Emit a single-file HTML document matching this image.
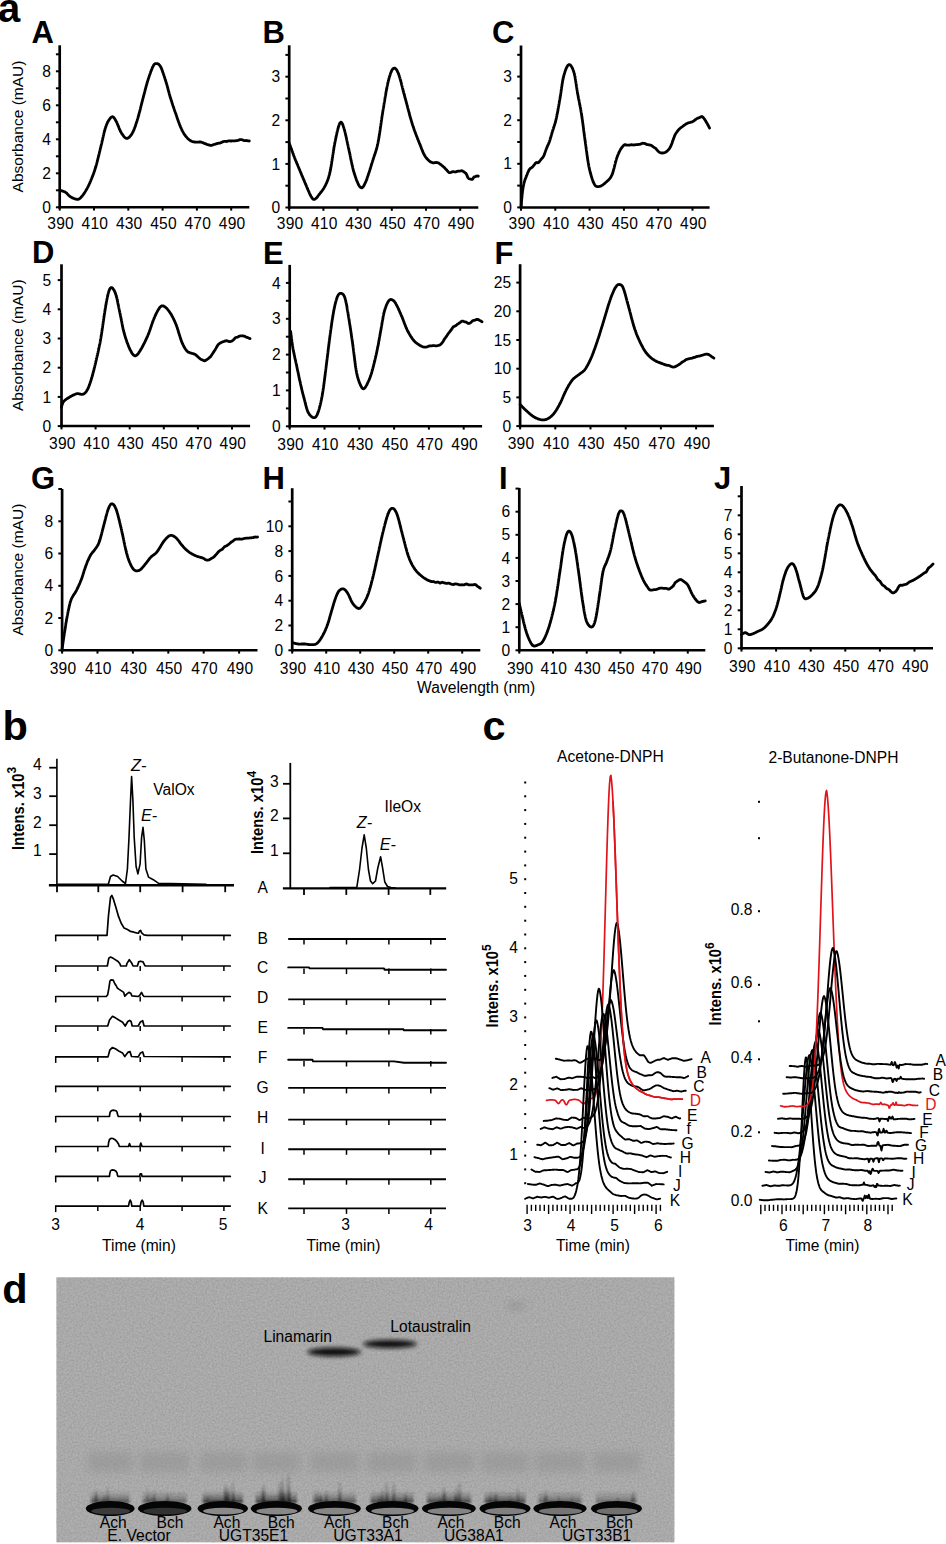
<!DOCTYPE html>
<html><head><meta charset="utf-8"><style>
html,body{margin:0;padding:0;background:#fff;}
body{width:946px;height:1544px;overflow:hidden;}
svg{display:block;font-family:"Liberation Sans", sans-serif;}
</style></head><body>
<svg width="946" height="1544" viewBox="0 0 946 1544">
<rect width="946" height="1544" fill="#fff"/>
<text x="-2" y="21.6" font-size="40" text-anchor="start" font-weight="bold" font-style="normal" fill="#000" >a</text>
<line x1="59.7" y1="45.3" x2="59.7" y2="208.5" stroke="#000" stroke-width="2.7" stroke-linecap="butt"/>
<line x1="58.5" y1="207.3" x2="249.3" y2="207.3" stroke="#000" stroke-width="2.5" stroke-linecap="butt"/>
<line x1="55.9" y1="207.3" x2="59.7" y2="207.3" stroke="#000" stroke-width="2" stroke-linecap="butt"/>
<line x1="55.9" y1="173.3" x2="59.7" y2="173.3" stroke="#000" stroke-width="2" stroke-linecap="butt"/>
<line x1="55.9" y1="139.3" x2="59.7" y2="139.3" stroke="#000" stroke-width="2" stroke-linecap="butt"/>
<line x1="55.9" y1="105.3" x2="59.7" y2="105.3" stroke="#000" stroke-width="2" stroke-linecap="butt"/>
<line x1="55.9" y1="71.3" x2="59.7" y2="71.3" stroke="#000" stroke-width="2" stroke-linecap="butt"/>
<line x1="55.9" y1="190.3" x2="59.7" y2="190.3" stroke="#000" stroke-width="2" stroke-linecap="butt"/>
<line x1="55.9" y1="156.3" x2="59.7" y2="156.3" stroke="#000" stroke-width="2" stroke-linecap="butt"/>
<line x1="55.9" y1="122.3" x2="59.7" y2="122.3" stroke="#000" stroke-width="2" stroke-linecap="butt"/>
<line x1="55.9" y1="88.3" x2="59.7" y2="88.3" stroke="#000" stroke-width="2" stroke-linecap="butt"/>
<line x1="55.9" y1="54.3" x2="59.7" y2="54.3" stroke="#000" stroke-width="2" stroke-linecap="butt"/>
<text x="51" y="212.9" font-size="15.6" text-anchor="end" font-weight="normal" font-style="normal" fill="#000" >0</text>
<text x="51" y="178.9" font-size="15.6" text-anchor="end" font-weight="normal" font-style="normal" fill="#000" >2</text>
<text x="51" y="144.9" font-size="15.6" text-anchor="end" font-weight="normal" font-style="normal" fill="#000" >4</text>
<text x="51" y="110.9" font-size="15.6" text-anchor="end" font-weight="normal" font-style="normal" fill="#000" >6</text>
<text x="51" y="76.9" font-size="15.6" text-anchor="end" font-weight="normal" font-style="normal" fill="#000" >8</text>
<line x1="59.7" y1="207.3" x2="59.7" y2="210.6" stroke="#000" stroke-width="2" stroke-linecap="butt"/>
<text x="60.6" y="228.6" font-size="15.6" text-anchor="middle" font-weight="normal" font-style="normal" fill="#000" letter-spacing="0.2">390</text>
<line x1="94" y1="207.3" x2="94" y2="210.6" stroke="#000" stroke-width="2" stroke-linecap="butt"/>
<text x="94.9" y="228.6" font-size="15.6" text-anchor="middle" font-weight="normal" font-style="normal" fill="#000" letter-spacing="0.2">410</text>
<line x1="128.3" y1="207.3" x2="128.3" y2="210.6" stroke="#000" stroke-width="2" stroke-linecap="butt"/>
<text x="129.2" y="228.6" font-size="15.6" text-anchor="middle" font-weight="normal" font-style="normal" fill="#000" letter-spacing="0.2">430</text>
<line x1="162.6" y1="207.3" x2="162.6" y2="210.6" stroke="#000" stroke-width="2" stroke-linecap="butt"/>
<text x="163.5" y="228.6" font-size="15.6" text-anchor="middle" font-weight="normal" font-style="normal" fill="#000" letter-spacing="0.2">450</text>
<line x1="196.9" y1="207.3" x2="196.9" y2="210.6" stroke="#000" stroke-width="2" stroke-linecap="butt"/>
<text x="197.8" y="228.6" font-size="15.6" text-anchor="middle" font-weight="normal" font-style="normal" fill="#000" letter-spacing="0.2">470</text>
<line x1="231.2" y1="207.3" x2="231.2" y2="210.6" stroke="#000" stroke-width="2" stroke-linecap="butt"/>
<text x="232.1" y="228.6" font-size="15.6" text-anchor="middle" font-weight="normal" font-style="normal" fill="#000" letter-spacing="0.2">490</text>
<text x="31.5" y="43.2" font-size="31" text-anchor="start" font-weight="bold" font-style="normal" fill="#000" >A</text>
<path d="M59.5,190.2 L59.8,190.3 L60.2,190.4 L60.6,190.5 L61.1,190.6 L61.6,190.8 L62.1,190.9 L62.7,191.1 L63.3,191.3 L63.9,191.5 L64.4,191.7 L64.9,191.9 L65.4,192.2 L65.8,192.5 L66.2,192.8 L66.6,193.1 L67,193.5 L67.3,193.9 L67.7,194.3 L68.1,194.7 L68.4,195.1 L68.8,195.5 L69.2,195.8 L69.6,196.2 L70,196.5 L70.4,196.8 L70.9,197.1 L71.3,197.3 L71.8,197.6 L72.4,197.9 L72.9,198.1 L73.4,198.3 L73.9,198.5 L74.5,198.7 L75,198.9 L75.5,199 L75.9,199.2 L76.4,199.2 L76.8,199.3 L77.4,199.3 L77.9,199.3 L78.4,199.3 L78.8,199.1 L79.2,198.9 L79.6,198.6 L80.1,198.3 L80.6,197.8 L80.9,197.5 L81.1,197.3 L81.4,196.9 L81.7,196.6 L82,196.3 L82.3,195.9 L82.6,195.5 L82.9,195.1 L83.2,194.7 L83.5,194.2 L83.9,193.8 L84.2,193.3 L84.5,192.9 L84.8,192.4 L85.1,191.9 L85.4,191.4 L85.7,190.9 L85.9,190.5 L86.2,190.1 L86.4,189.7 L86.6,189.3 L86.8,188.9 L87.1,188.5 L87.3,188.1 L87.5,187.6 L87.7,187.2 L88,186.7 L88.2,186.3 L88.4,185.8 L88.7,185.4 L88.9,184.9 L89.1,184.4 L89.3,183.9 L89.6,183.4 L89.8,182.9 L90,182.4 L90.2,181.9 L90.5,181.3 L90.7,180.8 L90.9,180.4 L91,180 L91.2,179.5 L91.4,179.1 L91.6,178.7 L91.7,178.3 L91.9,177.8 L92.1,177.4 L92.3,177 L92.5,176.5 L92.6,176.1 L92.8,175.6 L93,175.1 L93.2,174.7 L93.3,174.2 L93.5,173.7 L93.7,173.2 L93.9,172.7 L94,172.2 L94.2,171.7 L94.4,171.2 L94.6,170.7 L94.7,170.2 L94.9,169.6 L95.1,169.1 L95.3,168.5 L95.4,168 L95.6,167.4 L95.8,166.8 L95.9,166.4 L96,165.9 L96.2,165.5 L96.3,165.1 L96.4,164.6 L96.5,164.2 L96.7,163.7 L96.8,163.2 L96.9,162.8 L97,162.3 L97.2,161.8 L97.3,161.3 L97.4,160.8 L97.5,160.3 L97.7,159.8 L97.8,159.3 L97.9,158.8 L98,158.3 L98.2,157.8 L98.3,157.3 L98.4,156.8 L98.5,156.3 L98.7,155.8 L98.8,155.2 L98.9,154.7 L99,154.2 L99.2,153.7 L99.3,153.2 L99.4,152.6 L99.5,152.1 L99.7,151.6 L99.8,151.1 L99.9,150.6 L100,150 L100.2,149.5 L100.3,149 L100.4,148.5 L100.5,148 L100.7,147.5 L100.8,147 L100.9,146.5 L101,146 L101.1,145.5 L101.3,145 L101.4,144.5 L101.5,144 L101.6,143.4 L101.8,142.9 L101.9,142.4 L102,141.8 L102.1,141.3 L102.2,140.8 L102.4,140.2 L102.5,139.7 L102.6,139.1 L102.7,138.6 L102.9,138.1 L103,137.5 L103.1,137 L103.2,136.5 L103.3,135.9 L103.5,135.4 L103.6,134.9 L103.7,134.4 L103.8,133.8 L104,133.3 L104.1,132.8 L104.2,132.3 L104.3,131.8 L104.5,131.3 L104.6,130.9 L104.7,130.4 L104.8,129.9 L105,129.5 L105.1,129 L105.2,128.6 L105.3,128.2 L105.5,127.7 L105.6,127.3 L105.7,126.9 L105.9,126.6 L106,126.2 L106.3,125.5 L106.5,124.8 L106.8,124.2 L107.1,123.5 L107.4,122.9 L107.6,122.3 L107.9,121.8 L108.2,121.2 L108.5,120.7 L108.8,120.2 L109.1,119.8 L109.4,119.4 L109.7,119 L110,118.6 L110.2,118.2 L110.5,117.9 L110.8,117.7 L111,117.4 L111.3,117.2 L111.6,117 L111.8,116.9 L112.2,116.8 L112.6,116.7 L113,116.9 L113.3,117.1 L113.7,117.4 L114,117.8 L114.3,118.2 L114.7,118.7 L115,119.3 L115.4,119.9 L115.7,120.5 L116.1,121.2 L116.3,121.5 L116.5,121.9 L116.7,122.3 L116.9,122.8 L117.1,123.2 L117.3,123.7 L117.5,124.2 L117.7,124.7 L117.9,125.2 L118.1,125.7 L118.4,126.3 L118.6,126.8 L118.8,127.3 L119,127.9 L119.2,128.4 L119.4,129 L119.7,129.5 L119.9,130 L120.1,130.5 L120.3,130.9 L120.5,131.4 L120.8,131.8 L121,132.2 L121.2,132.6 L121.5,133.1 L121.9,133.7 L122.2,134.2 L122.6,134.7 L122.9,135.2 L123.3,135.7 L123.6,136.1 L124,136.6 L124.3,137 L124.7,137.3 L125,137.6 L125.4,137.9 L125.7,138.1 L126.1,138.3 L126.4,138.4 L126.8,138.4 L127.2,138.4 L127.5,138.3 L127.9,138.1 L128.3,138 L128.6,137.7 L129,137.4 L129.4,137.1 L129.7,136.7 L130.1,136.3 L130.5,135.9 L130.8,135.4 L131.2,134.9 L131.6,134.4 L131.9,133.8 L132.3,133.2 L132.6,132.6 L132.8,132.3 L133,131.9 L133.2,131.5 L133.3,131.1 L133.5,130.7 L133.7,130.3 L133.9,129.9 L134.1,129.5 L134.2,129 L134.4,128.6 L134.6,128.1 L134.8,127.6 L134.9,127.2 L135.1,126.7 L135.3,126.2 L135.5,125.7 L135.6,125.2 L135.8,124.6 L136,124.1 L136.1,123.6 L136.3,123 L136.5,122.5 L136.7,122 L136.8,121.4 L137,120.9 L137.2,120.3 L137.4,119.7 L137.5,119.2 L137.7,118.6 L137.8,118.2 L138,117.7 L138.1,117.3 L138.2,116.9 L138.3,116.4 L138.5,116 L138.6,115.5 L138.7,115 L138.9,114.6 L139,114.1 L139.1,113.6 L139.2,113.1 L139.4,112.6 L139.5,112.1 L139.6,111.7 L139.8,111.2 L139.9,110.7 L140,110.2 L140.1,109.7 L140.3,109.2 L140.4,108.7 L140.5,108.2 L140.6,107.6 L140.8,107.1 L140.9,106.6 L141,106.1 L141.2,105.6 L141.3,105.1 L141.4,104.6 L141.5,104.1 L141.7,103.6 L141.8,103.1 L141.9,102.6 L142.1,102.1 L142.2,101.6 L142.3,101.1 L142.4,100.6 L142.6,100.1 L142.7,99.6 L142.8,99.1 L143,98.6 L143.1,98.1 L143.2,97.6 L143.3,97.1 L143.5,96.6 L143.6,96.1 L143.7,95.6 L143.9,95.1 L144,94.6 L144.1,94.1 L144.3,93.6 L144.4,93.1 L144.5,92.6 L144.7,92.1 L144.8,91.6 L144.9,91 L145,90.5 L145.2,90 L145.3,89.5 L145.4,89 L145.6,88.5 L145.7,88 L145.8,87.5 L146,87.1 L146.1,86.6 L146.2,86.1 L146.4,85.6 L146.5,85.1 L146.6,84.6 L146.8,84.2 L146.9,83.7 L147,83.2 L147.1,82.8 L147.3,82.3 L147.4,81.9 L147.5,81.5 L147.7,81 L147.8,80.6 L148,80 L148.2,79.5 L148.3,78.9 L148.5,78.3 L148.7,77.8 L148.9,77.2 L149.1,76.6 L149.3,76.1 L149.4,75.5 L149.6,75 L149.8,74.4 L150,73.9 L150.2,73.4 L150.4,72.9 L150.6,72.3 L150.7,71.8 L150.9,71.4 L151.1,70.9 L151.3,70.4 L151.5,70 L151.6,69.5 L151.8,69.1 L152,68.7 L152.1,68.3 L152.3,67.9 L152.4,67.6 L152.6,67.2 L152.8,66.9 L152.9,66.6 L153.4,65.7 L153.8,64.9 L154.2,64.4 L154.6,64 L155,63.8 L155.3,63.7 L155.8,63.6 L156.2,63.6 L156.6,63.6 L157,63.6 L157.4,63.7 L157.8,63.8 L158.2,64 L158.7,64.3 L159.1,64.7 L159.6,65.2 L160,65.8 L160.5,66.6 L160.7,66.9 L160.8,67.2 L161,67.6 L161.2,67.9 L161.3,68.3 L161.5,68.7 L161.7,69.1 L161.9,69.6 L162,70 L162.2,70.5 L162.4,70.9 L162.6,71.4 L162.7,71.9 L162.9,72.4 L163.1,72.9 L163.3,73.5 L163.5,74 L163.6,74.5 L163.8,75.1 L164,75.6 L164.2,76.2 L164.4,76.7 L164.5,77.3 L164.7,77.8 L164.9,78.4 L165.1,78.9 L165.2,79.5 L165.4,80.1 L165.6,80.6 L165.7,81 L165.9,81.5 L166,82 L166.2,82.4 L166.3,82.9 L166.4,83.4 L166.6,83.8 L166.7,84.3 L166.9,84.8 L167,85.3 L167.1,85.8 L167.3,86.3 L167.4,86.8 L167.5,87.3 L167.7,87.8 L167.8,88.3 L168,88.9 L168.1,89.4 L168.2,89.9 L168.4,90.4 L168.5,90.9 L168.7,91.4 L168.8,91.9 L168.9,92.4 L169.1,92.9 L169.2,93.5 L169.3,94 L169.5,94.5 L169.6,95 L169.8,95.4 L169.9,95.9 L170,96.4 L170.2,96.9 L170.3,97.4 L170.5,97.8 L170.6,98.3 L170.8,98.8 L170.9,99.3 L171.1,99.8 L171.2,100.3 L171.4,100.8 L171.6,101.3 L171.7,101.8 L171.9,102.3 L172,102.8 L172.2,103.3 L172.3,103.8 L172.5,104.3 L172.7,104.8 L172.8,105.2 L173,105.7 L173.1,106.2 L173.3,106.7 L173.5,107.1 L173.6,107.6 L173.8,108.1 L173.9,108.5 L174.1,109 L174.3,109.5 L174.4,109.9 L174.6,110.4 L174.7,110.9 L174.9,111.3 L175.1,111.8 L175.2,112.2 L175.4,112.7 L175.5,113.1 L175.7,113.6 L175.9,114.1 L176.1,114.6 L176.2,115.1 L176.4,115.6 L176.6,116.1 L176.8,116.7 L176.9,117.2 L177.1,117.7 L177.3,118.2 L177.5,118.7 L177.6,119.2 L177.8,119.7 L178,120.2 L178.2,120.7 L178.3,121.2 L178.5,121.7 L178.7,122.2 L178.9,122.7 L179,123.1 L179.2,123.6 L179.4,124.1 L179.6,124.5 L179.7,125 L179.9,125.4 L180.1,125.9 L180.3,126.3 L180.4,126.7 L180.6,127.1 L180.8,127.5 L181.1,128.1 L181.3,128.6 L181.6,129.1 L181.8,129.7 L182,130.2 L182.3,130.7 L182.5,131.1 L182.8,131.6 L183,132.1 L183.3,132.5 L183.5,132.9 L183.8,133.4 L184,133.8 L184.3,134.2 L184.5,134.6 L184.8,134.9 L185.1,135.3 L185.3,135.7 L185.6,136 L185.9,136.4 L186.3,136.8 L186.6,137.2 L187,137.7 L187.4,138 L187.7,138.4 L188.1,138.8 L188.5,139.1 L188.9,139.5 L189.3,139.8 L189.7,140.1 L190.1,140.4 L190.5,140.6 L190.9,140.9 L191.3,141.1 L191.8,141.3 L192.2,141.5 L192.7,141.7 L193.2,141.8 L193.7,141.9 L194.2,142 L194.7,142 L195.3,142.1 L195.8,142.1 L196.3,142.1 L196.9,142.1 L197.4,142.1 L197.9,142.1 L198.4,142.1 L198.9,142 L199.4,142 L199.8,141.9 L200.4,142 L201,142.1 L201.5,142.2 L202,142.4 L202.5,142.5 L202.9,142.7 L203.4,142.9 L203.9,143.2 L204.4,143.4 L204.9,143.6 L205.4,143.8 L205.9,143.9 L206.4,144.1 L206.8,144.4 L207.3,144.5 L207.8,144.7 L208.3,144.8 L208.9,144.9 L209.4,145.1 L209.9,145.3 L210.5,145.4 L211,145.5 L211.4,145.4 L211.9,145.3 L212.4,145.1 L212.9,144.9 L213.4,144.6 L213.9,144.5 L214.4,144.4 L215,144.3 L215.5,144.1 L216,143.9 L216.5,143.7 L217.1,143.6 L217.6,143.4 L218.1,143.3 L218.6,143.2 L219.1,143.2 L219.6,143.1 L220.1,143.1 L220.6,142.8 L221.1,142.6 L221.6,142.4 L222.1,142.1 L222.6,141.9 L223.2,141.7 L223.7,141.5 L224.2,141.4 L224.7,141.3 L225.2,141.4 L225.7,141.4 L226.2,141.5 L226.7,141.5 L227.2,141.3 L227.7,141.2 L228.2,141 L228.7,140.8 L229.3,140.9 L229.8,140.9 L230.3,141 L230.8,141 L231.3,141 L231.8,141 L232.3,140.9 L232.8,140.9 L233.3,140.8 L233.8,140.8 L234.3,140.8 L234.8,140.8 L235.3,140.8 L235.8,140.7 L236.3,140.7 L236.8,140.6 L237.3,140.6 L237.8,140.5 L238.3,140.3 L238.8,140.1 L239.3,139.9 L239.9,139.7 L240.4,139.7 L240.9,139.7 L241.4,139.7 L242,139.7 L242.6,140 L243.2,140.2 L243.8,140.5 L244.4,140.7 L245,140.6 L245.6,140.6 L246.2,140.5 L246.8,140.6 L247.3,140.7 L247.8,140.8 L248.2,140.8 L248.7,140.9 L249,141 L249.3,141" stroke="#000" stroke-width="2.8" fill="none" stroke-linejoin="round" stroke-linecap="round" />
<line x1="289.2" y1="45.3" x2="289.2" y2="208.7" stroke="#000" stroke-width="2.7" stroke-linecap="butt"/>
<line x1="288" y1="207.5" x2="478.3" y2="207.5" stroke="#000" stroke-width="2.5" stroke-linecap="butt"/>
<line x1="285.4" y1="207.5" x2="289.2" y2="207.5" stroke="#000" stroke-width="2" stroke-linecap="butt"/>
<line x1="285.4" y1="163.9" x2="289.2" y2="163.9" stroke="#000" stroke-width="2" stroke-linecap="butt"/>
<line x1="285.4" y1="120.3" x2="289.2" y2="120.3" stroke="#000" stroke-width="2" stroke-linecap="butt"/>
<line x1="285.4" y1="76.7" x2="289.2" y2="76.7" stroke="#000" stroke-width="2" stroke-linecap="butt"/>
<line x1="285.4" y1="185.7" x2="289.2" y2="185.7" stroke="#000" stroke-width="2" stroke-linecap="butt"/>
<line x1="285.4" y1="142.1" x2="289.2" y2="142.1" stroke="#000" stroke-width="2" stroke-linecap="butt"/>
<line x1="285.4" y1="98.5" x2="289.2" y2="98.5" stroke="#000" stroke-width="2" stroke-linecap="butt"/>
<line x1="285.4" y1="54.9" x2="289.2" y2="54.9" stroke="#000" stroke-width="2" stroke-linecap="butt"/>
<text x="280.2" y="213.1" font-size="15.6" text-anchor="end" font-weight="normal" font-style="normal" fill="#000" >0</text>
<text x="280.2" y="169.5" font-size="15.6" text-anchor="end" font-weight="normal" font-style="normal" fill="#000" >1</text>
<text x="280.2" y="125.9" font-size="15.6" text-anchor="end" font-weight="normal" font-style="normal" fill="#000" >2</text>
<text x="280.2" y="82.3" font-size="15.6" text-anchor="end" font-weight="normal" font-style="normal" fill="#000" >3</text>
<line x1="289.2" y1="207.5" x2="289.2" y2="210.8" stroke="#000" stroke-width="2" stroke-linecap="butt"/>
<text x="290.1" y="228.8" font-size="15.6" text-anchor="middle" font-weight="normal" font-style="normal" fill="#000" letter-spacing="0.2">390</text>
<line x1="323.4" y1="207.5" x2="323.4" y2="210.8" stroke="#000" stroke-width="2" stroke-linecap="butt"/>
<text x="324.3" y="228.8" font-size="15.6" text-anchor="middle" font-weight="normal" font-style="normal" fill="#000" letter-spacing="0.2">410</text>
<line x1="357.6" y1="207.5" x2="357.6" y2="210.8" stroke="#000" stroke-width="2" stroke-linecap="butt"/>
<text x="358.5" y="228.8" font-size="15.6" text-anchor="middle" font-weight="normal" font-style="normal" fill="#000" letter-spacing="0.2">430</text>
<line x1="391.8" y1="207.5" x2="391.8" y2="210.8" stroke="#000" stroke-width="2" stroke-linecap="butt"/>
<text x="392.7" y="228.8" font-size="15.6" text-anchor="middle" font-weight="normal" font-style="normal" fill="#000" letter-spacing="0.2">450</text>
<line x1="426" y1="207.5" x2="426" y2="210.8" stroke="#000" stroke-width="2" stroke-linecap="butt"/>
<text x="426.9" y="228.8" font-size="15.6" text-anchor="middle" font-weight="normal" font-style="normal" fill="#000" letter-spacing="0.2">470</text>
<line x1="460.2" y1="207.5" x2="460.2" y2="210.8" stroke="#000" stroke-width="2" stroke-linecap="butt"/>
<text x="461.1" y="228.8" font-size="15.6" text-anchor="middle" font-weight="normal" font-style="normal" fill="#000" letter-spacing="0.2">490</text>
<text x="262.5" y="43.3" font-size="31" text-anchor="start" font-weight="bold" font-style="normal" fill="#000" >B</text>
<path d="M289.3,143.3 L289.4,143.6 L289.5,143.8 L289.6,144.2 L289.7,144.5 L289.9,144.9 L290,145.3 L290.2,145.7 L290.3,146.1 L290.5,146.6 L290.6,147 L290.8,147.5 L291,148 L291.2,148.6 L291.4,149.1 L291.6,149.6 L291.7,150.2 L291.9,150.7 L292.2,151.3 L292.4,151.8 L292.6,152.4 L292.8,153 L293,153.5 L293.2,154.1 L293.4,154.6 L293.6,155.2 L293.8,155.7 L294,156.3 L294.2,156.8 L294.4,157.3 L294.6,157.8 L294.8,158.2 L294.9,158.7 L295.1,159.1 L295.3,159.6 L295.5,160.1 L295.7,160.5 L295.9,161 L296.1,161.5 L296.3,162 L296.5,162.4 L296.7,162.9 L296.9,163.4 L297.1,163.9 L297.3,164.3 L297.5,164.8 L297.7,165.3 L297.9,165.8 L298.1,166.3 L298.3,166.7 L298.5,167.2 L298.7,167.7 L298.9,168.2 L299.1,168.7 L299.3,169.2 L299.5,169.6 L299.7,170.1 L299.9,170.6 L300.1,171.1 L300.3,171.5 L300.5,172 L300.7,172.5 L300.9,173 L301.1,173.5 L301.3,174 L301.5,174.4 L301.7,175 L301.9,175.5 L302.1,176 L302.4,176.5 L302.6,177 L302.8,177.5 L303,178 L303.2,178.5 L303.4,179 L303.6,179.5 L303.9,180.1 L304.1,180.6 L304.3,181.1 L304.5,181.6 L304.7,182 L304.9,182.5 L305.1,183 L305.3,183.5 L305.5,184 L305.7,184.4 L305.9,184.9 L306.1,185.3 L306.3,185.7 L306.4,186.1 L306.6,186.6 L306.8,187 L306.9,187.3 L307.1,187.7 L307.4,188.4 L307.6,189 L307.9,189.6 L308.1,190.1 L308.4,190.7 L308.6,191.2 L308.8,191.7 L309,192.1 L309.2,192.6 L309.4,193 L309.5,193.4 L309.7,193.8 L309.9,194.2 L310.1,194.6 L310.2,194.9 L310.4,195.3 L310.6,195.6 L310.9,196.2 L311.3,196.8 L311.6,197.3 L311.9,197.8 L312.2,198.2 L312.5,198.6 L312.8,198.9 L313.1,199.1 L313.4,199.3 L313.9,199.4 L314.4,199.4 L314.8,199.2 L315.3,198.9 L315.8,198.5 L316.2,198.2 L316.5,197.9 L316.8,197.7 L317,197.4 L317.3,197.1 L317.6,196.6 L318,196 L318.5,195.3 L318.7,195 L318.9,194.7 L319.2,194.4 L319.5,194.1 L319.7,193.7 L320,193.4 L320.3,193 L320.7,192.6 L321,192.2 L321.3,191.8 L321.6,191.4 L322,190.9 L322.3,190.5 L322.6,190 L323,189.6 L323.3,189.1 L323.6,188.6 L323.9,188.1 L324.2,187.6 L324.5,187 L324.8,186.5 L325,186.1 L325.2,185.7 L325.4,185.3 L325.6,185 L325.8,184.6 L325.9,184.2 L326.1,183.8 L326.3,183.5 L326.5,183.1 L326.6,182.7 L326.8,182.3 L327,181.9 L327.2,181.5 L327.3,181.1 L327.5,180.6 L327.7,180.2 L327.8,179.7 L328,179.2 L328.2,178.7 L328.4,178.2 L328.5,177.7 L328.7,177.1 L328.9,176.6 L329,175.9 L329.2,175.3 L329.4,174.7 L329.6,174 L329.7,173.2 L329.9,172.5 L330,172.1 L330.1,171.7 L330.2,171.4 L330.2,171 L330.3,170.5 L330.4,170.1 L330.5,169.7 L330.6,169.2 L330.7,168.8 L330.7,168.3 L330.8,167.9 L330.9,167.4 L331,166.9 L331.1,166.4 L331.2,165.9 L331.2,165.4 L331.3,164.9 L331.4,164.4 L331.5,163.9 L331.6,163.3 L331.7,162.8 L331.7,162.3 L331.8,161.7 L331.9,161.2 L332,160.7 L332.1,160.1 L332.2,159.6 L332.2,159 L332.3,158.5 L332.4,157.9 L332.5,157.3 L332.6,156.8 L332.7,156.2 L332.7,155.7 L332.8,155.1 L332.9,154.6 L333,154 L333.1,153.5 L333.2,152.9 L333.3,152.4 L333.3,151.8 L333.4,151.3 L333.5,150.7 L333.6,150.2 L333.7,149.7 L333.8,149.2 L333.8,148.6 L333.9,148.1 L334,147.6 L334.1,147.1 L334.2,146.6 L334.3,146.1 L334.3,145.7 L334.4,145.2 L334.5,144.7 L334.6,144.3 L334.7,143.8 L334.8,143.4 L334.8,142.9 L334.9,142.5 L335,142.1 L335.1,141.5 L335.3,140.8 L335.4,140.2 L335.5,139.6 L335.7,138.9 L335.8,138.3 L335.9,137.7 L336.1,137 L336.2,136.4 L336.3,135.8 L336.4,135.2 L336.6,134.6 L336.7,134 L336.8,133.4 L337,132.8 L337.1,132.3 L337.2,131.7 L337.4,131.1 L337.5,130.6 L337.6,130.1 L337.8,129.5 L337.9,129 L338,128.5 L338.2,128.1 L338.3,127.6 L338.4,127.2 L338.5,126.7 L338.7,126.3 L338.8,125.9 L338.9,125.5 L339,125.2 L339.2,124.8 L339.3,124.5 L339.4,124.2 L339.5,123.9 L339.7,123.6 L339.8,123.4 L339.9,123.2 L340,123 L340.4,122.5 L340.7,122.3 L341,122.2 L341.3,122.3 L341.6,122.6 L341.9,123 L342.3,123.6 L342.6,124.3 L342.9,125.1 L343.2,126 L343.5,127 L343.9,128.1 L344,128.4 L344.1,128.7 L344.2,129.1 L344.3,129.4 L344.4,129.8 L344.5,130.2 L344.6,130.6 L344.7,131 L344.8,131.4 L345,131.9 L345.1,132.3 L345.2,132.8 L345.3,133.2 L345.4,133.7 L345.5,134.2 L345.6,134.7 L345.7,135.2 L345.9,135.7 L346,136.2 L346.1,136.7 L346.2,137.3 L346.3,137.8 L346.4,138.3 L346.6,138.9 L346.7,139.4 L346.8,140 L346.9,140.5 L347,141.1 L347.1,141.6 L347.3,142.2 L347.4,142.7 L347.5,143.3 L347.6,143.8 L347.7,144.4 L347.9,144.9 L348,145.5 L348.1,146 L348.2,146.6 L348.3,147.1 L348.4,147.6 L348.6,148.2 L348.7,148.7 L348.8,149.2 L348.9,149.7 L349,150.2 L349.1,150.7 L349.2,151.2 L349.3,151.7 L349.4,152.2 L349.6,152.7 L349.7,153.2 L349.8,153.7 L349.9,154.2 L350,154.7 L350.1,155.2 L350.2,155.8 L350.3,156.3 L350.4,156.8 L350.5,157.3 L350.6,157.9 L350.7,158.4 L350.8,158.9 L350.9,159.4 L351,160 L351.2,160.5 L351.3,161 L351.4,161.5 L351.5,162.1 L351.6,162.6 L351.7,163.1 L351.8,163.6 L351.9,164.1 L352,164.6 L352.1,165.1 L352.2,165.6 L352.4,166.1 L352.5,166.6 L352.6,167.1 L352.7,167.6 L352.8,168.1 L352.9,168.5 L353,169 L353.2,169.5 L353.3,169.9 L353.4,170.4 L353.5,170.8 L353.6,171.2 L353.8,171.7 L353.9,172.1 L354,172.5 L354.2,173.1 L354.4,173.7 L354.6,174.3 L354.8,174.9 L355,175.5 L355.2,176.1 L355.4,176.7 L355.6,177.3 L355.8,177.9 L356,178.5 L356.2,179.1 L356.4,179.7 L356.6,180.2 L356.8,180.8 L357,181.3 L357.3,181.8 L357.5,182.3 L357.7,182.8 L357.9,183.3 L358.1,183.7 L358.3,184.2 L358.5,184.6 L358.7,185 L358.9,185.3 L359.1,185.7 L359.3,186 L359.5,186.3 L359.7,186.6 L359.9,186.8 L360.1,187 L360.3,187.2 L360.7,187.5 L361.1,187.7 L361.5,187.8 L361.9,187.8 L362.2,187.7 L362.6,187.4 L362.9,187 L363.3,186.6 L363.7,186 L364.1,185.3 L364.5,184.5 L364.9,183.6 L365.4,182.6 L365.5,182.3 L365.7,182 L365.8,181.7 L366,181.3 L366.1,181 L366.2,180.6 L366.4,180.2 L366.6,179.8 L366.7,179.4 L366.9,179 L367,178.5 L367.2,178.1 L367.3,177.6 L367.5,177.1 L367.7,176.6 L367.8,176.2 L368,175.7 L368.2,175.2 L368.3,174.6 L368.5,174.1 L368.7,173.6 L368.9,173.1 L369,172.6 L369.2,172 L369.4,171.5 L369.5,170.9 L369.7,170.4 L369.9,169.9 L370.1,169.3 L370.2,168.8 L370.4,168.2 L370.6,167.7 L370.7,167.2 L370.9,166.6 L371.1,166.1 L371.2,165.6 L371.4,165 L371.5,164.5 L371.7,164 L371.8,163.5 L372,163 L372.2,162.5 L372.3,162.1 L372.4,161.6 L372.6,161.1 L372.7,160.7 L372.9,160.2 L373,159.8 L373.2,159.2 L373.3,158.7 L373.5,158.2 L373.7,157.7 L373.8,157.2 L374,156.7 L374.1,156.3 L374.3,155.8 L374.5,155.4 L374.6,154.9 L374.7,154.5 L374.9,154.1 L375,153.7 L375.2,153.3 L375.3,152.8 L375.4,152.4 L375.6,152 L375.7,151.6 L375.8,151.2 L376,150.7 L376.1,150.3 L376.2,149.9 L376.4,149.4 L376.5,148.9 L376.6,148.5 L376.8,148 L376.9,147.5 L377,147 L377.1,146.4 L377.3,145.9 L377.4,145.3 L377.5,144.7 L377.7,144.1 L377.8,143.5 L378,142.8 L378.1,142.1 L378.2,141.7 L378.3,141.3 L378.3,140.9 L378.4,140.5 L378.5,140.1 L378.6,139.7 L378.6,139.2 L378.7,138.8 L378.8,138.3 L378.9,137.9 L379,137.4 L379,137 L379.1,136.5 L379.2,136 L379.3,135.5 L379.3,135.1 L379.4,134.6 L379.5,134.1 L379.6,133.6 L379.6,133.1 L379.7,132.6 L379.8,132 L379.9,131.5 L380,131 L380,130.5 L380.1,130 L380.2,129.4 L380.3,128.9 L380.3,128.4 L380.4,127.8 L380.5,127.3 L380.6,126.8 L380.6,126.2 L380.7,125.7 L380.8,125.2 L380.9,124.6 L381,124.1 L381,123.5 L381.1,123 L381.2,122.5 L381.3,121.9 L381.3,121.4 L381.4,120.8 L381.5,120.3 L381.6,119.8 L381.7,119.2 L381.7,118.7 L381.8,118.1 L381.9,117.6 L382,117.1 L382,116.6 L382.1,116 L382.2,115.5 L382.3,115 L382.4,114.5 L382.4,114 L382.5,113.5 L382.6,113 L382.7,112.5 L382.7,112 L382.8,111.5 L382.9,111 L383,110.5 L383,110 L383.1,109.6 L383.2,109.1 L383.3,108.6 L383.4,108 L383.5,107.5 L383.6,106.9 L383.7,106.4 L383.7,105.8 L383.8,105.3 L383.9,104.7 L384,104.2 L384.1,103.6 L384.2,103.1 L384.3,102.5 L384.4,102 L384.5,101.4 L384.6,100.9 L384.7,100.3 L384.8,99.8 L384.8,99.2 L384.9,98.7 L385,98.1 L385.1,97.6 L385.2,97.1 L385.3,96.5 L385.4,96 L385.5,95.5 L385.6,94.9 L385.7,94.4 L385.8,93.9 L385.8,93.4 L385.9,92.8 L386,92.3 L386.1,91.8 L386.2,91.3 L386.3,90.8 L386.4,90.3 L386.5,89.8 L386.6,89.3 L386.7,88.9 L386.8,88.4 L386.9,87.9 L386.9,87.4 L387,87 L387.1,86.5 L387.2,86.1 L387.3,85.6 L387.4,85.2 L387.5,84.8 L387.6,84.3 L387.7,83.9 L387.8,83.5 L387.8,83.1 L387.9,82.7 L388,82.3 L388.1,81.9 L388.2,81.6 L388.3,81.2 L388.5,80.5 L388.7,79.7 L388.9,79 L389,78.3 L389.2,77.7 L389.4,77 L389.6,76.4 L389.8,75.8 L390,75.2 L390.2,74.6 L390.3,74.1 L390.5,73.5 L390.7,73 L390.9,72.5 L391.1,72.1 L391.3,71.7 L391.4,71.2 L391.6,70.9 L391.8,70.5 L392,70.1 L392.2,69.8 L392.4,69.5 L392.6,69.3 L392.7,69 L392.9,68.8 L393.1,68.7 L393.3,68.5 L393.7,68.3 L394,68.1 L394.4,68.1 L394.7,68.1 L395.1,68.3 L395.4,68.5 L395.8,68.8 L396.1,69.2 L396.5,69.7 L396.9,70.3 L397.2,71 L397.6,71.8 L398,72.6 L398.4,73.6 L398.5,73.9 L398.6,74.2 L398.8,74.6 L398.9,74.9 L399,75.2 L399.1,75.6 L399.3,76 L399.4,76.4 L399.5,76.8 L399.6,77.2 L399.8,77.6 L399.9,78 L400,78.5 L400.1,78.9 L400.3,79.4 L400.4,79.9 L400.5,80.3 L400.7,80.8 L400.8,81.3 L400.9,81.8 L401.1,82.3 L401.2,82.8 L401.3,83.3 L401.5,83.8 L401.6,84.4 L401.7,84.9 L401.9,85.4 L402,86 L402.1,86.5 L402.3,87 L402.4,87.6 L402.5,88.1 L402.7,88.7 L402.8,89.2 L403,89.8 L403.1,90.3 L403.2,90.9 L403.4,91.5 L403.5,92 L403.7,92.6 L403.8,93.1 L404,93.7 L404.1,94.2 L404.3,94.8 L404.4,95.3 L404.6,95.9 L404.7,96.4 L404.8,96.8 L404.9,97.3 L405.1,97.8 L405.2,98.2 L405.3,98.7 L405.5,99.2 L405.6,99.6 L405.7,100.1 L405.8,100.6 L406,101.1 L406.1,101.6 L406.2,102.1 L406.4,102.6 L406.5,103.1 L406.6,103.6 L406.8,104.1 L406.9,104.6 L407,105.1 L407.2,105.6 L407.3,106.1 L407.4,106.6 L407.6,107.1 L407.7,107.7 L407.8,108.2 L408,108.7 L408.1,109.2 L408.3,109.7 L408.4,110.2 L408.5,110.8 L408.7,111.3 L408.8,111.8 L409,112.3 L409.1,112.8 L409.2,113.3 L409.4,113.9 L409.5,114.4 L409.6,114.9 L409.8,115.4 L409.9,115.9 L410.1,116.4 L410.2,116.9 L410.3,117.4 L410.5,117.9 L410.6,118.4 L410.8,118.8 L410.9,119.3 L411,119.8 L411.2,120.3 L411.3,120.7 L411.4,121.2 L411.6,121.7 L411.7,122.1 L411.9,122.6 L412,123 L412.1,123.4 L412.3,123.9 L412.4,124.3 L412.6,124.9 L412.8,125.4 L412.9,126 L413.1,126.5 L413.3,127.1 L413.5,127.6 L413.7,128.1 L413.9,128.7 L414,129.2 L414.2,129.7 L414.4,130.2 L414.6,130.8 L414.8,131.3 L415,131.8 L415.2,132.3 L415.3,132.8 L415.5,133.3 L415.7,133.8 L415.9,134.3 L416.1,134.8 L416.3,135.2 L416.5,135.7 L416.6,136.2 L416.8,136.7 L417,137.1 L417.2,137.6 L417.4,138 L417.5,138.5 L417.7,138.9 L417.9,139.4 L418.1,139.8 L418.2,140.2 L418.4,140.6 L418.6,141.1 L418.7,141.5 L418.9,141.9 L419.1,142.3 L419.2,142.7 L419.4,143.1 L419.5,143.5 L419.7,143.9 L419.9,144.2 L420,144.6 L420.3,145.2 L420.5,145.9 L420.7,146.5 L421,147.1 L421.2,147.6 L421.4,148.2 L421.6,148.7 L421.8,149.2 L422,149.7 L422.2,150.2 L422.4,150.7 L422.6,151.2 L422.8,151.6 L422.9,152.1 L423.1,152.5 L423.3,152.9 L423.5,153.3 L423.7,153.7 L423.9,154.1 L424.1,154.5 L424.3,154.9 L424.5,155.3 L424.8,155.6 L425,156 L425.3,156.5 L425.6,157 L426,157.4 L426.3,157.9 L426.6,158.3 L427,158.7 L427.3,159.1 L427.7,159.5 L428,159.8 L428.4,160.2 L428.8,160.5 L429.1,160.8 L429.5,161.1 L429.9,161.4 L430.2,161.7 L430.6,161.9 L431,162.1 L431.4,162.2 L431.9,162.5 L432.4,162.6 L432.9,162.8 L433.4,162.9 L434,162.8 L434.5,162.7 L435.1,162.6 L435.6,162.5 L436.2,162.5 L436.7,162.5 L437.2,162.6 L437.7,162.7 L438.2,162.8 L438.6,163.1 L439,163.3 L439.5,163.7 L440,164.1 L440.3,164.3 L440.7,164.5 L441,164.7 L441.3,164.9 L441.6,165.2 L441.9,165.5 L442.3,165.8 L442.8,166.2 L443.1,166.5 L443.5,166.8 L443.9,167.1 L444.3,167.5 L444.7,167.9 L445.1,168.4 L445.5,168.8 L445.9,169.3 L446.4,169.7 L446.8,170.2 L447.2,170.7 L447.6,171.1 L448,171.6 L448.4,172 L448.8,172.3 L449.1,172.5 L449.8,172.6 L450.3,172.6 L450.8,172.5 L451.2,172.3 L451.7,172 L452.2,171.8 L452.9,171.6 L453.3,171.6 L453.7,171.7 L454.2,171.8 L454.7,171.9 L455.2,172 L455.7,171.9 L456.2,171.7 L456.7,171.5 L457.3,171.4 L457.8,171.2 L458.3,171.1 L458.8,171.1 L459.3,171.1 L459.8,171.1 L460.3,171 L460.8,170.9 L461.4,170.8 L461.9,170.7 L462.4,170.9 L462.9,171.2 L463.5,171.5 L463.9,171.9 L464.4,172.2 L464.8,172.5 L465.2,172.8 L465.6,173.1 L466,173.5 L466.3,174 L466.6,174.5 L466.8,175 L467.1,175.6 L467.3,176.1 L467.4,176.7 L467.7,177.1 L467.9,177.6 L468.2,178 L468.6,178.5 L469.1,178.7 L469.6,178.9 L470.1,179 L470.6,179.1 L471.1,179.2 L471.6,179.4 L472,179.4 L472.4,179.3 L472.7,179 L473,178.5 L473.2,178.1 L473.5,177.7 L473.8,177.3 L474.1,176.9 L474.5,176.8 L475,176.8 L475.6,176.5 L476.2,176.2 L476.9,176 L477.5,176 L477.9,176.1 L478.3,176.2" stroke="#000" stroke-width="2.8" fill="none" stroke-linejoin="round" stroke-linecap="round" />
<line x1="521" y1="45.5" x2="521" y2="208.6" stroke="#000" stroke-width="2.7" stroke-linecap="butt"/>
<line x1="519.8" y1="207.4" x2="709.6" y2="207.4" stroke="#000" stroke-width="2.5" stroke-linecap="butt"/>
<line x1="517.2" y1="207.4" x2="521" y2="207.4" stroke="#000" stroke-width="2" stroke-linecap="butt"/>
<line x1="517.2" y1="163.8" x2="521" y2="163.8" stroke="#000" stroke-width="2" stroke-linecap="butt"/>
<line x1="517.2" y1="120.2" x2="521" y2="120.2" stroke="#000" stroke-width="2" stroke-linecap="butt"/>
<line x1="517.2" y1="76.6" x2="521" y2="76.6" stroke="#000" stroke-width="2" stroke-linecap="butt"/>
<line x1="517.2" y1="185.6" x2="521" y2="185.6" stroke="#000" stroke-width="2" stroke-linecap="butt"/>
<line x1="517.2" y1="142" x2="521" y2="142" stroke="#000" stroke-width="2" stroke-linecap="butt"/>
<line x1="517.2" y1="98.4" x2="521" y2="98.4" stroke="#000" stroke-width="2" stroke-linecap="butt"/>
<line x1="517.2" y1="54.8" x2="521" y2="54.8" stroke="#000" stroke-width="2" stroke-linecap="butt"/>
<text x="512" y="213" font-size="15.6" text-anchor="end" font-weight="normal" font-style="normal" fill="#000" >0</text>
<text x="512" y="169.4" font-size="15.6" text-anchor="end" font-weight="normal" font-style="normal" fill="#000" >1</text>
<text x="512" y="125.8" font-size="15.6" text-anchor="end" font-weight="normal" font-style="normal" fill="#000" >2</text>
<text x="512" y="82.2" font-size="15.6" text-anchor="end" font-weight="normal" font-style="normal" fill="#000" >3</text>
<line x1="521" y1="207.4" x2="521" y2="210.7" stroke="#000" stroke-width="2" stroke-linecap="butt"/>
<text x="521.9" y="228.7" font-size="15.6" text-anchor="middle" font-weight="normal" font-style="normal" fill="#000" letter-spacing="0.2">390</text>
<line x1="555.3" y1="207.4" x2="555.3" y2="210.7" stroke="#000" stroke-width="2" stroke-linecap="butt"/>
<text x="556.2" y="228.7" font-size="15.6" text-anchor="middle" font-weight="normal" font-style="normal" fill="#000" letter-spacing="0.2">410</text>
<line x1="589.6" y1="207.4" x2="589.6" y2="210.7" stroke="#000" stroke-width="2" stroke-linecap="butt"/>
<text x="590.5" y="228.7" font-size="15.6" text-anchor="middle" font-weight="normal" font-style="normal" fill="#000" letter-spacing="0.2">430</text>
<line x1="623.9" y1="207.4" x2="623.9" y2="210.7" stroke="#000" stroke-width="2" stroke-linecap="butt"/>
<text x="624.8" y="228.7" font-size="15.6" text-anchor="middle" font-weight="normal" font-style="normal" fill="#000" letter-spacing="0.2">450</text>
<line x1="658.2" y1="207.4" x2="658.2" y2="210.7" stroke="#000" stroke-width="2" stroke-linecap="butt"/>
<text x="659.1" y="228.7" font-size="15.6" text-anchor="middle" font-weight="normal" font-style="normal" fill="#000" letter-spacing="0.2">470</text>
<line x1="692.5" y1="207.4" x2="692.5" y2="210.7" stroke="#000" stroke-width="2" stroke-linecap="butt"/>
<text x="693.4" y="228.7" font-size="15.6" text-anchor="middle" font-weight="normal" font-style="normal" fill="#000" letter-spacing="0.2">490</text>
<text x="492" y="43.3" font-size="31" text-anchor="start" font-weight="bold" font-style="normal" fill="#000" >C</text>
<path d="M521.2,206 L521.2,205.7 L521.2,205.4 L521.2,205.1 L521.3,204.7 L521.3,204.2 L521.3,203.7 L521.4,203 L521.4,202.3 L521.5,201.5 L521.5,201.1 L521.6,200.7 L521.6,200.3 L521.7,199.8 L521.7,199.3 L521.8,198.8 L521.8,198.3 L521.9,197.7 L521.9,197.2 L522,196.6 L522,196.1 L522.1,195.5 L522.1,194.9 L522.2,194.3 L522.3,193.8 L522.3,193.2 L522.4,192.7 L522.5,192.1 L522.5,191.6 L522.6,191.1 L522.6,190.6 L522.7,190.2 L522.8,189.6 L522.9,189 L523,188.5 L523,187.9 L523.1,187.4 L523.2,186.9 L523.3,186.4 L523.4,185.9 L523.5,185.4 L523.6,184.9 L523.7,184.5 L523.8,184 L523.9,183.6 L524,183.1 L524.1,182.7 L524.2,182.3 L524.4,181.7 L524.5,181.2 L524.7,180.7 L524.8,180.3 L525,179.8 L525.1,179.4 L525.3,179 L525.5,178.5 L525.7,178.1 L525.9,177.6 L526.1,177 L526.3,176.6 L526.4,176.1 L526.6,175.7 L526.8,175.2 L527,174.7 L527.2,174.2 L527.4,173.6 L527.6,173.1 L527.8,172.6 L528.1,172.1 L528.3,171.6 L528.5,171.2 L528.7,170.7 L528.9,170.3 L529.1,169.9 L529.3,169.6 L529.7,169.1 L530.1,168.7 L530.4,168.3 L530.8,168.1 L531.2,167.9 L531.6,167.7 L532,167.4 L532.4,167 L532.7,166.7 L533.1,166.3 L533.4,165.8 L533.8,165.4 L534.1,164.9 L534.5,164.5 L534.8,164 L535.2,163.6 L535.5,163.2 L535.8,162.9 L536.1,162.7 L536.7,162.5 L537.3,162.6 L537.8,162.8 L538.3,162.7 L538.6,162.5 L538.9,162.1 L539.2,161.8 L539.6,161.3 L539.9,160.9 L540.2,160.5 L540.6,160 L540.9,159.6 L541.2,159.2 L541.6,158.8 L541.9,158.5 L542.3,158.1 L542.6,157.7 L542.9,157.3 L543.2,156.8 L543.5,156.4 L543.7,155.9 L544,155.4 L544.2,154.9 L544.4,154.4 L544.5,153.8 L544.7,153.3 L544.9,152.7 L545.1,152.2 L545.3,151.7 L545.4,151.3 L545.6,150.8 L545.8,150.4 L545.9,150 L546.1,149.5 L546.3,149 L546.5,148.5 L546.7,147.9 L546.9,147.5 L547.1,147.1 L547.2,146.7 L547.4,146.2 L547.6,145.8 L547.9,145.3 L548.1,144.8 L548.3,144.4 L548.5,143.9 L548.7,143.3 L549,142.8 L549.2,142.2 L549.4,141.6 L549.5,141.2 L549.7,140.8 L549.8,140.4 L550,139.9 L550.1,139.5 L550.2,139 L550.4,138.6 L550.5,138.1 L550.6,137.6 L550.8,137.2 L550.9,136.7 L551.1,136.2 L551.2,135.7 L551.4,135.1 L551.5,134.6 L551.7,134.1 L551.8,133.6 L552,133 L552.1,132.5 L552.3,131.9 L552.4,131.5 L552.6,131 L552.7,130.6 L552.8,130.2 L553,129.8 L553.1,129.3 L553.3,128.9 L553.4,128.5 L553.5,128 L553.7,127.6 L553.8,127.1 L554,126.7 L554.1,126.2 L554.3,125.7 L554.4,125.3 L554.6,124.8 L554.7,124.3 L554.9,123.8 L555.1,123.2 L555.2,122.7 L555.4,122.2 L555.5,121.6 L555.7,121 L555.8,120.4 L556,119.8 L556.1,119.2 L556.2,118.8 L556.3,118.4 L556.4,118 L556.5,117.5 L556.6,117.1 L556.7,116.7 L556.7,116.2 L556.8,115.8 L556.9,115.3 L557,114.8 L557.1,114.4 L557.2,113.9 L557.3,113.4 L557.4,112.9 L557.5,112.4 L557.6,111.9 L557.7,111.4 L557.8,110.9 L557.9,110.4 L558,109.9 L558,109.4 L558.1,108.9 L558.2,108.4 L558.3,107.9 L558.4,107.4 L558.5,106.8 L558.6,106.3 L558.7,105.8 L558.8,105.3 L558.9,104.7 L559,104.2 L559.1,103.7 L559.2,103.1 L559.3,102.6 L559.3,102.1 L559.4,101.5 L559.5,101 L559.6,100.5 L559.7,100 L559.8,99.4 L559.9,98.9 L560,98.4 L560.1,97.9 L560.1,97.5 L560.2,97 L560.3,96.5 L560.4,96 L560.5,95.5 L560.5,94.9 L560.6,94.4 L560.7,93.9 L560.8,93.4 L560.9,92.8 L560.9,92.3 L561,91.8 L561.1,91.2 L561.2,90.7 L561.2,90.2 L561.3,89.6 L561.4,89.1 L561.5,88.6 L561.6,88 L561.6,87.5 L561.7,86.9 L561.8,86.4 L561.9,85.9 L562,85.4 L562,84.8 L562.1,84.3 L562.2,83.8 L562.3,83.3 L562.4,82.8 L562.4,82.3 L562.5,81.8 L562.6,81.3 L562.7,80.8 L562.8,80.3 L562.9,79.9 L563,79.4 L563.1,79 L563.1,78.5 L563.2,78.1 L563.3,77.7 L563.4,77.3 L563.5,76.9 L563.6,76.5 L563.7,76.1 L563.9,75.4 L564.1,74.7 L564.3,74 L564.5,73.3 L564.7,72.7 L564.9,72 L565.1,71.4 L565.3,70.8 L565.5,70.2 L565.7,69.6 L566,69 L566.2,68.5 L566.4,68 L566.6,67.5 L566.8,67.1 L567.1,66.7 L567.3,66.3 L567.5,65.9 L567.7,65.6 L567.9,65.4 L568.2,65.1 L568.4,64.9 L568.6,64.8 L568.8,64.7 L569.1,64.6 L569.4,64.6 L569.7,64.7 L570,64.8 L570.3,65 L570.5,65.3 L570.8,65.6 L571.1,66 L571.4,66.4 L571.7,66.9 L572,67.4 L572.3,68 L572.6,68.6 L572.9,69.3 L573.1,70 L573.4,70.7 L573.6,71.5 L573.9,72.3 L574,72.6 L574.1,73 L574.2,73.4 L574.3,73.8 L574.4,74.2 L574.5,74.6 L574.6,75 L574.7,75.5 L574.8,75.9 L574.9,76.4 L575,76.9 L575.1,77.3 L575.1,77.8 L575.2,78.3 L575.3,78.9 L575.4,79.4 L575.5,79.9 L575.6,80.4 L575.7,81 L575.8,81.5 L575.8,82 L575.9,82.6 L576,83.1 L576.1,83.7 L576.2,84.2 L576.3,84.8 L576.3,85.3 L576.4,85.9 L576.5,86.5 L576.6,87 L576.7,87.6 L576.8,88.1 L576.8,88.7 L576.9,89.2 L577,89.8 L577.1,90.3 L577.2,90.8 L577.3,91.4 L577.4,91.9 L577.4,92.4 L577.5,92.9 L577.6,93.4 L577.7,93.9 L577.8,94.4 L577.9,94.9 L578,95.4 L578.1,95.9 L578.2,96.4 L578.3,96.9 L578.3,97.4 L578.4,97.8 L578.5,98.3 L578.6,98.8 L578.7,99.2 L578.8,99.7 L578.9,100.2 L579,100.6 L579.1,101.1 L579.2,101.6 L579.3,102 L579.4,102.5 L579.5,103 L579.6,103.4 L579.6,103.9 L579.7,104.4 L579.8,104.8 L579.9,105.3 L580,105.8 L580.1,106.3 L580.2,106.8 L580.3,107.2 L580.4,107.7 L580.5,108.2 L580.6,108.7 L580.7,109.3 L580.8,109.8 L580.9,110.3 L580.9,110.8 L581,111.4 L581.1,111.9 L581.2,112.5 L581.3,113 L581.4,113.6 L581.5,114.2 L581.6,114.6 L581.6,115.1 L581.7,115.5 L581.8,116 L581.8,116.4 L581.9,116.9 L582,117.3 L582,117.8 L582.1,118.3 L582.2,118.8 L582.2,119.2 L582.3,119.7 L582.4,120.2 L582.5,120.7 L582.5,121.2 L582.6,121.7 L582.7,122.2 L582.7,122.7 L582.8,123.2 L582.9,123.7 L582.9,124.2 L583,124.7 L583.1,125.2 L583.1,125.8 L583.2,126.3 L583.3,126.8 L583.3,127.3 L583.4,127.8 L583.5,128.4 L583.5,128.9 L583.6,129.4 L583.7,129.9 L583.7,130.4 L583.8,131 L583.9,131.5 L583.9,132 L584,132.5 L584.1,133.1 L584.1,133.6 L584.2,134.1 L584.3,134.6 L584.3,135.1 L584.4,135.6 L584.5,136.2 L584.6,136.7 L584.6,137.2 L584.7,137.7 L584.8,138.2 L584.8,138.7 L584.9,139.2 L585,139.7 L585,140.2 L585.1,140.7 L585.2,141.1 L585.2,141.6 L585.3,142.1 L585.4,142.6 L585.4,143.1 L585.5,143.7 L585.6,144.2 L585.7,144.7 L585.7,145.2 L585.8,145.8 L585.9,146.3 L586,146.8 L586,147.4 L586.1,147.9 L586.2,148.4 L586.2,148.9 L586.3,149.5 L586.4,150 L586.4,150.5 L586.5,151.1 L586.6,151.6 L586.7,152.1 L586.7,152.6 L586.8,153.1 L586.9,153.7 L586.9,154.2 L587,154.7 L587.1,155.2 L587.2,155.7 L587.2,156.2 L587.3,156.7 L587.4,157.2 L587.4,157.7 L587.5,158.2 L587.6,158.7 L587.7,159.2 L587.7,159.7 L587.8,160.2 L587.9,160.7 L588,161.2 L588,161.6 L588.1,162.1 L588.2,162.6 L588.3,163 L588.4,163.5 L588.4,163.9 L588.5,164.4 L588.6,164.8 L588.7,165.3 L588.8,165.7 L588.8,166.1 L588.9,166.6 L589,167 L589.1,167.4 L589.2,168 L589.4,168.6 L589.5,169.2 L589.6,169.8 L589.8,170.4 L589.9,171 L590.1,171.6 L590.2,172.2 L590.4,172.8 L590.5,173.3 L590.7,173.9 L590.8,174.4 L591,175 L591.1,175.5 L591.3,176 L591.4,176.6 L591.6,177.1 L591.7,177.6 L591.9,178.1 L592,178.5 L592.2,179 L592.4,179.5 L592.5,179.9 L592.7,180.3 L592.8,180.8 L593,181.2 L593.1,181.6 L593.3,181.9 L593.4,182.3 L593.6,182.6 L593.7,183 L593.9,183.3 L594.1,183.6 L594.2,183.9 L594.7,184.7 L595.1,185.3 L595.5,185.8 L596,186.1 L596.4,186.4 L596.8,186.5 L597.3,186.6 L597.7,186.6 L598.2,186.6 L598.7,186.6 L599.2,186.5 L599.6,186.4 L600,186.3 L600.5,186.2 L600.9,186 L601.4,185.7 L601.9,185.5 L602.3,185.2 L602.8,184.9 L603.3,184.5 L603.7,184.2 L604.2,183.8 L604.7,183.4 L605.1,183 L605.6,182.6 L605.9,182.3 L606.3,182 L606.6,181.7 L607,181.4 L607.3,181.1 L607.6,180.8 L608,180.5 L608.3,180.2 L608.7,179.8 L609,179.5 L609.3,179.1 L609.7,178.7 L610,178.3 L610.3,177.8 L610.7,177.3 L611,176.8 L611.3,176.2 L611.6,175.6 L611.9,175 L612.1,174.6 L612.2,174.3 L612.4,173.9 L612.5,173.4 L612.7,173 L612.8,172.5 L613,172.1 L613.1,171.6 L613.3,171.1 L613.4,170.6 L613.5,170.1 L613.7,169.6 L613.8,169 L614,168.5 L614.1,168 L614.2,167.4 L614.4,166.9 L614.5,166.3 L614.7,165.8 L614.8,165.2 L614.9,164.7 L615.1,164.1 L615.2,163.6 L615.3,163 L615.5,162.5 L615.6,162 L615.8,161.4 L615.9,160.9 L616,160.4 L616.2,159.9 L616.3,159.5 L616.4,159 L616.6,158.5 L616.7,158.1 L616.9,157.7 L617,157.3 L617.2,156.7 L617.5,156.1 L617.7,155.5 L617.9,154.9 L618.2,154.3 L618.4,153.8 L618.6,153.2 L618.9,152.7 L619.1,152.2 L619.3,151.7 L619.6,151.2 L619.8,150.8 L620,150.4 L620.3,149.9 L620.5,149.5 L620.7,149.1 L620.9,148.8 L621.2,148.4 L621.4,148.1 L621.6,147.8 L621.9,147.5 L622.1,147.2 L622.5,146.7 L623,146.2 L623.4,145.7 L623.8,145.3 L624.2,144.9 L624.7,144.6 L625.1,144.6 L625.6,144.7 L626,144.9 L626.5,145.1 L627.1,145.2 L627.5,145.2 L628,145.2 L628.5,145.2 L628.9,145.2 L629.4,145.2 L629.9,145 L630.5,144.9 L631,144.8 L631.5,144.7 L632.1,144.8 L632.6,144.9 L633.1,144.9 L633.7,145 L634.2,144.9 L634.7,144.9 L635.2,144.8 L635.7,144.7 L636.2,144.6 L636.7,144.6 L637.3,144.6 L637.8,144.5 L638.3,144.5 L638.8,144.4 L639.3,144.4 L639.8,144.3 L640.4,144.2 L640.9,143.9 L641.4,143.7 L641.9,143.5 L642.4,143.2 L642.9,143.3 L643.4,143.3 L644,143.3 L644.5,143.4 L645,143.6 L645.6,143.9 L646.1,144.1 L646.6,144.4 L647.2,144.6 L647.7,144.6 L648.2,144.7 L648.6,144.8 L649.1,144.9 L649.6,145 L650,145 L650.5,145.2 L651,145.3 L651.4,145.5 L651.9,145.8 L652.3,146.1 L652.7,146.4 L653,146.7 L653.4,147 L653.8,147.2 L654.2,147.5 L654.6,147.7 L655,148 L655.4,148.2 L655.8,148.6 L656.3,149.1 L656.7,149.6 L657.1,150.1 L657.5,150.6 L658,151.1 L658.4,151.5 L658.8,151.8 L659.2,152.1 L659.7,152.4 L660.1,152.6 L660.6,152.8 L661.1,152.9 L661.6,153 L662.1,153 L662.6,153 L663.2,153 L663.7,152.9 L664.2,152.7 L664.7,152.5 L665.2,152.4 L665.6,152.2 L665.9,152 L666.3,151.8 L666.7,151.5 L667,151.1 L667.4,150.8 L667.8,150.4 L668.1,150.1 L668.5,149.7 L668.9,149.3 L669.2,148.8 L669.6,148.3 L669.9,147.7 L670.3,147.1 L670.5,146.8 L670.7,146.4 L670.9,146 L671,145.6 L671.2,145.1 L671.4,144.7 L671.6,144.2 L671.8,143.7 L672,143.2 L672.2,142.7 L672.3,142.2 L672.5,141.6 L672.7,141.1 L672.9,140.6 L673.1,140 L673.3,139.5 L673.4,139 L673.6,138.4 L673.8,137.9 L674,137.4 L674.2,136.9 L674.4,136.5 L674.6,136 L674.7,135.6 L674.9,135.2 L675.1,134.8 L675.3,134.4 L675.6,133.9 L675.9,133.4 L676.3,132.9 L676.6,132.4 L676.9,132 L677.2,131.5 L677.5,131.1 L677.8,130.7 L678.2,130.3 L678.5,130 L678.8,129.6 L679.1,129.3 L679.4,128.9 L679.8,128.6 L680.1,128.3 L680.4,128.1 L680.8,127.7 L681.2,127.4 L681.7,127.1 L682.1,126.8 L682.5,126.5 L683,126.1 L683.4,125.8 L683.8,125.5 L684.2,125.3 L684.6,124.9 L685.1,124.6 L685.5,124.3 L686,124 L686.5,123.7 L687,123.5 L687.5,123.2 L688.1,123 L688.6,122.8 L689.1,122.7 L689.6,122.6 L690.1,122.5 L690.6,122.3 L691.1,122.2 L691.5,122 L692,121.9 L692.4,121.7 L692.9,121.5 L693.3,121.2 L693.8,120.9 L694.2,120.5 L694.7,120.2 L695.1,119.8 L695.6,119.5 L696.1,119.2 L696.5,118.9 L697,118.6 L697.5,118.3 L698,118.1 L698.5,117.9 L699,117.8 L699.5,117.6 L699.9,117.4 L700.3,117.1 L700.7,116.9 L701.3,116.7 L701.8,116.5 L702.3,116.8 L702.8,117.1 L703.2,117.5 L703.7,118.1 L704,118.5 L704.3,118.9 L704.6,119.3 L704.9,119.8 L705.2,120.2 L705.5,120.8 L705.8,121.3 L706.1,121.8 L706.4,122.3 L706.7,122.8 L707,123.3 L707.3,123.7 L707.6,124.2 L707.8,124.7 L708.1,125.3 L708.4,125.8 L708.6,126.3 L708.9,126.7 L709.1,127.2 L709.3,127.5 L709.5,127.9 L709.6,128.1" stroke="#000" stroke-width="2.8" fill="none" stroke-linejoin="round" stroke-linecap="round" />
<line x1="61.5" y1="264.3" x2="61.5" y2="427.3" stroke="#000" stroke-width="2.7" stroke-linecap="butt"/>
<line x1="60.3" y1="426.1" x2="250.1" y2="426.1" stroke="#000" stroke-width="2.5" stroke-linecap="butt"/>
<line x1="57.7" y1="426.1" x2="61.5" y2="426.1" stroke="#000" stroke-width="2" stroke-linecap="butt"/>
<line x1="57.7" y1="396.9" x2="61.5" y2="396.9" stroke="#000" stroke-width="2" stroke-linecap="butt"/>
<line x1="57.7" y1="367.7" x2="61.5" y2="367.7" stroke="#000" stroke-width="2" stroke-linecap="butt"/>
<line x1="57.7" y1="338.5" x2="61.5" y2="338.5" stroke="#000" stroke-width="2" stroke-linecap="butt"/>
<line x1="57.7" y1="309.3" x2="61.5" y2="309.3" stroke="#000" stroke-width="2" stroke-linecap="butt"/>
<line x1="57.7" y1="280.1" x2="61.5" y2="280.1" stroke="#000" stroke-width="2" stroke-linecap="butt"/>
<text x="51.2" y="431.7" font-size="15.6" text-anchor="end" font-weight="normal" font-style="normal" fill="#000" >0</text>
<text x="51.2" y="402.5" font-size="15.6" text-anchor="end" font-weight="normal" font-style="normal" fill="#000" >1</text>
<text x="51.2" y="373.3" font-size="15.6" text-anchor="end" font-weight="normal" font-style="normal" fill="#000" >2</text>
<text x="51.2" y="344.1" font-size="15.6" text-anchor="end" font-weight="normal" font-style="normal" fill="#000" >3</text>
<text x="51.2" y="314.9" font-size="15.6" text-anchor="end" font-weight="normal" font-style="normal" fill="#000" >4</text>
<text x="51.2" y="285.7" font-size="15.6" text-anchor="end" font-weight="normal" font-style="normal" fill="#000" >5</text>
<line x1="61.5" y1="426.1" x2="61.5" y2="429.4" stroke="#000" stroke-width="2" stroke-linecap="butt"/>
<text x="62.4" y="449.3" font-size="15.6" text-anchor="middle" font-weight="normal" font-style="normal" fill="#000" letter-spacing="0.2">390</text>
<line x1="95.6" y1="426.1" x2="95.6" y2="429.4" stroke="#000" stroke-width="2" stroke-linecap="butt"/>
<text x="96.5" y="449.3" font-size="15.6" text-anchor="middle" font-weight="normal" font-style="normal" fill="#000" letter-spacing="0.2">410</text>
<line x1="129.7" y1="426.1" x2="129.7" y2="429.4" stroke="#000" stroke-width="2" stroke-linecap="butt"/>
<text x="130.6" y="449.3" font-size="15.6" text-anchor="middle" font-weight="normal" font-style="normal" fill="#000" letter-spacing="0.2">430</text>
<line x1="163.8" y1="426.1" x2="163.8" y2="429.4" stroke="#000" stroke-width="2" stroke-linecap="butt"/>
<text x="164.7" y="449.3" font-size="15.6" text-anchor="middle" font-weight="normal" font-style="normal" fill="#000" letter-spacing="0.2">450</text>
<line x1="197.9" y1="426.1" x2="197.9" y2="429.4" stroke="#000" stroke-width="2" stroke-linecap="butt"/>
<text x="198.8" y="449.3" font-size="15.6" text-anchor="middle" font-weight="normal" font-style="normal" fill="#000" letter-spacing="0.2">470</text>
<line x1="232" y1="426.1" x2="232" y2="429.4" stroke="#000" stroke-width="2" stroke-linecap="butt"/>
<text x="232.9" y="449.3" font-size="15.6" text-anchor="middle" font-weight="normal" font-style="normal" fill="#000" letter-spacing="0.2">490</text>
<text x="32" y="263.3" font-size="31" text-anchor="start" font-weight="bold" font-style="normal" fill="#000" >D</text>
<path d="M61.3,407.6 L61.4,407.3 L61.5,406.9 L61.6,406.5 L61.8,406 L61.9,405.4 L62.1,404.9 L62.3,404.3 L62.5,403.7 L62.7,403.1 L63,402.6 L63.3,402.1 L63.6,401.6 L63.9,401.2 L64.2,400.9 L64.6,400.5 L65,400.2 L65.4,399.9 L65.8,399.6 L66.2,399.2 L66.7,398.9 L67.1,398.6 L67.6,398.3 L68.1,398.1 L68.5,397.8 L69,397.5 L69.5,397.2 L69.9,396.9 L70.4,396.7 L70.8,396.4 L71.3,396.2 L71.7,395.9 L72.2,395.6 L72.7,395.4 L73.2,395.1 L73.7,394.9 L74.2,394.7 L74.6,394.5 L75.1,394.3 L75.6,394.1 L76,393.9 L76.5,393.8 L76.9,393.7 L77.5,393.6 L78,393.6 L78.5,393.7 L79.1,393.8 L79.6,393.9 L80.1,394.1 L80.6,394.2 L81.1,394.3 L81.5,394.4 L82,394.4 L82.5,394.4 L82.9,394.3 L83.3,394.1 L83.7,393.9 L84.1,393.7 L84.5,393.4 L84.8,393.2 L85.2,392.8 L85.5,392.5 L85.9,392 L86.2,391.6 L86.6,391 L86.9,390.4 L87.3,389.8 L87.5,389.5 L87.7,389.1 L87.8,388.8 L88,388.4 L88.2,388 L88.4,387.6 L88.5,387.2 L88.7,386.8 L88.9,386.3 L89.1,385.9 L89.2,385.4 L89.4,385 L89.6,384.5 L89.8,384 L89.9,383.5 L90.1,383 L90.3,382.5 L90.5,381.9 L90.6,381.4 L90.8,380.9 L91,380.3 L91.2,379.7 L91.3,379.2 L91.5,378.6 L91.7,378 L91.8,377.6 L91.9,377.2 L92.1,376.7 L92.2,376.3 L92.3,375.9 L92.4,375.4 L92.6,375 L92.7,374.5 L92.8,374 L92.9,373.6 L93.1,373.1 L93.2,372.6 L93.3,372.1 L93.4,371.6 L93.6,371.2 L93.7,370.7 L93.8,370.2 L94,369.7 L94.1,369.1 L94.2,368.6 L94.3,368.1 L94.5,367.6 L94.6,367.1 L94.7,366.6 L94.8,366 L95,365.5 L95.1,365 L95.2,364.5 L95.3,363.9 L95.5,363.4 L95.6,362.9 L95.7,362.3 L95.8,361.8 L96,361.3 L96.1,360.7 L96.2,360.2 L96.3,359.7 L96.4,359.3 L96.5,358.8 L96.6,358.4 L96.7,357.9 L96.8,357.5 L96.9,357 L97,356.6 L97.1,356.1 L97.3,355.7 L97.4,355.2 L97.5,354.8 L97.6,354.3 L97.7,353.8 L97.8,353.4 L97.9,352.9 L98,352.5 L98.1,352 L98.2,351.5 L98.3,351.1 L98.4,350.6 L98.5,350.1 L98.6,349.6 L98.7,349.1 L98.8,348.7 L98.9,348.2 L99,347.7 L99.1,347.2 L99.2,346.7 L99.3,346.1 L99.4,345.6 L99.5,345.1 L99.7,344.6 L99.8,344 L99.9,343.5 L100,342.9 L100.1,342.4 L100.2,341.8 L100.3,341.3 L100.4,340.7 L100.5,340.1 L100.6,339.5 L100.7,339.1 L100.8,338.6 L100.8,338.2 L100.9,337.7 L101,337.3 L101.1,336.8 L101.1,336.3 L101.2,335.8 L101.3,335.4 L101.4,334.9 L101.4,334.4 L101.5,333.9 L101.6,333.4 L101.7,332.8 L101.8,332.3 L101.8,331.8 L101.9,331.3 L102,330.7 L102.1,330.2 L102.2,329.7 L102.2,329.1 L102.3,328.6 L102.4,328.1 L102.5,327.5 L102.6,327 L102.6,326.4 L102.7,325.9 L102.8,325.3 L102.9,324.8 L102.9,324.2 L103,323.7 L103.1,323.2 L103.2,322.6 L103.3,322.1 L103.3,321.5 L103.4,321 L103.5,320.5 L103.6,319.9 L103.6,319.4 L103.7,318.9 L103.8,318.3 L103.9,317.8 L103.9,317.3 L104,316.8 L104.1,316.3 L104.2,315.8 L104.2,315.3 L104.3,314.8 L104.4,314.3 L104.5,313.9 L104.5,313.4 L104.6,312.9 L104.7,312.5 L104.8,312 L104.8,311.6 L104.9,311.1 L105,310.7 L105,310.3 L105.1,309.9 L105.2,309.2 L105.3,308.6 L105.4,308 L105.5,307.3 L105.6,306.7 L105.7,306.1 L105.8,305.5 L105.9,304.9 L106,304.3 L106.2,303.7 L106.2,303.2 L106.3,302.6 L106.4,302 L106.5,301.5 L106.6,301 L106.7,300.4 L106.8,299.9 L106.9,299.4 L107,298.9 L107.1,298.4 L107.2,298 L107.3,297.5 L107.4,297 L107.5,296.6 L107.6,296.2 L107.7,295.7 L107.8,295.3 L107.9,294.9 L107.9,294.5 L108,294.2 L108.1,293.8 L108.2,293.4 L108.3,293.1 L108.4,292.7 L108.5,292.4 L108.6,292.1 L108.9,291.2 L109.2,290.3 L109.5,289.6 L109.8,289 L110.1,288.5 L110.4,288.1 L110.6,287.9 L110.9,287.7 L111.3,287.6 L111.6,287.6 L111.9,287.7 L112.1,287.8 L112.4,288 L112.6,288.2 L112.9,288.5 L113.1,288.8 L113.4,289.2 L113.6,289.6 L113.9,290 L114.2,290.5 L114.4,291 L114.7,291.6 L115,292.2 L115.2,292.9 L115.5,293.6 L115.7,294.3 L116,295.1 L116.1,295.5 L116.2,295.8 L116.3,296.2 L116.4,296.6 L116.5,297 L116.7,297.4 L116.8,297.9 L116.9,298.3 L117,298.8 L117.1,299.2 L117.2,299.7 L117.3,300.2 L117.4,300.6 L117.5,301.1 L117.6,301.6 L117.7,302.1 L117.8,302.7 L117.9,303.2 L118,303.7 L118.1,304.2 L118.2,304.8 L118.4,305.3 L118.5,305.8 L118.6,306.4 L118.7,306.9 L118.8,307.5 L118.9,308 L119,308.5 L119.1,309.1 L119.2,309.6 L119.3,310.2 L119.4,310.7 L119.6,311.3 L119.7,311.8 L119.8,312.4 L119.9,312.9 L120,313.4 L120.1,313.8 L120.2,314.3 L120.3,314.8 L120.4,315.3 L120.5,315.7 L120.6,316.2 L120.7,316.7 L120.8,317.2 L120.9,317.7 L121,318.2 L121.1,318.7 L121.2,319.2 L121.3,319.7 L121.4,320.3 L121.5,320.8 L121.6,321.3 L121.7,321.8 L121.8,322.3 L121.9,322.8 L122,323.3 L122.1,323.9 L122.2,324.4 L122.3,324.9 L122.4,325.4 L122.5,325.9 L122.6,326.4 L122.7,326.9 L122.8,327.4 L122.9,327.9 L123,328.4 L123.1,328.9 L123.2,329.4 L123.4,329.9 L123.5,330.4 L123.6,330.8 L123.7,331.3 L123.8,331.8 L123.9,332.3 L124.1,332.7 L124.2,333.2 L124.3,333.6 L124.5,334.1 L124.6,334.7 L124.8,335.2 L124.9,335.8 L125.1,336.3 L125.3,336.9 L125.4,337.4 L125.6,338 L125.8,338.5 L126,339 L126.1,339.6 L126.3,340.1 L126.5,340.6 L126.7,341.1 L126.8,341.7 L127,342.2 L127.2,342.7 L127.4,343.2 L127.6,343.7 L127.8,344.1 L127.9,344.6 L128.1,345.1 L128.3,345.6 L128.5,346 L128.7,346.4 L128.8,346.9 L129,347.3 L129.2,347.7 L129.4,348.1 L129.5,348.5 L129.7,348.9 L129.9,349.2 L130,349.6 L130.2,349.9 L130.6,350.6 L130.9,351.3 L131.3,351.9 L131.6,352.5 L131.9,353.1 L132.2,353.6 L132.6,354 L132.9,354.4 L133.2,354.8 L133.5,355.1 L133.9,355.3 L134.2,355.5 L134.5,355.7 L134.9,355.8 L135.2,355.8 L135.5,355.8 L135.9,355.7 L136.2,355.5 L136.6,355.3 L136.9,355 L137.2,354.7 L137.6,354.3 L137.9,353.9 L138.3,353.5 L138.6,353 L139,352.4 L139.4,351.8 L139.8,351.2 L140.2,350.6 L140.6,349.9 L140.8,349.6 L141,349.2 L141.2,348.9 L141.4,348.5 L141.6,348.2 L141.8,347.8 L142.1,347.4 L142.3,347 L142.5,346.5 L142.7,346.1 L143,345.7 L143.2,345.2 L143.4,344.8 L143.7,344.3 L143.9,343.9 L144.2,343.4 L144.4,342.9 L144.6,342.4 L144.9,341.9 L145.1,341.5 L145.3,341 L145.6,340.5 L145.8,340 L146,339.5 L146.3,339 L146.5,338.5 L146.7,338 L146.9,337.5 L147.2,337 L147.4,336.5 L147.6,336.1 L147.8,335.6 L148,335.1 L148.2,334.6 L148.4,334.2 L148.6,333.7 L148.8,333.2 L148.9,332.7 L149.1,332.2 L149.3,331.8 L149.5,331.3 L149.7,330.8 L149.8,330.3 L150,329.8 L150.2,329.3 L150.4,328.8 L150.5,328.2 L150.7,327.7 L150.9,327.2 L151,326.7 L151.2,326.2 L151.4,325.7 L151.5,325.2 L151.7,324.7 L151.9,324.2 L152,323.8 L152.2,323.3 L152.4,322.8 L152.5,322.3 L152.7,321.9 L152.9,321.4 L153,320.9 L153.2,320.5 L153.4,320.1 L153.6,319.6 L153.7,319.2 L153.9,318.8 L154.1,318.2 L154.4,317.7 L154.6,317.1 L154.9,316.6 L155.1,316.1 L155.3,315.5 L155.6,315 L155.8,314.5 L156.1,313.9 L156.3,313.4 L156.6,312.9 L156.8,312.4 L157.1,312 L157.3,311.5 L157.5,311 L157.8,310.6 L158,310.2 L158.3,309.8 L158.5,309.4 L158.7,309 L158.9,308.7 L159.2,308.4 L159.4,308 L159.6,307.8 L159.8,307.5 L160.3,306.9 L160.8,306.4 L161.3,306.1 L161.8,305.9 L162.2,305.8 L162.7,305.8 L163.1,305.9 L163.6,306.1 L164.2,306.4 L164.5,306.6 L164.8,306.8 L165.2,307 L165.5,307.3 L165.9,307.6 L166.2,307.9 L166.6,308.3 L166.9,308.6 L167.3,309 L167.7,309.5 L168,309.9 L168.4,310.4 L168.8,310.8 L169.1,311.3 L169.5,311.8 L169.8,312.4 L170.2,312.9 L170.4,313.3 L170.7,313.6 L170.9,314 L171.1,314.4 L171.3,314.7 L171.6,315.1 L171.8,315.5 L172,315.9 L172.2,316.4 L172.5,316.8 L172.7,317.2 L172.9,317.6 L173.2,318.1 L173.4,318.5 L173.6,319 L173.8,319.5 L174.1,320 L174.3,320.5 L174.5,321 L174.7,321.5 L175,322 L175.2,322.5 L175.4,323 L175.6,323.6 L175.9,324.1 L176.1,324.7 L176.3,325.1 L176.4,325.5 L176.6,326 L176.7,326.4 L176.9,326.9 L177.1,327.3 L177.2,327.8 L177.4,328.3 L177.5,328.8 L177.7,329.3 L177.9,329.8 L178,330.3 L178.2,330.8 L178.3,331.4 L178.5,331.9 L178.7,332.4 L178.8,333 L179,333.5 L179.1,334 L179.3,334.5 L179.4,335.1 L179.6,335.6 L179.8,336.1 L179.9,336.6 L180.1,337.1 L180.2,337.6 L180.4,338.1 L180.6,338.6 L180.7,339.1 L180.9,339.6 L181,340 L181.2,340.5 L181.4,340.9 L181.5,341.3 L181.7,341.7 L181.8,342.1 L182,342.5 L182.3,343.1 L182.5,343.7 L182.8,344.3 L183.1,344.8 L183.3,345.3 L183.6,345.9 L183.8,346.4 L184.1,346.8 L184.3,347.3 L184.6,347.7 L184.9,348.2 L185.1,348.6 L185.4,349 L185.6,349.3 L185.9,349.7 L186.2,350.1 L186.5,350.4 L186.7,350.8 L187,351.1 L187.3,351.4 L187.6,351.6 L187.9,351.9 L188.3,352.1 L188.8,352.3 L189.3,352.4 L189.8,352.7 L190.3,352.9 L190.8,353 L191.3,353.2 L191.8,353.3 L192.3,353.5 L192.8,353.6 L193.3,353.7 L193.8,353.9 L194.3,354.1 L194.8,354.3 L195.3,354.6 L195.7,354.8 L196.1,355.2 L196.6,355.5 L197,355.9 L197.4,356.3 L197.8,356.7 L198.2,357.1 L198.7,357.5 L199.1,357.9 L199.5,358.2 L199.9,358.6 L200.3,358.9 L200.8,359.2 L201.2,359.4 L201.6,359.6 L201.9,359.7 L202.3,359.8 L202.7,360.1 L203.2,360.4 L203.8,360.6 L204.3,360.8 L204.8,360.8 L205.3,360.6 L205.8,360.3 L206.3,360 L206.8,359.6 L207.3,359.3 L207.7,359 L208.2,358.6 L208.6,358.3 L209,357.9 L209.3,357.7 L209.6,357.5 L209.9,357.2 L210.3,356.9 L210.6,356.6 L210.8,356.3 L211.1,355.9 L211.4,355.4 L211.8,354.9 L212.1,354.4 L212.4,353.9 L212.7,353.3 L213.1,352.8 L213.4,352.4 L213.6,352 L213.9,351.7 L214.1,351.3 L214.4,350.9 L214.7,350.4 L215,350 L215.2,349.6 L215.5,349.1 L215.8,348.6 L216.1,348.1 L216.4,347.5 L216.7,347 L217,346.5 L217.3,346 L217.6,345.5 L217.9,345 L218.1,344.7 L218.4,344.4 L218.7,344.1 L219,343.9 L219.5,343.5 L219.9,343.2 L220.4,342.9 L220.8,342.7 L221.3,342.4 L221.7,342.2 L222.2,342 L222.6,341.9 L223.1,341.7 L223.5,341.6 L224,341.5 L224.4,341.3 L224.9,341.1 L225.4,340.9 L226,340.8 L226.5,340.7 L227,340.8 L227.6,341 L228.1,341.2 L228.6,341.4 L229.2,341.5 L229.7,341.6 L230.3,341.6 L230.8,341.5 L231.2,341.3 L231.7,341.1 L232.1,340.9 L232.5,340.6 L233,340.3 L233.4,339.9 L233.8,339.4 L234.3,338.9 L234.7,338.4 L235.1,338 L235.6,337.6 L236,337.5 L236.4,337.4 L236.8,337.3 L237.3,337.2 L237.9,337 L238.4,336.7 L238.8,336.4 L239.3,336.2 L239.8,336 L240.3,335.9 L240.9,335.8 L241.5,335.8 L242.1,335.8 L242.5,335.8 L243,335.9 L243.5,336 L244.1,336.1 L244.7,336.3 L245.3,336.6 L245.8,336.9 L246.4,337.2 L247,337.4 L247.6,337.6 L248.1,337.8 L248.6,338 L249.1,338.2 L249.5,338.4 L249.8,338.5 L250.1,338.6" stroke="#000" stroke-width="2.8" fill="none" stroke-linejoin="round" stroke-linecap="round" />
<line x1="289.7" y1="264.9" x2="289.7" y2="427.5" stroke="#000" stroke-width="2.7" stroke-linecap="butt"/>
<line x1="288.5" y1="426.3" x2="482.1" y2="426.3" stroke="#000" stroke-width="2.5" stroke-linecap="butt"/>
<line x1="285.9" y1="426.3" x2="289.7" y2="426.3" stroke="#000" stroke-width="2" stroke-linecap="butt"/>
<line x1="285.9" y1="390.4" x2="289.7" y2="390.4" stroke="#000" stroke-width="2" stroke-linecap="butt"/>
<line x1="285.9" y1="354.6" x2="289.7" y2="354.6" stroke="#000" stroke-width="2" stroke-linecap="butt"/>
<line x1="285.9" y1="318.8" x2="289.7" y2="318.8" stroke="#000" stroke-width="2" stroke-linecap="butt"/>
<line x1="285.9" y1="282.9" x2="289.7" y2="282.9" stroke="#000" stroke-width="2" stroke-linecap="butt"/>
<line x1="285.9" y1="408.4" x2="289.7" y2="408.4" stroke="#000" stroke-width="2" stroke-linecap="butt"/>
<line x1="285.9" y1="372.5" x2="289.7" y2="372.5" stroke="#000" stroke-width="2" stroke-linecap="butt"/>
<line x1="285.9" y1="336.7" x2="289.7" y2="336.7" stroke="#000" stroke-width="2" stroke-linecap="butt"/>
<line x1="285.9" y1="300.8" x2="289.7" y2="300.8" stroke="#000" stroke-width="2" stroke-linecap="butt"/>
<text x="280.7" y="431.9" font-size="15.6" text-anchor="end" font-weight="normal" font-style="normal" fill="#000" >0</text>
<text x="280.7" y="396.1" font-size="15.6" text-anchor="end" font-weight="normal" font-style="normal" fill="#000" >1</text>
<text x="280.7" y="360.2" font-size="15.6" text-anchor="end" font-weight="normal" font-style="normal" fill="#000" >2</text>
<text x="280.7" y="324.4" font-size="15.6" text-anchor="end" font-weight="normal" font-style="normal" fill="#000" >3</text>
<text x="280.7" y="288.5" font-size="15.6" text-anchor="end" font-weight="normal" font-style="normal" fill="#000" >4</text>
<line x1="289.7" y1="426.3" x2="289.7" y2="429.6" stroke="#000" stroke-width="2" stroke-linecap="butt"/>
<text x="290.6" y="449.5" font-size="15.6" text-anchor="middle" font-weight="normal" font-style="normal" fill="#000" letter-spacing="0.2">390</text>
<line x1="324.5" y1="426.3" x2="324.5" y2="429.6" stroke="#000" stroke-width="2" stroke-linecap="butt"/>
<text x="325.4" y="449.5" font-size="15.6" text-anchor="middle" font-weight="normal" font-style="normal" fill="#000" letter-spacing="0.2">410</text>
<line x1="359.3" y1="426.3" x2="359.3" y2="429.6" stroke="#000" stroke-width="2" stroke-linecap="butt"/>
<text x="360.2" y="449.5" font-size="15.6" text-anchor="middle" font-weight="normal" font-style="normal" fill="#000" letter-spacing="0.2">430</text>
<line x1="394.1" y1="426.3" x2="394.1" y2="429.6" stroke="#000" stroke-width="2" stroke-linecap="butt"/>
<text x="395" y="449.5" font-size="15.6" text-anchor="middle" font-weight="normal" font-style="normal" fill="#000" letter-spacing="0.2">450</text>
<line x1="428.9" y1="426.3" x2="428.9" y2="429.6" stroke="#000" stroke-width="2" stroke-linecap="butt"/>
<text x="429.8" y="449.5" font-size="15.6" text-anchor="middle" font-weight="normal" font-style="normal" fill="#000" letter-spacing="0.2">470</text>
<line x1="463.7" y1="426.3" x2="463.7" y2="429.6" stroke="#000" stroke-width="2" stroke-linecap="butt"/>
<text x="464.6" y="449.5" font-size="15.6" text-anchor="middle" font-weight="normal" font-style="normal" fill="#000" letter-spacing="0.2">490</text>
<text x="263" y="263.5" font-size="31" text-anchor="start" font-weight="bold" font-style="normal" fill="#000" >E</text>
<path d="M290.6,331.5 L290.6,331.8 L290.7,332.1 L290.7,332.4 L290.8,332.7 L290.8,333.1 L290.9,333.5 L290.9,333.9 L291,334.3 L291,334.8 L291.1,335.3 L291.2,335.8 L291.2,336.3 L291.3,336.8 L291.4,337.3 L291.4,337.8 L291.5,338.4 L291.6,339 L291.7,339.5 L291.7,340.1 L291.8,340.7 L291.9,341.3 L292,341.9 L292.1,342.4 L292.1,343 L292.2,343.6 L292.3,344.2 L292.4,344.8 L292.5,345.4 L292.6,345.9 L292.7,346.5 L292.7,347.1 L292.8,347.6 L292.9,348.2 L293,348.7 L293.1,349.2 L293.2,349.7 L293.3,350.2 L293.4,350.7 L293.5,351.2 L293.6,351.7 L293.7,352.2 L293.8,352.7 L293.9,353.2 L294,353.6 L294.1,354.1 L294.2,354.6 L294.3,355.1 L294.4,355.6 L294.5,356.1 L294.6,356.6 L294.7,357.1 L294.8,357.6 L294.9,358.1 L295,358.6 L295.1,359.1 L295.3,359.6 L295.4,360.1 L295.5,360.6 L295.6,361.1 L295.7,361.6 L295.8,362.1 L295.9,362.6 L296,363 L296.1,363.5 L296.3,364 L296.4,364.5 L296.5,365 L296.6,365.5 L296.7,366 L296.8,366.5 L296.9,367 L297,367.5 L297.1,368 L297.2,368.5 L297.3,369 L297.4,369.5 L297.5,370 L297.6,370.5 L297.7,371 L297.9,371.5 L298,372 L298.1,372.5 L298.2,373 L298.3,373.5 L298.4,374 L298.5,374.5 L298.6,375 L298.7,375.5 L298.8,376 L298.9,376.5 L299,377 L299.1,377.5 L299.2,378 L299.3,378.5 L299.4,379 L299.5,379.5 L299.6,380 L299.8,380.4 L299.9,380.9 L300,381.4 L300.1,381.9 L300.2,382.4 L300.3,382.8 L300.4,383.3 L300.5,383.8 L300.6,384.2 L300.7,384.7 L300.8,385.2 L300.9,385.8 L301.1,386.3 L301.2,386.8 L301.3,387.3 L301.4,387.9 L301.6,388.4 L301.7,388.9 L301.8,389.4 L301.9,389.9 L302,390.4 L302.2,390.9 L302.3,391.4 L302.4,391.9 L302.5,392.4 L302.7,392.9 L302.8,393.4 L302.9,393.9 L303,394.4 L303.2,394.9 L303.3,395.3 L303.4,395.8 L303.5,396.3 L303.6,396.8 L303.8,397.2 L303.9,397.7 L304,398.2 L304.1,398.6 L304.3,399.1 L304.4,399.5 L304.5,400 L304.6,400.5 L304.8,401.1 L304.9,401.6 L305.1,402.2 L305.2,402.7 L305.3,403.2 L305.5,403.8 L305.6,404.3 L305.7,404.9 L305.9,405.4 L306,405.9 L306.2,406.4 L306.3,406.9 L306.4,407.4 L306.6,407.9 L306.7,408.4 L306.9,408.9 L307,409.4 L307.1,409.8 L307.3,410.3 L307.5,410.7 L307.6,411.1 L307.8,411.5 L307.9,411.9 L308.1,412.3 L308.3,412.6 L308.6,413.2 L309,413.7 L309.3,414.3 L309.7,414.8 L310.1,415.2 L310.5,415.7 L310.9,416.1 L311.3,416.4 L311.7,416.8 L312.1,417 L312.5,417.3 L312.8,417.5 L313.2,417.6 L313.6,417.7 L313.9,417.7 L314.3,417.7 L314.6,417.6 L314.9,417.5 L315.3,417.3 L315.6,417.1 L315.9,416.8 L316.2,416.4 L316.5,415.9 L316.8,415.4 L317.1,414.8 L317.4,414.2 L317.7,413.4 L318,412.6 L318.1,412.3 L318.2,411.9 L318.4,411.6 L318.5,411.2 L318.6,410.9 L318.7,410.5 L318.8,410.1 L319,409.7 L319.1,409.3 L319.2,408.9 L319.3,408.5 L319.4,408 L319.6,407.6 L319.7,407.1 L319.8,406.6 L319.9,406.2 L320,405.7 L320.2,405.2 L320.3,404.7 L320.4,404.2 L320.5,403.6 L320.7,403.1 L320.8,402.6 L320.9,402 L321,401.5 L321.1,400.9 L321.3,400.3 L321.4,399.8 L321.5,399.2 L321.6,398.6 L321.7,398 L321.8,397.4 L322,396.8 L322.1,396.2 L322.2,395.5 L322.3,394.9 L322.4,394.5 L322.4,394.1 L322.5,393.7 L322.6,393.2 L322.7,392.8 L322.7,392.4 L322.8,391.9 L322.9,391.5 L322.9,391 L323,390.6 L323.1,390.1 L323.1,389.6 L323.2,389.2 L323.3,388.7 L323.4,388.2 L323.4,387.7 L323.5,387.3 L323.6,386.8 L323.6,386.3 L323.7,385.8 L323.8,385.3 L323.8,384.8 L323.9,384.3 L324,383.8 L324,383.3 L324.1,382.8 L324.2,382.3 L324.2,381.8 L324.3,381.2 L324.4,380.7 L324.4,380.2 L324.5,379.7 L324.6,379.2 L324.6,378.6 L324.7,378.1 L324.8,377.6 L324.8,377 L324.9,376.5 L325,376 L325,375.5 L325.1,374.9 L325.2,374.4 L325.2,373.9 L325.3,373.3 L325.4,372.8 L325.4,372.3 L325.5,371.7 L325.6,371.2 L325.6,370.7 L325.7,370.2 L325.8,369.6 L325.8,369.1 L325.9,368.6 L326,368 L326,367.5 L326.1,367 L326.2,366.5 L326.2,366 L326.3,365.6 L326.3,365.1 L326.4,364.6 L326.5,364.1 L326.5,363.6 L326.6,363.1 L326.7,362.6 L326.7,362.1 L326.8,361.6 L326.8,361.1 L326.9,360.6 L327,360.1 L327,359.6 L327.1,359.1 L327.2,358.5 L327.2,358 L327.3,357.5 L327.3,357 L327.4,356.5 L327.5,356 L327.5,355.5 L327.6,354.9 L327.7,354.4 L327.7,353.9 L327.8,353.4 L327.8,352.9 L327.9,352.4 L328,351.8 L328,351.3 L328.1,350.8 L328.2,350.3 L328.2,349.8 L328.3,349.3 L328.3,348.8 L328.4,348.2 L328.5,347.7 L328.5,347.2 L328.6,346.7 L328.7,346.2 L328.7,345.7 L328.8,345.2 L328.8,344.7 L328.9,344.2 L329,343.7 L329,343.2 L329.1,342.7 L329.2,342.2 L329.2,341.7 L329.3,341.2 L329.3,340.7 L329.4,340.3 L329.5,339.8 L329.5,339.3 L329.6,338.8 L329.7,338.4 L329.7,337.9 L329.8,337.4 L329.8,337 L329.9,336.5 L330,336 L330,335.4 L330.1,334.9 L330.2,334.3 L330.3,333.8 L330.3,333.2 L330.4,332.7 L330.5,332.1 L330.6,331.6 L330.6,331 L330.7,330.5 L330.8,330 L330.9,329.4 L330.9,328.9 L331,328.4 L331.1,327.8 L331.2,327.3 L331.2,326.8 L331.3,326.2 L331.4,325.7 L331.5,325.2 L331.5,324.7 L331.6,324.1 L331.7,323.6 L331.8,323.1 L331.8,322.6 L331.9,322.1 L332,321.6 L332.1,321.1 L332.1,320.6 L332.2,320.1 L332.3,319.6 L332.4,319.1 L332.4,318.7 L332.5,318.2 L332.6,317.7 L332.7,317.2 L332.7,316.8 L332.8,316.3 L332.9,315.9 L333,315.4 L333,315 L333.1,314.5 L333.2,314.1 L333.3,313.7 L333.3,313.2 L333.4,312.8 L333.5,312.4 L333.6,312 L333.6,311.6 L333.7,311.2 L333.8,310.5 L334,309.9 L334.1,309.2 L334.2,308.6 L334.3,308 L334.5,307.4 L334.6,306.8 L334.7,306.2 L334.8,305.6 L335,305.1 L335.1,304.5 L335.2,304 L335.3,303.5 L335.5,303 L335.6,302.5 L335.7,302 L335.9,301.5 L336,301 L336.1,300.6 L336.2,300.1 L336.4,299.7 L336.5,299.3 L336.6,298.9 L336.7,298.5 L336.9,298.2 L337,297.8 L337.1,297.5 L337.2,297.1 L337.4,296.8 L337.5,296.5 L337.9,295.6 L338.3,294.9 L338.8,294.3 L339.2,293.9 L339.6,293.6 L340,293.4 L340.5,293.3 L340.9,293.3 L341.3,293.4 L341.6,293.5 L341.9,293.6 L342.2,293.7 L342.6,293.9 L342.9,294.2 L343.2,294.5 L343.5,294.9 L343.8,295.4 L344.2,296 L344.5,296.7 L344.8,297.5 L345.1,298.5 L345.2,298.8 L345.3,299.1 L345.4,299.5 L345.5,299.9 L345.6,300.2 L345.7,300.6 L345.7,301 L345.8,301.4 L345.9,301.8 L346,302.3 L346.1,302.7 L346.2,303.2 L346.3,303.6 L346.4,304.1 L346.5,304.6 L346.6,305.1 L346.7,305.6 L346.8,306.1 L346.9,306.6 L347,307.1 L347,307.6 L347.1,308.2 L347.2,308.7 L347.3,309.3 L347.4,309.8 L347.5,310.4 L347.6,310.9 L347.7,311.5 L347.8,312 L347.9,312.6 L348,313.2 L348.1,313.7 L348.2,314.3 L348.3,314.9 L348.3,315.4 L348.4,316 L348.5,316.6 L348.6,317.1 L348.7,317.7 L348.8,318.2 L348.9,318.8 L349,319.2 L349,319.7 L349.1,320.2 L349.2,320.6 L349.3,321.1 L349.3,321.5 L349.4,322 L349.5,322.5 L349.6,322.9 L349.6,323.4 L349.7,323.9 L349.8,324.4 L349.9,324.9 L349.9,325.3 L350,325.8 L350.1,326.3 L350.2,326.8 L350.2,327.3 L350.3,327.8 L350.4,328.3 L350.5,328.8 L350.5,329.3 L350.6,329.8 L350.7,330.3 L350.8,330.8 L350.8,331.3 L350.9,331.8 L351,332.3 L351.1,332.8 L351.1,333.3 L351.2,333.8 L351.3,334.3 L351.4,334.8 L351.4,335.4 L351.5,335.9 L351.6,336.4 L351.7,336.9 L351.7,337.4 L351.8,337.9 L351.9,338.5 L352,339 L352,339.5 L352.1,340 L352.2,340.5 L352.3,341.1 L352.3,341.6 L352.4,342.1 L352.5,342.6 L352.6,343.2 L352.6,343.7 L352.7,344.2 L352.8,344.7 L352.8,345.2 L352.9,345.7 L353,346.1 L353,346.6 L353.1,347.2 L353.2,347.7 L353.2,348.2 L353.3,348.7 L353.4,349.2 L353.4,349.7 L353.5,350.3 L353.6,350.8 L353.6,351.3 L353.7,351.9 L353.8,352.4 L353.8,352.9 L353.9,353.5 L354,354 L354,354.6 L354.1,355.1 L354.2,355.6 L354.2,356.2 L354.3,356.7 L354.4,357.3 L354.4,357.8 L354.5,358.3 L354.6,358.9 L354.6,359.4 L354.7,359.9 L354.8,360.5 L354.8,361 L354.9,361.5 L355,362 L355,362.6 L355.1,363.1 L355.2,363.6 L355.2,364.1 L355.3,364.6 L355.4,365.1 L355.4,365.6 L355.5,366.1 L355.6,366.5 L355.6,367 L355.7,367.5 L355.8,367.9 L355.9,368.4 L355.9,368.8 L356,369.3 L356.1,369.7 L356.1,370.1 L356.2,370.5 L356.3,370.9 L356.4,371.3 L356.4,371.7 L356.5,372.1 L356.6,372.8 L356.8,373.5 L356.9,374.2 L357.1,374.8 L357.2,375.5 L357.4,376.1 L357.5,376.7 L357.7,377.3 L357.9,377.8 L358,378.4 L358.2,378.9 L358.3,379.4 L358.5,379.9 L358.7,380.4 L358.8,380.9 L359,381.3 L359.1,381.8 L359.3,382.2 L359.4,382.6 L359.6,383 L359.7,383.4 L359.9,383.7 L360.1,384.1 L360.2,384.4 L360.3,384.8 L360.5,385.1 L360.6,385.4 L360.8,385.7 L360.9,386 L361.4,386.9 L361.8,387.6 L362.2,388.2 L362.6,388.5 L363,388.7 L363.4,388.8 L363.8,388.7 L364.2,388.5 L364.5,388.3 L364.7,388.1 L365,387.8 L365.2,387.5 L365.5,387.1 L365.8,386.6 L366.1,386.1 L366.3,385.6 L366.6,385.1 L366.9,384.5 L367.2,384 L367.5,383.4 L367.7,382.8 L368,382.2 L368.2,381.8 L368.4,381.4 L368.5,381 L368.7,380.7 L368.9,380.3 L369.1,379.9 L369.2,379.5 L369.4,379.1 L369.6,378.7 L369.7,378.2 L369.9,377.8 L370.1,377.3 L370.3,376.9 L370.4,376.4 L370.6,375.8 L370.8,375.3 L371,374.7 L371.2,374.1 L371.4,373.5 L371.6,372.8 L371.8,372.1 L371.9,371.7 L372,371.3 L372.1,370.9 L372.2,370.5 L372.4,370.1 L372.5,369.7 L372.6,369.2 L372.7,368.8 L372.8,368.3 L373,367.9 L373.1,367.4 L373.2,366.9 L373.3,366.4 L373.5,365.9 L373.6,365.4 L373.7,364.9 L373.8,364.4 L374,363.9 L374.1,363.4 L374.2,362.9 L374.4,362.3 L374.5,361.8 L374.6,361.3 L374.8,360.7 L374.9,360.2 L375,359.7 L375.1,359.1 L375.3,358.6 L375.4,358.1 L375.5,357.5 L375.6,357 L375.8,356.4 L375.9,355.9 L376,355.4 L376.1,354.9 L376.2,354.3 L376.4,353.8 L376.5,353.3 L376.6,352.8 L376.7,352.3 L376.8,351.8 L376.9,351.3 L377,350.8 L377.1,350.3 L377.2,349.8 L377.3,349.3 L377.4,348.8 L377.5,348.3 L377.6,347.8 L377.7,347.3 L377.8,346.8 L377.9,346.4 L378,345.9 L378.1,345.4 L378.2,344.9 L378.3,344.4 L378.4,343.9 L378.5,343.4 L378.6,342.9 L378.6,342.4 L378.7,341.9 L378.8,341.4 L378.9,340.9 L379,340.4 L379.1,339.9 L379.2,339.4 L379.3,338.9 L379.3,338.4 L379.4,337.9 L379.5,337.4 L379.6,336.9 L379.7,336.5 L379.8,336 L379.9,335.5 L380,335 L380.1,334.5 L380.1,334 L380.2,333.5 L380.3,333 L380.4,332.5 L380.5,332 L380.6,331.5 L380.7,331 L380.8,330.5 L380.9,330 L381,329.5 L381.1,329 L381.1,328.4 L381.2,327.9 L381.3,327.4 L381.4,326.9 L381.5,326.3 L381.6,325.8 L381.7,325.3 L381.8,324.7 L381.9,324.2 L382,323.7 L382,323.1 L382.1,322.6 L382.2,322.1 L382.3,321.5 L382.4,321 L382.5,320.5 L382.6,320 L382.7,319.4 L382.8,318.9 L382.9,318.4 L383,317.9 L383,317.4 L383.1,316.9 L383.2,316.4 L383.3,316 L383.4,315.5 L383.5,315 L383.6,314.6 L383.7,314.1 L383.8,313.7 L383.9,313.2 L384,312.8 L384.1,312.4 L384.2,312 L384.3,311.6 L384.4,311.2 L384.6,310.5 L384.8,309.9 L385,309.3 L385.2,308.6 L385.4,308 L385.6,307.5 L385.8,306.9 L386,306.3 L386.2,305.8 L386.4,305.3 L386.6,304.8 L386.8,304.3 L387,303.9 L387.2,303.5 L387.4,303.1 L387.6,302.7 L387.8,302.3 L388,301.9 L388.2,301.6 L388.4,301.3 L388.6,301 L388.8,300.7 L389,300.5 L389.6,299.9 L390.1,299.6 L390.7,299.5 L391.2,299.5 L391.7,299.6 L392.3,299.9 L392.8,300.2 L393.3,300.5 L393.6,300.7 L393.9,301 L394.2,301.3 L394.5,301.6 L394.7,302 L395,302.4 L395.3,302.8 L395.6,303.3 L395.9,303.8 L396.1,304.3 L396.4,304.9 L396.8,305.5 L397.1,306.1 L397.3,306.5 L397.5,306.8 L397.7,307.2 L397.9,307.6 L398.1,308.1 L398.3,308.5 L398.5,309 L398.7,309.4 L398.9,309.9 L399.1,310.4 L399.4,310.9 L399.6,311.4 L399.8,311.9 L400,312.4 L400.2,312.9 L400.5,313.4 L400.7,313.9 L400.9,314.4 L401.1,314.9 L401.3,315.5 L401.6,316 L401.8,316.5 L402,317 L402.2,317.5 L402.4,317.9 L402.6,318.4 L402.8,318.9 L402.9,319.3 L403.1,319.8 L403.3,320.3 L403.5,320.8 L403.7,321.2 L403.9,321.7 L404,322.2 L404.2,322.7 L404.4,323.2 L404.6,323.7 L404.8,324.2 L405,324.7 L405.1,325.1 L405.3,325.6 L405.5,326.1 L405.7,326.6 L405.9,327.1 L406.1,327.5 L406.3,328 L406.5,328.4 L406.7,328.9 L406.9,329.3 L407.1,329.8 L407.3,330.2 L407.5,330.7 L407.8,331.2 L408.1,331.7 L408.3,332.2 L408.6,332.7 L408.9,333.1 L409.1,333.6 L409.4,334.1 L409.7,334.6 L410,335 L410.2,335.5 L410.5,336 L410.8,336.4 L411.1,336.8 L411.4,337.3 L411.6,337.7 L411.9,338.1 L412.2,338.5 L412.5,338.9 L412.8,339.2 L413,339.6 L413.3,340 L413.6,340.3 L414,340.8 L414.4,341.2 L414.8,341.6 L415.2,342 L415.6,342.4 L416.1,342.7 L416.5,343.1 L416.9,343.4 L417.3,343.7 L417.7,343.9 L418.1,344.2 L418.5,344.5 L418.9,344.7 L419.3,345 L419.6,345.2 L420,345.4 L420.6,345.7 L421.1,346 L421.6,346.3 L422.1,346.5 L422.6,346.7 L423.1,346.9 L423.5,347 L424,347.1 L424.5,347.2 L425,347.2 L425.5,347.2 L426,347.1 L426.4,347 L426.9,346.9 L427.4,346.7 L427.9,346.5 L428.4,346.3 L428.9,346.1 L429.5,346 L430.1,345.9 L430.5,345.9 L431,345.9 L431.5,345.9 L432,345.8 L432.5,345.7 L433.1,345.6 L433.6,345.6 L434.2,345.7 L434.7,345.7 L435.3,345.8 L435.8,345.8 L436.3,345.8 L436.8,345.8 L437.3,345.7 L437.7,345.6 L438.2,345.5 L438.7,345.4 L439.2,345.2 L439.6,345.1 L440,344.9 L440.4,344.6 L440.8,344.2 L441.2,343.8 L441.6,343.4 L442,343 L442.4,342.5 L442.8,341.9 L443.1,341.4 L443.4,341 L443.7,340.5 L443.9,340 L444.2,339.4 L444.5,339 L444.8,338.6 L445.1,338.2 L445.4,337.8 L445.6,337.5 L445.9,337.1 L446.2,336.7 L446.5,336.3 L446.8,335.9 L447.1,335.4 L447.3,335 L447.6,334.6 L447.9,334.2 L448.2,333.7 L448.5,333.3 L448.8,332.8 L449.2,332.5 L449.5,332.1 L449.8,331.7 L450.1,331.3 L450.4,330.9 L450.7,330.6 L451,330.2 L451.3,329.7 L451.6,329.2 L452,328.7 L452.3,328.2 L452.6,327.8 L452.9,327.3 L453.3,326.8 L453.7,326.6 L454.1,326.5 L454.5,326.3 L454.9,326.2 L455.2,326 L455.6,325.8 L456,325.4 L456.4,325.1 L456.8,324.8 L457.2,324.4 L457.6,324.1 L458,323.9 L458.5,323.6 L458.9,323.3 L459.4,323 L459.9,322.6 L460.3,322.3 L460.8,321.9 L461.2,321.6 L461.7,321.3 L462.2,321.1 L462.6,321.1 L463.1,321.2 L463.6,321.4 L464,321.6 L464.5,321.8 L465,321.8 L465.4,321.9 L465.9,322 L466.4,322.1 L466.8,322.6 L467.3,322.9 L467.7,323.2 L468.2,323.4 L468.7,323.5 L469.1,323.4 L469.6,323.2 L470,323 L470.5,322.7 L471,322.3 L471.4,321.9 L471.9,321.5 L472.3,321.1 L472.8,320.7 L473.2,320.5 L473.7,320.4 L474.3,320.3 L474.8,320.2 L475.3,320.1 L475.8,319.8 L476.3,319.6 L476.8,319.4 L477.3,319.3 L477.8,319.4 L478.3,319.6 L478.9,319.9 L479.4,320.3 L480,320.6 L480.5,320.8 L481,321.1 L481.4,321.4 L481.8,321.6 L482.1,321.8" stroke="#000" stroke-width="2.8" fill="none" stroke-linejoin="round" stroke-linecap="round" />
<line x1="520.1" y1="264.2" x2="520.1" y2="427.3" stroke="#000" stroke-width="2.7" stroke-linecap="butt"/>
<line x1="518.9" y1="426.1" x2="713.9" y2="426.1" stroke="#000" stroke-width="2.5" stroke-linecap="butt"/>
<line x1="516.3" y1="426.1" x2="520.1" y2="426.1" stroke="#000" stroke-width="2" stroke-linecap="butt"/>
<line x1="516.3" y1="397.4" x2="520.1" y2="397.4" stroke="#000" stroke-width="2" stroke-linecap="butt"/>
<line x1="516.3" y1="368.7" x2="520.1" y2="368.7" stroke="#000" stroke-width="2" stroke-linecap="butt"/>
<line x1="516.3" y1="340" x2="520.1" y2="340" stroke="#000" stroke-width="2" stroke-linecap="butt"/>
<line x1="516.3" y1="311.3" x2="520.1" y2="311.3" stroke="#000" stroke-width="2" stroke-linecap="butt"/>
<line x1="516.3" y1="282.6" x2="520.1" y2="282.6" stroke="#000" stroke-width="2" stroke-linecap="butt"/>
<text x="511.1" y="431.7" font-size="15.6" text-anchor="end" font-weight="normal" font-style="normal" fill="#000" >0</text>
<text x="511.1" y="403" font-size="15.6" text-anchor="end" font-weight="normal" font-style="normal" fill="#000" >5</text>
<text x="511.1" y="374.3" font-size="15.6" text-anchor="end" font-weight="normal" font-style="normal" fill="#000" >10</text>
<text x="511.1" y="345.6" font-size="15.6" text-anchor="end" font-weight="normal" font-style="normal" fill="#000" >15</text>
<text x="511.1" y="316.9" font-size="15.6" text-anchor="end" font-weight="normal" font-style="normal" fill="#000" >20</text>
<text x="511.1" y="288.2" font-size="15.6" text-anchor="end" font-weight="normal" font-style="normal" fill="#000" >25</text>
<line x1="520.1" y1="426.1" x2="520.1" y2="429.4" stroke="#000" stroke-width="2" stroke-linecap="butt"/>
<text x="521" y="449.3" font-size="15.6" text-anchor="middle" font-weight="normal" font-style="normal" fill="#000" letter-spacing="0.2">390</text>
<line x1="555.3" y1="426.1" x2="555.3" y2="429.4" stroke="#000" stroke-width="2" stroke-linecap="butt"/>
<text x="556.2" y="449.3" font-size="15.6" text-anchor="middle" font-weight="normal" font-style="normal" fill="#000" letter-spacing="0.2">410</text>
<line x1="590.5" y1="426.1" x2="590.5" y2="429.4" stroke="#000" stroke-width="2" stroke-linecap="butt"/>
<text x="591.4" y="449.3" font-size="15.6" text-anchor="middle" font-weight="normal" font-style="normal" fill="#000" letter-spacing="0.2">430</text>
<line x1="625.7" y1="426.1" x2="625.7" y2="429.4" stroke="#000" stroke-width="2" stroke-linecap="butt"/>
<text x="626.6" y="449.3" font-size="15.6" text-anchor="middle" font-weight="normal" font-style="normal" fill="#000" letter-spacing="0.2">450</text>
<line x1="660.9" y1="426.1" x2="660.9" y2="429.4" stroke="#000" stroke-width="2" stroke-linecap="butt"/>
<text x="661.8" y="449.3" font-size="15.6" text-anchor="middle" font-weight="normal" font-style="normal" fill="#000" letter-spacing="0.2">470</text>
<line x1="696.1" y1="426.1" x2="696.1" y2="429.4" stroke="#000" stroke-width="2" stroke-linecap="butt"/>
<text x="697" y="449.3" font-size="15.6" text-anchor="middle" font-weight="normal" font-style="normal" fill="#000" letter-spacing="0.2">490</text>
<text x="494.5" y="263.5" font-size="31" text-anchor="start" font-weight="bold" font-style="normal" fill="#000" >F</text>
<path d="M520.1,404.5 L520.3,404.7 L520.6,405 L520.8,405.2 L521.1,405.6 L521.5,405.9 L521.8,406.3 L522.2,406.7 L522.6,407.1 L523,407.5 L523.5,408 L523.9,408.4 L524.4,408.8 L524.8,409.3 L525.3,409.7 L525.7,410.1 L526.1,410.4 L526.4,410.8 L526.8,411.1 L527.2,411.5 L527.6,411.8 L528,412.2 L528.4,412.5 L528.8,412.9 L529.2,413.3 L529.6,413.6 L530,414 L530.4,414.3 L530.8,414.7 L531.2,415 L531.7,415.3 L532.1,415.7 L532.5,416 L532.9,416.2 L533.3,416.5 L533.8,416.8 L534.3,417.1 L534.7,417.4 L535.2,417.6 L535.7,417.9 L536.2,418.1 L536.7,418.3 L537.2,418.5 L537.7,418.7 L538.1,418.9 L538.6,419.1 L539.1,419.2 L539.6,419.4 L540,419.5 L540.5,419.6 L540.9,419.7 L541.5,419.8 L542,419.9 L542.6,419.9 L543.1,419.9 L543.6,419.9 L544.1,419.9 L544.6,419.8 L545.1,419.7 L545.6,419.6 L546.2,419.4 L546.7,419.2 L547.2,419 L547.6,418.8 L548,418.6 L548.4,418.4 L548.8,418.2 L549.2,417.9 L549.6,417.6 L550,417.3 L550.4,417 L550.8,416.7 L551.2,416.4 L551.6,416 L552,415.6 L552.4,415.2 L552.8,414.8 L553.2,414.4 L553.6,413.9 L553.9,413.6 L554.2,413.2 L554.4,412.9 L554.7,412.5 L555,412.1 L555.2,411.7 L555.5,411.3 L555.8,410.9 L556.1,410.5 L556.3,410.1 L556.6,409.6 L556.9,409.2 L557.2,408.7 L557.4,408.3 L557.7,407.8 L558,407.3 L558.3,406.8 L558.5,406.3 L558.8,405.9 L559.1,405.3 L559.3,404.8 L559.6,404.3 L559.9,403.8 L560.1,403.4 L560.3,403 L560.5,402.5 L560.7,402.1 L561,401.6 L561.2,401.2 L561.4,400.7 L561.6,400.2 L561.8,399.8 L562,399.3 L562.2,398.8 L562.5,398.3 L562.7,397.8 L562.9,397.3 L563.1,396.8 L563.3,396.3 L563.5,395.8 L563.7,395.3 L564,394.8 L564.2,394.3 L564.4,393.8 L564.6,393.4 L564.8,392.9 L565,392.4 L565.2,392 L565.5,391.5 L565.7,391.1 L565.9,390.6 L566.1,390.2 L566.3,389.8 L566.6,389.3 L566.9,388.8 L567.1,388.3 L567.4,387.7 L567.7,387.3 L568,386.8 L568.2,386.3 L568.5,385.8 L568.8,385.3 L569,384.9 L569.3,384.4 L569.6,384 L569.9,383.5 L570.1,383.1 L570.4,382.7 L570.7,382.3 L571,381.9 L571.2,381.5 L571.5,381.1 L571.8,380.7 L572.1,380.4 L572.3,380 L572.6,379.7 L573,379.2 L573.4,378.8 L573.8,378.4 L574.2,378.1 L574.6,377.8 L575,377.4 L575.4,377.1 L575.7,376.9 L576.1,376.6 L576.5,376.3 L576.9,376.1 L577.3,375.8 L577.7,375.5 L578.1,375.2 L578.5,374.9 L578.9,374.6 L579.3,374.3 L579.6,374 L580,373.7 L580.4,373.5 L580.8,373.2 L581.2,372.9 L581.5,372.7 L581.9,372.4 L582.3,372.1 L582.7,371.8 L583,371.5 L583.4,371.1 L583.8,370.8 L584.2,370.4 L584.6,370 L584.9,369.5 L585.3,369 L585.5,368.7 L585.8,368.3 L586,368 L586.2,367.6 L586.5,367.2 L586.7,366.8 L586.9,366.4 L587.2,366 L587.4,365.6 L587.6,365.2 L587.9,364.8 L588.1,364.3 L588.3,363.9 L588.6,363.4 L588.8,363 L589,362.5 L589.3,362 L589.5,361.5 L589.7,361 L590,360.5 L590.2,360 L590.4,359.5 L590.7,359 L590.9,358.4 L591.1,357.9 L591.4,357.4 L591.6,356.8 L591.8,356.4 L591.9,356 L592.1,355.6 L592.3,355.1 L592.5,354.7 L592.6,354.3 L592.8,353.8 L593,353.4 L593.2,352.9 L593.3,352.5 L593.5,352 L593.7,351.6 L593.8,351.1 L594,350.6 L594.2,350.1 L594.4,349.7 L594.5,349.2 L594.7,348.7 L594.9,348.2 L595.1,347.7 L595.2,347.2 L595.4,346.7 L595.6,346.2 L595.8,345.7 L595.9,345.2 L596.1,344.7 L596.3,344.2 L596.4,343.7 L596.6,343.2 L596.8,342.7 L597,342.2 L597.1,341.7 L597.3,341.2 L597.5,340.6 L597.7,340.1 L597.8,339.6 L598,339.1 L598.2,338.6 L598.3,338.2 L598.5,337.7 L598.6,337.3 L598.8,336.8 L598.9,336.3 L599.1,335.9 L599.2,335.4 L599.4,334.9 L599.5,334.4 L599.7,334 L599.8,333.5 L600,333 L600.1,332.5 L600.3,332 L600.4,331.6 L600.6,331.1 L600.7,330.6 L600.9,330.1 L601,329.6 L601.2,329.1 L601.3,328.6 L601.5,328.1 L601.6,327.6 L601.8,327.1 L601.9,326.7 L602.1,326.2 L602.2,325.7 L602.4,325.2 L602.5,324.7 L602.7,324.2 L602.8,323.7 L603,323.2 L603.1,322.7 L603.3,322.2 L603.4,321.7 L603.6,321.2 L603.7,320.7 L603.9,320.3 L604,319.8 L604.2,319.3 L604.3,318.8 L604.5,318.3 L604.6,317.8 L604.8,317.3 L604.9,316.8 L605.1,316.3 L605.2,315.8 L605.4,315.3 L605.5,314.8 L605.7,314.3 L605.8,313.8 L606,313.3 L606.1,312.7 L606.3,312.2 L606.4,311.7 L606.6,311.2 L606.8,310.7 L606.9,310.1 L607.1,309.6 L607.2,309.1 L607.4,308.6 L607.5,308.1 L607.7,307.6 L607.8,307.1 L608,306.6 L608.1,306.1 L608.3,305.6 L608.4,305.1 L608.6,304.6 L608.7,304.1 L608.9,303.7 L609,303.2 L609.2,302.7 L609.3,302.3 L609.5,301.8 L609.6,301.4 L609.8,300.9 L609.9,300.5 L610,300.1 L610.2,299.7 L610.3,299.3 L610.5,298.9 L610.6,298.5 L610.8,297.8 L611.1,297.2 L611.3,296.6 L611.5,296 L611.8,295.4 L612,294.8 L612.2,294.3 L612.4,293.7 L612.7,293.2 L612.9,292.7 L613.1,292.2 L613.3,291.7 L613.5,291.2 L613.7,290.8 L613.9,290.3 L614.1,289.9 L614.3,289.5 L614.5,289.1 L614.7,288.7 L614.9,288.4 L615.1,288 L615.3,287.7 L615.5,287.4 L615.7,287.1 L616.2,286.4 L616.6,285.8 L617.1,285.3 L617.5,285 L617.9,284.7 L618.3,284.6 L618.7,284.5 L619.1,284.5 L619.5,284.5 L619.9,284.6 L620.2,284.6 L620.6,284.7 L621,284.9 L621.3,285.1 L621.7,285.5 L622.1,285.9 L622.5,286.5 L622.9,287.3 L623.3,288.3 L623.4,288.6 L623.5,288.9 L623.7,289.2 L623.8,289.6 L623.9,290 L624,290.3 L624.2,290.7 L624.3,291.1 L624.4,291.5 L624.6,292 L624.7,292.4 L624.8,292.9 L624.9,293.3 L625.1,293.8 L625.2,294.3 L625.4,294.8 L625.5,295.3 L625.6,295.8 L625.8,296.3 L625.9,296.8 L626,297.3 L626.2,297.8 L626.3,298.4 L626.5,298.9 L626.6,299.5 L626.8,300 L626.9,300.6 L627,301.1 L627.2,301.7 L627.3,302.2 L627.5,302.8 L627.6,303.3 L627.8,303.9 L627.9,304.4 L628.1,305 L628.2,305.5 L628.4,306.1 L628.5,306.5 L628.6,307 L628.8,307.4 L628.9,307.9 L629,308.4 L629.1,308.8 L629.3,309.3 L629.4,309.8 L629.5,310.3 L629.7,310.8 L629.8,311.3 L629.9,311.7 L630.1,312.3 L630.2,312.8 L630.3,313.3 L630.5,313.8 L630.6,314.3 L630.7,314.8 L630.9,315.3 L631,315.8 L631.1,316.4 L631.3,316.9 L631.4,317.4 L631.5,317.9 L631.7,318.4 L631.8,318.9 L631.9,319.5 L632.1,320 L632.2,320.5 L632.4,321 L632.5,321.5 L632.6,322 L632.8,322.5 L632.9,323 L633.1,323.5 L633.2,324 L633.3,324.5 L633.5,324.9 L633.6,325.4 L633.7,325.9 L633.9,326.3 L634,326.8 L634.2,327.2 L634.3,327.6 L634.4,328.1 L634.6,328.5 L634.7,328.9 L634.9,329.5 L635.1,330 L635.3,330.6 L635.5,331.1 L635.7,331.7 L635.9,332.2 L636.1,332.7 L636.2,333.2 L636.4,333.8 L636.6,334.3 L636.8,334.7 L637,335.2 L637.2,335.7 L637.4,336.2 L637.6,336.7 L637.8,337.1 L638,337.6 L638.2,338 L638.4,338.5 L638.6,338.9 L638.8,339.3 L639,339.8 L639.2,340.2 L639.4,340.6 L639.6,341 L639.7,341.4 L639.9,341.8 L640.1,342.2 L640.3,342.6 L640.5,343 L640.7,343.4 L640.9,343.8 L641.1,344.2 L641.4,344.7 L641.6,345.3 L641.9,345.8 L642.2,346.3 L642.5,346.8 L642.7,347.3 L643,347.8 L643.2,348.2 L643.5,348.7 L643.8,349.2 L644,349.6 L644.3,350 L644.6,350.5 L644.8,350.9 L645.1,351.3 L645.4,351.7 L645.7,352.1 L645.9,352.5 L646.2,352.8 L646.5,353.2 L646.8,353.6 L647.1,353.9 L647.4,354.3 L647.8,354.7 L648.1,355.1 L648.5,355.5 L648.9,355.9 L649.3,356.3 L649.7,356.7 L650.1,357 L650.5,357.4 L650.9,357.7 L651.3,358.1 L651.7,358.4 L652.1,358.7 L652.6,359 L653,359.3 L653.4,359.6 L653.8,359.8 L654.2,360.1 L654.6,360.3 L655,360.6 L655.5,360.9 L656,361.1 L656.4,361.4 L656.9,361.6 L657.4,361.8 L657.9,362 L658.4,362.2 L658.9,362.4 L659.4,362.6 L659.8,362.8 L660.3,362.9 L660.8,363.1 L661.2,363.3 L661.7,363.4 L662.2,363.6 L662.6,363.8 L663.1,364 L663.7,364.2 L664.2,364.4 L664.7,364.6 L665.2,364.8 L665.7,364.9 L666.2,365.1 L666.7,365.2 L667.2,365.3 L667.6,365.3 L668.1,365.4 L668.6,365.4 L669,365.5 L669.6,365.7 L670.1,366 L670.6,366.2 L671.1,366.5 L671.6,366.7 L672.1,366.8 L672.6,367 L673.1,367.1 L673.6,367.1 L674.1,367 L674.6,366.9 L675,366.7 L675.4,366.5 L675.9,366.4 L676.3,366.1 L676.7,365.9 L677.2,365.6 L677.6,365.4 L678.1,365.1 L678.6,364.8 L679.1,364.5 L679.5,364.3 L679.9,364 L680.3,363.7 L680.7,363.3 L681.1,363 L681.5,362.6 L681.9,362.3 L682.4,362 L682.8,361.8 L683.2,361.5 L683.7,361.3 L684.1,361.1 L684.6,360.8 L685,360.4 L685.5,360 L685.9,359.7 L686.4,359.4 L686.9,359.3 L687.3,359.2 L687.8,359.1 L688.3,359 L688.7,358.8 L689.2,358.7 L689.7,358.6 L690.2,358.5 L690.7,358.4 L691.2,358.3 L691.7,358.2 L692.1,358.1 L692.6,357.9 L693.1,357.8 L693.6,357.6 L694.1,357.4 L694.6,357.3 L695.2,357.1 L695.7,356.9 L696.2,356.7 L696.7,356.6 L697.2,356.4 L697.8,356.3 L698.3,356.2 L698.8,356.1 L699.3,356.1 L699.8,356 L700.2,355.8 L700.7,355.7 L701.3,355.5 L701.8,355.3 L702.4,355.2 L702.9,355 L703.4,354.9 L703.9,354.7 L704.4,354.5 L704.9,354.4 L705.4,354.3 L705.9,354.2 L706.5,354.2 L707,354.2 L707.5,354.2 L707.9,354.4 L708.5,354.5 L709,354.8 L709.5,355.1 L710,355.4 L710.6,355.8 L711.1,356.2 L711.6,356.6 L712.1,356.9 L712.5,357.2 L713,357.5 L713.3,357.7 L713.6,357.9 L713.9,358.1" stroke="#000" stroke-width="2.8" fill="none" stroke-linejoin="round" stroke-linecap="round" />
<line x1="62.1" y1="489" x2="62.1" y2="651.5" stroke="#000" stroke-width="2.7" stroke-linecap="butt"/>
<line x1="60.9" y1="650.3" x2="257.5" y2="650.3" stroke="#000" stroke-width="2.5" stroke-linecap="butt"/>
<line x1="58.3" y1="650.3" x2="62.1" y2="650.3" stroke="#000" stroke-width="2" stroke-linecap="butt"/>
<line x1="58.3" y1="618" x2="62.1" y2="618" stroke="#000" stroke-width="2" stroke-linecap="butt"/>
<line x1="58.3" y1="585.8" x2="62.1" y2="585.8" stroke="#000" stroke-width="2" stroke-linecap="butt"/>
<line x1="58.3" y1="553.5" x2="62.1" y2="553.5" stroke="#000" stroke-width="2" stroke-linecap="butt"/>
<line x1="58.3" y1="521.3" x2="62.1" y2="521.3" stroke="#000" stroke-width="2" stroke-linecap="butt"/>
<line x1="58.3" y1="489" x2="62.1" y2="489" stroke="#000" stroke-width="2" stroke-linecap="butt"/>
<text x="53.1" y="655.9" font-size="15.6" text-anchor="end" font-weight="normal" font-style="normal" fill="#000" >0</text>
<text x="53.1" y="623.6" font-size="15.6" text-anchor="end" font-weight="normal" font-style="normal" fill="#000" >2</text>
<text x="53.1" y="591.4" font-size="15.6" text-anchor="end" font-weight="normal" font-style="normal" fill="#000" >4</text>
<text x="53.1" y="559.1" font-size="15.6" text-anchor="end" font-weight="normal" font-style="normal" fill="#000" >6</text>
<text x="53.1" y="526.9" font-size="15.6" text-anchor="end" font-weight="normal" font-style="normal" fill="#000" >8</text>
<line x1="62.1" y1="650.3" x2="62.1" y2="653.6" stroke="#000" stroke-width="2" stroke-linecap="butt"/>
<text x="63" y="673.5" font-size="15.6" text-anchor="middle" font-weight="normal" font-style="normal" fill="#000" letter-spacing="0.2">390</text>
<line x1="97.5" y1="650.3" x2="97.5" y2="653.6" stroke="#000" stroke-width="2" stroke-linecap="butt"/>
<text x="98.4" y="673.5" font-size="15.6" text-anchor="middle" font-weight="normal" font-style="normal" fill="#000" letter-spacing="0.2">410</text>
<line x1="132.9" y1="650.3" x2="132.9" y2="653.6" stroke="#000" stroke-width="2" stroke-linecap="butt"/>
<text x="133.8" y="673.5" font-size="15.6" text-anchor="middle" font-weight="normal" font-style="normal" fill="#000" letter-spacing="0.2">430</text>
<line x1="168.3" y1="650.3" x2="168.3" y2="653.6" stroke="#000" stroke-width="2" stroke-linecap="butt"/>
<text x="169.2" y="673.5" font-size="15.6" text-anchor="middle" font-weight="normal" font-style="normal" fill="#000" letter-spacing="0.2">450</text>
<line x1="203.7" y1="650.3" x2="203.7" y2="653.6" stroke="#000" stroke-width="2" stroke-linecap="butt"/>
<text x="204.6" y="673.5" font-size="15.6" text-anchor="middle" font-weight="normal" font-style="normal" fill="#000" letter-spacing="0.2">470</text>
<line x1="239.1" y1="650.3" x2="239.1" y2="653.6" stroke="#000" stroke-width="2" stroke-linecap="butt"/>
<text x="240" y="673.5" font-size="15.6" text-anchor="middle" font-weight="normal" font-style="normal" fill="#000" letter-spacing="0.2">490</text>
<text x="31" y="489" font-size="31" text-anchor="start" font-weight="bold" font-style="normal" fill="#000" >G</text>
<path d="M62.1,648.8 L62.1,648.5 L62.2,648.2 L62.2,647.9 L62.3,647.6 L62.3,647.2 L62.4,646.8 L62.5,646.4 L62.5,645.9 L62.6,645.5 L62.7,645 L62.7,644.5 L62.8,644 L62.9,643.5 L63,642.9 L63,642.4 L63.1,641.8 L63.2,641.2 L63.3,640.7 L63.4,640.1 L63.5,639.5 L63.5,638.9 L63.6,638.3 L63.7,637.7 L63.8,637.1 L63.9,636.6 L64,636 L64.1,635.4 L64.2,634.8 L64.2,634.2 L64.3,633.7 L64.4,633.1 L64.5,632.6 L64.6,632.1 L64.7,631.6 L64.7,631.2 L64.8,630.7 L64.9,630.2 L65,629.7 L65,629.2 L65.1,628.7 L65.2,628.2 L65.3,627.7 L65.4,627.2 L65.4,626.7 L65.5,626.2 L65.6,625.7 L65.7,625.1 L65.8,624.6 L65.8,624.1 L65.9,623.6 L66,623.1 L66.1,622.6 L66.2,622.1 L66.3,621.6 L66.4,621.1 L66.4,620.6 L66.5,620.1 L66.6,619.6 L66.7,619.1 L66.8,618.6 L66.9,618.1 L67,617.6 L67.1,617.1 L67.1,616.7 L67.2,616.2 L67.3,615.7 L67.4,615.3 L67.5,614.8 L67.6,614.3 L67.7,613.7 L67.8,613.2 L67.9,612.6 L68,612.1 L68.1,611.6 L68.2,611 L68.3,610.5 L68.5,610 L68.6,609.4 L68.7,608.9 L68.8,608.4 L68.9,607.9 L69,607.4 L69.1,606.9 L69.2,606.4 L69.3,605.9 L69.4,605.4 L69.6,604.9 L69.7,604.4 L69.8,604 L69.9,603.5 L70,603 L70.2,602.6 L70.3,602.1 L70.4,601.7 L70.6,601.3 L70.7,600.8 L70.9,600.4 L71,600 L71.2,599.4 L71.4,598.9 L71.7,598.4 L71.9,597.9 L72.2,597.4 L72.4,596.9 L72.7,596.5 L72.9,596.1 L73.2,595.6 L73.5,595.2 L73.7,594.8 L74,594.4 L74.3,594 L74.6,593.6 L74.8,593.2 L75.1,592.8 L75.4,592.3 L75.6,591.9 L75.9,591.4 L76.1,591 L76.4,590.5 L76.6,590.1 L76.8,589.6 L77,589.2 L77.3,588.8 L77.5,588.3 L77.7,587.9 L77.9,587.4 L78.1,587 L78.3,586.5 L78.5,586.1 L78.8,585.6 L79,585.1 L79.2,584.7 L79.4,584.2 L79.6,583.7 L79.8,583.3 L80,582.8 L80.2,582.3 L80.4,581.8 L80.6,581.3 L80.8,580.8 L81,580.3 L81.2,579.8 L81.4,579.3 L81.6,578.9 L81.7,578.4 L81.9,577.9 L82.1,577.5 L82.2,577 L82.4,576.5 L82.5,576.1 L82.7,575.6 L82.9,575.1 L83,574.6 L83.2,574.1 L83.3,573.6 L83.5,573.1 L83.6,572.6 L83.8,572.1 L83.9,571.6 L84.1,571.1 L84.2,570.6 L84.4,570.1 L84.6,569.6 L84.7,569.2 L84.9,568.7 L85,568.2 L85.2,567.8 L85.3,567.3 L85.5,566.9 L85.6,566.4 L85.8,566 L86,565.5 L86.2,564.9 L86.4,564.4 L86.6,563.9 L86.8,563.3 L87,562.8 L87.2,562.3 L87.4,561.8 L87.6,561.3 L87.8,560.8 L88,560.3 L88.3,559.9 L88.5,559.4 L88.7,558.9 L88.9,558.5 L89.1,558 L89.3,557.6 L89.5,557.2 L89.7,556.8 L89.9,556.4 L90.1,556 L90.3,555.6 L90.6,555 L90.9,554.5 L91.2,554.1 L91.6,553.6 L91.9,553.2 L92.2,552.8 L92.5,552.5 L92.8,552.1 L93.1,551.7 L93.4,551.4 L93.8,551 L94.1,550.6 L94.4,550.2 L94.7,549.7 L95,549.3 L95.2,549 L95.5,548.6 L95.7,548.3 L96,547.9 L96.2,547.6 L96.5,547.2 L96.8,546.8 L97,546.5 L97.3,546.1 L97.5,545.6 L97.8,545.2 L98.1,544.7 L98.3,544.2 L98.6,543.6 L98.8,543 L99.1,542.3 L99.2,541.9 L99.4,541.5 L99.5,541.2 L99.6,540.7 L99.8,540.3 L99.9,539.9 L100,539.4 L100.2,539 L100.3,538.5 L100.5,538 L100.6,537.5 L100.7,537 L100.9,536.5 L101,536 L101.1,535.5 L101.3,535 L101.4,534.4 L101.6,533.9 L101.7,533.4 L101.8,532.8 L102,532.3 L102.1,531.8 L102.2,531.2 L102.4,530.7 L102.5,530.1 L102.7,529.6 L102.8,529.1 L102.9,528.6 L103.1,528 L103.2,527.5 L103.3,527 L103.5,526.5 L103.6,526 L103.7,525.5 L103.9,525 L104,524.5 L104.1,524 L104.3,523.4 L104.4,522.9 L104.5,522.4 L104.7,521.8 L104.8,521.3 L105,520.8 L105.1,520.2 L105.2,519.7 L105.4,519.1 L105.5,518.6 L105.6,518.1 L105.8,517.5 L105.9,517 L106,516.5 L106.2,516 L106.3,515.4 L106.4,514.9 L106.6,514.4 L106.7,514 L106.8,513.5 L107,513 L107.1,512.6 L107.2,512.1 L107.4,511.7 L107.5,511.3 L107.6,510.9 L107.7,510.5 L107.9,510.1 L108,509.8 L108.3,509 L108.6,508.3 L108.9,507.6 L109.1,507 L109.4,506.4 L109.7,505.9 L110,505.4 L110.2,505 L110.5,504.6 L110.8,504.3 L111,504.1 L111.3,503.9 L111.6,503.8 L111.9,503.8 L112.2,503.8 L112.5,503.9 L112.8,504.1 L113.1,504.3 L113.4,504.5 L113.7,504.8 L114,505.2 L114.3,505.7 L114.7,506.2 L115,506.8 L115.3,507.4 L115.6,508.1 L116,508.9 L116.3,509.8 L116.4,510.1 L116.5,510.5 L116.7,510.8 L116.8,511.2 L116.9,511.6 L117,512 L117.1,512.4 L117.3,512.8 L117.4,513.2 L117.5,513.6 L117.6,514 L117.8,514.5 L117.9,514.9 L118,515.4 L118.1,515.9 L118.3,516.4 L118.4,516.9 L118.5,517.4 L118.6,517.9 L118.8,518.4 L118.9,518.9 L119,519.4 L119.1,519.9 L119.3,520.5 L119.4,521 L119.5,521.6 L119.7,522.1 L119.8,522.7 L119.9,523.2 L120.1,523.8 L120.2,524.4 L120.3,524.9 L120.5,525.5 L120.6,526.1 L120.7,526.7 L120.9,527.2 L121,527.8 L121.2,528.4 L121.3,529 L121.4,529.4 L121.5,529.9 L121.6,530.3 L121.7,530.8 L121.8,531.2 L121.9,531.7 L122,532.2 L122.1,532.7 L122.2,533.2 L122.4,533.7 L122.5,534.2 L122.6,534.7 L122.7,535.2 L122.8,535.7 L122.9,536.2 L123,536.7 L123.1,537.3 L123.2,537.8 L123.3,538.3 L123.5,538.9 L123.6,539.4 L123.7,540 L123.8,540.5 L123.9,541 L124,541.6 L124.1,542.1 L124.2,542.7 L124.4,543.2 L124.5,543.7 L124.6,544.3 L124.7,544.8 L124.8,545.4 L124.9,545.9 L125,546.4 L125.2,546.9 L125.3,547.4 L125.4,548 L125.5,548.5 L125.6,549 L125.7,549.5 L125.8,550 L126,550.4 L126.1,550.9 L126.2,551.4 L126.3,551.9 L126.4,552.3 L126.5,552.8 L126.6,553.2 L126.7,553.6 L126.9,554 L127,554.4 L127.1,554.8 L127.2,555.2 L127.3,555.6 L127.5,556.3 L127.7,556.9 L127.9,557.6 L128.1,558.2 L128.3,558.8 L128.5,559.4 L128.7,560 L128.9,560.6 L129.1,561.1 L129.3,561.6 L129.5,562.1 L129.7,562.6 L130,563.1 L130.2,563.6 L130.4,564 L130.6,564.5 L130.8,564.9 L131,565.3 L131.2,565.7 L131.4,566.1 L131.6,566.5 L131.8,566.8 L132,567.1 L132.2,567.5 L132.4,567.8 L132.6,568.1 L132.8,568.4 L133,568.6 L133.2,568.9 L133.7,569.5 L134.2,569.9 L134.7,570.3 L135.2,570.5 L135.7,570.7 L136.2,570.9 L136.6,570.9 L137.1,570.9 L137.6,570.8 L138.1,570.7 L138.6,570.6 L139.1,570.4 L139.5,570.2 L139.8,570 L140.2,569.8 L140.6,569.5 L140.9,569.2 L141.3,568.8 L141.7,568.4 L142.1,568 L142.4,567.6 L142.8,567.1 L143.2,566.7 L143.5,566.3 L143.9,565.8 L144.3,565.4 L144.6,564.9 L145,564.5 L145.3,564.1 L145.7,563.7 L146,563.3 L146.3,562.9 L146.6,562.5 L147,562.1 L147.3,561.6 L147.6,561.2 L148,560.7 L148.3,560.3 L148.6,559.9 L148.9,559.4 L149.3,559 L149.6,558.6 L149.9,558.2 L150.2,557.8 L150.6,557.5 L150.9,557.1 L151.3,556.7 L151.7,556.4 L152.1,556 L152.4,555.8 L152.8,555.5 L153.2,555.2 L153.6,555 L153.9,554.7 L154.3,554.4 L154.7,554.1 L155.1,553.8 L155.5,553.5 L155.9,553.1 L156.4,552.6 L156.8,552.1 L157,551.8 L157.3,551.4 L157.6,551.1 L157.8,550.7 L158.1,550.3 L158.4,549.9 L158.6,549.5 L158.9,549 L159.2,548.6 L159.5,548.1 L159.8,547.7 L160.1,547.2 L160.4,546.7 L160.6,546.2 L160.9,545.8 L161.2,545.3 L161.5,544.8 L161.8,544.4 L162.1,543.9 L162.3,543.5 L162.6,543 L162.9,542.6 L163.2,542.2 L163.4,541.8 L163.7,541.5 L163.9,541.1 L164.2,540.8 L164.6,540.3 L165,539.8 L165.4,539.3 L165.8,538.9 L166.2,538.4 L166.6,538 L166.9,537.7 L167.3,537.3 L167.7,537 L168,536.7 L168.4,536.4 L168.7,536.1 L169.1,535.9 L169.5,535.8 L169.8,535.6 L170.2,535.5 L170.7,535.4 L171.2,535.4 L171.7,535.4 L172.2,535.5 L172.7,535.7 L173.2,535.9 L173.6,536.2 L174.1,536.4 L174.6,536.8 L175.1,537.1 L175.6,537.5 L176.1,537.9 L176.4,538.2 L176.8,538.5 L177.1,538.9 L177.4,539.2 L177.7,539.6 L178.1,540.1 L178.4,540.5 L178.7,540.9 L179.1,541.4 L179.4,541.8 L179.7,542.3 L180,542.8 L180.4,543.2 L180.7,543.7 L181,544.1 L181.3,544.5 L181.7,544.9 L182,545.3 L182.4,545.7 L182.7,546.1 L183.1,546.5 L183.4,546.9 L183.8,547.3 L184.1,547.7 L184.5,548.1 L184.9,548.4 L185.2,548.8 L185.6,549.2 L185.9,549.5 L186.3,549.9 L186.7,550.2 L187.1,550.5 L187.5,550.9 L187.9,551.2 L188.3,551.5 L188.7,551.8 L189.1,552.1 L189.5,552.4 L190,552.7 L190.4,552.9 L190.8,553.2 L191.3,553.5 L191.7,553.7 L192.2,554 L192.6,554.3 L193.1,554.5 L193.5,554.7 L194,555 L194.4,555.2 L194.9,555.4 L195.3,555.6 L195.8,555.8 L196.3,556 L196.8,556.2 L197.3,556.4 L197.9,556.6 L198.4,556.7 L198.9,556.9 L199.4,557 L199.9,557.2 L200.4,557.3 L200.9,557.4 L201.4,557.6 L201.9,557.7 L202.3,557.9 L202.7,558 L203.3,558.3 L203.9,558.6 L204.4,558.9 L204.8,559.2 L205.3,559.5 L205.7,559.8 L206.2,560 L206.7,560.1 L207.2,560.2 L207.6,560.1 L208,560.1 L208.4,560 L208.9,559.9 L209.3,559.7 L209.7,559.5 L210.2,559.2 L210.7,558.9 L211.1,558.6 L211.6,558.3 L212.1,558 L212.6,557.8 L213.1,557.5 L213.4,557.3 L213.8,556.9 L214.1,556.6 L214.5,556.3 L214.8,555.9 L215.2,555.5 L215.6,555.1 L216,554.7 L216.3,554.3 L216.7,553.8 L217.1,553.4 L217.5,552.9 L217.9,552.5 L218.2,552.1 L218.6,551.7 L219,551.4 L219.4,551 L219.8,550.7 L220.1,550.4 L220.5,550.2 L220.9,550 L221.3,549.8 L221.7,549.6 L222.1,549.4 L222.6,548.9 L223,548.4 L223.4,548 L223.8,547.5 L224.2,547 L224.6,546.7 L225,546.5 L225.4,546.3 L225.8,546.1 L226.3,546 L226.7,545.8 L227.1,545.5 L227.5,545.2 L227.9,544.9 L228.3,544.6 L228.8,544.2 L229.2,543.9 L229.7,543.5 L230.1,543.1 L230.6,542.7 L231,542.3 L231.5,542 L231.9,541.7 L232.4,541.4 L232.8,541.1 L233.2,540.8 L233.7,540.4 L234.1,540.1 L234.5,539.8 L234.9,539.6 L235.3,539.3 L235.9,539.2 L236.4,539.1 L237,539.1 L237.5,539.1 L238,539.1 L238.5,539 L239,539 L239.5,539 L240.1,539 L240.6,539.1 L241.2,539.1 L241.7,539.2 L242.2,539.1 L242.7,539 L243.2,538.8 L243.7,538.6 L244.2,538.5 L244.7,538.4 L245.2,538.3 L245.8,538.2 L246.3,538.1 L246.9,538.1 L247.5,538.1 L248,538.1 L248.6,538.1 L249.1,538 L249.6,537.9 L250.2,537.9 L250.8,537.8 L251.4,537.8 L252,537.7 L252.6,537.7 L253.2,537.6 L253.8,537.4 L254.4,537.2 L255,537 L255.5,537 L256,537.1 L256.4,537.1 L256.9,537.1 L257.2,537.1 L257.5,537" stroke="#000" stroke-width="2.8" fill="none" stroke-linejoin="round" stroke-linecap="round" />
<line x1="292.2" y1="488.2" x2="292.2" y2="651.5" stroke="#000" stroke-width="2.7" stroke-linecap="butt"/>
<line x1="291" y1="650.3" x2="480.3" y2="650.3" stroke="#000" stroke-width="2.5" stroke-linecap="butt"/>
<line x1="288.4" y1="650.3" x2="292.2" y2="650.3" stroke="#000" stroke-width="2" stroke-linecap="butt"/>
<line x1="288.4" y1="625.5" x2="292.2" y2="625.5" stroke="#000" stroke-width="2" stroke-linecap="butt"/>
<line x1="288.4" y1="600.7" x2="292.2" y2="600.7" stroke="#000" stroke-width="2" stroke-linecap="butt"/>
<line x1="288.4" y1="575.9" x2="292.2" y2="575.9" stroke="#000" stroke-width="2" stroke-linecap="butt"/>
<line x1="288.4" y1="551.1" x2="292.2" y2="551.1" stroke="#000" stroke-width="2" stroke-linecap="butt"/>
<line x1="288.4" y1="526.3" x2="292.2" y2="526.3" stroke="#000" stroke-width="2" stroke-linecap="butt"/>
<line x1="288.4" y1="501.5" x2="292.2" y2="501.5" stroke="#000" stroke-width="2" stroke-linecap="butt"/>
<text x="283.2" y="655.9" font-size="15.6" text-anchor="end" font-weight="normal" font-style="normal" fill="#000" >0</text>
<text x="283.2" y="631.1" font-size="15.6" text-anchor="end" font-weight="normal" font-style="normal" fill="#000" >2</text>
<text x="283.2" y="606.3" font-size="15.6" text-anchor="end" font-weight="normal" font-style="normal" fill="#000" >4</text>
<text x="283.2" y="581.5" font-size="15.6" text-anchor="end" font-weight="normal" font-style="normal" fill="#000" >6</text>
<text x="283.2" y="556.7" font-size="15.6" text-anchor="end" font-weight="normal" font-style="normal" fill="#000" >8</text>
<text x="283.2" y="531.9" font-size="15.6" text-anchor="end" font-weight="normal" font-style="normal" fill="#000" >10</text>
<line x1="292.2" y1="650.3" x2="292.2" y2="653.6" stroke="#000" stroke-width="2" stroke-linecap="butt"/>
<text x="293.1" y="673.5" font-size="15.6" text-anchor="middle" font-weight="normal" font-style="normal" fill="#000" letter-spacing="0.2">390</text>
<line x1="326.2" y1="650.3" x2="326.2" y2="653.6" stroke="#000" stroke-width="2" stroke-linecap="butt"/>
<text x="327.1" y="673.5" font-size="15.6" text-anchor="middle" font-weight="normal" font-style="normal" fill="#000" letter-spacing="0.2">410</text>
<line x1="360.2" y1="650.3" x2="360.2" y2="653.6" stroke="#000" stroke-width="2" stroke-linecap="butt"/>
<text x="361.1" y="673.5" font-size="15.6" text-anchor="middle" font-weight="normal" font-style="normal" fill="#000" letter-spacing="0.2">430</text>
<line x1="394.2" y1="650.3" x2="394.2" y2="653.6" stroke="#000" stroke-width="2" stroke-linecap="butt"/>
<text x="395.1" y="673.5" font-size="15.6" text-anchor="middle" font-weight="normal" font-style="normal" fill="#000" letter-spacing="0.2">450</text>
<line x1="428.2" y1="650.3" x2="428.2" y2="653.6" stroke="#000" stroke-width="2" stroke-linecap="butt"/>
<text x="429.1" y="673.5" font-size="15.6" text-anchor="middle" font-weight="normal" font-style="normal" fill="#000" letter-spacing="0.2">470</text>
<line x1="462.2" y1="650.3" x2="462.2" y2="653.6" stroke="#000" stroke-width="2" stroke-linecap="butt"/>
<text x="463.1" y="673.5" font-size="15.6" text-anchor="middle" font-weight="normal" font-style="normal" fill="#000" letter-spacing="0.2">490</text>
<text x="262.5" y="489" font-size="31" text-anchor="start" font-weight="bold" font-style="normal" fill="#000" >H</text>
<path d="M292.4,642.7 L292.7,642.8 L293.1,642.9 L293.5,643 L294.1,643.1 L294.6,643.3 L295.2,643.4 L295.8,643.6 L296.4,643.7 L297,643.8 L297.6,643.9 L298.2,644 L298.7,644 L299.2,644.1 L299.7,644.1 L300.3,644.1 L300.8,644.1 L301.3,644 L301.8,644 L302.4,644 L302.9,644 L303.4,644 L304,644 L304.5,644 L305,644 L305.6,644.1 L306.1,644.2 L306.7,644.2 L307.2,644.3 L307.8,644.4 L308.3,644.5 L308.9,644.5 L309.4,644.6 L309.9,644.7 L310.4,644.7 L310.9,644.7 L311.5,644.7 L312,644.7 L312.6,644.7 L313.1,644.7 L313.6,644.6 L314.1,644.6 L314.6,644.5 L315.1,644.4 L315.5,644.2 L316,644 L316.4,643.8 L316.8,643.5 L317.2,643.2 L317.6,642.8 L318,642.5 L318.3,642.1 L318.7,641.6 L319.1,641.2 L319.4,640.7 L319.8,640.2 L320.1,639.8 L320.3,639.4 L320.6,639 L320.9,638.6 L321.2,638.2 L321.4,637.8 L321.7,637.3 L322,636.8 L322.2,636.4 L322.5,635.9 L322.8,635.4 L323.1,634.9 L323.3,634.3 L323.6,633.8 L323.8,633.4 L324,633 L324.2,632.6 L324.4,632.2 L324.6,631.8 L324.8,631.3 L325,630.9 L325.2,630.5 L325.4,630 L325.6,629.6 L325.8,629.1 L326,628.6 L326.2,628.1 L326.4,627.7 L326.6,627.2 L326.8,626.6 L327,626.1 L327.2,625.6 L327.4,625 L327.5,624.6 L327.7,624.2 L327.8,623.7 L328,623.3 L328.1,622.8 L328.3,622.3 L328.4,621.9 L328.6,621.4 L328.7,620.9 L328.9,620.4 L329,619.9 L329.2,619.4 L329.3,618.9 L329.4,618.4 L329.6,617.9 L329.7,617.4 L329.9,616.8 L330,616.3 L330.2,615.8 L330.3,615.3 L330.5,614.8 L330.6,614.3 L330.8,613.8 L330.9,613.3 L331.1,612.8 L331.2,612.3 L331.3,611.8 L331.5,611.3 L331.6,610.8 L331.8,610.3 L331.9,609.8 L332.1,609.3 L332.2,608.8 L332.4,608.3 L332.5,607.7 L332.7,607.2 L332.8,606.7 L333,606.2 L333.1,605.7 L333.2,605.2 L333.4,604.7 L333.5,604.2 L333.7,603.7 L333.8,603.2 L334,602.7 L334.1,602.2 L334.3,601.8 L334.4,601.3 L334.6,600.9 L334.7,600.4 L334.9,600 L335,599.6 L335.2,599 L335.4,598.4 L335.6,597.9 L335.8,597.3 L336,596.8 L336.2,596.3 L336.4,595.7 L336.6,595.2 L336.9,594.8 L337.1,594.3 L337.3,593.8 L337.5,593.4 L337.7,593 L337.9,592.6 L338.1,592.2 L338.3,591.8 L338.6,591.5 L338.8,591.2 L339.2,590.7 L339.7,590.2 L340.1,589.9 L340.6,589.5 L341.1,589.2 L341.5,589 L342,588.9 L342.5,588.8 L342.9,588.8 L343.4,588.9 L343.8,589 L344.1,589.2 L344.5,589.4 L344.8,589.7 L345.2,590 L345.5,590.3 L345.9,590.7 L346.2,591.2 L346.6,591.6 L346.9,592.2 L347.3,592.7 L347.7,593.3 L347.9,593.6 L348.1,594 L348.3,594.4 L348.6,594.9 L348.8,595.3 L349,595.8 L349.2,596.3 L349.4,596.8 L349.7,597.3 L349.9,597.8 L350.1,598.3 L350.3,598.8 L350.6,599.3 L350.8,599.9 L351,600.4 L351.3,600.9 L351.5,601.3 L351.7,601.8 L352,602.2 L352.2,602.6 L352.5,603 L352.7,603.4 L353.1,603.9 L353.5,604.4 L353.8,604.9 L354.3,605.4 L354.7,605.8 L355.1,606.2 L355.5,606.6 L355.9,607 L356.3,607.3 L356.7,607.6 L357.1,607.9 L357.5,608.1 L357.9,608.3 L358.3,608.4 L358.6,608.5 L359,608.5 L359.5,608.4 L359.9,608.3 L360.2,608 L360.6,607.7 L361,607.4 L361.3,606.9 L361.7,606.4 L362.1,605.9 L362.5,605.3 L362.9,604.7 L363.1,604.4 L363.3,604 L363.6,603.7 L363.8,603.3 L364,603 L364.2,602.6 L364.5,602.2 L364.7,601.8 L364.9,601.4 L365.2,600.9 L365.4,600.5 L365.6,600 L365.9,599.5 L366.1,599 L366.4,598.5 L366.6,598 L366.8,597.5 L367.1,596.9 L367.3,596.3 L367.5,595.7 L367.8,595.1 L368,594.5 L368.1,594.1 L368.3,593.7 L368.4,593.3 L368.6,592.9 L368.7,592.5 L368.8,592 L369,591.6 L369.1,591.2 L369.3,590.7 L369.4,590.3 L369.5,589.8 L369.7,589.3 L369.8,588.9 L369.9,588.4 L370.1,587.9 L370.2,587.4 L370.4,586.9 L370.5,586.4 L370.6,585.9 L370.8,585.4 L370.9,584.9 L371.1,584.4 L371.2,583.9 L371.3,583.4 L371.5,582.8 L371.6,582.3 L371.7,581.8 L371.9,581.2 L372,580.7 L372.2,580.1 L372.3,579.6 L372.4,579 L372.6,578.5 L372.7,577.9 L372.9,577.4 L373,576.8 L373.1,576.4 L373.2,575.9 L373.3,575.5 L373.4,575 L373.6,574.5 L373.7,574.1 L373.8,573.6 L373.9,573.1 L374,572.6 L374.1,572.2 L374.2,571.7 L374.3,571.2 L374.4,570.7 L374.5,570.2 L374.7,569.7 L374.8,569.2 L374.9,568.7 L375,568.2 L375.1,567.7 L375.2,567.2 L375.3,566.7 L375.4,566.2 L375.5,565.7 L375.7,565.2 L375.8,564.6 L375.9,564.1 L376,563.6 L376.1,563.1 L376.2,562.6 L376.3,562.1 L376.4,561.5 L376.5,561 L376.7,560.5 L376.8,560 L376.9,559.5 L377,559 L377.1,558.5 L377.2,557.9 L377.3,557.4 L377.4,556.9 L377.5,556.4 L377.7,555.9 L377.8,555.4 L377.9,554.9 L378,554.4 L378.1,553.9 L378.2,553.4 L378.3,552.9 L378.4,552.4 L378.5,551.9 L378.7,551.4 L378.8,550.9 L378.9,550.4 L379,549.9 L379.1,549.4 L379.2,548.8 L379.3,548.3 L379.4,547.8 L379.5,547.3 L379.7,546.8 L379.8,546.3 L379.9,545.8 L380,545.3 L380.1,544.7 L380.2,544.2 L380.3,543.7 L380.4,543.2 L380.5,542.7 L380.6,542.2 L380.8,541.7 L380.9,541.2 L381,540.7 L381.1,540.2 L381.2,539.7 L381.3,539.2 L381.4,538.7 L381.5,538.2 L381.6,537.7 L381.8,537.2 L381.9,536.7 L382,536.2 L382.1,535.7 L382.2,535.2 L382.3,534.8 L382.4,534.3 L382.5,533.8 L382.6,533.4 L382.8,532.9 L382.9,532.4 L383,532 L383.1,531.5 L383.2,531.1 L383.3,530.6 L383.5,530 L383.6,529.4 L383.8,528.9 L383.9,528.3 L384,527.8 L384.2,527.2 L384.3,526.7 L384.5,526.1 L384.6,525.6 L384.7,525 L384.9,524.5 L385,524 L385.2,523.4 L385.3,522.9 L385.4,522.4 L385.6,521.9 L385.7,521.3 L385.9,520.8 L386,520.3 L386.2,519.8 L386.3,519.4 L386.4,518.9 L386.6,518.4 L386.7,517.9 L386.8,517.5 L387,517.1 L387.1,516.6 L387.3,516.2 L387.4,515.8 L387.5,515.4 L387.7,515 L387.8,514.6 L387.9,514.3 L388,513.9 L388.2,513.6 L388.3,513.3 L388.7,512.5 L389,511.7 L389.3,511 L389.7,510.4 L390,509.9 L390.3,509.5 L390.6,509.1 L391,508.8 L391.3,508.6 L391.6,508.4 L391.9,508.3 L392.3,508.3 L392.6,508.3 L392.9,508.4 L393.2,508.5 L393.5,508.6 L393.8,508.8 L394.1,509.1 L394.4,509.4 L394.7,509.8 L394.9,510.2 L395.2,510.6 L395.5,511.1 L395.9,511.7 L396.2,512.3 L396.5,513 L396.8,513.8 L397.1,514.6 L397.2,514.9 L397.3,515.3 L397.5,515.6 L397.6,516 L397.7,516.4 L397.8,516.8 L398,517.2 L398.1,517.6 L398.2,518 L398.3,518.5 L398.5,518.9 L398.6,519.4 L398.7,519.8 L398.8,520.3 L399,520.8 L399.1,521.3 L399.2,521.8 L399.3,522.3 L399.5,522.8 L399.6,523.3 L399.7,523.8 L399.9,524.4 L400,524.9 L400.1,525.4 L400.3,526 L400.4,526.5 L400.5,527.1 L400.7,527.6 L400.8,528.1 L400.9,528.7 L401.1,529.2 L401.2,529.8 L401.3,530.3 L401.5,530.9 L401.6,531.4 L401.8,532 L401.9,532.5 L402.1,533.1 L402.2,533.6 L402.3,534 L402.4,534.5 L402.6,535 L402.7,535.4 L402.8,535.9 L402.9,536.4 L403.1,536.9 L403.2,537.4 L403.3,537.9 L403.5,538.4 L403.6,538.9 L403.7,539.4 L403.9,539.9 L404,540.5 L404.1,541 L404.3,541.5 L404.4,542 L404.5,542.5 L404.7,543.1 L404.8,543.6 L404.9,544.1 L405.1,544.7 L405.2,545.2 L405.3,545.7 L405.5,546.2 L405.6,546.8 L405.7,547.3 L405.9,547.8 L406,548.3 L406.2,548.8 L406.3,549.3 L406.4,549.8 L406.6,550.3 L406.7,550.8 L406.9,551.3 L407,551.8 L407.1,552.2 L407.3,552.7 L407.4,553.2 L407.5,553.6 L407.7,554 L407.8,554.5 L408,554.9 L408.1,555.3 L408.2,555.7 L408.4,556.1 L408.5,556.5 L408.7,557.1 L409,557.7 L409.2,558.3 L409.4,558.9 L409.6,559.4 L409.8,560 L410.1,560.5 L410.3,561 L410.5,561.5 L410.7,562 L411,562.5 L411.2,562.9 L411.4,563.4 L411.6,563.8 L411.8,564.2 L412.1,564.6 L412.3,565.1 L412.5,565.5 L412.8,565.9 L413,566.2 L413.2,566.6 L413.4,567 L413.7,567.4 L413.9,567.7 L414.2,568.1 L414.4,568.5 L414.7,568.8 L414.9,569.2 L415.2,569.7 L415.6,570.1 L415.9,570.6 L416.3,571 L416.6,571.4 L417,571.8 L417.3,572.2 L417.7,572.6 L418.1,573 L418.4,573.3 L418.8,573.7 L419.2,574 L419.6,574.4 L419.9,574.7 L420.3,575 L420.7,575.3 L421,575.6 L421.4,575.9 L421.8,576.2 L422.1,576.5 L422.5,576.8 L422.9,577.1 L423.4,577.5 L423.8,577.8 L424.3,578.1 L424.7,578.4 L425.1,578.7 L425.6,578.9 L426,579.2 L426.4,579.5 L426.9,579.7 L427.3,579.9 L427.8,580.1 L428.2,580.4 L428.7,580.6 L429.1,580.7 L429.6,580.9 L430.1,581.1 L430.6,581.3 L431,581.4 L431.5,581.6 L432,581.6 L432.5,581.6 L433,581.6 L433.5,581.5 L434,581.7 L434.5,582 L435,582.2 L435.5,582.4 L436,582.4 L436.5,582.3 L437,582.2 L437.5,582 L438,582.1 L438.5,582.3 L439,582.6 L439.5,582.9 L440.1,583.1 L440.6,582.9 L441.1,582.7 L441.7,582.5 L442.2,582.2 L442.7,582.4 L443.3,582.6 L443.8,582.8 L444.3,582.9 L444.9,583 L445.4,583.2 L445.9,583.3 L446.4,583.4 L446.9,583.4 L447.4,583.3 L447.9,583.2 L448.4,583.2 L449,583.2 L449.5,583.4 L450,583.6 L450.4,583.8 L450.9,584 L451.4,584.2 L451.9,584.3 L452.3,584.4 L452.8,584.5 L453.3,584.6 L453.8,584.4 L454.4,584.2 L454.9,584 L455.5,583.9 L455.9,583.9 L456.4,584 L456.9,584.1 L457.4,584.2 L457.8,584.3 L458.3,584.5 L458.8,584.6 L459.4,584.8 L459.9,584.9 L460.4,584.8 L460.9,584.8 L461.4,584.8 L462,584.7 L462.5,584.8 L463,584.8 L463.5,584.8 L464.1,584.8 L464.6,584.7 L465.1,584.4 L465.6,584.2 L466.1,584 L466.6,584 L467.2,584.2 L467.7,584.5 L468.3,584.7 L468.8,584.9 L469.4,584.9 L469.9,584.9 L470.5,584.9 L471.1,584.8 L471.6,584.8 L472.1,584.8 L472.6,584.8 L473.2,584.8 L473.6,584.7 L474.1,584.6 L474.6,584.5 L475,584.4 L475.4,584.6 L475.8,584.8 L476.5,585.4 L477.1,586 L477.7,586.4 L478.2,586.7 L478.7,587 L479.1,587.3 L479.5,587.6 L479.8,587.9 L480.1,588.1 L480.3,588.2" stroke="#000" stroke-width="2.8" fill="none" stroke-linejoin="round" stroke-linecap="round" />
<line x1="519.3" y1="488" x2="519.3" y2="651.5" stroke="#000" stroke-width="2.7" stroke-linecap="butt"/>
<line x1="518.1" y1="650.3" x2="705.3" y2="650.3" stroke="#000" stroke-width="2.5" stroke-linecap="butt"/>
<line x1="515.5" y1="650.3" x2="519.3" y2="650.3" stroke="#000" stroke-width="2" stroke-linecap="butt"/>
<line x1="515.5" y1="627.2" x2="519.3" y2="627.2" stroke="#000" stroke-width="2" stroke-linecap="butt"/>
<line x1="515.5" y1="604.1" x2="519.3" y2="604.1" stroke="#000" stroke-width="2" stroke-linecap="butt"/>
<line x1="515.5" y1="581" x2="519.3" y2="581" stroke="#000" stroke-width="2" stroke-linecap="butt"/>
<line x1="515.5" y1="557.9" x2="519.3" y2="557.9" stroke="#000" stroke-width="2" stroke-linecap="butt"/>
<line x1="515.5" y1="534.8" x2="519.3" y2="534.8" stroke="#000" stroke-width="2" stroke-linecap="butt"/>
<line x1="515.5" y1="511.7" x2="519.3" y2="511.7" stroke="#000" stroke-width="2" stroke-linecap="butt"/>
<line x1="515.5" y1="488.6" x2="519.3" y2="488.6" stroke="#000" stroke-width="2" stroke-linecap="butt"/>
<text x="510.3" y="655.9" font-size="15.6" text-anchor="end" font-weight="normal" font-style="normal" fill="#000" >0</text>
<text x="510.3" y="632.8" font-size="15.6" text-anchor="end" font-weight="normal" font-style="normal" fill="#000" >1</text>
<text x="510.3" y="609.7" font-size="15.6" text-anchor="end" font-weight="normal" font-style="normal" fill="#000" >2</text>
<text x="510.3" y="586.6" font-size="15.6" text-anchor="end" font-weight="normal" font-style="normal" fill="#000" >3</text>
<text x="510.3" y="563.5" font-size="15.6" text-anchor="end" font-weight="normal" font-style="normal" fill="#000" >4</text>
<text x="510.3" y="540.4" font-size="15.6" text-anchor="end" font-weight="normal" font-style="normal" fill="#000" >5</text>
<text x="510.3" y="517.3" font-size="15.6" text-anchor="end" font-weight="normal" font-style="normal" fill="#000" >6</text>
<line x1="519.3" y1="650.3" x2="519.3" y2="653.6" stroke="#000" stroke-width="2" stroke-linecap="butt"/>
<text x="520.2" y="673.5" font-size="15.6" text-anchor="middle" font-weight="normal" font-style="normal" fill="#000" letter-spacing="0.2">390</text>
<line x1="553" y1="650.3" x2="553" y2="653.6" stroke="#000" stroke-width="2" stroke-linecap="butt"/>
<text x="553.9" y="673.5" font-size="15.6" text-anchor="middle" font-weight="normal" font-style="normal" fill="#000" letter-spacing="0.2">410</text>
<line x1="586.7" y1="650.3" x2="586.7" y2="653.6" stroke="#000" stroke-width="2" stroke-linecap="butt"/>
<text x="587.6" y="673.5" font-size="15.6" text-anchor="middle" font-weight="normal" font-style="normal" fill="#000" letter-spacing="0.2">430</text>
<line x1="620.4" y1="650.3" x2="620.4" y2="653.6" stroke="#000" stroke-width="2" stroke-linecap="butt"/>
<text x="621.3" y="673.5" font-size="15.6" text-anchor="middle" font-weight="normal" font-style="normal" fill="#000" letter-spacing="0.2">450</text>
<line x1="654.1" y1="650.3" x2="654.1" y2="653.6" stroke="#000" stroke-width="2" stroke-linecap="butt"/>
<text x="655" y="673.5" font-size="15.6" text-anchor="middle" font-weight="normal" font-style="normal" fill="#000" letter-spacing="0.2">470</text>
<line x1="687.8" y1="650.3" x2="687.8" y2="653.6" stroke="#000" stroke-width="2" stroke-linecap="butt"/>
<text x="688.7" y="673.5" font-size="15.6" text-anchor="middle" font-weight="normal" font-style="normal" fill="#000" letter-spacing="0.2">490</text>
<text x="499" y="488.5" font-size="31" text-anchor="start" font-weight="bold" font-style="normal" fill="#000" >I</text>
<path d="M519.3,603.4 L519.4,603.7 L519.4,604 L519.5,604.3 L519.6,604.7 L519.7,605 L519.8,605.5 L519.9,605.9 L520,606.4 L520.1,606.9 L520.2,607.4 L520.3,607.9 L520.4,608.4 L520.5,609 L520.7,609.5 L520.8,610.1 L520.9,610.7 L521.1,611.3 L521.2,611.9 L521.3,612.4 L521.5,613 L521.6,613.6 L521.8,614.2 L521.9,614.8 L522,615.2 L522.1,615.7 L522.2,616.1 L522.3,616.6 L522.4,617.1 L522.6,617.6 L522.7,618.1 L522.8,618.6 L522.9,619.1 L523,619.6 L523.2,620.1 L523.3,620.6 L523.4,621.2 L523.5,621.7 L523.7,622.2 L523.8,622.7 L523.9,623.3 L524,623.8 L524.2,624.3 L524.3,624.8 L524.4,625.3 L524.6,625.8 L524.7,626.3 L524.8,626.8 L524.9,627.3 L525.1,627.8 L525.2,628.3 L525.3,628.7 L525.5,629.2 L525.6,629.6 L525.7,630 L525.9,630.6 L526.1,631.2 L526.2,631.8 L526.4,632.3 L526.6,632.9 L526.8,633.4 L527,633.9 L527.1,634.5 L527.3,635 L527.5,635.5 L527.7,635.9 L527.9,636.4 L528.1,636.9 L528.2,637.3 L528.4,637.8 L528.6,638.2 L528.8,638.6 L529,639 L529.1,639.4 L529.3,639.8 L529.5,640.2 L529.8,640.8 L530.1,641.4 L530.4,641.9 L530.6,642.5 L530.9,643 L531.2,643.5 L531.5,643.9 L531.8,644.3 L532,644.7 L532.3,645.1 L532.6,645.4 L533,645.6 L533.3,645.8 L533.8,646 L534.2,646 L534.7,646 L535.3,645.9 L535.8,645.8 L536.3,645.6 L536.8,645.3 L537.4,645.1 L537.8,644.9 L538.3,644.7 L538.8,644.5 L539.2,644.4 L539.7,644.2 L540.1,644 L540.5,643.8 L540.9,643.5 L541.3,643.2 L541.8,642.7 L542.2,642.2 L542.4,641.9 L542.7,641.6 L542.9,641.2 L543.1,640.8 L543.4,640.4 L543.6,640 L543.8,639.6 L544.1,639.2 L544.3,638.7 L544.6,638.2 L544.8,637.7 L545,637.2 L545.3,636.7 L545.5,636.1 L545.8,635.6 L546,635 L546.3,634.4 L546.5,633.8 L546.7,633.4 L546.8,633 L547,632.6 L547.1,632.2 L547.3,631.8 L547.4,631.4 L547.6,631 L547.7,630.5 L547.9,630.1 L548,629.7 L548.2,629.2 L548.3,628.8 L548.5,628.3 L548.7,627.8 L548.8,627.4 L549,626.9 L549.1,626.4 L549.3,625.9 L549.4,625.4 L549.6,624.9 L549.7,624.3 L549.9,623.8 L550.1,623.3 L550.2,622.7 L550.4,622.2 L550.5,621.6 L550.7,621.1 L550.8,620.5 L551,619.9 L551.1,619.5 L551.2,619.1 L551.3,618.6 L551.4,618.2 L551.6,617.8 L551.7,617.3 L551.8,616.9 L551.9,616.5 L552,616 L552.1,615.6 L552.2,615.1 L552.3,614.7 L552.5,614.2 L552.6,613.7 L552.7,613.3 L552.8,612.8 L552.9,612.3 L553,611.8 L553.1,611.4 L553.3,610.9 L553.4,610.4 L553.5,609.9 L553.6,609.4 L553.7,608.9 L553.8,608.4 L553.9,607.9 L554,607.3 L554.2,606.8 L554.3,606.3 L554.4,605.8 L554.5,605.2 L554.6,604.7 L554.7,604.1 L554.8,603.6 L554.9,603 L555.1,602.5 L555.2,601.9 L555.3,601.3 L555.4,600.8 L555.5,600.2 L555.6,599.6 L555.7,599.2 L555.8,598.7 L555.8,598.3 L555.9,597.8 L556,597.4 L556.1,596.9 L556.2,596.5 L556.2,596 L556.3,595.5 L556.4,595 L556.5,594.6 L556.6,594.1 L556.6,593.6 L556.7,593.1 L556.8,592.6 L556.9,592.1 L556.9,591.6 L557,591.1 L557.1,590.6 L557.2,590.1 L557.3,589.6 L557.3,589.1 L557.4,588.6 L557.5,588 L557.6,587.5 L557.6,587 L557.7,586.5 L557.8,586 L557.9,585.4 L558,584.9 L558,584.4 L558.1,583.9 L558.2,583.4 L558.3,582.8 L558.3,582.3 L558.4,581.8 L558.5,581.3 L558.6,580.7 L558.6,580.2 L558.7,579.7 L558.8,579.2 L558.9,578.7 L558.9,578.2 L559,577.7 L559.1,577.1 L559.2,576.6 L559.2,576.1 L559.3,575.6 L559.4,575.1 L559.5,574.6 L559.5,574.1 L559.6,573.6 L559.7,573.1 L559.8,572.7 L559.8,572.2 L559.9,571.7 L560,571.2 L560.1,570.7 L560.1,570.1 L560.2,569.6 L560.3,569.1 L560.4,568.5 L560.4,568 L560.5,567.5 L560.6,566.9 L560.7,566.4 L560.8,565.8 L560.8,565.3 L560.9,564.8 L561,564.2 L561.1,563.7 L561.1,563.2 L561.2,562.6 L561.3,562.1 L561.4,561.6 L561.4,561 L561.5,560.5 L561.6,560 L561.6,559.4 L561.7,558.9 L561.8,558.4 L561.9,557.9 L561.9,557.3 L562,556.8 L562.1,556.3 L562.2,555.8 L562.2,555.3 L562.3,554.8 L562.4,554.3 L562.5,553.8 L562.5,553.3 L562.6,552.9 L562.7,552.4 L562.7,551.9 L562.8,551.4 L562.9,551 L563,550.5 L563,550.1 L563.1,549.6 L563.2,549.2 L563.3,548.7 L563.3,548.3 L563.4,547.9 L563.5,547.5 L563.6,547.1 L563.6,546.7 L563.7,546.3 L563.8,545.6 L564,544.9 L564.1,544.2 L564.2,543.6 L564.4,542.9 L564.5,542.3 L564.6,541.7 L564.8,541.1 L564.9,540.5 L565.1,539.9 L565.2,539.3 L565.3,538.7 L565.5,538.2 L565.6,537.7 L565.7,537.2 L565.9,536.7 L566,536.2 L566.1,535.8 L566.3,535.3 L566.4,534.9 L566.5,534.5 L566.7,534.2 L566.8,533.8 L567,533.5 L567.1,533.2 L567.2,532.9 L567.4,532.6 L567.5,532.4 L568,531.7 L568.6,531.2 L569.1,531.1 L569.7,531.3 L570.2,531.8 L570.8,532.6 L571.3,533.6 L571.4,533.9 L571.5,534.2 L571.7,534.5 L571.8,534.8 L571.9,535.2 L572,535.5 L572.2,535.9 L572.3,536.3 L572.4,536.7 L572.5,537.1 L572.6,537.6 L572.8,538 L572.9,538.5 L573,539 L573.1,539.5 L573.3,540 L573.4,540.5 L573.5,541.1 L573.6,541.6 L573.8,542.2 L573.9,542.7 L574,543.3 L574.1,543.9 L574.2,544.5 L574.4,545.1 L574.5,545.7 L574.6,546.3 L574.7,547 L574.9,547.6 L575,548.2 L575.1,548.9 L575.2,549.3 L575.2,549.7 L575.3,550.1 L575.4,550.5 L575.5,551 L575.5,551.4 L575.6,551.8 L575.7,552.3 L575.8,552.7 L575.8,553.2 L575.9,553.6 L576,554.1 L576.1,554.6 L576.1,555.1 L576.2,555.5 L576.3,556 L576.4,556.5 L576.4,557 L576.5,557.5 L576.6,558 L576.7,558.5 L576.7,559 L576.8,559.5 L576.9,560 L577,560.5 L577,561 L577.1,561.5 L577.2,562.1 L577.3,562.6 L577.3,563.1 L577.4,563.6 L577.5,564.1 L577.6,564.7 L577.6,565.2 L577.7,565.7 L577.8,566.3 L577.9,566.8 L577.9,567.3 L578,567.9 L578.1,568.4 L578.2,568.9 L578.2,569.5 L578.3,570 L578.4,570.5 L578.5,571 L578.5,571.6 L578.6,572.1 L578.7,572.6 L578.8,573.2 L578.8,573.7 L578.9,574.2 L579,574.7 L579,575.2 L579.1,575.6 L579.2,576.1 L579.2,576.6 L579.3,577.1 L579.4,577.6 L579.4,578.1 L579.5,578.6 L579.6,579.1 L579.6,579.7 L579.7,580.2 L579.8,580.7 L579.8,581.2 L579.9,581.7 L580,582.2 L580.1,582.8 L580.1,583.3 L580.2,583.8 L580.3,584.3 L580.3,584.9 L580.4,585.4 L580.5,585.9 L580.5,586.4 L580.6,587 L580.7,587.5 L580.7,588 L580.8,588.5 L580.9,589.1 L580.9,589.6 L581,590.1 L581.1,590.6 L581.1,591.1 L581.2,591.7 L581.3,592.2 L581.3,592.7 L581.4,593.2 L581.5,593.7 L581.5,594.2 L581.6,594.7 L581.7,595.2 L581.8,595.7 L581.8,596.2 L581.9,596.7 L582,597.1 L582,597.6 L582.1,598.1 L582.2,598.6 L582.2,599 L582.3,599.5 L582.4,599.9 L582.4,600.4 L582.5,600.8 L582.6,601.2 L582.6,601.7 L582.7,602.1 L582.8,602.7 L582.9,603.3 L583,603.9 L583.1,604.5 L583.2,605.1 L583.3,605.7 L583.4,606.3 L583.5,606.9 L583.6,607.5 L583.7,608.1 L583.8,608.7 L583.9,609.2 L583.9,609.8 L584,610.4 L584.1,610.9 L584.2,611.4 L584.3,612 L584.4,612.5 L584.5,613 L584.6,613.5 L584.7,614.1 L584.8,614.5 L584.9,615 L585,615.5 L585.1,616 L585.2,616.5 L585.3,616.9 L585.4,617.3 L585.5,617.8 L585.6,618.2 L585.7,618.6 L585.8,619 L585.9,619.4 L586,619.8 L586.2,620.2 L586.3,620.5 L586.4,620.9 L586.5,621.2 L586.8,622 L587.1,622.7 L587.5,623.4 L587.8,624 L588.2,624.6 L588.5,625.1 L588.9,625.5 L589.2,625.9 L589.6,626.2 L589.9,626.5 L590.3,626.7 L590.6,626.9 L591,627 L591.3,627 L591.6,627 L591.9,626.9 L592.1,626.8 L592.4,626.7 L592.6,626.5 L592.9,626.3 L593.1,626 L593.4,625.6 L593.6,625.2 L593.8,624.8 L594,624.3 L594.3,623.7 L594.5,623.1 L594.7,622.4 L594.9,621.6 L595.2,620.8 L595.4,619.9 L595.5,619.6 L595.6,619.2 L595.6,618.9 L595.7,618.5 L595.8,618.1 L595.9,617.7 L596,617.3 L596.1,616.9 L596.1,616.5 L596.2,616 L596.3,615.6 L596.4,615.1 L596.5,614.7 L596.6,614.2 L596.6,613.7 L596.7,613.2 L596.8,612.7 L596.9,612.2 L597,611.7 L597.1,611.2 L597.1,610.7 L597.2,610.2 L597.3,609.6 L597.4,609.1 L597.5,608.6 L597.5,608 L597.6,607.5 L597.7,606.9 L597.8,606.4 L597.9,605.8 L598,605.3 L598,604.7 L598.1,604.2 L598.2,603.6 L598.3,603.1 L598.4,602.5 L598.5,602 L598.5,601.4 L598.6,600.9 L598.7,600.3 L598.8,599.8 L598.9,599.2 L599,598.7 L599,598.2 L599.1,597.6 L599.2,597.1 L599.3,596.6 L599.3,596.1 L599.4,595.6 L599.5,595.2 L599.6,594.6 L599.6,594.1 L599.7,593.6 L599.8,593.1 L599.9,592.6 L599.9,592 L600,591.5 L600.1,591 L600.2,590.4 L600.2,589.9 L600.3,589.4 L600.4,588.8 L600.5,588.3 L600.5,587.7 L600.6,587.2 L600.7,586.6 L600.8,586.1 L600.8,585.5 L600.9,585 L601,584.4 L601.1,583.9 L601.1,583.3 L601.2,582.8 L601.3,582.3 L601.4,581.7 L601.4,581.2 L601.5,580.7 L601.6,580.2 L601.7,579.6 L601.7,579.1 L601.8,578.6 L601.9,578.1 L602,577.6 L602,577.2 L602.1,576.7 L602.2,576.2 L602.3,575.8 L602.3,575.3 L602.4,574.9 L602.5,574.4 L602.6,574 L602.6,573.6 L602.7,573.2 L602.8,572.8 L602.9,572.4 L602.9,572.1 L603,571.7 L603.2,570.9 L603.4,570.1 L603.5,569.5 L603.7,568.8 L603.9,568.2 L604.1,567.7 L604.3,567.2 L604.4,566.8 L604.6,566.3 L604.8,565.9 L605,565.5 L605.2,565.2 L605.4,564.8 L605.5,564.4 L605.7,564.1 L605.9,563.7 L606.1,563.3 L606.3,562.9 L606.4,562.5 L606.6,562 L606.8,561.5 L607,561.1 L607.1,560.6 L607.3,560.2 L607.4,559.8 L607.6,559.3 L607.7,558.9 L607.9,558.5 L608.1,558.1 L608.2,557.6 L608.4,557.2 L608.5,556.8 L608.7,556.4 L608.9,555.9 L609,555.4 L609.2,555 L609.3,554.5 L609.5,554 L609.7,553.5 L609.8,553 L610,552.5 L610.1,551.9 L610.3,551.3 L610.4,550.7 L610.6,550.1 L610.7,549.7 L610.8,549.3 L610.9,548.8 L611,548.4 L611.1,548 L611.2,547.5 L611.3,547 L611.4,546.6 L611.5,546.1 L611.6,545.6 L611.7,545.1 L611.8,544.6 L611.9,544.1 L612,543.6 L612.1,543 L612.2,542.5 L612.3,542 L612.4,541.5 L612.5,540.9 L612.6,540.4 L612.7,539.8 L612.8,539.3 L612.9,538.8 L613,538.2 L613.1,537.7 L613.2,537.2 L613.3,536.6 L613.4,536.1 L613.5,535.6 L613.6,535.1 L613.7,534.6 L613.8,534 L613.9,533.5 L614,533 L614.1,532.5 L614.2,532.1 L614.3,531.6 L614.4,531.1 L614.5,530.6 L614.6,530 L614.8,529.5 L614.9,528.9 L615,528.3 L615.1,527.8 L615.2,527.2 L615.4,526.6 L615.5,526.1 L615.6,525.5 L615.7,524.9 L615.8,524.4 L616,523.8 L616.1,523.3 L616.2,522.7 L616.3,522.2 L616.5,521.6 L616.6,521.1 L616.7,520.6 L616.8,520.1 L616.9,519.6 L617.1,519.1 L617.2,518.6 L617.3,518.1 L617.4,517.7 L617.5,517.2 L617.6,516.8 L617.8,516.4 L617.9,516 L618,515.6 L618.1,515.3 L618.2,514.9 L618.3,514.6 L618.7,513.6 L619,512.7 L619.4,512.1 L619.7,511.6 L620,511.2 L620.3,510.9 L620.6,510.8 L621,510.8 L621.3,510.8 L621.6,510.9 L621.8,511 L622.1,511.1 L622.3,511.3 L622.6,511.5 L622.8,511.8 L623.1,512.2 L623.4,512.7 L623.6,513.3 L623.9,514.1 L624.3,514.9 L624.6,515.9 L624.7,516.2 L624.8,516.6 L624.9,516.9 L625,517.3 L625.1,517.7 L625.3,518.1 L625.4,518.5 L625.5,518.9 L625.6,519.3 L625.7,519.8 L625.8,520.3 L626,520.7 L626.1,521.2 L626.2,521.7 L626.3,522.2 L626.5,522.7 L626.6,523.2 L626.7,523.8 L626.8,524.3 L627,524.8 L627.1,525.4 L627.2,525.9 L627.4,526.5 L627.5,527 L627.6,527.6 L627.8,528.1 L627.9,528.7 L628,529.2 L628.2,529.8 L628.3,530.4 L628.4,530.9 L628.6,531.5 L628.7,532 L628.8,532.6 L628.9,533.1 L629.1,533.6 L629.2,534.2 L629.3,534.7 L629.5,535.2 L629.6,535.7 L629.7,536.2 L629.8,536.7 L629.9,537.2 L630.1,537.7 L630.2,538.2 L630.3,538.7 L630.4,539.2 L630.6,539.7 L630.7,540.2 L630.8,540.8 L630.9,541.3 L631,541.8 L631.2,542.3 L631.3,542.8 L631.4,543.3 L631.5,543.8 L631.7,544.4 L631.8,544.9 L631.9,545.4 L632,545.9 L632.1,546.4 L632.3,546.9 L632.4,547.4 L632.5,547.9 L632.6,548.4 L632.7,548.9 L632.9,549.4 L633,549.9 L633.1,550.4 L633.2,550.9 L633.4,551.4 L633.5,551.9 L633.6,552.4 L633.7,552.9 L633.8,553.3 L634,553.8 L634.1,554.3 L634.2,554.7 L634.3,555.2 L634.5,555.6 L634.6,556.1 L634.7,556.5 L634.9,557.1 L635,557.6 L635.2,558.1 L635.3,558.7 L635.5,559.2 L635.7,559.7 L635.8,560.2 L636,560.7 L636.1,561.3 L636.3,561.8 L636.4,562.2 L636.6,562.7 L636.8,563.2 L636.9,563.7 L637.1,564.2 L637.2,564.7 L637.4,565.1 L637.6,565.6 L637.7,566 L637.9,566.5 L638,567 L638.2,567.4 L638.4,567.8 L638.5,568.3 L638.7,568.7 L638.8,569.2 L639,569.6 L639.2,570 L639.3,570.4 L639.5,570.9 L639.6,571.3 L639.8,571.7 L640,572.3 L640.2,572.8 L640.4,573.3 L640.6,573.9 L640.9,574.4 L641.1,574.9 L641.3,575.5 L641.5,576 L641.7,576.5 L641.9,577 L642.1,577.5 L642.3,578 L642.6,578.4 L642.8,578.9 L643,579.4 L643.2,579.8 L643.4,580.3 L643.6,580.7 L643.8,581.1 L644,581.5 L644.3,581.9 L644.5,582.3 L644.7,582.7 L644.9,583.1 L645.2,583.6 L645.5,584.1 L645.9,584.6 L646.2,585.1 L646.5,585.5 L646.8,586 L647.1,586.5 L647.5,587 L647.8,587.4 L648.1,587.9 L648.4,588.4 L648.7,588.9 L649,589.4 L649.4,589.6 L649.7,589.8 L650,589.9 L650.5,590.1 L651,590.2 L651.5,590.2 L652,590.1 L652.5,590 L653,589.9 L653.5,589.7 L654,589.7 L654.5,589.7 L655,589.7 L655.5,589.7 L656,589.5 L656.5,589.4 L657,589.2 L657.5,589 L658.1,588.8 L658.6,588.6 L659.1,588.4 L659.6,588.2 L660.1,588.2 L660.6,588.1 L661.1,588.1 L661.6,588.1 L662.1,588.2 L662.6,588.2 L663.2,588.3 L663.7,588.3 L664.2,588.4 L664.7,588.4 L665.2,588.4 L665.7,588.4 L666.2,588.4 L666.7,588.5 L667.2,588.7 L667.8,588.9 L668.3,589.1 L668.8,589.2 L669.3,589 L669.8,588.7 L670.3,588.3 L670.7,588 L671,587.7 L671.4,587.5 L671.7,587.2 L672.1,587 L672.4,586.7 L672.8,586.4 L673.2,586.1 L673.5,585.5 L673.9,584.9 L674.2,584.3 L674.6,583.7 L674.9,583.1 L675.3,582.6 L675.7,582.2 L676.2,581.9 L676.6,581.6 L677,581.3 L677.5,581 L677.9,580.7 L678.4,580.4 L678.8,580.1 L679.2,579.9 L679.6,579.7 L680,579.6 L680.4,579.5 L680.9,579.6 L681.3,579.7 L681.8,580 L682.2,580.3 L682.6,580.5 L683,580.8 L683.4,581.1 L683.8,581.5 L684.2,581.7 L684.6,582 L684.9,582.3 L685.3,582.5 L685.7,582.8 L686,583 L686.4,583.4 L686.8,583.8 L687.2,584.2 L687.6,584.8 L688,585.4 L688.2,585.7 L688.4,586.1 L688.6,586.5 L688.8,587 L689.1,587.5 L689.3,588 L689.5,588.5 L689.8,589 L690,589.5 L690.2,590.1 L690.5,590.6 L690.7,591.1 L690.9,591.6 L691.2,592.2 L691.4,592.7 L691.7,593.2 L691.9,593.6 L692.2,594.1 L692.4,594.6 L692.6,595 L692.9,595.4 L693.1,595.8 L693.4,596.3 L693.7,596.8 L694.1,597.3 L694.4,597.8 L694.7,598.3 L695.1,598.7 L695.4,599.2 L695.7,599.6 L696.1,600 L696.4,600.4 L696.7,600.8 L697,601.1 L697.3,601.4 L697.6,601.7 L697.9,601.9 L698.2,602.1 L698.8,602.4 L699.4,602.5 L699.9,602.4 L700.5,602.2 L701,602 L701.5,601.7 L702,601.6 L702.6,601.5 L703.3,601.4 L703.9,601.2 L704.5,601.1 L704.9,601 L705.3,600.9" stroke="#000" stroke-width="2.8" fill="none" stroke-linejoin="round" stroke-linecap="round" />
<line x1="741.5" y1="486" x2="741.5" y2="649.5" stroke="#000" stroke-width="2.7" stroke-linecap="butt"/>
<line x1="740.3" y1="648.3" x2="933" y2="648.3" stroke="#000" stroke-width="2.5" stroke-linecap="butt"/>
<line x1="737.7" y1="648.3" x2="741.5" y2="648.3" stroke="#000" stroke-width="2" stroke-linecap="butt"/>
<line x1="737.7" y1="629.3" x2="741.5" y2="629.3" stroke="#000" stroke-width="2" stroke-linecap="butt"/>
<line x1="737.7" y1="610.3" x2="741.5" y2="610.3" stroke="#000" stroke-width="2" stroke-linecap="butt"/>
<line x1="737.7" y1="591.3" x2="741.5" y2="591.3" stroke="#000" stroke-width="2" stroke-linecap="butt"/>
<line x1="737.7" y1="572.3" x2="741.5" y2="572.3" stroke="#000" stroke-width="2" stroke-linecap="butt"/>
<line x1="737.7" y1="553.3" x2="741.5" y2="553.3" stroke="#000" stroke-width="2" stroke-linecap="butt"/>
<line x1="737.7" y1="534.3" x2="741.5" y2="534.3" stroke="#000" stroke-width="2" stroke-linecap="butt"/>
<line x1="737.7" y1="515.3" x2="741.5" y2="515.3" stroke="#000" stroke-width="2" stroke-linecap="butt"/>
<line x1="737.7" y1="496.3" x2="741.5" y2="496.3" stroke="#000" stroke-width="2" stroke-linecap="butt"/>
<text x="732.5" y="653.9" font-size="15.6" text-anchor="end" font-weight="normal" font-style="normal" fill="#000" >0</text>
<text x="732.5" y="634.9" font-size="15.6" text-anchor="end" font-weight="normal" font-style="normal" fill="#000" >1</text>
<text x="732.5" y="615.9" font-size="15.6" text-anchor="end" font-weight="normal" font-style="normal" fill="#000" >2</text>
<text x="732.5" y="596.9" font-size="15.6" text-anchor="end" font-weight="normal" font-style="normal" fill="#000" >3</text>
<text x="732.5" y="577.9" font-size="15.6" text-anchor="end" font-weight="normal" font-style="normal" fill="#000" >4</text>
<text x="732.5" y="558.9" font-size="15.6" text-anchor="end" font-weight="normal" font-style="normal" fill="#000" >5</text>
<text x="732.5" y="539.9" font-size="15.6" text-anchor="end" font-weight="normal" font-style="normal" fill="#000" >6</text>
<text x="732.5" y="520.9" font-size="15.6" text-anchor="end" font-weight="normal" font-style="normal" fill="#000" >7</text>
<line x1="741.5" y1="648.3" x2="741.5" y2="651.6" stroke="#000" stroke-width="2" stroke-linecap="butt"/>
<text x="742.4" y="671.5" font-size="15.6" text-anchor="middle" font-weight="normal" font-style="normal" fill="#000" letter-spacing="0.2">390</text>
<line x1="776.1" y1="648.3" x2="776.1" y2="651.6" stroke="#000" stroke-width="2" stroke-linecap="butt"/>
<text x="777" y="671.5" font-size="15.6" text-anchor="middle" font-weight="normal" font-style="normal" fill="#000" letter-spacing="0.2">410</text>
<line x1="810.7" y1="648.3" x2="810.7" y2="651.6" stroke="#000" stroke-width="2" stroke-linecap="butt"/>
<text x="811.6" y="671.5" font-size="15.6" text-anchor="middle" font-weight="normal" font-style="normal" fill="#000" letter-spacing="0.2">430</text>
<line x1="845.3" y1="648.3" x2="845.3" y2="651.6" stroke="#000" stroke-width="2" stroke-linecap="butt"/>
<text x="846.2" y="671.5" font-size="15.6" text-anchor="middle" font-weight="normal" font-style="normal" fill="#000" letter-spacing="0.2">450</text>
<line x1="879.9" y1="648.3" x2="879.9" y2="651.6" stroke="#000" stroke-width="2" stroke-linecap="butt"/>
<text x="880.8" y="671.5" font-size="15.6" text-anchor="middle" font-weight="normal" font-style="normal" fill="#000" letter-spacing="0.2">470</text>
<line x1="914.5" y1="648.3" x2="914.5" y2="651.6" stroke="#000" stroke-width="2" stroke-linecap="butt"/>
<text x="915.4" y="671.5" font-size="15.6" text-anchor="middle" font-weight="normal" font-style="normal" fill="#000" letter-spacing="0.2">490</text>
<text x="714" y="489.2" font-size="31" text-anchor="start" font-weight="bold" font-style="normal" fill="#000" >J</text>
<path d="M741.5,634.6 L741.8,634.4 L742.2,634.1 L742.6,633.8 L743.2,633.5 L743.7,633.1 L744.3,632.9 L744.8,632.7 L745.3,632.6 L745.8,632.7 L746.2,632.9 L746.7,633.2 L747.2,633.5 L747.7,633.9 L748.2,634.2 L748.6,634.5 L749.1,634.6 L749.6,634.6 L750.1,634.6 L750.7,634.5 L751.2,634.4 L751.7,634.2 L752.3,634 L752.9,633.8 L753.3,633.6 L753.7,633.4 L754.2,633.2 L754.7,633 L755.1,632.8 L755.6,632.5 L756.1,632.3 L756.6,632 L757.1,631.8 L757.5,631.5 L758,631.3 L758.5,631.1 L758.9,630.9 L759.4,630.7 L759.9,630.5 L760.3,630.3 L760.8,630.1 L761.2,629.9 L761.7,629.7 L762.2,629.4 L762.6,629.1 L763.1,628.8 L763.5,628.5 L763.8,628.2 L764.2,627.9 L764.6,627.6 L765,627.2 L765.3,626.9 L765.7,626.5 L766.1,626.1 L766.4,625.7 L766.8,625.3 L767.2,624.9 L767.5,624.5 L767.9,624.1 L768.2,623.7 L768.5,623.3 L768.8,623 L769.1,622.6 L769.4,622.2 L769.7,621.8 L770,621.5 L770.3,621.1 L770.6,620.7 L770.8,620.3 L771.1,619.8 L771.4,619.4 L771.7,618.9 L771.9,618.4 L772.2,617.9 L772.5,617.4 L772.7,617 L772.9,616.6 L773.1,616.2 L773.3,615.8 L773.5,615.3 L773.7,614.9 L773.9,614.4 L774.1,614 L774.3,613.5 L774.4,613 L774.6,612.5 L774.8,612 L775,611.5 L775.2,611 L775.4,610.5 L775.6,610 L775.8,609.4 L776,608.9 L776.1,608.3 L776.3,607.8 L776.5,607.2 L776.6,606.8 L776.8,606.3 L776.9,605.9 L777,605.4 L777.2,604.9 L777.3,604.5 L777.4,604 L777.6,603.5 L777.7,603 L777.8,602.5 L778,602 L778.1,601.5 L778.2,601 L778.3,600.5 L778.5,600 L778.6,599.5 L778.7,598.9 L778.9,598.4 L779,597.9 L779.1,597.4 L779.2,596.9 L779.4,596.4 L779.5,595.8 L779.6,595.3 L779.7,594.8 L779.9,594.3 L780,593.8 L780.1,593.3 L780.2,592.8 L780.3,592.3 L780.5,591.8 L780.6,591.3 L780.7,590.8 L780.8,590.2 L780.9,589.7 L781.1,589.2 L781.2,588.7 L781.3,588.2 L781.4,587.7 L781.5,587.1 L781.6,586.6 L781.7,586.1 L781.9,585.6 L782,585.1 L782.1,584.6 L782.2,584.1 L782.3,583.6 L782.4,583.1 L782.5,582.6 L782.7,582.1 L782.8,581.6 L782.9,581.1 L783,580.7 L783.1,580.2 L783.3,579.7 L783.4,579.3 L783.6,578.7 L783.7,578.2 L783.9,577.6 L784.1,577.1 L784.2,576.5 L784.4,576 L784.5,575.5 L784.7,574.9 L784.9,574.4 L785.1,573.9 L785.2,573.4 L785.4,572.9 L785.6,572.4 L785.7,571.9 L785.9,571.5 L786.1,571 L786.3,570.6 L786.5,570.2 L786.6,569.7 L786.8,569.3 L787,569 L787.2,568.6 L787.5,568 L787.9,567.4 L788.2,566.9 L788.6,566.3 L788.9,565.8 L789.3,565.4 L789.6,565 L790,564.6 L790.4,564.3 L790.7,564 L791.1,563.8 L791.4,563.7 L791.7,563.6 L792.1,563.6 L792.4,563.7 L792.7,563.8 L793.1,564.1 L793.4,564.4 L793.7,564.8 L794,565.2 L794.3,565.8 L794.6,566.4 L795,567.1 L795.3,567.9 L795.4,568.2 L795.6,568.6 L795.7,569 L795.9,569.4 L796,569.8 L796.1,570.2 L796.3,570.7 L796.4,571.1 L796.6,571.6 L796.7,572.1 L796.9,572.6 L797,573.1 L797.2,573.6 L797.3,574.2 L797.5,574.7 L797.6,575.2 L797.8,575.8 L797.9,576.3 L798,576.9 L798.2,577.4 L798.3,578 L798.5,578.6 L798.6,579.1 L798.8,579.7 L798.9,580.2 L799.1,580.7 L799.2,581.3 L799.4,581.8 L799.5,582.3 L799.7,582.8 L799.8,583.3 L799.9,583.8 L800.1,584.3 L800.2,584.9 L800.4,585.4 L800.5,586 L800.6,586.6 L800.8,587.1 L800.9,587.7 L801.1,588.3 L801.2,588.8 L801.4,589.4 L801.5,590 L801.6,590.5 L801.8,591.1 L801.9,591.6 L802.1,592.1 L802.2,592.7 L802.3,593.2 L802.5,593.6 L802.6,594.1 L802.8,594.6 L802.9,595 L803,595.4 L803.2,595.8 L803.3,596.2 L803.4,596.5 L803.6,596.8 L803.7,597.1 L804.3,598.1 L804.8,598.6 L805.3,598.9 L805.8,598.9 L806.3,598.7 L806.9,598.5 L807.5,598.3 L807.9,598.2 L808.3,598 L808.7,597.8 L809.1,597.5 L809.5,597.3 L809.9,596.9 L810.3,596.6 L810.8,596.2 L811.2,595.8 L811.6,595.4 L812.1,595 L812.5,594.5 L812.8,594.2 L813.1,593.9 L813.3,593.6 L813.6,593.3 L813.9,592.9 L814.2,592.6 L814.5,592.3 L814.8,591.9 L815,591.6 L815.3,591.2 L815.6,590.8 L815.9,590.3 L816.2,589.8 L816.5,589.3 L816.7,588.8 L817,588.2 L817.3,587.6 L817.6,586.9 L817.7,586.5 L817.9,586.2 L818,585.8 L818.2,585.4 L818.3,585 L818.5,584.7 L818.6,584.3 L818.7,583.8 L818.9,583.4 L819,583 L819.2,582.6 L819.3,582.1 L819.4,581.7 L819.6,581.2 L819.7,580.8 L819.9,580.3 L820,579.8 L820.1,579.3 L820.3,578.8 L820.4,578.3 L820.6,577.8 L820.7,577.3 L820.9,576.8 L821,576.2 L821.1,575.7 L821.3,575.1 L821.4,574.6 L821.6,574 L821.7,573.4 L821.9,572.9 L822,572.3 L822.1,571.7 L822.3,571.1 L822.4,570.5 L822.6,569.8 L822.7,569.2 L822.8,568.8 L822.9,568.4 L823,567.9 L823.1,567.5 L823.2,567.1 L823.2,566.6 L823.3,566.2 L823.4,565.7 L823.5,565.2 L823.6,564.8 L823.7,564.3 L823.8,563.8 L823.9,563.3 L824,562.8 L824.1,562.3 L824.2,561.8 L824.3,561.3 L824.3,560.8 L824.4,560.3 L824.5,559.8 L824.6,559.3 L824.7,558.7 L824.8,558.2 L824.9,557.7 L825,557.2 L825.1,556.6 L825.2,556.1 L825.3,555.6 L825.3,555 L825.4,554.5 L825.5,554 L825.6,553.4 L825.7,552.9 L825.8,552.4 L825.9,551.8 L826,551.3 L826.1,550.8 L826.2,550.3 L826.3,549.7 L826.4,549.2 L826.4,548.7 L826.5,548.2 L826.6,547.6 L826.7,547.1 L826.8,546.6 L826.9,546.1 L827,545.6 L827.1,545.1 L827.2,544.6 L827.3,544.1 L827.3,543.6 L827.4,543.2 L827.5,542.7 L827.6,542.2 L827.7,541.8 L827.8,541.3 L827.9,540.7 L828,540.2 L828.1,539.6 L828.2,539.1 L828.3,538.5 L828.5,538 L828.6,537.4 L828.7,536.9 L828.8,536.3 L828.9,535.8 L829,535.2 L829.1,534.7 L829.2,534.1 L829.3,533.6 L829.5,533.1 L829.6,532.5 L829.7,532 L829.8,531.4 L829.9,530.9 L830,530.4 L830.1,529.9 L830.2,529.3 L830.3,528.8 L830.4,528.3 L830.6,527.8 L830.7,527.3 L830.8,526.8 L830.9,526.3 L831,525.8 L831.1,525.3 L831.2,524.8 L831.3,524.4 L831.4,523.9 L831.5,523.4 L831.6,523 L831.7,522.5 L831.8,522.1 L832,521.6 L832.1,521.2 L832.2,520.8 L832.3,520.4 L832.4,520 L832.5,519.6 L832.6,519.2 L832.7,518.8 L832.8,518.4 L833,517.7 L833.2,517 L833.4,516.4 L833.6,515.7 L833.8,515.1 L834,514.5 L834.2,513.9 L834.4,513.4 L834.6,512.9 L834.8,512.3 L835,511.9 L835.1,511.4 L835.3,510.9 L835.5,510.5 L835.7,510.1 L835.9,509.7 L836.1,509.3 L836.3,508.9 L836.5,508.6 L836.7,508.2 L836.8,507.9 L837,507.6 L837.2,507.3 L837.4,507 L837.9,506.3 L838.4,505.8 L838.8,505.4 L839.3,505.1 L839.8,504.9 L840.2,504.8 L840.7,504.8 L841.2,505 L841.7,505.2 L842,505.4 L842.3,505.6 L842.6,505.8 L842.8,506.1 L843.1,506.4 L843.4,506.8 L843.7,507.1 L844,507.5 L844.4,508 L844.7,508.4 L845,508.9 L845.3,509.4 L845.6,509.9 L845.9,510.4 L846.2,511 L846.5,511.5 L846.8,512.1 L847,512.5 L847.2,512.8 L847.4,513.2 L847.6,513.6 L847.7,514 L847.9,514.5 L848.1,514.9 L848.3,515.3 L848.5,515.8 L848.7,516.2 L848.9,516.7 L849.1,517.1 L849.3,517.6 L849.5,518.1 L849.6,518.6 L849.8,519.1 L850,519.6 L850.2,520.1 L850.4,520.6 L850.6,521.1 L850.8,521.6 L851,522.1 L851.1,522.7 L851.3,523.2 L851.5,523.7 L851.7,524.3 L851.9,524.8 L852,525.2 L852.2,525.7 L852.3,526.1 L852.5,526.6 L852.6,527.1 L852.8,527.5 L852.9,528 L853.1,528.5 L853.2,529 L853.4,529.5 L853.5,530 L853.7,530.5 L853.8,531 L854,531.5 L854.1,532 L854.3,532.5 L854.4,533.1 L854.5,533.6 L854.7,534.1 L854.8,534.6 L855,535.1 L855.1,535.6 L855.3,536.1 L855.4,536.6 L855.6,537.1 L855.7,537.6 L855.9,538.1 L856,538.6 L856.2,539 L856.3,539.5 L856.5,540 L856.6,540.4 L856.8,540.9 L856.9,541.3 L857.1,541.8 L857.3,542.4 L857.5,542.9 L857.6,543.4 L857.8,543.9 L858,544.4 L858.2,544.8 L858.4,545.3 L858.5,545.8 L858.7,546.2 L858.9,546.7 L859.1,547.2 L859.3,547.6 L859.5,548.1 L859.6,548.5 L859.8,549 L860,549.4 L860.2,549.8 L860.4,550.3 L860.6,550.7 L860.8,551.2 L861,551.6 L861.2,552.1 L861.4,552.5 L861.6,553 L861.8,553.4 L862,553.9 L862.2,554.4 L862.4,554.8 L862.6,555.3 L862.8,555.7 L863,556.2 L863.3,556.7 L863.5,557.1 L863.7,557.6 L863.9,558.1 L864.1,558.5 L864.4,559 L864.6,559.5 L864.8,559.9 L865,560.4 L865.3,560.9 L865.5,561.3 L865.7,561.8 L866,562.2 L866.2,562.7 L866.4,563.2 L866.7,563.6 L866.9,564 L867.2,564.5 L867.4,564.9 L867.7,565.3 L867.9,565.8 L868.2,566.2 L868.4,566.6 L868.7,567.1 L869,567.5 L869.3,567.9 L869.5,568.4 L869.8,568.8 L870.1,569.3 L870.4,569.7 L870.7,570.1 L871,570.5 L871.4,570.9 L871.7,571.3 L872,571.7 L872.3,572.1 L872.6,572.5 L872.9,572.9 L873.2,573.2 L873.5,573.6 L873.8,573.9 L874.1,574.3 L874.5,574.6 L874.8,575 L875.1,575.3 L875.4,575.7 L875.7,576.1 L876,576.6 L876.3,577.1 L876.7,577.7 L877,578.3 L877.4,578.8 L877.7,579.4 L878,579.8 L878.4,580 L878.7,580.3 L879.1,580.5 L879.4,580.8 L879.8,581.1 L880.1,581.4 L880.5,582 L880.8,582.5 L881.1,583.1 L881.5,583.6 L881.8,584.1 L882.1,584.6 L882.4,584.9 L882.7,585.1 L883,585.3 L883.3,585.5 L883.6,585.6 L884.1,585.9 L884.6,586.3 L885.1,586.8 L885.5,587.3 L885.9,587.8 L886.3,588.2 L886.7,588.5 L887.1,588.7 L887.5,588.9 L887.9,589 L888.2,589.2 L888.6,589.4 L889,589.7 L889.5,590.1 L889.9,590.5 L890.2,590.9 L890.6,591.3 L891,591.7 L891.4,592 L891.7,592.3 L892.1,592.6 L892.5,592.8 L893,592.8 L893.5,592.8 L893.9,592.7 L894.4,592.4 L894.9,592.1 L895.4,591.8 L895.8,591.3 L896.3,590.8 L896.6,590.4 L896.9,590 L897.2,589.5 L897.5,589 L897.8,588.4 L898,587.9 L898.3,587.4 L898.6,586.9 L899,586.4 L899.3,585.9 L899.7,585.5 L900.1,585.3 L900.5,585.2 L901,585.2 L901.5,585.3 L902,585.4 L902.5,585.2 L903,585 L903.6,584.9 L904.1,584.7 L904.7,584.6 L905.2,584.5 L905.8,584.3 L906.4,584.1 L906.8,583.9 L907.2,583.6 L907.6,583.3 L908,582.9 L908.5,582.6 L908.9,582.3 L909.3,582.1 L909.8,581.8 L910.2,581.6 L910.6,581.4 L911.1,581.2 L911.5,581 L911.9,580.8 L912.4,580.7 L912.8,580.5 L913.2,580.3 L913.6,580 L914,579.8 L914.5,579.5 L915,579.2 L915.5,578.9 L916,578.6 L916.4,578.3 L916.9,578 L917.4,577.7 L917.8,577.5 L918.3,577.2 L918.7,576.9 L919.1,576.6 L919.6,576.4 L920,576.1 L920.4,575.8 L920.9,575.5 L921.3,575.1 L921.8,574.8 L922.2,574.5 L922.6,574.2 L923.1,573.8 L923.5,573.5 L923.9,573.2 L924.3,573 L924.7,572.8 L925,572.6 L925.4,572.4 L925.8,572.2 L926.2,572 L926.5,571.4 L926.9,570.8 L927.2,570.3 L927.5,569.7 L927.9,569.1 L928.2,568.5 L928.5,568 L928.9,567.8 L929.2,567.5 L929.6,567.2 L930,566.9 L930.5,566.6 L930.9,566.2 L931.3,565.7 L931.8,565.3 L932.1,565 L932.5,564.6 L932.8,564.3 L933,564.1" stroke="#000" stroke-width="2.8" fill="none" stroke-linejoin="round" stroke-linecap="round" />
<text transform="translate(22.6,126.5) rotate(-90)" font-size="15.5" text-anchor="middle">Absorbance (mAU)</text>
<text transform="translate(22.6,345.2) rotate(-90)" font-size="15.5" text-anchor="middle">Absorbance (mAU)</text>
<text transform="translate(22.6,569.6) rotate(-90)" font-size="15.5" text-anchor="middle">Absorbance (mAU)</text>
<text x="476.2" y="693.4" font-size="15.6" text-anchor="middle" font-weight="normal" font-style="normal" fill="#000" >Wavelength (nm)</text>
<text x="2.6" y="739.6" font-size="41.5" text-anchor="start" font-weight="bold" font-style="normal" fill="#000" >b</text>
<line x1="56.9" y1="758.7" x2="56.9" y2="885.2" stroke="#000" stroke-width="1.6" stroke-linecap="butt"/>
<line x1="48.9" y1="885.2" x2="234" y2="885.2" stroke="#000" stroke-width="2.4" stroke-linecap="butt"/>
<line x1="49.2" y1="767.7" x2="56.9" y2="767.7" stroke="#000" stroke-width="1.8" stroke-linecap="butt"/>
<text x="41.6" y="770" font-size="15.6" text-anchor="end" font-weight="normal" font-style="normal" fill="#000" >4</text>
<line x1="49.2" y1="796.2" x2="56.9" y2="796.2" stroke="#000" stroke-width="1.8" stroke-linecap="butt"/>
<text x="41.6" y="798.5" font-size="15.6" text-anchor="end" font-weight="normal" font-style="normal" fill="#000" >3</text>
<line x1="49.2" y1="825.2" x2="56.9" y2="825.2" stroke="#000" stroke-width="1.8" stroke-linecap="butt"/>
<text x="41.6" y="827.5" font-size="15.6" text-anchor="end" font-weight="normal" font-style="normal" fill="#000" >2</text>
<line x1="49.2" y1="854.1" x2="56.9" y2="854.1" stroke="#000" stroke-width="1.8" stroke-linecap="butt"/>
<text x="41.6" y="856.4" font-size="15.6" text-anchor="end" font-weight="normal" font-style="normal" fill="#000" >1</text>
<line x1="57" y1="885.2" x2="57" y2="892.2" stroke="#000" stroke-width="1.8" stroke-linecap="butt"/>
<line x1="98.3" y1="885.2" x2="98.3" y2="892.2" stroke="#000" stroke-width="1.8" stroke-linecap="butt"/>
<line x1="140.2" y1="885.2" x2="140.2" y2="892.2" stroke="#000" stroke-width="1.8" stroke-linecap="butt"/>
<line x1="182.6" y1="885.2" x2="182.6" y2="892.2" stroke="#000" stroke-width="1.8" stroke-linecap="butt"/>
<line x1="225.2" y1="885.2" x2="225.2" y2="892.2" stroke="#000" stroke-width="1.8" stroke-linecap="butt"/>
<text transform="translate(23.6,808.3) rotate(-90) scale(0.925,1)" font-size="16" font-weight="bold" text-anchor="middle">Intens. x10<tspan dy="-7.2" font-size="13">3</tspan></text>
<path d="M58,884.2 L108.4,884 L110.5,876.5 L113.1,875 L117.6,876.5 L122.1,881 L125.5,883.5 L127.4,869.1 L129,837.4 L130.3,805.7 L131.6,776.6 L132.9,800.4 L134.2,837.4 L136.1,866.5 L137.9,873.9 L140.1,863.8 L141.6,837.4 L143,827.4 L144.3,840.1 L145.9,869.1 L148.5,877.1 L153.3,879.7 L158.6,883.3 L206,884.2" stroke="#000" stroke-width="1.6" fill="none" stroke-linejoin="round" stroke-linecap="round" />
<text x="153.3" y="794.6" font-size="15.6" text-anchor="start" font-weight="normal" font-style="normal" fill="#000" >ValOx</text>
<text x="131" y="770.6" font-size="16.2" text-anchor="start" font-weight="normal" font-style="italic" fill="#000" >Z-</text>
<text x="141" y="821.1" font-size="16.2" text-anchor="start" font-weight="normal" font-style="italic" fill="#000" >E-</text>
<line x1="290.3" y1="762.9" x2="290.3" y2="888.4" stroke="#000" stroke-width="1.8" stroke-linecap="butt"/>
<line x1="282.9" y1="888.4" x2="446.2" y2="888.4" stroke="#000" stroke-width="2.4" stroke-linecap="butt"/>
<line x1="283" y1="783.8" x2="290.3" y2="783.8" stroke="#000" stroke-width="1.8" stroke-linecap="butt"/>
<text x="278.8" y="786.8" font-size="15.6" text-anchor="end" font-weight="normal" font-style="normal" fill="#000" >3</text>
<line x1="283" y1="818.4" x2="290.3" y2="818.4" stroke="#000" stroke-width="1.8" stroke-linecap="butt"/>
<text x="278.8" y="821.4" font-size="15.6" text-anchor="end" font-weight="normal" font-style="normal" fill="#000" >2</text>
<line x1="283" y1="853.3" x2="290.3" y2="853.3" stroke="#000" stroke-width="1.8" stroke-linecap="butt"/>
<text x="278.8" y="856.3" font-size="15.6" text-anchor="end" font-weight="normal" font-style="normal" fill="#000" >1</text>
<line x1="304" y1="888.4" x2="304" y2="894.9" stroke="#000" stroke-width="1.8" stroke-linecap="butt"/>
<line x1="346.3" y1="888.4" x2="346.3" y2="894.9" stroke="#000" stroke-width="1.8" stroke-linecap="butt"/>
<line x1="388.6" y1="888.4" x2="388.6" y2="894.9" stroke="#000" stroke-width="1.8" stroke-linecap="butt"/>
<line x1="430.3" y1="888.4" x2="430.3" y2="894.9" stroke="#000" stroke-width="1.8" stroke-linecap="butt"/>
<text transform="translate(263.2,812.5) rotate(-90) scale(0.925,1)" font-size="16" font-weight="bold" text-anchor="middle">Intens. x10<tspan dy="-7.2" font-size="13">4</tspan></text>
<path d="M330,887.5 L356.8,887.3 L359.5,870 L362,848 L364.2,834.8 L366.3,848 L368.5,870 L370.5,881 L372.7,883.7 L375.5,881 L377.8,868 L380.6,856.7 L382.6,868 L384.8,882 L387.5,886.5 L391,887.5 L395,887.8" stroke="#000" stroke-width="1.6" fill="none" stroke-linejoin="round" stroke-linecap="round" />
<text x="384.6" y="812.3" font-size="15.6" text-anchor="start" font-weight="normal" font-style="normal" fill="#000" >IleOx</text>
<text x="356.8" y="828.3" font-size="16.2" text-anchor="start" font-weight="normal" font-style="italic" fill="#000" >Z-</text>
<text x="379.8" y="850.2" font-size="16.2" text-anchor="start" font-weight="normal" font-style="italic" fill="#000" >E-</text>
<path d="M55.7,935.4 L107,935.4 L108.5,915.4 L110.5,897.4 L111.8,895.4 L113.5,899.4 L116.1,908 L118.5,916.4 L121.2,923.3 L124,927.9 L127.5,929.6 L130.5,931.4 L133.9,932.2 L136.5,932.9 L138.5,933.2 L139.5,930.9 L140.6,930.4 L141.6,932.9 L144,934.9 L147,935.4 L230.3,935.4" stroke="#000" stroke-width="1.7" fill="none" stroke-linejoin="round" stroke-linecap="round" />
<line x1="55.7" y1="934.9" x2="55.7" y2="941.4" stroke="#000" stroke-width="1.5" stroke-linecap="butt"/>
<line x1="97.8" y1="935.4" x2="97.8" y2="940.4" stroke="#000" stroke-width="1.5" stroke-linecap="butt"/>
<line x1="140.2" y1="935.4" x2="140.2" y2="940.4" stroke="#000" stroke-width="1.5" stroke-linecap="butt"/>
<line x1="182.1" y1="935.4" x2="182.1" y2="940.4" stroke="#000" stroke-width="1.5" stroke-linecap="butt"/>
<line x1="223.9" y1="935.4" x2="223.9" y2="940.4" stroke="#000" stroke-width="1.5" stroke-linecap="butt"/>
<line x1="288.2" y1="939" x2="446" y2="939" stroke="#000" stroke-width="1.9" stroke-linecap="butt"/>
<line x1="304" y1="939" x2="304" y2="944.5" stroke="#000" stroke-width="1.5" stroke-linecap="butt"/>
<line x1="346.5" y1="939" x2="346.5" y2="944.5" stroke="#000" stroke-width="1.5" stroke-linecap="butt"/>
<line x1="388.9" y1="939" x2="388.9" y2="944.5" stroke="#000" stroke-width="1.5" stroke-linecap="butt"/>
<line x1="430.8" y1="939" x2="430.8" y2="944.5" stroke="#000" stroke-width="1.5" stroke-linecap="butt"/>
<path d="M55.7,966 L107.3,966 L108.8,958.2 L110.6,957.1 L113.6,958.6 L118.1,961.5 L119.9,963.8 L120.7,966 L126.3,966 L127,963.4 L129.3,959.7 L131.5,962.7 L133,966 L137.4,966 L138.6,961.9 L140.4,961.2 L143,961.9 L144.9,965.6 L145.5,966 L230.3,966" stroke="#000" stroke-width="1.7" fill="none" stroke-linejoin="round" stroke-linecap="round" />
<line x1="55.7" y1="965.5" x2="55.7" y2="972" stroke="#000" stroke-width="1.5" stroke-linecap="butt"/>
<line x1="97.8" y1="966" x2="97.8" y2="971" stroke="#000" stroke-width="1.5" stroke-linecap="butt"/>
<line x1="140.2" y1="966" x2="140.2" y2="971" stroke="#000" stroke-width="1.5" stroke-linecap="butt"/>
<line x1="182.1" y1="966" x2="182.1" y2="971" stroke="#000" stroke-width="1.5" stroke-linecap="butt"/>
<line x1="223.9" y1="966" x2="223.9" y2="971" stroke="#000" stroke-width="1.5" stroke-linecap="butt"/>
<path d="M288.2,967.4 L309,967.4 L309.5,968.4 L384,968.4 L384.5,969.7 L446,969.7" stroke="#000" stroke-width="1.9" fill="none" stroke-linejoin="round" stroke-linecap="round" />
<line x1="304" y1="968.6" x2="304" y2="974.1" stroke="#000" stroke-width="1.5" stroke-linecap="butt"/>
<line x1="346.5" y1="968.6" x2="346.5" y2="974.1" stroke="#000" stroke-width="1.5" stroke-linecap="butt"/>
<line x1="388.9" y1="968.6" x2="388.9" y2="974.1" stroke="#000" stroke-width="1.5" stroke-linecap="butt"/>
<line x1="430.8" y1="968.6" x2="430.8" y2="974.1" stroke="#000" stroke-width="1.5" stroke-linecap="butt"/>
<path d="M55.7,996.5 L106.2,996.5 L107.7,994.7 L108.8,988.7 L109.9,981.3 L111,979.8 L113.2,980.2 L114.7,983.5 L116.2,985.7 L117.3,988 L118.8,989.1 L121.1,990.6 L123.7,992.4 L124.8,996.2 L127,993.9 L128.9,992.4 L130.7,993.2 L131.9,995.8 L138.2,996.5 L139.7,995.4 L141.5,992.4 L143,995.4 L144.1,996.5 L230.3,996.5" stroke="#000" stroke-width="1.7" fill="none" stroke-linejoin="round" stroke-linecap="round" />
<line x1="55.7" y1="996" x2="55.7" y2="1002.5" stroke="#000" stroke-width="1.5" stroke-linecap="butt"/>
<line x1="97.8" y1="996.5" x2="97.8" y2="1001.5" stroke="#000" stroke-width="1.5" stroke-linecap="butt"/>
<line x1="140.2" y1="996.5" x2="140.2" y2="1001.5" stroke="#000" stroke-width="1.5" stroke-linecap="butt"/>
<line x1="182.1" y1="996.5" x2="182.1" y2="1001.5" stroke="#000" stroke-width="1.5" stroke-linecap="butt"/>
<line x1="223.9" y1="996.5" x2="223.9" y2="1001.5" stroke="#000" stroke-width="1.5" stroke-linecap="butt"/>
<line x1="288.2" y1="999.4" x2="446" y2="999.4" stroke="#000" stroke-width="1.9" stroke-linecap="butt"/>
<line x1="304" y1="999.4" x2="304" y2="1004.9" stroke="#000" stroke-width="1.5" stroke-linecap="butt"/>
<line x1="346.5" y1="999.4" x2="346.5" y2="1004.9" stroke="#000" stroke-width="1.5" stroke-linecap="butt"/>
<line x1="388.9" y1="999.4" x2="388.9" y2="1004.9" stroke="#000" stroke-width="1.5" stroke-linecap="butt"/>
<line x1="430.8" y1="999.4" x2="430.8" y2="1004.9" stroke="#000" stroke-width="1.5" stroke-linecap="butt"/>
<path d="M55.7,1026 L107.7,1026 L109.5,1020 L112.5,1016.3 L115.8,1018.1 L118.8,1020 L122.6,1022.2 L125.2,1026 L127.8,1021.5 L129.6,1020.4 L131.1,1021.5 L132.2,1026 L138.2,1026 L140.4,1021.9 L142.7,1020.7 L144.1,1026 L230.3,1026" stroke="#000" stroke-width="1.7" fill="none" stroke-linejoin="round" stroke-linecap="round" />
<line x1="55.7" y1="1025.5" x2="55.7" y2="1032" stroke="#000" stroke-width="1.5" stroke-linecap="butt"/>
<line x1="97.8" y1="1026" x2="97.8" y2="1031" stroke="#000" stroke-width="1.5" stroke-linecap="butt"/>
<line x1="140.2" y1="1026" x2="140.2" y2="1031" stroke="#000" stroke-width="1.5" stroke-linecap="butt"/>
<line x1="182.1" y1="1026" x2="182.1" y2="1031" stroke="#000" stroke-width="1.5" stroke-linecap="butt"/>
<line x1="223.9" y1="1026" x2="223.9" y2="1031" stroke="#000" stroke-width="1.5" stroke-linecap="butt"/>
<path d="M288.2,1027.9 L322.5,1027.9 L323,1029.3 L403.5,1029.3 L404,1030.3 L446,1030.3" stroke="#000" stroke-width="1.9" fill="none" stroke-linejoin="round" stroke-linecap="round" />
<line x1="304" y1="1029" x2="304" y2="1034.5" stroke="#000" stroke-width="1.5" stroke-linecap="butt"/>
<line x1="346.5" y1="1029" x2="346.5" y2="1034.5" stroke="#000" stroke-width="1.5" stroke-linecap="butt"/>
<line x1="388.9" y1="1029" x2="388.9" y2="1034.5" stroke="#000" stroke-width="1.5" stroke-linecap="butt"/>
<line x1="430.8" y1="1029" x2="430.8" y2="1034.5" stroke="#000" stroke-width="1.5" stroke-linecap="butt"/>
<path d="M55.7,1056.9 L108,1056.9 L109.9,1049.8 L112.5,1047.5 L115.8,1049 L119.6,1051.6 L122.6,1053.1 L124.8,1056.5 L127.8,1052.4 L130,1051.6 L131.5,1056.5 L138.2,1056.9 L140.4,1053.1 L142.7,1052 L144.1,1056.5 L230.3,1056.9" stroke="#000" stroke-width="1.7" fill="none" stroke-linejoin="round" stroke-linecap="round" />
<line x1="55.7" y1="1056.4" x2="55.7" y2="1062.9" stroke="#000" stroke-width="1.5" stroke-linecap="butt"/>
<line x1="97.8" y1="1056.9" x2="97.8" y2="1061.9" stroke="#000" stroke-width="1.5" stroke-linecap="butt"/>
<line x1="140.2" y1="1056.9" x2="140.2" y2="1061.9" stroke="#000" stroke-width="1.5" stroke-linecap="butt"/>
<line x1="182.1" y1="1056.9" x2="182.1" y2="1061.9" stroke="#000" stroke-width="1.5" stroke-linecap="butt"/>
<line x1="223.9" y1="1056.9" x2="223.9" y2="1061.9" stroke="#000" stroke-width="1.5" stroke-linecap="butt"/>
<path d="M288.2,1059.7 L312.5,1059.7 L313,1061.4 L394,1061.4 L404,1062.8 L446,1062.8" stroke="#000" stroke-width="1.9" fill="none" stroke-linejoin="round" stroke-linecap="round" />
<line x1="304" y1="1061" x2="304" y2="1066.5" stroke="#000" stroke-width="1.5" stroke-linecap="butt"/>
<line x1="346.5" y1="1061" x2="346.5" y2="1066.5" stroke="#000" stroke-width="1.5" stroke-linecap="butt"/>
<line x1="388.9" y1="1061" x2="388.9" y2="1066.5" stroke="#000" stroke-width="1.5" stroke-linecap="butt"/>
<line x1="430.8" y1="1061" x2="430.8" y2="1066.5" stroke="#000" stroke-width="1.5" stroke-linecap="butt"/>
<path d="M55.7,1086.3 L230.3,1086.3" stroke="#000" stroke-width="1.7" fill="none" stroke-linejoin="round" stroke-linecap="round" />
<line x1="55.7" y1="1085.8" x2="55.7" y2="1092.3" stroke="#000" stroke-width="1.5" stroke-linecap="butt"/>
<line x1="97.8" y1="1086.3" x2="97.8" y2="1091.3" stroke="#000" stroke-width="1.5" stroke-linecap="butt"/>
<line x1="140.2" y1="1086.3" x2="140.2" y2="1091.3" stroke="#000" stroke-width="1.5" stroke-linecap="butt"/>
<line x1="182.1" y1="1086.3" x2="182.1" y2="1091.3" stroke="#000" stroke-width="1.5" stroke-linecap="butt"/>
<line x1="223.9" y1="1086.3" x2="223.9" y2="1091.3" stroke="#000" stroke-width="1.5" stroke-linecap="butt"/>
<line x1="288.2" y1="1087.9" x2="446" y2="1087.9" stroke="#000" stroke-width="1.9" stroke-linecap="butt"/>
<line x1="304" y1="1087.9" x2="304" y2="1093.4" stroke="#000" stroke-width="1.5" stroke-linecap="butt"/>
<line x1="346.5" y1="1087.9" x2="346.5" y2="1093.4" stroke="#000" stroke-width="1.5" stroke-linecap="butt"/>
<line x1="388.9" y1="1087.9" x2="388.9" y2="1093.4" stroke="#000" stroke-width="1.5" stroke-linecap="butt"/>
<line x1="430.8" y1="1087.9" x2="430.8" y2="1093.4" stroke="#000" stroke-width="1.5" stroke-linecap="butt"/>
<path d="M55.7,1116.5 L109.5,1116.5 L109.8,1113.5 L110.5,1111.5 L112,1110.3 L114,1110.2 L116,1110.8 L117,1112 L117.6,1114.5 L118.3,1116.5 L139.6,1116.5 L140.3,1113.5 L141.2,1116.5 L230.3,1116.5" stroke="#000" stroke-width="1.7" fill="none" stroke-linejoin="round" stroke-linecap="round" />
<line x1="55.7" y1="1116" x2="55.7" y2="1122.5" stroke="#000" stroke-width="1.5" stroke-linecap="butt"/>
<line x1="97.8" y1="1116.5" x2="97.8" y2="1121.5" stroke="#000" stroke-width="1.5" stroke-linecap="butt"/>
<line x1="140.2" y1="1116.5" x2="140.2" y2="1121.5" stroke="#000" stroke-width="1.5" stroke-linecap="butt"/>
<line x1="182.1" y1="1116.5" x2="182.1" y2="1121.5" stroke="#000" stroke-width="1.5" stroke-linecap="butt"/>
<line x1="223.9" y1="1116.5" x2="223.9" y2="1121.5" stroke="#000" stroke-width="1.5" stroke-linecap="butt"/>
<line x1="288.2" y1="1119.6" x2="446" y2="1119.6" stroke="#000" stroke-width="1.9" stroke-linecap="butt"/>
<line x1="304" y1="1119.6" x2="304" y2="1125.1" stroke="#000" stroke-width="1.5" stroke-linecap="butt"/>
<line x1="346.5" y1="1119.6" x2="346.5" y2="1125.1" stroke="#000" stroke-width="1.5" stroke-linecap="butt"/>
<line x1="388.9" y1="1119.6" x2="388.9" y2="1125.1" stroke="#000" stroke-width="1.5" stroke-linecap="butt"/>
<line x1="430.8" y1="1119.6" x2="430.8" y2="1125.1" stroke="#000" stroke-width="1.5" stroke-linecap="butt"/>
<path d="M55.7,1146.5 L108.2,1146.5 L108.6,1142.5 L109.5,1139.5 L111,1138.3 L113,1138.5 L115,1139.7 L117,1141.7 L118.5,1144 L119.4,1146.5 L128.5,1146.5 L129.5,1143.5 L130.5,1146.5 L139.8,1146.5 L140.8,1143 L142,1146.5 L230.3,1146.5" stroke="#000" stroke-width="1.7" fill="none" stroke-linejoin="round" stroke-linecap="round" />
<line x1="55.7" y1="1146" x2="55.7" y2="1152.5" stroke="#000" stroke-width="1.5" stroke-linecap="butt"/>
<line x1="97.8" y1="1146.5" x2="97.8" y2="1151.5" stroke="#000" stroke-width="1.5" stroke-linecap="butt"/>
<line x1="140.2" y1="1146.5" x2="140.2" y2="1151.5" stroke="#000" stroke-width="1.5" stroke-linecap="butt"/>
<line x1="182.1" y1="1146.5" x2="182.1" y2="1151.5" stroke="#000" stroke-width="1.5" stroke-linecap="butt"/>
<line x1="223.9" y1="1146.5" x2="223.9" y2="1151.5" stroke="#000" stroke-width="1.5" stroke-linecap="butt"/>
<line x1="288.2" y1="1149.3" x2="446" y2="1149.3" stroke="#000" stroke-width="1.9" stroke-linecap="butt"/>
<line x1="304" y1="1149.3" x2="304" y2="1154.8" stroke="#000" stroke-width="1.5" stroke-linecap="butt"/>
<line x1="346.5" y1="1149.3" x2="346.5" y2="1154.8" stroke="#000" stroke-width="1.5" stroke-linecap="butt"/>
<line x1="388.9" y1="1149.3" x2="388.9" y2="1154.8" stroke="#000" stroke-width="1.5" stroke-linecap="butt"/>
<line x1="430.8" y1="1149.3" x2="430.8" y2="1154.8" stroke="#000" stroke-width="1.5" stroke-linecap="butt"/>
<path d="M55.7,1176.4 L109.5,1176.4 L109.8,1173.4 L110.5,1170.9 L112,1169.9 L114,1170.1 L116,1171.2 L117,1172.9 L117.5,1175.4 L118,1176.4 L139.6,1176.4 L140.2,1173.9 L141.5,1173.9 L142,1176.4 L230.3,1176.4" stroke="#000" stroke-width="1.7" fill="none" stroke-linejoin="round" stroke-linecap="round" />
<line x1="55.7" y1="1175.9" x2="55.7" y2="1182.4" stroke="#000" stroke-width="1.5" stroke-linecap="butt"/>
<line x1="97.8" y1="1176.4" x2="97.8" y2="1181.4" stroke="#000" stroke-width="1.5" stroke-linecap="butt"/>
<line x1="140.2" y1="1176.4" x2="140.2" y2="1181.4" stroke="#000" stroke-width="1.5" stroke-linecap="butt"/>
<line x1="182.1" y1="1176.4" x2="182.1" y2="1181.4" stroke="#000" stroke-width="1.5" stroke-linecap="butt"/>
<line x1="223.9" y1="1176.4" x2="223.9" y2="1181.4" stroke="#000" stroke-width="1.5" stroke-linecap="butt"/>
<line x1="288.2" y1="1179.2" x2="446" y2="1179.2" stroke="#000" stroke-width="1.9" stroke-linecap="butt"/>
<line x1="304" y1="1179.2" x2="304" y2="1184.7" stroke="#000" stroke-width="1.5" stroke-linecap="butt"/>
<line x1="346.5" y1="1179.2" x2="346.5" y2="1184.7" stroke="#000" stroke-width="1.5" stroke-linecap="butt"/>
<line x1="388.9" y1="1179.2" x2="388.9" y2="1184.7" stroke="#000" stroke-width="1.5" stroke-linecap="butt"/>
<line x1="430.8" y1="1179.2" x2="430.8" y2="1184.7" stroke="#000" stroke-width="1.5" stroke-linecap="butt"/>
<path d="M55.7,1206.1 L128.5,1206.1 L129.3,1202.1 L130.2,1200.1 L131.2,1202.1 L131.8,1206.1 L140.3,1206.1 L141.2,1201.6 L142.2,1200.1 L143.2,1202.1 L143.8,1206.1 L230.3,1206.1" stroke="#000" stroke-width="1.7" fill="none" stroke-linejoin="round" stroke-linecap="round" />
<line x1="55.7" y1="1205.6" x2="55.7" y2="1212.1" stroke="#000" stroke-width="1.5" stroke-linecap="butt"/>
<line x1="97.8" y1="1206.1" x2="97.8" y2="1211.1" stroke="#000" stroke-width="1.5" stroke-linecap="butt"/>
<line x1="140.2" y1="1206.1" x2="140.2" y2="1211.1" stroke="#000" stroke-width="1.5" stroke-linecap="butt"/>
<line x1="182.1" y1="1206.1" x2="182.1" y2="1211.1" stroke="#000" stroke-width="1.5" stroke-linecap="butt"/>
<line x1="223.9" y1="1206.1" x2="223.9" y2="1211.1" stroke="#000" stroke-width="1.5" stroke-linecap="butt"/>
<line x1="288.2" y1="1208.4" x2="446" y2="1208.4" stroke="#000" stroke-width="1.9" stroke-linecap="butt"/>
<line x1="304" y1="1208.4" x2="304" y2="1213.9" stroke="#000" stroke-width="1.5" stroke-linecap="butt"/>
<line x1="346.5" y1="1208.4" x2="346.5" y2="1213.9" stroke="#000" stroke-width="1.5" stroke-linecap="butt"/>
<line x1="388.9" y1="1208.4" x2="388.9" y2="1213.9" stroke="#000" stroke-width="1.5" stroke-linecap="butt"/>
<line x1="430.8" y1="1208.4" x2="430.8" y2="1213.9" stroke="#000" stroke-width="1.5" stroke-linecap="butt"/>
<text x="262.6" y="892.8" font-size="15.6" text-anchor="middle" font-weight="normal" font-style="normal" fill="#000" >A</text>
<text x="262.6" y="943.6" font-size="15.6" text-anchor="middle" font-weight="normal" font-style="normal" fill="#000" >B</text>
<text x="262.6" y="973" font-size="15.6" text-anchor="middle" font-weight="normal" font-style="normal" fill="#000" >C</text>
<text x="262.6" y="1003" font-size="15.6" text-anchor="middle" font-weight="normal" font-style="normal" fill="#000" >D</text>
<text x="262.6" y="1032.8" font-size="15.6" text-anchor="middle" font-weight="normal" font-style="normal" fill="#000" >E</text>
<text x="262.6" y="1063" font-size="15.6" text-anchor="middle" font-weight="normal" font-style="normal" fill="#000" >F</text>
<text x="262.6" y="1093" font-size="15.6" text-anchor="middle" font-weight="normal" font-style="normal" fill="#000" >G</text>
<text x="262.6" y="1123.2" font-size="15.6" text-anchor="middle" font-weight="normal" font-style="normal" fill="#000" >H</text>
<text x="262.6" y="1153.6" font-size="15.6" text-anchor="middle" font-weight="normal" font-style="normal" fill="#000" >I</text>
<text x="262.6" y="1183.4" font-size="15.6" text-anchor="middle" font-weight="normal" font-style="normal" fill="#000" >J</text>
<text x="262.6" y="1213.5" font-size="15.6" text-anchor="middle" font-weight="normal" font-style="normal" fill="#000" >K</text>
<text x="55.6" y="1230" font-size="15.6" text-anchor="middle" font-weight="normal" font-style="normal" fill="#000" >3</text>
<text x="140" y="1230" font-size="15.6" text-anchor="middle" font-weight="normal" font-style="normal" fill="#000" >4</text>
<text x="223" y="1230" font-size="15.6" text-anchor="middle" font-weight="normal" font-style="normal" fill="#000" >5</text>
<text x="345.5" y="1230" font-size="15.6" text-anchor="middle" font-weight="normal" font-style="normal" fill="#000" >3</text>
<text x="428.7" y="1230" font-size="15.6" text-anchor="middle" font-weight="normal" font-style="normal" fill="#000" >4</text>
<text x="139" y="1250.5" font-size="15.6" text-anchor="middle" font-weight="normal" font-style="normal" fill="#000" >Time (min)</text>
<text x="343.4" y="1250.5" font-size="15.6" text-anchor="middle" font-weight="normal" font-style="normal" fill="#000" >Time (min)</text>
<text x="482.5" y="740" font-size="41.5" text-anchor="start" font-weight="bold" font-style="normal" fill="#000" >c</text>
<text x="610.4" y="762" font-size="15.6" text-anchor="middle" font-weight="normal" font-style="normal" fill="#000" >Acetone-DNPH</text>
<text x="833.5" y="762.9" font-size="15.6" text-anchor="middle" font-weight="normal" font-style="normal" fill="#000" >2-Butanone-DNPH</text>
<rect x="524.2" y="1182.2" width="2" height="2" fill="#000"/>
<rect x="524.2" y="1168.4" width="2" height="2" fill="#000"/>
<rect x="524.2" y="1154.6" width="2" height="2" fill="#000"/>
<rect x="524.2" y="1140.8" width="2" height="2" fill="#000"/>
<rect x="524.2" y="1127" width="2" height="2" fill="#000"/>
<rect x="524.2" y="1113.1" width="2" height="2" fill="#000"/>
<rect x="524.2" y="1099.3" width="2" height="2" fill="#000"/>
<rect x="524.2" y="1085.5" width="2" height="2" fill="#000"/>
<rect x="524.2" y="1071.7" width="2" height="2" fill="#000"/>
<rect x="524.2" y="1057.9" width="2" height="2" fill="#000"/>
<rect x="524.2" y="1044" width="2" height="2" fill="#000"/>
<rect x="524.2" y="1030.2" width="2" height="2" fill="#000"/>
<rect x="524.2" y="1016.4" width="2" height="2" fill="#000"/>
<rect x="524.2" y="1002.6" width="2" height="2" fill="#000"/>
<rect x="524.2" y="988.8" width="2" height="2" fill="#000"/>
<rect x="524.2" y="974.9" width="2" height="2" fill="#000"/>
<rect x="524.2" y="961.1" width="2" height="2" fill="#000"/>
<rect x="524.2" y="947.3" width="2" height="2" fill="#000"/>
<rect x="524.2" y="933.5" width="2" height="2" fill="#000"/>
<rect x="524.2" y="919.7" width="2" height="2" fill="#000"/>
<rect x="524.2" y="905.8" width="2" height="2" fill="#000"/>
<rect x="524.2" y="892" width="2" height="2" fill="#000"/>
<rect x="524.2" y="878.2" width="2" height="2" fill="#000"/>
<rect x="524.2" y="864.4" width="2" height="2" fill="#000"/>
<rect x="524.2" y="850.6" width="2" height="2" fill="#000"/>
<rect x="524.2" y="836.7" width="2" height="2" fill="#000"/>
<rect x="524.2" y="822.9" width="2" height="2" fill="#000"/>
<rect x="524.2" y="809.1" width="2" height="2" fill="#000"/>
<rect x="524.2" y="795.3" width="2" height="2" fill="#000"/>
<rect x="524.2" y="781.5" width="2" height="2" fill="#000"/>
<text x="518" y="883.6" font-size="15.6" text-anchor="end" font-weight="normal" font-style="normal" fill="#000" >5</text>
<text x="518" y="952.9" font-size="15.6" text-anchor="end" font-weight="normal" font-style="normal" fill="#000" >4</text>
<text x="518" y="1021.9" font-size="15.6" text-anchor="end" font-weight="normal" font-style="normal" fill="#000" >3</text>
<text x="518" y="1090.1" font-size="15.6" text-anchor="end" font-weight="normal" font-style="normal" fill="#000" >2</text>
<text x="518" y="1159.9" font-size="15.6" text-anchor="end" font-weight="normal" font-style="normal" fill="#000" >1</text>
<text transform="translate(498.4,985.8) rotate(-90) scale(0.925,1)" font-size="16" font-weight="bold" text-anchor="middle">Intens. x10<tspan dy="-7.2" font-size="13">5</tspan></text>
<line x1="527.1" y1="1204.8" x2="527.1" y2="1214" stroke="#000" stroke-width="1.4" stroke-linecap="butt"/>
<line x1="531.4" y1="1204.8" x2="531.4" y2="1210.9" stroke="#000" stroke-width="1.4" stroke-linecap="butt"/>
<line x1="535.7" y1="1204.8" x2="535.7" y2="1210.9" stroke="#000" stroke-width="1.4" stroke-linecap="butt"/>
<line x1="540" y1="1204.8" x2="540" y2="1210.9" stroke="#000" stroke-width="1.4" stroke-linecap="butt"/>
<line x1="544.3" y1="1204.8" x2="544.3" y2="1210.9" stroke="#000" stroke-width="1.4" stroke-linecap="butt"/>
<line x1="548.6" y1="1204.8" x2="548.6" y2="1214" stroke="#000" stroke-width="1.4" stroke-linecap="butt"/>
<line x1="552.9" y1="1204.8" x2="552.9" y2="1210.9" stroke="#000" stroke-width="1.4" stroke-linecap="butt"/>
<line x1="557.2" y1="1204.8" x2="557.2" y2="1210.9" stroke="#000" stroke-width="1.4" stroke-linecap="butt"/>
<line x1="561.5" y1="1204.8" x2="561.5" y2="1210.9" stroke="#000" stroke-width="1.4" stroke-linecap="butt"/>
<line x1="565.8" y1="1204.8" x2="565.8" y2="1210.9" stroke="#000" stroke-width="1.4" stroke-linecap="butt"/>
<line x1="570.1" y1="1204.8" x2="570.1" y2="1214" stroke="#000" stroke-width="1.4" stroke-linecap="butt"/>
<line x1="574.4" y1="1204.8" x2="574.4" y2="1210.9" stroke="#000" stroke-width="1.4" stroke-linecap="butt"/>
<line x1="578.7" y1="1204.8" x2="578.7" y2="1210.9" stroke="#000" stroke-width="1.4" stroke-linecap="butt"/>
<line x1="583" y1="1204.8" x2="583" y2="1210.9" stroke="#000" stroke-width="1.4" stroke-linecap="butt"/>
<line x1="587.3" y1="1204.8" x2="587.3" y2="1210.9" stroke="#000" stroke-width="1.4" stroke-linecap="butt"/>
<line x1="591.6" y1="1204.8" x2="591.6" y2="1214" stroke="#000" stroke-width="1.4" stroke-linecap="butt"/>
<line x1="595.9" y1="1204.8" x2="595.9" y2="1210.9" stroke="#000" stroke-width="1.4" stroke-linecap="butt"/>
<line x1="600.2" y1="1204.8" x2="600.2" y2="1210.9" stroke="#000" stroke-width="1.4" stroke-linecap="butt"/>
<line x1="604.5" y1="1204.8" x2="604.5" y2="1210.9" stroke="#000" stroke-width="1.4" stroke-linecap="butt"/>
<line x1="608.8" y1="1204.8" x2="608.8" y2="1210.9" stroke="#000" stroke-width="1.4" stroke-linecap="butt"/>
<line x1="613.1" y1="1204.8" x2="613.1" y2="1214" stroke="#000" stroke-width="1.4" stroke-linecap="butt"/>
<line x1="617.4" y1="1204.8" x2="617.4" y2="1210.9" stroke="#000" stroke-width="1.4" stroke-linecap="butt"/>
<line x1="621.7" y1="1204.8" x2="621.7" y2="1210.9" stroke="#000" stroke-width="1.4" stroke-linecap="butt"/>
<line x1="626" y1="1204.8" x2="626" y2="1210.9" stroke="#000" stroke-width="1.4" stroke-linecap="butt"/>
<line x1="630.3" y1="1204.8" x2="630.3" y2="1210.9" stroke="#000" stroke-width="1.4" stroke-linecap="butt"/>
<line x1="634.6" y1="1204.8" x2="634.6" y2="1214" stroke="#000" stroke-width="1.4" stroke-linecap="butt"/>
<line x1="638.9" y1="1204.8" x2="638.9" y2="1210.9" stroke="#000" stroke-width="1.4" stroke-linecap="butt"/>
<line x1="643.2" y1="1204.8" x2="643.2" y2="1210.9" stroke="#000" stroke-width="1.4" stroke-linecap="butt"/>
<line x1="647.5" y1="1204.8" x2="647.5" y2="1210.9" stroke="#000" stroke-width="1.4" stroke-linecap="butt"/>
<line x1="651.8" y1="1204.8" x2="651.8" y2="1210.9" stroke="#000" stroke-width="1.4" stroke-linecap="butt"/>
<line x1="656.1" y1="1204.8" x2="656.1" y2="1214" stroke="#000" stroke-width="1.4" stroke-linecap="butt"/>
<line x1="660.4" y1="1204.8" x2="660.4" y2="1210.9" stroke="#000" stroke-width="1.4" stroke-linecap="butt"/>
<text x="527.5" y="1230.5" font-size="15.6" text-anchor="middle" font-weight="normal" font-style="normal" fill="#000" >3</text>
<text x="571" y="1230.5" font-size="15.6" text-anchor="middle" font-weight="normal" font-style="normal" fill="#000" >4</text>
<text x="614.7" y="1230.5" font-size="15.6" text-anchor="middle" font-weight="normal" font-style="normal" fill="#000" >5</text>
<text x="658.3" y="1230.5" font-size="15.6" text-anchor="middle" font-weight="normal" font-style="normal" fill="#000" >6</text>
<text x="593" y="1250.5" font-size="15.6" text-anchor="middle" font-weight="normal" font-style="normal" fill="#000" >Time (min)</text>
<path d="M546.5,1100.4 L547.2,1100.3 L547.9,1100.2 L548.6,1100 L549.3,1099.9 L550,1099.8 L550.7,1099.8 L551.4,1099.8 L552.1,1099.9 L552.8,1099.9 L553.5,1100 L554.2,1100.1 L554.9,1100.3 L555.6,1100.6 L556.3,1101.3 L557,1102.2 L557.7,1103.1 L558.4,1103.6 L559.1,1103.2 L559.8,1102.3 L560.5,1101.2 L561.2,1100.4 L561.9,1099.9 L562.6,1099.8 L563.3,1100.2 L564,1101.1 L564.7,1102.5 L565.4,1103.9 L566.1,1104.8 L566.8,1104.5 L567.5,1103.4 L568.2,1102 L568.9,1100.9 L569.6,1100.3 L570.3,1100 L571,1099.9 L571.7,1099.8 L572.4,1099.7 L573.1,1099.5 L573.8,1099.4 L574.5,1099.4 L575.2,1099.4 L575.9,1099.5 L576.6,1099.6 L577.3,1099.7 L578,1099.9 L578.7,1100.2 L579.4,1100.6 L580.1,1101.1 L580.8,1101.8 L581.5,1102.5 L582.2,1103.1 L582.9,1103.6 L583.6,1103.7 L584.3,1103.5 L585,1103 L585.7,1102.2 L586.4,1101.3 L587.1,1100.3 L587.8,1099.4 L588.5,1098.8 L589.2,1098.5 L589.9,1098.4 L590.6,1098.4 L591.3,1098.5 L592,1098.4 L592.7,1098.2 L593.4,1097.8 L594.1,1097 L594.8,1095.9 L595.5,1094.3 L596.2,1092.1 L596.9,1089 L597.6,1084.9 L598.3,1079.4 L599,1072.4 L599.7,1063.5 L600.4,1052.4 L601.1,1039 L601.8,1023 L602.5,1004.5 L603.2,983.6 L603.9,960.5 L604.6,935.8 L605.3,910.1 L606,884.1 L606.7,858.8 L607.4,835.2 L608.1,814.4 L608.8,797.1 L609.5,784.4 L610.2,776.9 L610.9,775.3 L611.6,781 L612.3,789.9 L613,801.7 L613.7,816.1 L614.4,832.8 L615.1,851.1 L615.8,870.6 L616.5,890.8 L617.2,911 L617.9,930.9 L618.6,949.9 L619.3,967.9 L620,984.5 L620.7,999.6 L621.4,1013 L622.1,1024.9 L622.8,1035.1 L623.5,1043.9 L624.2,1051.3 L624.9,1057.5 L625.6,1062.7 L626.3,1066.9 L627,1070.4 L627.7,1073.4 L628.4,1075.8 L629.1,1077.9 L629.8,1079.6 L630.5,1081 L631.2,1082.3 L631.9,1083.5 L632.6,1084.5 L633.3,1085.4 L634,1086.2 L634.7,1087 L635.4,1087.7 L636.1,1088.3 L636.8,1088.9 L637.5,1089.4 L638.2,1089.9 L638.9,1090.4 L639.6,1090.8 L640.3,1091.2 L641,1091.6 L641.7,1091.9 L642.4,1092.2 L643.1,1092.6 L643.8,1093.1 L644.5,1093.5 L645.2,1093.9 L645.9,1094.2 L646.6,1094.6 L647.3,1094.8 L648,1095 L648.7,1095.2 L649.4,1095.4 L650.1,1095.6 L650.8,1095.8 L651.5,1096.1 L652.2,1096.3 L652.9,1096.5 L653.6,1096.8 L654.3,1097 L655,1097.1 L655.7,1097.1 L656.4,1097.1 L657.1,1097.1 L657.8,1097.1 L658.5,1097.1 L659.2,1097.3 L659.9,1097.4 L660.6,1097.5 L661.3,1097.7 L662,1097.8 L662.7,1097.9 L663.4,1098 L664.1,1098.2 L664.8,1098.3 L665.5,1098.4 L666.2,1098.5 L666.9,1098.6 L667.6,1098.8 L668.3,1098.9 L669,1099 L669.7,1099.2 L670.4,1099.3 L671.1,1099.3 L671.8,1099.3 L672.5,1099.3 L673.2,1099.2 L673.9,1099.2 L674.6,1099.2 L675.3,1099.2 L676,1099.2 L676.7,1099.2 L677.4,1099.2 L678.1,1099.2 L678.8,1099.2 L679.5,1099.2 L680.2,1099.2 L680.9,1099.1 L681.6,1099.1 L682.3,1099.1" stroke="#e0141a" stroke-width="1.7" fill="none" stroke-linejoin="round" stroke-linecap="round" />
<path d="M525.1,1198.8 L525.8,1198.5 L526.5,1198.2 L527.2,1197.9 L527.9,1197.6 L528.6,1197.3 L529.3,1197.1 L530,1197.4 L530.7,1197.6 L531.4,1197.9 L532.1,1198.1 L532.8,1198.4 L533.5,1198.3 L534.2,1198 L534.9,1197.7 L535.6,1197.4 L536.3,1197.1 L537,1196.7 L537.7,1196.8 L538.4,1197 L539.1,1197.1 L539.8,1197.2 L540.5,1197.4 L541.2,1197.5 L541.9,1197.4 L542.6,1197.2 L543.3,1197.1 L544,1197 L544.7,1196.9 L545.4,1196.9 L546.1,1197.1 L546.8,1197.2 L547.5,1197.4 L548.2,1197.6 L548.9,1197.7 L549.6,1197.6 L550.3,1197.4 L551,1197.2 L551.7,1197 L552.4,1196.8 L553.1,1196.7 L553.8,1197 L554.5,1197.4 L555.2,1197.9 L555.9,1198.3 L556.6,1198.6 L557.3,1198.9 L558,1198.9 L558.7,1198.8 L559.4,1198.6 L560.1,1198.4 L560.8,1198.1 L561.5,1197.8 L562.2,1197.5 L562.9,1197.1 L563.6,1196.9 L564.3,1196.6 L565,1196.4 L565.7,1196.7 L566.4,1197.1 L567.1,1197.5 L567.8,1198 L568.5,1198.4 L569.2,1198.8 L569.9,1198.8 L570.6,1198.8 L571.3,1198.7 L572,1198.6 L572.7,1198.4 L573.4,1197.8 L574.1,1196.7 L574.8,1195.3 L575.5,1193.4 L576.2,1191 L576.9,1187.8 L577.6,1184.1 L578.3,1179.4 L579,1173.2 L579.7,1165.5 L580.4,1156.1 L581.1,1145.1 L581.8,1132.8 L582.5,1119.4 L583.2,1105.5 L583.9,1091.5 L584.6,1078.3 L585.3,1066.4 L586,1056.7 L586.7,1049.8 L587.4,1046.1 L588.1,1046.4 L588.8,1049.5 L589.5,1054 L590.2,1059.9 L590.9,1067 L591.6,1075.1 L592.3,1083.9 L593,1093.2 L593.7,1102.6 L594.4,1112.1 L595.1,1121.3 L595.8,1130.2 L596.5,1138.4 L597.2,1146 L597.9,1152.9 L598.6,1159 L599.3,1164.3 L600,1168.8 L600.7,1172.6 L601.4,1175.9 L602.1,1178.6 L602.8,1181 L603.5,1182.9 L604.2,1184.5 L604.9,1185.8 L605.6,1186.9 L606.3,1187.9 L607,1188.7 L607.7,1189.4 L608.4,1190 L609.1,1190.6 L609.8,1191.3 L610.5,1191.9 L611.2,1192.5 L611.9,1193.1 L612.6,1193.7 L613.3,1194.1 L614,1194.4 L614.7,1194.6 L615.4,1194.8 L616.1,1195.1 L616.8,1195.3 L617.5,1195.4 L618.2,1195.5 L618.9,1195.7 L619.6,1195.8 L620.3,1195.9 L621,1196 L621.7,1196 L622.4,1195.9 L623.1,1195.9 L623.8,1195.9 L624.5,1195.9 L625.2,1195.9 L625.9,1196.2 L626.6,1196.6 L627.3,1196.9 L628,1197.3 L628.7,1197.6 L629.4,1197.9 L630.1,1198 L630.8,1198.1 L631.5,1198.3 L632.2,1198.4 L632.9,1198.5 L633.6,1198.5 L634.3,1198.6 L635,1198.6 L635.7,1198.6 L636.4,1198.5 L637.1,1198.5 L637.8,1198.1 L638.5,1197.7 L639.2,1197.2 L639.9,1196.6 L640.6,1195.9 L641.3,1195.4 L642,1195.1 L642.7,1194.8 L643.4,1194.6 L644.1,1194.5 L644.8,1194.6 L645.5,1194.6 L646.2,1194.7 L646.9,1195 L647.6,1195.3 L648.3,1195.7 L649,1196 L649.7,1196.5 L650.4,1196.9 L651.1,1197.3 L651.8,1197.6 L652.5,1197.8 L653.2,1198 L653.9,1198.3 L654.6,1198.6 L655.3,1198.8 L656,1199.1 L656.7,1199.3 L657.4,1199.4 L658.1,1199.2 L658.8,1199 L659.5,1198.8 L660.2,1198.6" stroke="#000" stroke-width="1.9" fill="none" stroke-linejoin="round" stroke-linecap="round" />
<path d="M527.9,1184 L528.6,1184.1 L529.3,1184.2 L530,1184.3 L530.7,1184.4 L531.4,1184.5 L532.1,1184.6 L532.8,1184.6 L533.5,1184.7 L534.2,1184.7 L534.9,1184.8 L535.6,1184.8 L536.3,1184.7 L537,1184.5 L537.7,1184.2 L538.4,1184 L539.1,1183.7 L539.8,1183.5 L540.5,1183.6 L541.2,1183.8 L541.9,1184.1 L542.6,1184.3 L543.3,1184.5 L544,1184.7 L544.7,1185 L545.4,1185.3 L546.1,1185.5 L546.8,1185.8 L547.5,1186 L548.2,1186.1 L548.9,1185.8 L549.6,1185.6 L550.3,1185.4 L551,1185.2 L551.7,1185 L552.4,1184.9 L553.1,1184.9 L553.8,1184.8 L554.5,1184.8 L555.2,1184.8 L555.9,1184.8 L556.6,1184.9 L557.3,1185.1 L558,1185.2 L558.7,1185.4 L559.4,1185.5 L560.1,1185.6 L560.8,1185.4 L561.5,1185.2 L562.2,1185 L562.9,1184.8 L563.6,1184.6 L564.3,1184.5 L565,1184.4 L565.7,1184.3 L566.4,1184.2 L567.1,1184.1 L567.8,1184 L568.5,1184.3 L569.2,1184.6 L569.9,1184.9 L570.6,1185.2 L571.3,1185.5 L572,1185.7 L572.7,1185.3 L573.4,1184.9 L574.1,1184.5 L574.8,1184 L575.5,1183.4 L576.2,1183.1 L576.9,1183.1 L577.6,1182.8 L578.3,1182.2 L579,1181.1 L579.7,1179.3 L580.4,1176.4 L581.1,1172.5 L581.8,1167.3 L582.5,1160.7 L583.2,1152.6 L583.9,1142.8 L584.6,1131.5 L585.3,1119.1 L586,1105.6 L586.7,1091.5 L587.4,1077.5 L588.1,1064.1 L588.8,1052.2 L589.5,1042.4 L590.2,1035.4 L590.9,1031.7 L591.6,1032 L592.3,1035.1 L593,1039.7 L593.7,1045.6 L594.4,1052.8 L595.1,1060.9 L595.8,1069.8 L596.5,1079.1 L597.2,1088.7 L597.9,1098.2 L598.6,1107.5 L599.3,1116.4 L600,1124.7 L600.7,1132.3 L601.4,1139.2 L602.1,1145.4 L602.8,1150.9 L603.5,1155.7 L604.2,1159.8 L604.9,1163.2 L605.6,1166 L606.3,1168.4 L607,1170.3 L607.7,1171.9 L608.4,1173.2 L609.1,1174.2 L609.8,1175.1 L610.5,1175.8 L611.2,1176.4 L611.9,1176.9 L612.6,1177.2 L613.3,1177.4 L614,1177.6 L614.7,1177.7 L615.4,1177.8 L616.1,1178 L616.8,1178.6 L617.5,1179.1 L618.2,1179.7 L618.9,1180.2 L619.6,1180.7 L620.3,1181.2 L621,1181.5 L621.7,1181.9 L622.4,1182.2 L623.1,1182.5 L623.8,1182.8 L624.5,1183 L625.2,1183.1 L625.9,1183.1 L626.6,1183.2 L627.3,1183.3 L628,1183.4 L628.7,1183.4 L629.4,1183.4 L630.1,1183.4 L630.8,1183.4 L631.5,1183.4 L632.2,1183.3 L632.9,1183.3 L633.6,1183.3 L634.3,1183.2 L635,1183.2 L635.7,1183.1 L636.4,1183.2 L637.1,1183.2 L637.8,1183.3 L638.5,1183.3 L639.2,1183.4 L639.9,1183.4 L640.6,1183.3 L641.3,1183.2 L642,1183.1 L642.7,1183 L643.4,1182.9 L644.1,1182.8 L644.8,1182.8 L645.5,1182.8 L646.2,1182.7 L646.9,1182.7 L647.6,1182.7 L648.3,1183 L649,1183.5 L649.7,1184 L650.4,1184.6 L651.1,1185.1 L651.8,1185.7 L652.5,1185.5 L653.2,1185.2 L653.9,1184.9 L654.6,1184.6 L655.3,1184.3 L656,1184 L656.7,1184.1 L657.4,1184.1 L658.1,1184.1 L658.8,1184.1 L659.5,1184.1 L660.2,1184.1 L660.9,1184.2 L661.6,1184.3 L662.3,1184.3 L663,1184.4 L663.7,1184.4" stroke="#000" stroke-width="1.9" fill="none" stroke-linejoin="round" stroke-linecap="round" />
<path d="M531.4,1169.5 L532.1,1169.9 L532.8,1170.3 L533.5,1170.7 L534.2,1171.1 L534.9,1171.5 L535.6,1171.8 L536.3,1171.8 L537,1171.8 L537.7,1171.9 L538.4,1171.9 L539.1,1172 L539.8,1171.8 L540.5,1171.6 L541.2,1171.3 L541.9,1171 L542.6,1170.7 L543.3,1170.5 L544,1170.4 L544.7,1170.3 L545.4,1170.3 L546.1,1170.2 L546.8,1170.2 L547.5,1170.1 L548.2,1170.1 L548.9,1170 L549.6,1170 L550.3,1170 L551,1169.9 L551.7,1169.9 L552.4,1169.8 L553.1,1169.8 L553.8,1169.7 L554.5,1169.6 L555.2,1169.6 L555.9,1169.6 L556.6,1169.7 L557.3,1169.8 L558,1169.9 L558.7,1170 L559.4,1170 L560.1,1170 L560.8,1170 L561.5,1170 L562.2,1170 L562.9,1170 L563.6,1170.1 L564.3,1170.5 L565,1170.9 L565.7,1171.2 L566.4,1171.6 L567.1,1172 L567.8,1171.9 L568.5,1171.6 L569.2,1171.2 L569.9,1170.8 L570.6,1170.4 L571.3,1170.1 L572,1170 L572.7,1169.9 L573.4,1169.9 L574.1,1169.8 L574.8,1169.6 L575.5,1169.4 L576.2,1169.4 L576.9,1169.3 L577.6,1169 L578.3,1168.4 L579,1167.4 L579.7,1165.8 L580.4,1163.4 L581.1,1160.4 L581.8,1156.7 L582.5,1152.1 L583.2,1146.7 L583.9,1140.1 L584.6,1132.7 L585.3,1124.6 L586,1115.6 L586.7,1106 L587.4,1095.9 L588.1,1085.6 L588.8,1075.4 L589.5,1065.7 L590.2,1056.7 L590.9,1048.9 L591.6,1042.6 L592.3,1038.1 L593,1035.5 L593.7,1035.5 L594.4,1038.1 L595.1,1042 L595.8,1047.1 L596.5,1053.3 L597.2,1060.4 L597.9,1068.1 L598.6,1076.4 L599.3,1084.9 L600,1093.3 L600.7,1101.6 L601.4,1109.6 L602.1,1117 L602.8,1123.9 L603.5,1130.2 L604.2,1135.8 L604.9,1140.7 L605.6,1145 L606.3,1148.7 L607,1151.8 L607.7,1154.4 L608.4,1156.5 L609.1,1158.3 L609.8,1159.8 L610.5,1160.9 L611.2,1161.9 L611.9,1162.6 L612.6,1163 L613.3,1163.3 L614,1163.5 L614.7,1163.7 L615.4,1163.8 L616.1,1164.5 L616.8,1165.1 L617.5,1165.8 L618.2,1166.4 L618.9,1167 L619.6,1167.5 L620.3,1167.8 L621,1168 L621.7,1168.3 L622.4,1168.5 L623.1,1168.8 L623.8,1168.9 L624.5,1168.9 L625.2,1168.9 L625.9,1168.8 L626.6,1168.8 L627.3,1168.7 L628,1168.8 L628.7,1168.9 L629.4,1168.9 L630.1,1169 L630.8,1169.1 L631.5,1169.1 L632.2,1169.5 L632.9,1169.8 L633.6,1170.1 L634.3,1170.3 L635,1170.6 L635.7,1170.9 L636.4,1171.1 L637.1,1171.3 L637.8,1171.6 L638.5,1171.8 L639.2,1172 L639.9,1172.1 L640.6,1172.1 L641.3,1172.1 L642,1172.2 L642.7,1172.2 L643.4,1172.2 L644.1,1171.9 L644.8,1171.5 L645.5,1171.1 L646.2,1170.8 L646.9,1170.4 L647.6,1170.2 L648.3,1170.6 L649,1170.9 L649.7,1171.3 L650.4,1171.6 L651.1,1172 L651.8,1172 L652.5,1171.9 L653.2,1171.8 L653.9,1171.7 L654.6,1171.5 L655.3,1171.4 L656,1171.7 L656.7,1172 L657.4,1172.3 L658.1,1172.6 L658.8,1172.9 L659.5,1173.1 L660.2,1173.1 L660.9,1173.1 L661.6,1173.1 L662.3,1173.1 L663,1173.2 L663.7,1173.1 L664.4,1172.8 L665.1,1172.5 L665.8,1172.3 L666.5,1172 L667.2,1171.8" stroke="#000" stroke-width="1.9" fill="none" stroke-linejoin="round" stroke-linecap="round" />
<path d="M534.4,1157.1 L535.1,1157.3 L535.8,1157.5 L536.5,1157.6 L537.2,1157.8 L537.9,1158 L538.6,1158.2 L539.3,1158.4 L540,1158.6 L540.7,1158.8 L541.4,1159 L542.1,1159.2 L542.8,1159.2 L543.5,1159.1 L544.2,1158.9 L544.9,1158.7 L545.6,1158.5 L546.3,1158.3 L547,1158.2 L547.7,1158.1 L548.4,1158 L549.1,1157.9 L549.8,1157.8 L550.5,1157.7 L551.2,1157.6 L551.9,1157.5 L552.6,1157.4 L553.3,1157.3 L554,1157.2 L554.7,1157.1 L555.4,1157 L556.1,1156.9 L556.8,1156.8 L557.5,1156.7 L558.2,1156.6 L558.9,1156.9 L559.6,1157.3 L560.3,1157.8 L561,1158.3 L561.7,1158.8 L562.4,1159.2 L563.1,1159.1 L563.8,1159 L564.5,1158.8 L565.2,1158.7 L565.9,1158.5 L566.6,1158.4 L567.3,1158.1 L568,1157.8 L568.7,1157.5 L569.4,1157.2 L570.1,1156.9 L570.8,1156.9 L571.5,1157.1 L572.2,1157.3 L572.9,1157.4 L573.6,1157.6 L574.3,1157.8 L575,1157.8 L575.7,1157.8 L576.4,1157.8 L577.1,1157.7 L577.8,1157.6 L578.5,1157.4 L579.2,1157.1 L579.9,1156.7 L580.6,1156 L581.3,1155.1 L582,1153.8 L582.7,1151.9 L583.4,1149.2 L584.1,1146 L584.8,1142 L585.5,1137.3 L586.2,1131.9 L586.9,1125.6 L587.6,1118.5 L588.3,1110.4 L589,1101.4 L589.7,1091.7 L590.4,1081.5 L591.1,1071.1 L591.8,1060.8 L592.5,1050.9 L593.2,1041.9 L593.9,1034 L594.6,1027.7 L595.3,1023.1 L596,1020.5 L596.7,1020.5 L597.4,1023.1 L598.1,1027 L598.8,1032.2 L599.5,1038.4 L600.2,1045.6 L600.9,1053.4 L601.6,1061.7 L602.3,1070.2 L603,1078.8 L603.7,1087.1 L604.4,1095.1 L605.1,1102.6 L605.8,1109.5 L606.5,1115.9 L607.2,1121.4 L607.9,1126.3 L608.6,1130.4 L609.3,1133.8 L610,1136.7 L610.7,1139.1 L611.4,1141.3 L612.1,1143.1 L612.8,1144.6 L613.5,1145.9 L614.2,1146.9 L614.9,1147.7 L615.6,1148.2 L616.3,1148.7 L617,1149 L617.7,1149.3 L618.4,1149.5 L619.1,1149.9 L619.8,1150.3 L620.5,1150.6 L621.2,1150.9 L621.9,1151.2 L622.6,1151.5 L623.3,1151.9 L624,1152.3 L624.7,1152.6 L625.4,1153 L626.1,1153.4 L626.8,1153.5 L627.5,1153.5 L628.2,1153.5 L628.9,1153.4 L629.6,1153.4 L630.3,1153.3 L631,1153.5 L631.7,1153.7 L632.4,1153.8 L633.1,1154 L633.8,1154.2 L634.5,1154.3 L635.2,1154.4 L635.9,1154.5 L636.6,1154.5 L637.3,1154.6 L638,1154.6 L638.7,1154.8 L639.4,1154.9 L640.1,1155.1 L640.8,1155.2 L641.5,1155.4 L642.2,1155.5 L642.9,1155.8 L643.6,1156.1 L644.3,1156.3 L645,1156.6 L645.7,1156.9 L646.4,1157.2 L647.1,1156.9 L647.8,1156.6 L648.5,1156.3 L649.2,1155.9 L649.9,1155.6 L650.6,1155.5 L651.3,1155.7 L652,1155.9 L652.7,1156.2 L653.4,1156.4 L654.1,1156.6 L654.8,1156.7 L655.5,1156.6 L656.2,1156.5 L656.9,1156.4 L657.6,1156.3 L658.3,1156.1 L659,1156.1 L659.7,1156 L660.4,1156 L661.1,1155.9 L661.8,1155.9 L662.5,1155.8 L663.2,1155.9 L663.9,1155.9 L664.6,1155.9 L665.3,1155.9 L666,1155.9 L666.7,1156 L667.4,1156.3 L668.1,1156.6 L668.8,1156.8 L669.5,1157.1 L670.2,1157.4 L670.9,1157.5" stroke="#000" stroke-width="1.9" fill="none" stroke-linejoin="round" stroke-linecap="round" />
<path d="M537.2,1144.7 L537.9,1144.8 L538.6,1144.9 L539.3,1145 L540,1145.1 L540.7,1145.2 L541.4,1145.1 L542.1,1144.6 L542.8,1144.2 L543.5,1143.7 L544.2,1143.2 L544.9,1142.7 L545.6,1142.7 L546.3,1143.3 L547,1143.8 L547.7,1144.3 L548.4,1144.8 L549.1,1145.3 L549.8,1145.4 L550.5,1145.3 L551.2,1145.2 L551.9,1145.2 L552.6,1145.1 L553.3,1145 L554,1144.5 L554.7,1144.1 L555.4,1143.7 L556.1,1143.3 L556.8,1142.8 L557.5,1142.8 L558.2,1143.2 L558.9,1143.6 L559.6,1144 L560.3,1144.4 L561,1144.9 L561.7,1145 L562.4,1145 L563.1,1145 L563.8,1145 L564.5,1145 L565.2,1145 L565.9,1144.6 L566.6,1144.3 L567.3,1143.9 L568,1143.6 L568.7,1143.2 L569.4,1143.1 L570.1,1143.6 L570.8,1144 L571.5,1144.4 L572.2,1144.9 L572.9,1145.3 L573.6,1145.3 L574.3,1145 L575,1144.6 L575.7,1144.3 L576.4,1143.9 L577.1,1143.5 L577.8,1143.5 L578.5,1143.5 L579.2,1143.4 L579.9,1143.3 L580.6,1143.1 L581.3,1142.9 L582,1142.5 L582.7,1141.9 L583.4,1141.1 L584.1,1140 L584.8,1138.4 L585.5,1136.3 L586.2,1133.5 L586.9,1129.9 L587.6,1125.5 L588.3,1120.1 L589,1113.7 L589.7,1106.1 L590.4,1097.5 L591.1,1087.9 L591.8,1077.5 L592.5,1066.3 L593.2,1054.7 L593.9,1042.9 L594.6,1031.3 L595.3,1020.4 L596,1010.5 L596.7,1002.1 L597.4,995.4 L598.1,990.9 L598.8,988.6 L599.5,989.6 L600.2,993 L600.9,997.9 L601.6,1004.1 L602.3,1011.5 L603,1019.8 L603.7,1028.9 L604.4,1038.4 L605.1,1048.1 L605.8,1057.7 L606.5,1067.1 L607.2,1076 L607.9,1084.3 L608.6,1092 L609.3,1098.8 L610,1104.8 L610.7,1110.2 L611.4,1114.8 L612.1,1118.8 L612.8,1122.1 L613.5,1124.9 L614.2,1127 L614.9,1128.7 L615.6,1130.1 L616.3,1131.2 L617,1132 L617.7,1132.9 L618.4,1133.8 L619.1,1134.5 L619.8,1135.2 L620.5,1135.8 L621.2,1136.4 L621.9,1137 L622.6,1137.6 L623.3,1138.2 L624,1138.7 L624.7,1139.2 L625.4,1139.6 L626.1,1139.5 L626.8,1139.4 L627.5,1139.3 L628.2,1139.2 L628.9,1139.1 L629.6,1139.2 L630.3,1139.6 L631,1139.9 L631.7,1140.2 L632.4,1140.5 L633.1,1140.8 L633.8,1140.7 L634.5,1140.7 L635.2,1140.6 L635.9,1140.5 L636.6,1140.4 L637.3,1140.4 L638,1140.9 L638.7,1141.4 L639.4,1141.8 L640.1,1142.3 L640.8,1142.8 L641.5,1142.9 L642.2,1142.7 L642.9,1142.4 L643.6,1142.1 L644.3,1141.8 L645,1141.6 L645.7,1141.6 L646.4,1141.7 L647.1,1141.8 L647.8,1141.9 L648.5,1142 L649.2,1142 L649.9,1142.4 L650.6,1142.8 L651.3,1143.1 L652,1143.5 L652.7,1143.8 L653.4,1144 L654.1,1143.9 L654.8,1143.8 L655.5,1143.6 L656.2,1143.5 L656.9,1143.3 L657.6,1143.3 L658.3,1143.4 L659,1143.5 L659.7,1143.6 L660.4,1143.7 L661.1,1143.8 L661.8,1143.8 L662.5,1143.9 L663.2,1143.9 L663.9,1144 L664.6,1144 L665.3,1144 L666,1144 L666.7,1143.9 L667.4,1143.9 L668.1,1143.8 L668.8,1143.8 L669.5,1143.7 L670.2,1143.7 L670.9,1143.7 L671.6,1143.7 L672.3,1143.6 L673,1143.6 L673.7,1143.5" stroke="#000" stroke-width="1.9" fill="none" stroke-linejoin="round" stroke-linecap="round" />
<path d="M540.7,1128.9 L541.4,1128.6 L542.1,1128.3 L542.8,1128 L543.5,1127.7 L544.2,1127.5 L544.9,1127.3 L545.6,1127.6 L546.3,1127.8 L547,1128.1 L547.7,1128.3 L548.4,1128.6 L549.1,1128.7 L549.8,1128.8 L550.5,1128.9 L551.2,1129 L551.9,1129.1 L552.6,1129.2 L553.3,1128.9 L554,1128.6 L554.7,1128.2 L555.4,1127.9 L556.1,1127.5 L556.8,1127.3 L557.5,1127.5 L558.2,1127.8 L558.9,1128 L559.6,1128.3 L560.3,1128.6 L561,1128.6 L561.7,1128.4 L562.4,1128.1 L563.1,1127.9 L563.8,1127.7 L564.5,1127.4 L565.2,1127.3 L565.9,1127.2 L566.6,1127.1 L567.3,1127 L568,1126.9 L568.7,1126.9 L569.4,1127 L570.1,1127.1 L570.8,1127.2 L571.5,1127.3 L572.2,1127.4 L572.9,1127.5 L573.6,1127.8 L574.3,1128 L575,1128.2 L575.7,1128.5 L576.4,1128.7 L577.1,1128.6 L577.8,1128.3 L578.5,1127.9 L579.2,1127.6 L579.9,1127.3 L580.6,1126.9 L581.3,1127.1 L582,1127.4 L582.7,1127.6 L583.4,1127.8 L584.1,1128 L584.8,1128.1 L585.5,1127.7 L586.2,1127.2 L586.9,1126.6 L587.6,1125.9 L588.3,1124.9 L589,1123.6 L589.7,1122.1 L590.4,1120.1 L591.1,1117.6 L591.8,1114.6 L592.5,1110.9 L593.2,1106.6 L593.9,1101.5 L594.6,1095.6 L595.3,1088.9 L596,1081.4 L596.7,1073.3 L597.4,1064.9 L598.1,1056.2 L598.8,1047.6 L599.5,1039.4 L600.2,1031.9 L600.9,1025.3 L601.6,1020 L602.3,1016.2 L603,1014.1 L603.7,1014 L604.4,1016.2 L605.1,1019.4 L605.8,1023.8 L606.5,1029 L607.2,1034.9 L607.9,1041.5 L608.6,1048.4 L609.3,1055.5 L610,1062.7 L610.7,1069.6 L611.4,1076.3 L612.1,1082.6 L612.8,1088.4 L613.5,1093.7 L614.2,1098.4 L614.9,1102.4 L615.6,1105.9 L616.3,1108.7 L617,1111.2 L617.7,1113.6 L618.4,1115.6 L619.1,1117.4 L619.8,1119 L620.5,1120.3 L621.2,1121.2 L621.9,1121.7 L622.6,1122.2 L623.3,1122.5 L624,1122.8 L624.7,1123 L625.4,1123.5 L626.1,1123.9 L626.8,1124.4 L627.5,1124.8 L628.2,1125.2 L628.9,1125.6 L629.6,1125.7 L630.3,1125.9 L631,1126 L631.7,1126.1 L632.4,1126.2 L633.1,1126.2 L633.8,1126.3 L634.5,1126.3 L635.2,1126.2 L635.9,1126.2 L636.6,1126.2 L637.3,1126.2 L638,1126.1 L638.7,1126.1 L639.4,1126.1 L640.1,1126 L640.8,1126 L641.5,1126.5 L642.2,1126.9 L642.9,1127.4 L643.6,1127.8 L644.3,1128.3 L645,1128.6 L645.7,1128.7 L646.4,1128.8 L647.1,1128.9 L647.8,1129 L648.5,1129.1 L649.2,1129 L649.9,1128.9 L650.6,1128.7 L651.3,1128.6 L652,1128.4 L652.7,1128.2 L653.4,1128 L654.1,1127.8 L654.8,1127.5 L655.5,1127.3 L656.2,1127 L656.9,1127 L657.6,1127.4 L658.3,1127.8 L659,1128.2 L659.7,1128.7 L660.4,1129.1 L661.1,1129.3 L661.8,1129.3 L662.5,1129.3 L663.2,1129.2 L663.9,1129.2 L664.6,1129.2 L665.3,1129.3 L666,1129.4 L666.7,1129.5 L667.4,1129.5 L668.1,1129.6 L668.8,1129.7 L669.5,1129.8 L670.2,1129.9 L670.9,1129.9 L671.6,1130 L672.3,1130.1 L673,1130.1 L673.7,1130.1 L674.4,1130.1 L675.1,1130.2 L675.8,1130.2 L676.5,1130.2" stroke="#000" stroke-width="1.9" fill="none" stroke-linejoin="round" stroke-linecap="round" />
<path d="M543.7,1121 L544.4,1120.9 L545.1,1120.8 L545.8,1120.8 L546.5,1120.7 L547.2,1120.7 L547.9,1120.6 L548.6,1120.5 L549.3,1120.4 L550,1120.3 L550.7,1120.2 L551.4,1120.1 L552.1,1119.9 L552.8,1119.6 L553.5,1119.4 L554.2,1119.1 L554.9,1118.8 L555.6,1118.5 L556.3,1118.5 L557,1118.5 L557.7,1118.6 L558.4,1118.6 L559.1,1118.6 L559.8,1118.7 L560.5,1118.9 L561.2,1119.1 L561.9,1119.3 L562.6,1119.5 L563.3,1119.7 L564,1119.9 L564.7,1119.9 L565.4,1119.9 L566.1,1120 L566.8,1120 L567.5,1120.1 L568.2,1119.8 L568.9,1119.3 L569.6,1118.8 L570.3,1118.4 L571,1117.9 L571.7,1117.5 L572.4,1117.6 L573.1,1117.6 L573.8,1117.7 L574.5,1117.8 L575.2,1117.8 L575.9,1118 L576.6,1118.4 L577.3,1118.8 L578,1119.2 L578.7,1119.6 L579.4,1120 L580.1,1119.9 L580.8,1119.5 L581.5,1119 L582.2,1118.6 L582.9,1118.1 L583.6,1117.7 L584.3,1117.8 L585,1118.1 L585.7,1118.4 L586.4,1118.7 L587.1,1118.9 L587.8,1119.1 L588.5,1118.8 L589.2,1118.5 L589.9,1118.2 L590.6,1117.7 L591.3,1117.2 L592,1116.7 L592.7,1116.2 L593.4,1115.4 L594.1,1114.3 L594.8,1112.8 L595.5,1110.9 L596.2,1108.4 L596.9,1105.2 L597.6,1101.2 L598.3,1096.5 L599,1090.9 L599.7,1084.5 L600.4,1077.4 L601.1,1069.7 L601.8,1061.5 L602.5,1052.9 L603.2,1044.3 L603.9,1035.8 L604.6,1027.8 L605.3,1020.5 L606,1014.3 L606.7,1009.4 L607.4,1006.1 L608.1,1004.5 L608.8,1005.2 L609.5,1007.7 L610.2,1011.2 L610.9,1015.8 L611.6,1021.2 L612.3,1027.3 L613,1034 L613.7,1040.9 L614.4,1048 L615.1,1055.1 L615.8,1061.9 L616.5,1068.5 L617.2,1074.6 L617.9,1080.2 L618.6,1085.2 L619.3,1089.8 L620,1093.7 L620.7,1097 L621.4,1099.9 L622.1,1102.2 L622.8,1104.1 L623.5,1105.7 L624.2,1107.1 L624.9,1108.2 L625.6,1109.2 L626.3,1110 L627,1110.6 L627.7,1111.2 L628.4,1111.7 L629.1,1112.1 L629.8,1112.5 L630.5,1112.8 L631.2,1113.1 L631.9,1113.4 L632.6,1113.5 L633.3,1113.5 L634,1113.6 L634.7,1113.6 L635.4,1113.7 L636.1,1113.8 L636.8,1113.9 L637.5,1114 L638.2,1114.1 L638.9,1114.2 L639.6,1114.3 L640.3,1114.6 L641,1114.9 L641.7,1115.3 L642.4,1115.6 L643.1,1116 L643.8,1116.3 L644.5,1116.2 L645.2,1116.2 L645.9,1116.2 L646.6,1116.1 L647.3,1116.1 L648,1116.3 L648.7,1116.8 L649.4,1117.2 L650.1,1117.6 L650.8,1117.9 L651.5,1118.3 L652.2,1118.4 L652.9,1118.5 L653.6,1118.5 L654.3,1118.5 L655,1118.5 L655.7,1118.5 L656.4,1118.4 L657.1,1118.3 L657.8,1118.2 L658.5,1118.1 L659.2,1118.1 L659.9,1118 L660.6,1117.6 L661.3,1117.3 L662,1117 L662.7,1116.7 L663.4,1116.4 L664.1,1116.3 L664.8,1116.4 L665.5,1116.5 L666.2,1116.6 L666.9,1116.7 L667.6,1116.8 L668.3,1117 L669,1117.3 L669.7,1117.6 L670.4,1117.9 L671.1,1118.2 L671.8,1118.4 L672.5,1118.1 L673.2,1117.7 L673.9,1117.4 L674.6,1117.1 L675.3,1116.8 L676,1116.7 L676.7,1117.1 L677.4,1117.5 L678.1,1117.8 L678.8,1118.2 L679.5,1118.5 L680.2,1118.3" stroke="#000" stroke-width="1.9" fill="none" stroke-linejoin="round" stroke-linecap="round" />
<path d="M549.3,1088.2 L550,1088.4 L550.7,1088.7 L551.4,1089 L552.1,1089.3 L552.8,1089.5 L553.5,1089.7 L554.2,1089.4 L554.9,1089.2 L555.6,1088.9 L556.3,1088.7 L557,1088.4 L557.7,1088.5 L558.4,1088.8 L559.1,1089.1 L559.8,1089.5 L560.5,1089.8 L561.2,1090.1 L561.9,1090.1 L562.6,1090 L563.3,1090 L564,1089.9 L564.7,1089.9 L565.4,1089.8 L566.1,1089.7 L566.8,1089.6 L567.5,1089.5 L568.2,1089.4 L568.9,1089.2 L569.6,1089.2 L570.3,1089.4 L571,1089.5 L571.7,1089.7 L572.4,1089.8 L573.1,1089.9 L573.8,1090 L574.5,1089.9 L575.2,1089.9 L575.9,1089.9 L576.6,1089.9 L577.3,1089.9 L578,1089.6 L578.7,1089.3 L579.4,1089 L580.1,1088.7 L580.8,1088.4 L581.5,1088.3 L582.2,1088.6 L582.9,1088.9 L583.6,1089.2 L584.3,1089.4 L585,1089.7 L585.7,1089.9 L586.4,1089.9 L587.1,1090 L587.8,1090 L588.5,1090.1 L589.2,1090.1 L589.9,1090.1 L590.6,1090 L591.3,1089.9 L592,1089.7 L592.7,1089.5 L593.4,1089.3 L594.1,1089.2 L594.8,1089 L595.5,1088.6 L596.2,1088 L596.9,1087.1 L597.6,1085.7 L598.3,1083.9 L599,1081.6 L599.7,1078.8 L600.4,1075.4 L601.1,1071.4 L601.8,1066.8 L602.5,1061.6 L603.2,1055.9 L603.9,1049.7 L604.6,1043.2 L605.3,1036.4 L606,1029.6 L606.7,1023 L607.4,1016.8 L608.1,1011.3 L608.8,1006.7 L609.5,1003.2 L610.2,1000.9 L610.9,1000 L611.6,1001.2 L612.3,1003.4 L613,1006.4 L613.7,1010.2 L614.4,1014.7 L615.1,1019.7 L615.8,1025 L616.5,1030.6 L617.2,1036.2 L617.9,1041.7 L618.6,1047.1 L619.3,1052.2 L620,1056.9 L620.7,1061.2 L621.4,1065.2 L622.1,1068.7 L622.8,1071.7 L623.5,1074.3 L624.2,1076.5 L624.9,1078.3 L625.6,1079.8 L626.3,1081 L627,1082 L627.7,1082.8 L628.4,1083.5 L629.1,1084 L629.8,1084.5 L630.5,1084.9 L631.2,1085.3 L631.9,1085.6 L632.6,1086 L633.3,1086.2 L634,1086.3 L634.7,1086.4 L635.4,1086.5 L636.1,1086.5 L636.8,1086.6 L637.5,1086.7 L638.2,1087.1 L638.9,1087.5 L639.6,1087.9 L640.3,1088.4 L641,1089.1 L641.7,1089.5 L642.4,1089.9 L643.1,1090.2 L643.8,1090.3 L644.5,1090.3 L645.2,1090.1 L645.9,1090 L646.6,1089.9 L647.3,1089.7 L648,1089.5 L648.7,1089.4 L649.4,1089.2 L650.1,1088.8 L650.8,1088.4 L651.5,1088 L652.2,1087.5 L652.9,1087 L653.6,1086.6 L654.3,1086.2 L655,1085.8 L655.7,1085.5 L656.4,1085.4 L657.1,1085.4 L657.8,1085.4 L658.5,1085.5 L659.2,1085.6 L659.9,1085.9 L660.6,1086.2 L661.3,1086.5 L662,1087 L662.7,1087.4 L663.4,1087.8 L664.1,1088.1 L664.8,1088.3 L665.5,1088.6 L666.2,1088.9 L666.9,1089.2 L667.6,1089.4 L668.3,1089.6 L669,1089.8 L669.7,1090 L670.4,1090.3 L671.1,1090.5 L671.8,1090.7 L672.5,1091 L673.2,1091.2 L673.9,1091.1 L674.6,1091.1 L675.3,1091 L676,1090.9 L676.7,1090.8 L677.4,1090.8 L678.1,1090.9 L678.8,1091.1 L679.5,1091.2 L680.2,1091.4 L680.9,1091.5 L681.6,1091.5 L682.3,1091.4 L683,1091.2 L683.7,1091 L684.4,1090.9 L685.1,1090.7 L685.8,1090.7" stroke="#000" stroke-width="1.9" fill="none" stroke-linejoin="round" stroke-linecap="round" />
<path d="M552.3,1078 L553,1077.7 L553.7,1077.5 L554.4,1077.3 L555.1,1077.1 L555.8,1076.9 L556.5,1076.8 L557.2,1077.3 L557.9,1077.7 L558.6,1078.1 L559.3,1078.6 L560,1079 L560.7,1079.2 L561.4,1079.2 L562.1,1079.1 L562.8,1079.1 L563.5,1079.1 L564.2,1079.1 L564.9,1078.8 L565.6,1078.6 L566.3,1078.3 L567,1078.1 L567.7,1077.8 L568.4,1077.6 L569.1,1077.7 L569.8,1077.8 L570.5,1077.9 L571.2,1078.1 L571.9,1078.2 L572.6,1078.1 L573.3,1077.9 L574,1077.6 L574.7,1077.4 L575.4,1077.1 L576.1,1076.9 L576.8,1076.8 L577.5,1076.8 L578.2,1076.8 L578.9,1076.8 L579.6,1076.8 L580.3,1076.8 L581,1076.8 L581.7,1076.9 L582.4,1076.9 L583.1,1077 L583.8,1077 L584.5,1077.1 L585.2,1077.3 L585.9,1077.5 L586.6,1077.8 L587.3,1078 L588,1078.2 L588.7,1078.2 L589.4,1077.9 L590.1,1077.6 L590.8,1077.3 L591.5,1077.1 L592.2,1076.8 L592.9,1077.1 L593.6,1077.4 L594.3,1077.8 L595,1078 L595.7,1078.3 L596.4,1078.3 L597.1,1077.4 L597.8,1076.4 L598.5,1075.2 L599.2,1073.7 L599.9,1072 L600.6,1070.2 L601.3,1068.2 L602,1065.6 L602.7,1062.5 L603.4,1058.6 L604.1,1054.1 L604.8,1048.8 L605.5,1042.7 L606.2,1035.9 L606.9,1028.4 L607.6,1020.6 L608.3,1012.4 L609,1004.3 L609.7,996.5 L610.4,989.2 L611.1,982.7 L611.8,977.4 L612.5,973.4 L613.2,970.9 L613.9,970.1 L614.6,971.8 L615.3,974.6 L616,978.4 L616.7,983 L617.4,988.5 L618.1,994.5 L618.8,1000.9 L619.5,1007.5 L620.2,1014.2 L620.9,1020.8 L621.6,1027.2 L622.3,1033.2 L623,1038.8 L623.7,1043.8 L624.4,1048.3 L625.1,1052.3 L625.8,1055.8 L626.5,1058.8 L627.2,1061.4 L627.9,1063.7 L628.6,1065.5 L629.3,1066.9 L630,1068 L630.7,1068.9 L631.4,1069.6 L632.1,1070.2 L632.8,1070.7 L633.5,1071 L634.2,1071.4 L634.9,1071.6 L635.6,1071.9 L636.3,1072 L637,1072.4 L637.7,1072.8 L638.4,1073.1 L639.1,1073.5 L639.8,1073.9 L640.5,1074.2 L641.2,1074.5 L641.9,1074.7 L642.6,1075 L643.3,1075.3 L644,1075.6 L644.7,1075.7 L645.4,1075.8 L646.1,1075.8 L646.8,1075.7 L647.5,1075.5 L648.2,1075.2 L648.9,1075.2 L649.6,1075.2 L650.3,1075.2 L651,1075.2 L651.7,1075.1 L652.4,1075 L653.1,1074.5 L653.8,1074 L654.5,1073.5 L655.2,1073 L655.9,1072.6 L656.6,1072.4 L657.3,1072.2 L658,1072.2 L658.7,1072.3 L659.4,1072.5 L660.1,1072.9 L660.8,1073.3 L661.5,1073.9 L662.2,1074.6 L662.9,1075.2 L663.6,1075.8 L664.3,1076.4 L665,1076.5 L665.7,1076.6 L666.4,1076.7 L667.1,1076.7 L667.8,1076.6 L668.5,1076.6 L669.2,1076.7 L669.9,1076.8 L670.6,1076.8 L671.3,1076.9 L672,1076.9 L672.7,1077 L673.4,1077 L674.1,1077 L674.8,1077.1 L675.5,1077.1 L676.2,1077.2 L676.9,1077.2 L677.6,1077.2 L678.3,1077.2 L679,1077.2 L679.7,1077.2 L680.4,1077.2 L681.1,1077.4 L681.8,1077.5 L682.5,1077.7 L683.2,1077.8 L683.9,1078 L684.6,1077.9 L685.3,1077.6 L686,1077.2 L686.7,1076.8 L687.4,1076.5 L688.1,1076.1" stroke="#000" stroke-width="1.9" fill="none" stroke-linejoin="round" stroke-linecap="round" />
<path d="M555.8,1058.7 L556.5,1058.8 L557.2,1059 L557.9,1059.2 L558.6,1059.4 L559.3,1059.5 L560,1059.7 L560.7,1059.9 L561.4,1060.1 L562.1,1060.3 L562.8,1060.4 L563.5,1060.6 L564.2,1060.7 L564.9,1060.6 L565.6,1060.6 L566.3,1060.6 L567,1060.5 L567.7,1060.5 L568.4,1060.5 L569.1,1060.5 L569.8,1060.5 L570.5,1060.6 L571.2,1060.6 L571.9,1060.6 L572.6,1060.5 L573.3,1060.4 L574,1060.3 L574.7,1060.3 L575.4,1060.4 L576.1,1060.6 L576.8,1061.1 L577.5,1061.6 L578.2,1062 L578.9,1062.4 L579.6,1062.8 L580.3,1062.7 L581,1062.5 L581.7,1062.1 L582.4,1061.7 L583.1,1061.3 L583.8,1060.9 L584.5,1060.4 L585.2,1059.9 L585.9,1059.5 L586.6,1059.2 L587.3,1058.8 L588,1058.7 L588.7,1058.9 L589.4,1059.1 L590.1,1059.3 L590.8,1059.5 L591.5,1059.7 L592.2,1059.6 L592.9,1059.4 L593.6,1059.2 L594.3,1058.9 L595,1058.7 L595.7,1058.4 L596.4,1058.7 L597.1,1059.1 L597.8,1059.5 L598.5,1059.8 L599.2,1060 L599.9,1060 L600.6,1059.4 L601.3,1058.6 L602,1057.4 L602.7,1055.9 L603.4,1054 L604.1,1051.3 L604.8,1047.8 L605.5,1043.7 L606.2,1038.7 L606.9,1032.9 L607.6,1026.3 L608.3,1018.8 L609,1010.5 L609.7,1001.3 L610.4,991.4 L611.1,981.2 L611.8,970.8 L612.5,960.6 L613.2,950.9 L613.9,942.2 L614.6,934.7 L615.3,928.9 L616,924.9 L616.7,922.9 L617.4,923.8 L618.1,926.8 L618.8,931.1 L619.5,936.5 L620.2,943.1 L620.9,950.4 L621.6,958.4 L622.3,966.8 L623,975.4 L623.7,983.9 L624.4,992.1 L625.1,1000 L625.8,1007.4 L626.5,1014.1 L627.2,1020.1 L627.9,1025.3 L628.6,1030 L629.3,1034 L630,1037.5 L630.7,1040.4 L631.4,1042.9 L632.1,1045 L632.8,1046.7 L633.5,1048.2 L634.2,1049.5 L634.9,1050.5 L635.6,1051.4 L636.3,1052.3 L637,1053 L637.7,1053.6 L638.4,1054.2 L639.1,1054.8 L639.8,1055.3 L640.5,1055.3 L641.2,1055.3 L641.9,1055.2 L642.6,1055.2 L643.3,1055.2 L644,1055.4 L644.7,1056.3 L645.4,1057.3 L646.1,1058.4 L646.8,1059.6 L647.5,1060.9 L648.2,1061.8 L648.9,1062.3 L649.6,1062.7 L650.3,1062.9 L651,1062.8 L651.7,1062.4 L652.4,1062.1 L653.1,1061.7 L653.8,1061.3 L654.5,1061 L655.2,1060.7 L655.9,1060.4 L656.6,1060.1 L657.3,1059.9 L658,1059.8 L658.7,1059.7 L659.4,1059.7 L660.1,1059.6 L660.8,1059.3 L661.5,1059 L662.2,1058.7 L662.9,1058.4 L663.6,1058.1 L664.3,1058.2 L665,1058.5 L665.7,1058.9 L666.4,1059.2 L667.1,1059.5 L667.8,1059.8 L668.5,1059.5 L669.2,1059.3 L669.9,1059 L670.6,1058.8 L671.3,1058.5 L672,1058.3 L672.7,1058.3 L673.4,1058.3 L674.1,1058.2 L674.8,1058.2 L675.5,1058.2 L676.2,1058.3 L676.9,1058.5 L677.6,1058.7 L678.3,1059 L679,1059.2 L679.7,1059.5 L680.4,1059.7 L681.1,1059.9 L681.8,1060.1 L682.5,1060.4 L683.2,1060.6 L683.9,1060.8 L684.6,1060.7 L685.3,1060.6 L686,1060.5 L686.7,1060.4 L687.4,1060.3 L688.1,1060.1 L688.8,1059.9 L689.5,1059.7 L690.2,1059.5 L690.9,1059.3 L691.6,1059.1" stroke="#000" stroke-width="1.9" fill="none" stroke-linejoin="round" stroke-linecap="round" />
<path d="M613,801.7 L613.7,816.1 L614.4,832.8 L615.1,851.1 L615.8,870.6 L616.5,890.8 L617.2,911 L617.9,930.9 L618.6,949.9 L619.3,967.9 L620,984.5 L620.7,999.6 L621.4,1013 L622.1,1024.9 L622.8,1035.1 L623.5,1043.9 L624.2,1051.3 L624.9,1057.5 L625.6,1062.7 L626.3,1066.9 L627,1070.4 L627.7,1073.4 L628.4,1075.8 L629.1,1077.9 L629.8,1079.6 L630.5,1081 L631.2,1082.3 L631.9,1083.5 L632.6,1084.5 L633.3,1085.4 L634,1086.2 L634.7,1087 L635.4,1087.7 L636.1,1088.3 L636.8,1088.9 L637.5,1089.4 L638.2,1089.9 L638.9,1090.4 L639.6,1090.8 L640.3,1091.2 L641,1091.6 L641.7,1091.9 L642.4,1092.2 L643.1,1092.6 L643.8,1093.1 L644.5,1093.5 L645.2,1093.9 L645.9,1094.2 L646.6,1094.6 L647.3,1094.8 L648,1095 L648.7,1095.2 L649.4,1095.4 L650.1,1095.6 L650.8,1095.8 L651.5,1096.1 L652.2,1096.3 L652.9,1096.5 L653.6,1096.8 L654.3,1097 L655,1097.1 L655.7,1097.1 L656.4,1097.1 L657.1,1097.1 L657.8,1097.1 L658.5,1097.1 L659.2,1097.3 L659.9,1097.4 L660.6,1097.5 L661.3,1097.7 L662,1097.8 L662.7,1097.9 L663.4,1098 L664.1,1098.2 L664.8,1098.3 L665.5,1098.4 L666.2,1098.5 L666.9,1098.6 L667.6,1098.8 L668.3,1098.9 L669,1099 L669.7,1099.2 L670.4,1099.3 L671.1,1099.3 L671.8,1099.3 L672.5,1099.3 L673.2,1099.2 L673.9,1099.2 L674.6,1099.2 L675.3,1099.2 L676,1099.2 L676.7,1099.2 L677.4,1099.2 L678.1,1099.2 L678.8,1099.2 L679.5,1099.2 L680.2,1099.2 L680.9,1099.1 L681.6,1099.1 L682.3,1099.1" stroke="#e0141a" stroke-width="1.7" fill="none" stroke-linejoin="round" stroke-linecap="round" />
<text x="705.8" y="1062.6" font-size="15.6" text-anchor="middle" font-weight="normal" font-style="normal" fill="#000" >A</text>
<text x="701.8" y="1077.7" font-size="15.6" text-anchor="middle" font-weight="normal" font-style="normal" fill="#000" >B</text>
<text x="698.8" y="1091.6" font-size="15.6" text-anchor="middle" font-weight="normal" font-style="normal" fill="#000" >C</text>
<text x="695.3" y="1105.6" font-size="15.6" text-anchor="middle" font-weight="normal" font-style="normal" fill="#e0141a" >D</text>
<text x="692.2" y="1120.7" font-size="15.6" text-anchor="middle" font-weight="normal" font-style="normal" fill="#000" >E</text>
<text x="688.6" y="1133.5" font-size="15.6" text-anchor="middle" font-weight="normal" font-style="normal" fill="#000" >f</text>
<text x="687.5" y="1148.6" font-size="15.6" text-anchor="middle" font-weight="normal" font-style="normal" fill="#000" >G</text>
<text x="685.5" y="1162.6" font-size="15.6" text-anchor="middle" font-weight="normal" font-style="normal" fill="#000" >H</text>
<text x="680.2" y="1176.5" font-size="15.6" text-anchor="middle" font-weight="normal" font-style="normal" fill="#000" >I</text>
<text x="676.8" y="1190.5" font-size="15.6" text-anchor="middle" font-weight="normal" font-style="normal" fill="#000" >J</text>
<text x="675" y="1205.6" font-size="15.6" text-anchor="middle" font-weight="normal" font-style="normal" fill="#000" >K</text>
<rect x="758.0" y="800.8" width="2" height="2" fill="#000"/>
<rect x="758.0" y="837.2" width="2" height="2" fill="#000"/>
<rect x="758.0" y="910.2" width="2" height="2" fill="#000"/>
<rect x="758.0" y="983.8" width="2" height="2" fill="#000"/>
<rect x="758.0" y="1020.3" width="2" height="2" fill="#000"/>
<rect x="758.0" y="1058.3" width="2" height="2" fill="#000"/>
<rect x="758.0" y="1131.3" width="2" height="2" fill="#000"/>
<text x="752.5" y="914.5" font-size="15.6" text-anchor="end" font-weight="normal" font-style="normal" fill="#000" >0.8</text>
<text x="752.5" y="987.9" font-size="15.6" text-anchor="end" font-weight="normal" font-style="normal" fill="#000" >0.6</text>
<text x="752.5" y="1063.3" font-size="15.6" text-anchor="end" font-weight="normal" font-style="normal" fill="#000" >0.4</text>
<text x="752.5" y="1137.4" font-size="15.6" text-anchor="end" font-weight="normal" font-style="normal" fill="#000" >0.2</text>
<text x="752.5" y="1206.3" font-size="15.6" text-anchor="end" font-weight="normal" font-style="normal" fill="#000" >0.0</text>
<text transform="translate(721.4,983.8) rotate(-90) scale(0.925,1)" font-size="16" font-weight="bold" text-anchor="middle">Intens. x10<tspan dy="-7.2" font-size="13">6</tspan></text>
<line x1="760.8" y1="1204.8" x2="760.8" y2="1214.3" stroke="#000" stroke-width="1.4" stroke-linecap="butt"/>
<line x1="765" y1="1204.8" x2="765" y2="1210.9" stroke="#000" stroke-width="1.4" stroke-linecap="butt"/>
<line x1="769.3" y1="1204.8" x2="769.3" y2="1210.9" stroke="#000" stroke-width="1.4" stroke-linecap="butt"/>
<line x1="773.5" y1="1204.8" x2="773.5" y2="1210.9" stroke="#000" stroke-width="1.4" stroke-linecap="butt"/>
<line x1="777.8" y1="1204.8" x2="777.8" y2="1210.9" stroke="#000" stroke-width="1.4" stroke-linecap="butt"/>
<line x1="782" y1="1204.8" x2="782" y2="1214.3" stroke="#000" stroke-width="1.4" stroke-linecap="butt"/>
<line x1="786.2" y1="1204.8" x2="786.2" y2="1210.9" stroke="#000" stroke-width="1.4" stroke-linecap="butt"/>
<line x1="790.5" y1="1204.8" x2="790.5" y2="1210.9" stroke="#000" stroke-width="1.4" stroke-linecap="butt"/>
<line x1="794.7" y1="1204.8" x2="794.7" y2="1210.9" stroke="#000" stroke-width="1.4" stroke-linecap="butt"/>
<line x1="799" y1="1204.8" x2="799" y2="1210.9" stroke="#000" stroke-width="1.4" stroke-linecap="butt"/>
<line x1="803.2" y1="1204.8" x2="803.2" y2="1214.3" stroke="#000" stroke-width="1.4" stroke-linecap="butt"/>
<line x1="807.4" y1="1204.8" x2="807.4" y2="1210.9" stroke="#000" stroke-width="1.4" stroke-linecap="butt"/>
<line x1="811.7" y1="1204.8" x2="811.7" y2="1210.9" stroke="#000" stroke-width="1.4" stroke-linecap="butt"/>
<line x1="815.9" y1="1204.8" x2="815.9" y2="1210.9" stroke="#000" stroke-width="1.4" stroke-linecap="butt"/>
<line x1="820.2" y1="1204.8" x2="820.2" y2="1210.9" stroke="#000" stroke-width="1.4" stroke-linecap="butt"/>
<line x1="824.4" y1="1204.8" x2="824.4" y2="1214.3" stroke="#000" stroke-width="1.4" stroke-linecap="butt"/>
<line x1="828.6" y1="1204.8" x2="828.6" y2="1210.9" stroke="#000" stroke-width="1.4" stroke-linecap="butt"/>
<line x1="832.9" y1="1204.8" x2="832.9" y2="1210.9" stroke="#000" stroke-width="1.4" stroke-linecap="butt"/>
<line x1="837.1" y1="1204.8" x2="837.1" y2="1210.9" stroke="#000" stroke-width="1.4" stroke-linecap="butt"/>
<line x1="841.4" y1="1204.8" x2="841.4" y2="1210.9" stroke="#000" stroke-width="1.4" stroke-linecap="butt"/>
<line x1="845.6" y1="1204.8" x2="845.6" y2="1214.3" stroke="#000" stroke-width="1.4" stroke-linecap="butt"/>
<line x1="849.8" y1="1204.8" x2="849.8" y2="1210.9" stroke="#000" stroke-width="1.4" stroke-linecap="butt"/>
<line x1="854.1" y1="1204.8" x2="854.1" y2="1210.9" stroke="#000" stroke-width="1.4" stroke-linecap="butt"/>
<line x1="858.3" y1="1204.8" x2="858.3" y2="1210.9" stroke="#000" stroke-width="1.4" stroke-linecap="butt"/>
<line x1="862.6" y1="1204.8" x2="862.6" y2="1210.9" stroke="#000" stroke-width="1.4" stroke-linecap="butt"/>
<line x1="866.8" y1="1204.8" x2="866.8" y2="1214.3" stroke="#000" stroke-width="1.4" stroke-linecap="butt"/>
<line x1="871" y1="1204.8" x2="871" y2="1210.9" stroke="#000" stroke-width="1.4" stroke-linecap="butt"/>
<line x1="875.3" y1="1204.8" x2="875.3" y2="1210.9" stroke="#000" stroke-width="1.4" stroke-linecap="butt"/>
<line x1="879.5" y1="1204.8" x2="879.5" y2="1210.9" stroke="#000" stroke-width="1.4" stroke-linecap="butt"/>
<line x1="883.8" y1="1204.8" x2="883.8" y2="1210.9" stroke="#000" stroke-width="1.4" stroke-linecap="butt"/>
<line x1="888" y1="1204.8" x2="888" y2="1214.3" stroke="#000" stroke-width="1.4" stroke-linecap="butt"/>
<line x1="892.2" y1="1204.8" x2="892.2" y2="1210.9" stroke="#000" stroke-width="1.4" stroke-linecap="butt"/>
<text x="783.4" y="1231.3" font-size="15.6" text-anchor="middle" font-weight="normal" font-style="normal" fill="#000" >6</text>
<text x="825.8" y="1231.3" font-size="15.6" text-anchor="middle" font-weight="normal" font-style="normal" fill="#000" >7</text>
<text x="867.8" y="1231.3" font-size="15.6" text-anchor="middle" font-weight="normal" font-style="normal" fill="#000" >8</text>
<text x="822.4" y="1250.5" font-size="15.6" text-anchor="middle" font-weight="normal" font-style="normal" fill="#000" >Time (min)</text>
<path d="M759.8,1199.8 L760.3,1199.9 L760.8,1199.9 L761.3,1200 L761.8,1200 L762.3,1200.1 L762.8,1200.1 L763.3,1200.2 L763.8,1200.2 L764.3,1200.2 L764.8,1200.2 L765.3,1200.2 L765.8,1200.2 L766.3,1200.2 L766.8,1200.2 L767.3,1200.2 L767.8,1200.2 L768.3,1200.2 L768.8,1200.1 L769.3,1200.1 L769.8,1200 L770.3,1199.9 L770.8,1199.9 L771.3,1199.8 L771.8,1199.8 L772.3,1199.7 L772.8,1199.7 L773.3,1199.6 L773.8,1199.6 L774.3,1199.5 L774.8,1199.5 L775.3,1199.4 L775.8,1199.4 L776.3,1199.4 L776.8,1199.3 L777.3,1199.3 L777.8,1199.3 L778.3,1199.2 L778.8,1199.2 L779.3,1199.2 L779.8,1199.1 L780.3,1199.2 L780.8,1199.2 L781.3,1199.3 L781.8,1199.3 L782.3,1199.3 L782.8,1199.4 L783.3,1199.4 L783.8,1199.5 L784.3,1199.4 L784.8,1199.4 L785.3,1199.3 L785.8,1199.3 L786.3,1199.2 L786.8,1199.2 L787.3,1199.1 L787.8,1199.1 L788.3,1199.1 L788.8,1199.1 L789.3,1199.1 L789.8,1199.1 L790.3,1199.1 L790.8,1199.1 L791.3,1199 L791.8,1198.9 L792.3,1198.9 L792.8,1198.8 L793.3,1198.5 L793.8,1198.2 L794.3,1197.7 L794.8,1196.9 L795.3,1195.9 L795.8,1194.5 L796.3,1192.6 L796.8,1190.1 L797.3,1187 L797.8,1183.1 L798.3,1178.3 L798.8,1172.7 L799.3,1166 L799.8,1158.4 L800.3,1149.8 L800.8,1140.4 L801.3,1130.2 L801.8,1119.6 L802.3,1108.8 L802.8,1098.2 L803.3,1088.1 L803.8,1078.8 L804.3,1070.8 L804.8,1064.4 L805.3,1059.9 L805.8,1057.5 L806.3,1057.7 L806.8,1059.8 L807.3,1063 L807.8,1067.3 L808.3,1072.4 L808.8,1078.3 L809.3,1084.9 L809.8,1091.9 L810.3,1099.4 L810.8,1107 L811.3,1114.7 L811.8,1122.3 L812.3,1129.7 L812.8,1136.8 L813.3,1143.5 L813.8,1149.7 L814.3,1155.4 L814.8,1160.5 L815.3,1165.1 L815.8,1169.2 L816.3,1172.9 L816.8,1176 L817.3,1178.8 L817.8,1181.1 L818.3,1183.2 L818.8,1184.9 L819.3,1186.3 L819.8,1187.6 L820.3,1188.6 L820.8,1189.4 L821.3,1190.1 L821.8,1190.6 L822.3,1191.1 L822.8,1191.5 L823.3,1191.9 L823.8,1192.2 L824.3,1192.6 L824.8,1193 L825.3,1193.4 L825.8,1193.8 L826.3,1194.1 L826.8,1194.4 L827.3,1194.7 L827.8,1195 L828.3,1195.2 L828.8,1195.3 L829.3,1195.5 L829.8,1195.6 L830.3,1195.7 L830.8,1195.9 L831.3,1196 L831.8,1196.1 L832.3,1196.3 L832.8,1196.5 L833.3,1196.7 L833.8,1196.9 L834.3,1197 L834.8,1197.2 L835.3,1197.4 L835.8,1197.5 L836.3,1197.5 L836.8,1197.5 L837.3,1197.5 L837.8,1197.4 L838.3,1197.4 L838.8,1197.3 L839.3,1197.3 L839.8,1197.2 L840.3,1197.4 L840.8,1197.6 L841.3,1197.8 L841.8,1197.9 L842.3,1198.1 L842.8,1198.3 L843.3,1198.4 L843.8,1198.6 L844.3,1198.5 L844.8,1198.5 L845.3,1198.4 L845.8,1198.3 L846.3,1198.3 L846.8,1198.2 L847.3,1198.1 L847.8,1198.1 L848.3,1198.2 L848.8,1198.3 L849.3,1198.4 L849.8,1198.5 L850.3,1198.6 L850.8,1198.7 L851.3,1198.8 L851.8,1198.9 L852.3,1198.9 L852.8,1198.9 L853.3,1199 L853.8,1199 L854.3,1199 L854.8,1199.1 L855.3,1199.1 L855.8,1199.1 L856.3,1199 L856.8,1198.9 L857.3,1198.9 L857.8,1198.8 L858.3,1198.7 L858.8,1198.6 L859.3,1198.5 L859.8,1198.4 L860.3,1198.5 L860.8,1198.5 L861.3,1198.5 L861.8,1199 L862.3,1200.4 L862.8,1200.8 L863.3,1199.4 L863.8,1198.5 L864.3,1197.1 L864.8,1195.6 L865.3,1197 L865.8,1198.2 L866.3,1197 L866.8,1195.9 L867.3,1197.1 L867.8,1198.1 L868.3,1196.5 L868.8,1194.7 L869.3,1196.6 L869.8,1198.5 L870.3,1198.7 L870.8,1198.8 L871.3,1198.9 L871.8,1199 L872.3,1199 L872.8,1199 L873.3,1198.9 L873.8,1198.9 L874.3,1198.9 L874.8,1198.9 L875.3,1198.8 L875.8,1198.8 L876.3,1198.8 L876.8,1198.9 L877.3,1198.9 L877.8,1198.9 L878.3,1198.9 L878.8,1199 L879.3,1199 L879.8,1199 L880.3,1198.9 L880.8,1198.8 L881.3,1198.7 L881.8,1198.5 L882.3,1198.4 L882.8,1198.3 L883.3,1198.2 L883.8,1198.1 L884.3,1198.1 L884.8,1198.1 L885.3,1198.1 L885.8,1198.1 L886.3,1198.1 L886.8,1198.1 L887.3,1198.1 L887.8,1198.1 L888.3,1198.2 L888.8,1198.3 L889.3,1198.4 L889.8,1198.6 L890.3,1198.7 L890.8,1198.8 L891.3,1198.9 L891.8,1199.1 L892.3,1199 L892.8,1198.9 L893.3,1198.8 L893.8,1198.7 L894.3,1198.6 L894.8,1198.6 L895.3,1198.5 L895.8,1198.4 L896.3,1198.5" stroke="#000" stroke-width="1.9" fill="none" stroke-linejoin="round" stroke-linecap="round" />
<path d="M762.4,1185.8 L762.9,1185.7 L763.4,1185.6 L763.9,1185.5 L764.4,1185.4 L764.9,1185.3 L765.4,1185.2 L765.9,1185.1 L766.4,1185 L766.9,1185.2 L767.4,1185.4 L767.9,1185.5 L768.4,1185.7 L768.9,1185.9 L769.4,1186 L769.9,1186.2 L770.4,1186.4 L770.9,1186.2 L771.4,1186.1 L771.9,1186 L772.4,1185.9 L772.9,1185.8 L773.4,1185.6 L773.9,1185.5 L774.4,1185.4 L774.9,1185.5 L775.4,1185.5 L775.9,1185.6 L776.4,1185.6 L776.9,1185.7 L777.4,1185.8 L777.9,1185.8 L778.4,1185.9 L778.9,1185.8 L779.4,1185.7 L779.9,1185.7 L780.4,1185.6 L780.9,1185.5 L781.4,1185.4 L781.9,1185.3 L782.4,1185.3 L782.9,1185.3 L783.4,1185.3 L783.9,1185.3 L784.4,1185.4 L784.9,1185.4 L785.4,1185.4 L785.9,1185.4 L786.4,1185.4 L786.9,1185.5 L787.4,1185.5 L787.9,1185.5 L788.4,1185.5 L788.9,1185.5 L789.4,1185.4 L789.9,1185.3 L790.4,1185.2 L790.9,1185 L791.4,1184.7 L791.9,1184.3 L792.4,1183.9 L792.9,1183.3 L793.4,1182.6 L793.9,1181.8 L794.4,1180.7 L794.9,1179.3 L795.4,1177.8 L795.9,1175.9 L796.4,1173.8 L796.9,1171.3 L797.4,1168.6 L797.9,1165.5 L798.4,1162 L798.9,1158.1 L799.4,1153.9 L799.9,1149.3 L800.4,1144.3 L800.9,1138.9 L801.4,1133.2 L801.9,1127.1 L802.4,1120.8 L802.9,1114.3 L803.4,1107.7 L803.9,1101.1 L804.4,1094.6 L804.9,1088.3 L805.4,1082.2 L805.9,1076.5 L806.4,1071.3 L806.9,1066.7 L807.4,1062.8 L807.9,1059.6 L808.4,1057.2 L808.9,1055.7 L809.4,1055 L809.9,1056.1 L810.4,1058 L810.9,1060.4 L811.4,1063.5 L811.9,1067.1 L812.4,1071.1 L812.9,1075.6 L813.4,1080.5 L813.9,1085.7 L814.4,1091.1 L814.9,1096.6 L815.4,1102.3 L815.9,1108 L816.4,1113.6 L816.9,1119.1 L817.4,1124.5 L817.9,1129.7 L818.4,1134.7 L818.9,1139.4 L819.4,1143.8 L819.9,1147.9 L820.4,1151.6 L820.9,1155.1 L821.4,1158.2 L821.9,1161.1 L822.4,1163.7 L822.9,1166 L823.4,1168.1 L823.9,1170 L824.4,1171.6 L824.9,1173.1 L825.4,1174.4 L825.9,1175.5 L826.4,1176.5 L826.9,1177.3 L827.4,1178.1 L827.9,1178.7 L828.4,1179.3 L828.9,1179.7 L829.4,1180.2 L829.9,1180.5 L830.4,1180.9 L830.9,1181.2 L831.4,1181.4 L831.9,1181.7 L832.4,1181.9 L832.9,1182.1 L833.4,1182.3 L833.9,1182.4 L834.4,1182.6 L834.9,1182.7 L835.4,1182.9 L835.9,1183 L836.4,1183.2 L836.9,1183.3 L837.4,1183.4 L837.9,1183.6 L838.4,1183.7 L838.9,1183.7 L839.4,1183.7 L839.9,1183.7 L840.4,1183.7 L840.9,1183.7 L841.4,1183.7 L841.9,1183.7 L842.4,1183.7 L842.9,1183.8 L843.4,1183.8 L843.9,1183.8 L844.4,1183.9 L844.9,1183.9 L845.4,1183.9 L845.9,1184 L846.4,1184 L846.9,1184.1 L847.4,1184.3 L847.9,1184.4 L848.4,1184.6 L848.9,1184.7 L849.4,1184.8 L849.9,1185 L850.4,1185.1 L850.9,1185.1 L851.4,1185.1 L851.9,1185.2 L852.4,1185.2 L852.9,1185.2 L853.4,1185.2 L853.9,1185.2 L854.4,1185.2 L854.9,1185.3 L855.4,1185.3 L855.9,1185.3 L856.4,1185.3 L856.9,1185.3 L857.4,1185.4 L857.9,1185.4 L858.4,1185.4 L858.9,1185.3 L859.4,1185.2 L859.9,1185.2 L860.4,1185.1 L860.9,1185 L861.4,1184.9 L861.9,1184.8 L862.4,1184.7 L862.9,1184.8 L863.4,1183.7 L863.9,1182.5 L864.4,1183.6 L864.9,1184.8 L865.4,1184.9 L865.9,1184.9 L866.4,1184.9 L866.9,1185 L867.4,1185.2 L867.9,1185.3 L868.4,1185.4 L868.9,1185.5 L869.4,1185.7 L869.9,1185.8 L870.4,1185.9 L870.9,1185.8 L871.4,1185.7 L871.9,1185.6 L872.4,1185.5 L872.9,1185.4 L873.4,1185.3 L873.9,1185.9 L874.4,1186.9 L874.9,1186.5 L875.4,1185.9 L875.9,1187.2 L876.4,1186.8 L876.9,1184 L877.4,1183.9 L877.9,1185.2 L878.4,1185.5 L878.9,1185.5 L879.4,1185.6 L879.9,1185.6 L880.4,1185.7 L880.9,1185.7 L881.4,1185.8 L881.9,1185.9 L882.4,1185.9 L882.9,1185.9 L883.4,1185.9 L883.9,1185.9 L884.4,1185.8 L884.9,1185.8 L885.4,1185.8 L885.9,1185.8 L886.4,1185.8 L886.9,1185.8 L887.4,1185.8 L887.9,1185.8 L888.4,1185.9 L888.9,1185.9 L889.4,1185.9 L889.9,1186 L890.4,1186 L890.9,1185.9 L891.4,1185.7 L891.9,1185.6 L892.4,1185.5 L892.9,1185.4 L893.4,1185.2 L893.9,1185.1 L894.4,1185 L894.9,1185.1 L895.4,1185.2 L895.9,1185.3 L896.4,1185.4 L896.9,1185.5 L897.4,1185.5 L897.9,1185.6 L898.4,1185.7 L898.9,1185.7 L899.4,1185.6 L899.9,1185.6" stroke="#000" stroke-width="1.9" fill="none" stroke-linejoin="round" stroke-linecap="round" />
<path d="M765.5,1171.9 L766,1172 L766.5,1172.1 L767,1172.1 L767.5,1172.2 L768,1172.3 L768.5,1172.4 L769,1172.5 L769.5,1172.5 L770,1172.4 L770.5,1172.3 L771,1172.1 L771.5,1172 L772,1171.9 L772.5,1171.7 L773,1171.6 L773.5,1171.5 L774,1171.6 L774.5,1171.7 L775,1171.8 L775.5,1171.9 L776,1172.1 L776.5,1172.2 L777,1172.3 L777.5,1172.4 L778,1172.3 L778.5,1172.2 L779,1172.1 L779.5,1172 L780,1171.9 L780.5,1171.8 L781,1171.7 L781.5,1171.6 L782,1171.7 L782.5,1171.7 L783,1171.8 L783.5,1171.8 L784,1171.8 L784.5,1171.9 L785,1171.9 L785.5,1172 L786,1172 L786.5,1172.1 L787,1172.1 L787.5,1172.1 L788,1172.1 L788.5,1172.2 L789,1172.2 L789.5,1172.2 L790,1172.1 L790.5,1171.9 L791,1171.8 L791.5,1171.6 L792,1171.4 L792.5,1171.2 L793,1170.9 L793.5,1170.6 L794,1170.5 L794.5,1170.2 L795,1169.9 L795.5,1169.5 L796,1169 L796.5,1168.3 L797,1167.5 L797.5,1166.6 L798,1165.4 L798.5,1164 L799,1162.3 L799.5,1160.4 L800,1158.1 L800.5,1155.5 L801,1152.6 L801.5,1149.3 L802,1145.5 L802.5,1141.4 L803,1137 L803.5,1132.1 L804,1127 L804.5,1121.6 L805,1115.9 L805.5,1110 L806,1104 L806.5,1097.8 L807,1091.7 L807.5,1085.7 L808,1079.8 L808.5,1074.2 L809,1069 L809.5,1064.3 L810,1060.1 L810.5,1056.6 L811,1053.7 L811.5,1051.7 L812,1050.4 L812.5,1050 L813,1051.3 L813.5,1053.2 L814,1055.6 L814.5,1058.5 L815,1061.9 L815.5,1065.8 L816,1070 L816.5,1074.6 L817,1079.5 L817.5,1084.5 L818,1089.7 L818.5,1095 L819,1100.2 L819.5,1105.5 L820,1110.6 L820.5,1115.5 L821,1120.3 L821.5,1124.9 L822,1129.2 L822.5,1133.2 L823,1137 L823.5,1140.5 L824,1143.7 L824.5,1146.7 L825,1149.4 L825.5,1151.8 L826,1153.9 L826.5,1155.7 L827,1157.4 L827.5,1158.8 L828,1160 L828.5,1161.1 L829,1162.1 L829.5,1162.9 L830,1163.5 L830.5,1164.1 L831,1164.6 L831.5,1165 L832,1165.4 L832.5,1165.7 L833,1165.9 L833.5,1166.1 L834,1166.4 L834.5,1166.7 L835,1166.9 L835.5,1167.2 L836,1167.4 L836.5,1167.6 L837,1167.7 L837.5,1167.9 L838,1168 L838.5,1168.1 L839,1168.3 L839.5,1168.4 L840,1168.5 L840.5,1168.5 L841,1168.6 L841.5,1168.7 L842,1168.8 L842.5,1169 L843,1169.1 L843.5,1169.2 L844,1169.3 L844.5,1169.4 L845,1169.5 L845.5,1169.6 L846,1169.6 L846.5,1169.6 L847,1169.5 L847.5,1169.5 L848,1169.5 L848.5,1169.5 L849,1169.5 L849.5,1169.4 L850,1169.5 L850.5,1169.6 L851,1169.7 L851.5,1169.8 L852,1169.9 L852.5,1170 L853,1170 L853.5,1170.1 L854,1170.1 L854.5,1170.2 L855,1170.2 L855.5,1170.2 L856,1170.2 L856.5,1170.3 L857,1170.3 L857.5,1170.3 L858,1170.3 L858.5,1170.2 L859,1170.2 L859.5,1170.1 L860,1170.1 L860.5,1170.1 L861,1170 L861.5,1170 L862,1170.1 L862.5,1170.2 L863,1170.3 L863.5,1170.4 L864,1170.5 L864.5,1170.6 L865,1170.7 L865.5,1170.8 L866,1170.8 L866.5,1170.7 L867,1170.7 L867.5,1170.6 L868,1171.1 L868.5,1172.5 L869,1172.7 L869.5,1171.2 L870,1172 L870.5,1174.1 L871,1173.3 L871.5,1171.2 L872,1169.9 L872.5,1168.8 L873,1169.1 L873.5,1170.4 L874,1170.9 L874.5,1170.9 L875,1170.9 L875.5,1170.9 L876,1170.9 L876.5,1170.9 L877,1170.9 L877.5,1170.9 L878,1171.8 L878.5,1173 L879,1172.4 L879.5,1171.1 L880,1170.8 L880.5,1170.7 L881,1170.7 L881.5,1170.7 L882,1170.6 L882.5,1170.6 L883,1170.6 L883.5,1170.6 L884,1170.6 L884.5,1170.6 L885,1170.5 L885.5,1170.5 L886,1170.5 L886.5,1170.5 L887,1170.5 L887.5,1170.5 L888,1170.5 L888.5,1170.5 L889,1170.5 L889.5,1170.5 L890,1170.4 L890.5,1170.3 L891,1170.2 L891.5,1170.1 L892,1170 L892.5,1169.9 L893,1169.8 L893.5,1169.7 L894,1169.8 L894.5,1169.9 L895,1170 L895.5,1170.1 L896,1170.2 L896.5,1170.3 L897,1170.4 L897.5,1170.5 L898,1170.5 L898.5,1170.5 L899,1170.6 L899.5,1170.6 L900,1170.6 L900.5,1170.7 L901,1170.7 L901.5,1170.7 L902,1170.7 L902.5,1170.6" stroke="#000" stroke-width="1.9" fill="none" stroke-linejoin="round" stroke-linecap="round" />
<path d="M768.9,1160.5 L769.4,1160.5 L769.9,1160.6 L770.4,1160.6 L770.9,1160.6 L771.4,1160.6 L771.9,1160.6 L772.4,1160.7 L772.9,1160.7 L773.4,1160.7 L773.9,1160.7 L774.4,1160.7 L774.9,1160.8 L775.4,1160.8 L775.9,1160.8 L776.4,1160.8 L776.9,1160.9 L777.4,1160.8 L777.9,1160.6 L778.4,1160.5 L778.9,1160.4 L779.4,1160.3 L779.9,1160.2 L780.4,1160 L780.9,1159.9 L781.4,1159.9 L781.9,1159.9 L782.4,1159.9 L782.9,1159.9 L783.4,1159.8 L783.9,1159.8 L784.4,1159.8 L784.9,1159.8 L785.4,1159.9 L785.9,1159.9 L786.4,1160 L786.9,1160.1 L787.4,1160.2 L787.9,1160.3 L788.4,1160.4 L788.9,1160.4 L789.4,1160.4 L789.9,1160.3 L790.4,1160.2 L790.9,1160.2 L791.4,1160.1 L791.9,1160 L792.4,1159.9 L792.9,1159.8 L793.4,1159.9 L793.9,1159.9 L794.4,1159.9 L794.9,1159.9 L795.4,1159.8 L795.9,1159.8 L796.4,1159.7 L796.9,1159.6 L797.4,1159.3 L797.9,1159.1 L798.4,1158.7 L798.9,1158.3 L799.4,1157.7 L799.9,1157 L800.4,1156.2 L800.9,1155.2 L801.4,1153.9 L801.9,1152.4 L802.4,1150.6 L802.9,1148.6 L803.4,1146.3 L803.9,1143.7 L804.4,1140.9 L804.9,1137.6 L805.4,1134.2 L805.9,1130.3 L806.4,1126.1 L806.9,1121.5 L807.4,1116.5 L807.9,1111.3 L808.4,1105.7 L808.9,1100 L809.4,1094.1 L809.9,1088.1 L810.4,1082.2 L810.9,1076.3 L811.4,1070.6 L811.9,1065.2 L812.4,1060.1 L812.9,1055.5 L813.4,1051.4 L813.9,1048 L814.4,1045.2 L814.9,1043.2 L815.4,1042 L815.9,1041.6 L816.4,1042.9 L816.9,1044.7 L817.4,1047 L817.9,1049.9 L818.4,1053.2 L818.9,1057 L819.4,1061.1 L819.9,1065.5 L820.4,1070.3 L820.9,1075.2 L821.4,1080.2 L821.9,1085.3 L822.4,1090.5 L822.9,1095.5 L823.4,1100.5 L823.9,1105.4 L824.4,1110 L824.9,1114.5 L825.4,1118.6 L825.9,1122.6 L826.4,1126.2 L826.9,1129.6 L827.4,1132.6 L827.9,1135.4 L828.4,1138 L828.9,1140.3 L829.4,1142.3 L829.9,1144.1 L830.4,1145.7 L830.9,1147.1 L831.4,1148.3 L831.9,1149.3 L832.4,1150.2 L832.9,1151 L833.4,1151.7 L833.9,1152.3 L834.4,1152.8 L834.9,1153.3 L835.4,1153.7 L835.9,1154 L836.4,1154.3 L836.9,1154.6 L837.4,1154.8 L837.9,1155 L838.4,1155.2 L838.9,1155.4 L839.4,1155.5 L839.9,1155.7 L840.4,1155.8 L840.9,1155.9 L841.4,1156 L841.9,1156.1 L842.4,1156.2 L842.9,1156.3 L843.4,1156.4 L843.9,1156.5 L844.4,1156.6 L844.9,1156.6 L845.4,1156.8 L845.9,1157 L846.4,1157.2 L846.9,1157.4 L847.4,1157.6 L847.9,1157.8 L848.4,1158 L848.9,1158.2 L849.4,1158.2 L849.9,1158.2 L850.4,1158.3 L850.9,1158.3 L851.4,1158.3 L851.9,1158.4 L852.4,1158.4 L852.9,1158.4 L853.4,1158.4 L853.9,1158.4 L854.4,1158.3 L854.9,1158.3 L855.4,1158.3 L855.9,1158.2 L856.4,1158.2 L856.9,1158.2 L857.4,1158.3 L857.9,1158.4 L858.4,1158.5 L858.9,1158.5 L859.4,1158.6 L859.9,1158.7 L860.4,1158.8 L860.9,1158.9 L861.4,1158.9 L861.9,1159 L862.4,1159 L862.9,1159.1 L863.4,1159.1 L863.9,1159.2 L864.4,1159.2 L864.9,1159.2 L865.4,1159.1 L865.9,1159 L866.4,1158.9 L866.9,1158.8 L867.4,1158.7 L867.9,1158.6 L868.4,1160.1 L868.9,1162.2 L869.4,1161.1 L869.9,1159 L870.4,1158.6 L870.9,1158.6 L871.4,1158.7 L871.9,1158.8 L872.4,1158.9 L872.9,1160.3 L873.4,1161.8 L873.9,1160.4 L874.4,1158.8 L874.9,1158.6 L875.4,1158.5 L875.9,1158.4 L876.4,1158.3 L876.9,1158.2 L877.4,1158.2 L877.9,1158.2 L878.4,1160.2 L878.9,1162.2 L879.4,1160.3 L879.9,1158.4 L880.4,1158.4 L880.9,1158.4 L881.4,1158.4 L881.9,1158.4 L882.4,1158.9 L882.9,1160 L883.4,1160.2 L883.9,1159.1 L884.4,1158.5 L884.9,1158.5 L885.4,1158.5 L885.9,1158.5 L886.4,1158.5 L886.9,1158.5 L887.4,1158.5 L887.9,1158.5 L888.4,1158.6 L888.9,1158.6 L889.4,1158.6 L889.9,1158.6 L890.4,1158.6 L890.9,1158.7 L891.4,1158.7 L891.9,1158.7 L892.4,1158.7 L892.9,1158.8 L893.4,1158.7 L893.9,1158.6 L894.4,1158.6 L894.9,1158.5 L895.4,1158.5 L895.9,1158.4 L896.4,1158.4 L896.9,1158.3 L897.4,1158.3 L897.9,1158.3 L898.4,1158.3 L898.9,1158.3 L899.4,1158.3 L899.9,1158.3 L900.4,1158.3 L900.9,1158.3 L901.4,1158.3 L901.9,1158.4 L902.4,1158.5 L902.9,1158.5 L903.4,1158.6 L903.9,1158.7 L904.4,1158.7 L904.9,1158.8 L905.4,1158.7 L905.9,1158.7 L906.4,1158.6" stroke="#000" stroke-width="1.9" fill="none" stroke-linejoin="round" stroke-linecap="round" />
<path d="M772,1146 L772.5,1146.1 L773,1146.1 L773.5,1146.2 L774,1146.2 L774.5,1146.2 L775,1146.3 L775.5,1146.3 L776,1146.4 L776.5,1146.5 L777,1146.5 L777.5,1146.6 L778,1146.7 L778.5,1146.7 L779,1146.8 L779.5,1146.9 L780,1147 L780.5,1147 L781,1147 L781.5,1147 L782,1147 L782.5,1147 L783,1147 L783.5,1147.1 L784,1147.1 L784.5,1147.1 L785,1147.1 L785.5,1147.1 L786,1147.1 L786.5,1147.1 L787,1147.1 L787.5,1147.1 L788,1147.1 L788.5,1147.1 L789,1147.1 L789.5,1147.1 L790,1147.1 L790.5,1147.1 L791,1147.1 L791.5,1147.2 L792,1147.2 L792.5,1147 L793,1146.9 L793.5,1146.7 L794,1146.6 L794.5,1146.4 L795,1146.3 L795.5,1146.1 L796,1145.9 L796.5,1145.9 L797,1145.9 L797.5,1145.8 L798,1145.7 L798.5,1145.6 L799,1145.5 L799.5,1145.3 L800,1145.1 L800.5,1144.9 L801,1144.5 L801.5,1144.1 L802,1143.6 L802.5,1143 L803,1142.2 L803.5,1141.3 L804,1140.1 L804.5,1138.8 L805,1137.2 L805.5,1135.3 L806,1133.2 L806.5,1130.7 L807,1127.9 L807.5,1124.8 L808,1121.3 L808.5,1117.4 L809,1113.1 L809.5,1108.6 L810,1103.7 L810.5,1098.5 L811,1093.1 L811.5,1087.4 L812,1081.6 L812.5,1075.8 L813,1069.9 L813.5,1064.1 L814,1058.5 L814.5,1053.2 L815,1048.2 L815.5,1043.7 L816,1039.7 L816.5,1036.3 L817,1033.6 L817.5,1031.6 L818,1030.4 L818.5,1030 L819,1031.2 L819.5,1033 L820,1035.3 L820.5,1038.1 L821,1041.4 L821.5,1045.1 L822,1049.2 L822.5,1053.6 L823,1058.2 L823.5,1063 L824,1068 L824.5,1073 L825,1078.1 L825.5,1083.1 L826,1088 L826.5,1092.7 L827,1097.3 L827.5,1101.7 L828,1105.8 L828.5,1109.7 L829,1113.3 L829.5,1116.6 L830,1119.7 L830.5,1122.4 L831,1124.9 L831.5,1127.1 L832,1129.1 L832.5,1130.9 L833,1132.5 L833.5,1133.9 L834,1135.1 L834.5,1136.2 L835,1137.1 L835.5,1137.9 L836,1138.6 L836.5,1139.3 L837,1139.9 L837.5,1140.4 L838,1140.8 L838.5,1141.2 L839,1141.5 L839.5,1141.9 L840,1142.1 L840.5,1142.3 L841,1142.5 L841.5,1142.7 L842,1142.8 L842.5,1143 L843,1143.1 L843.5,1143.2 L844,1143.3 L844.5,1143.4 L845,1143.4 L845.5,1143.5 L846,1143.5 L846.5,1143.6 L847,1143.6 L847.5,1143.7 L848,1143.7 L848.5,1143.9 L849,1144.1 L849.5,1144.3 L850,1144.4 L850.5,1144.6 L851,1144.8 L851.5,1144.9 L852,1145.1 L852.5,1145.1 L853,1145 L853.5,1145 L854,1144.9 L854.5,1144.8 L855,1144.8 L855.5,1144.7 L856,1144.7 L856.5,1144.7 L857,1144.7 L857.5,1144.8 L858,1144.8 L858.5,1144.8 L859,1144.8 L859.5,1144.9 L860,1144.9 L860.5,1144.9 L861,1144.9 L861.5,1144.8 L862,1144.8 L862.5,1144.8 L863,1144.8 L863.5,1144.8 L864,1144.7 L864.5,1144.9 L865,1145.1 L865.5,1145.2 L866,1145.4 L866.5,1145.6 L867,1145.7 L867.5,1145.9 L868,1146 L868.5,1146 L869,1146 L869.5,1145.9 L870,1145.9 L870.5,1145.9 L871,1145.8 L871.5,1145.8 L872,1145.7 L872.5,1145.7 L873,1145.8 L873.5,1145.8 L874,1145.7 L874.5,1145.7 L875,1145.7 L875.5,1145.7 L876,1145.7 L876.5,1145.7 L877,1144.5 L877.5,1142.7 L878,1141.9 L878.5,1142.4 L879,1144.3 L879.5,1145.6 L880,1145.5 L880.5,1146.1 L881,1148.7 L881.5,1150.5 L882,1148.1 L882.5,1145.6 L883,1145.2 L883.5,1145.2 L884,1145.1 L884.5,1145.1 L885,1145 L885.5,1145 L886,1145 L886.5,1144.9 L887,1144.9 L887.5,1144.9 L888,1144.8 L888.5,1144.9 L889,1145 L889.5,1145.1 L890,1145.2 L890.5,1145.3 L891,1145.4 L891.5,1145.5 L892,1145.6 L892.5,1145.6 L893,1145.7 L893.5,1145.7 L894,1145.8 L894.5,1145.8 L895,1145.8 L895.5,1145.9 L896,1145.9 L896.5,1145.9 L897,1146 L897.5,1146 L898,1146 L898.5,1146.1 L899,1146.1 L899.5,1146.1 L900,1146.1 L900.5,1146 L901,1145.8 L901.5,1145.7 L902,1145.5 L902.5,1145.3 L903,1145.2 L903.5,1145 L904,1144.9 L904.5,1144.8 L905,1144.8 L905.5,1144.8 L906,1144.8 L906.5,1144.8 L907,1144.8 L907.5,1144.8 L908,1144.8" stroke="#000" stroke-width="1.9" fill="none" stroke-linejoin="round" stroke-linecap="round" />
<path d="M774.6,1132.8 L775.1,1132.9 L775.6,1132.9 L776.1,1133 L776.6,1133 L777.1,1133.1 L777.6,1133.1 L778.1,1133.2 L778.6,1133.2 L779.1,1133.2 L779.6,1133.1 L780.1,1133.1 L780.6,1133.1 L781.1,1133 L781.6,1133 L782.1,1133 L782.6,1132.9 L783.1,1132.9 L783.6,1132.9 L784.1,1132.9 L784.6,1132.9 L785.1,1132.9 L785.6,1132.9 L786.1,1132.9 L786.6,1132.9 L787.1,1132.9 L787.6,1133 L788.1,1133 L788.6,1133.1 L789.1,1133.1 L789.6,1133.2 L790.1,1133.2 L790.6,1133.3 L791.1,1133.2 L791.6,1133.1 L792.1,1133 L792.6,1132.9 L793.1,1132.8 L793.6,1132.7 L794.1,1132.5 L794.6,1132.4 L795.1,1132.6 L795.6,1132.7 L796.1,1132.8 L796.6,1132.9 L797.1,1133 L797.6,1133.1 L798.1,1133.2 L798.6,1133.3 L799.1,1133.2 L799.6,1133 L800.1,1132.9 L800.6,1132.7 L801.1,1132.5 L801.6,1132.2 L802.1,1131.9 L802.6,1131.5 L803.1,1131 L803.6,1130.5 L804.1,1129.9 L804.6,1129.1 L805.1,1128.2 L805.6,1127.1 L806.1,1125.9 L806.6,1124.4 L807.1,1122.9 L807.6,1121 L808.1,1118.9 L808.6,1116.4 L809.1,1113.6 L809.6,1110.4 L810.1,1106.8 L810.6,1102.9 L811.1,1098.5 L811.6,1093.7 L812.1,1088.7 L812.6,1083.3 L813.1,1077.7 L813.6,1071.9 L814.1,1065.9 L814.6,1059.8 L815.1,1053.8 L815.6,1047.8 L816.1,1042 L816.6,1036.5 L817.1,1031.3 L817.6,1026.6 L818.1,1022.5 L818.6,1019 L819.1,1016.2 L819.6,1014.2 L820.1,1012.9 L820.6,1012.5 L821.1,1013.8 L821.6,1015.6 L822.1,1018 L822.6,1020.9 L823.1,1024.3 L823.6,1028.1 L824.1,1032.3 L824.6,1036.9 L825.1,1041.7 L825.6,1046.7 L826.1,1051.8 L826.6,1057 L827.1,1062.2 L827.6,1067.4 L828.1,1072.5 L828.6,1077.4 L829.1,1082.2 L829.6,1086.7 L830.1,1091 L830.6,1095 L831.1,1098.8 L831.6,1102.2 L832.1,1105.4 L832.6,1108.3 L833.1,1110.8 L833.6,1113.1 L834.1,1115.1 L834.6,1116.9 L835.1,1118.6 L835.6,1120.1 L836.1,1121.5 L836.6,1122.7 L837.1,1123.7 L837.6,1124.6 L838.1,1125.5 L838.6,1126.2 L839.1,1126.6 L839.6,1127 L840.1,1127.2 L840.6,1127.5 L841.1,1127.6 L841.6,1127.8 L842.1,1127.9 L842.6,1128 L843.1,1128.2 L843.6,1128.5 L844.1,1128.7 L844.6,1128.9 L845.1,1129.1 L845.6,1129.3 L846.1,1129.4 L846.6,1129.6 L847.1,1129.8 L847.6,1129.9 L848.1,1130.1 L848.6,1130.2 L849.1,1130.4 L849.6,1130.5 L850.1,1130.7 L850.6,1130.8 L851.1,1130.8 L851.6,1130.9 L852.1,1130.9 L852.6,1130.9 L853.1,1130.9 L853.6,1130.9 L854.1,1130.9 L854.6,1130.9 L855.1,1131 L855.6,1131 L856.1,1131.1 L856.6,1131.1 L857.1,1131.2 L857.6,1131.3 L858.1,1131.3 L858.6,1131.4 L859.1,1131.4 L859.6,1131.4 L860.1,1131.3 L860.6,1131.3 L861.1,1131.3 L861.6,1131.3 L862.1,1131.3 L862.6,1131.3 L863.1,1131.4 L863.6,1131.5 L864.1,1131.6 L864.6,1131.8 L865.1,1131.9 L865.6,1132 L866.1,1132.1 L866.6,1132.2 L867.1,1132.3 L867.6,1132.3 L868.1,1132.4 L868.6,1132.4 L869.1,1132.5 L869.6,1132.5 L870.1,1132.6 L870.6,1132.7 L871.1,1132.6 L871.6,1132.5 L872.1,1132.4 L872.6,1132.3 L873.1,1132.2 L873.6,1132.2 L874.1,1132.1 L874.6,1132 L875.1,1132.1 L875.6,1132.1 L876.1,1132.2 L876.6,1132.9 L877.1,1134.8 L877.6,1135.4 L878.1,1133.4 L878.6,1130.4 L879.1,1129 L879.6,1130.9 L880.1,1132.5 L880.6,1132.5 L881.1,1132.5 L881.6,1132.5 L882.1,1132.4 L882.6,1132.3 L883.1,1130.5 L883.6,1128.8 L884.1,1130.7 L884.6,1132.5 L885.1,1132.6 L885.6,1132.1 L886.1,1130.9 L886.6,1130.7 L887.1,1132 L887.6,1132.8 L888.1,1132.8 L888.6,1132.9 L889.1,1132.9 L889.6,1133 L890.1,1133 L890.6,1133.1 L891.1,1133 L891.6,1132.9 L892.1,1132.9 L892.6,1132.8 L893.1,1132.7 L893.6,1132.6 L894.1,1132.5 L894.6,1132.5 L895.1,1132.4 L895.6,1132.4 L896.1,1132.4 L896.6,1132.3 L897.1,1132.3 L897.6,1132.3 L898.1,1132.3 L898.6,1132.2 L899.1,1132.2 L899.6,1132.3 L900.1,1132.3 L900.6,1132.3 L901.1,1132.3 L901.6,1132.3 L902.1,1132.4 L902.6,1132.4 L903.1,1132.4 L903.6,1132.5 L904.1,1132.5 L904.6,1132.5 L905.1,1132.6 L905.6,1132.6 L906.1,1132.7 L906.6,1132.7 L907.1,1132.7 L907.6,1132.8 L908.1,1132.8 L908.6,1132.9 L909.1,1132.9 L909.6,1133 L910.1,1133 L910.6,1133.1 L911.1,1133.1" stroke="#000" stroke-width="1.9" fill="none" stroke-linejoin="round" stroke-linecap="round" />
<path d="M778,1118.8 L778.5,1118.7 L779,1118.6 L779.5,1118.6 L780,1118.5 L780.5,1118.5 L781,1118.4 L781.5,1118.4 L782,1118.3 L782.5,1118.4 L783,1118.5 L783.5,1118.6 L784,1118.7 L784.5,1118.8 L785,1118.8 L785.5,1118.9 L786,1119 L786.5,1118.9 L787,1118.9 L787.5,1118.8 L788,1118.7 L788.5,1118.6 L789,1118.5 L789.5,1118.5 L790,1118.4 L790.5,1118.4 L791,1118.5 L791.5,1118.6 L792,1118.6 L792.5,1118.7 L793,1118.8 L793.5,1118.8 L794,1118.9 L794.5,1118.8 L795,1118.8 L795.5,1118.8 L796,1118.8 L796.5,1118.7 L797,1118.7 L797.5,1118.7 L798,1118.7 L798.5,1118.7 L799,1118.8 L799.5,1118.8 L800,1118.9 L800.5,1118.9 L801,1119 L801.5,1119 L802,1119 L802.5,1118.9 L803,1118.7 L803.5,1118.6 L804,1118.4 L804.5,1118.1 L805,1117.9 L805.5,1117.6 L806,1117.2 L806.5,1117 L807,1116.7 L807.5,1116.3 L808,1115.8 L808.5,1115.1 L809,1114.3 L809.5,1113.2 L810,1112 L810.5,1110.2 L811,1108.2 L811.5,1105.9 L812,1103.4 L812.5,1100.5 L813,1097.2 L813.5,1093.7 L814,1089.8 L814.5,1085.5 L815,1080.9 L815.5,1075.9 L816,1070.6 L816.5,1065 L817,1059.1 L817.5,1053 L818,1046.8 L818.5,1040.6 L819,1034.5 L819.5,1028.5 L820,1022.7 L820.5,1017.3 L821,1012.3 L821.5,1007.8 L822,1004 L822.5,1000.8 L823,998.4 L823.5,996.8 L824,996.1 L824.5,996.7 L825,998.4 L825.5,1000.6 L826,1003.4 L826.5,1006.6 L827,1010.4 L827.5,1014.5 L828,1019 L828.5,1023.8 L829,1028.9 L829.5,1034.1 L830,1039.4 L830.5,1044.7 L831,1050 L831.5,1055.3 L832,1060.4 L832.5,1065.3 L833,1070 L833.5,1074.5 L834,1078.7 L834.5,1082.7 L835,1086.3 L835.5,1089.7 L836,1092.7 L836.5,1095.4 L837,1097.8 L837.5,1100 L838,1101.9 L838.5,1103.7 L839,1105.2 L839.5,1106.6 L840,1107.7 L840.5,1108.8 L841,1109.7 L841.5,1110.5 L842,1111.2 L842.5,1111.8 L843,1112.3 L843.5,1112.8 L844,1113.2 L844.5,1113.5 L845,1113.9 L845.5,1114.1 L846,1114.4 L846.5,1114.6 L847,1114.8 L847.5,1115 L848,1115.1 L848.5,1115.3 L849,1115.4 L849.5,1115.6 L850,1115.7 L850.5,1115.8 L851,1115.9 L851.5,1116 L852,1116.1 L852.5,1116.2 L853,1116.3 L853.5,1116.3 L854,1116.4 L854.5,1116.5 L855,1116.6 L855.5,1116.7 L856,1116.8 L856.5,1116.9 L857,1117 L857.5,1117.1 L858,1117.2 L858.5,1117.2 L859,1117.3 L859.5,1117.4 L860,1117.4 L860.5,1117.5 L861,1117.6 L861.5,1117.6 L862,1117.7 L862.5,1117.7 L863,1117.7 L863.5,1117.8 L864,1117.8 L864.5,1117.8 L865,1117.9 L865.5,1117.9 L866,1117.9 L866.5,1118 L867,1118.1 L867.5,1118.2 L868,1118.4 L868.5,1118.5 L869,1118.6 L869.5,1118.7 L870,1118.8 L870.5,1118.8 L871,1118.8 L871.5,1118.9 L872,1118.9 L872.5,1118.9 L873,1118.9 L873.5,1119 L874,1119 L874.5,1118.9 L875,1118.8 L875.5,1118.7 L876,1118.6 L876.5,1118.4 L877,1118.3 L877.5,1118.2 L878,1118.1 L878.5,1118.2 L879,1119.8 L879.5,1121.5 L880,1120.2 L880.5,1118.6 L881,1118.6 L881.5,1118.7 L882,1118.7 L882.5,1118.8 L883,1118.8 L883.5,1118.9 L884,1118.9 L884.5,1119 L885,1119 L885.5,1119 L886,1119.1 L886.5,1119 L887,1118.8 L887.5,1119.8 L888,1121 L888.5,1119.5 L889,1117 L889.5,1116.7 L890,1117.7 L890.5,1118.3 L891,1118.5 L891.5,1118.5 L892,1117.4 L892.5,1116.5 L893,1117.9 L893.5,1119.3 L894,1119.4 L894.5,1119.4 L895,1119.3 L895.5,1119.3 L896,1119.2 L896.5,1119.1 L897,1119.1 L897.5,1119 L898,1118.9 L898.5,1118.9 L899,1118.9 L899.5,1118.9 L900,1118.9 L900.5,1118.8 L901,1118.8 L901.5,1118.8 L902,1118.8 L902.5,1118.8 L903,1118.8 L903.5,1118.8 L904,1118.8 L904.5,1118.8 L905,1118.8 L905.5,1118.7 L906,1118.7 L906.5,1118.8 L907,1118.9 L907.5,1119 L908,1119.1 L908.5,1119.2 L909,1119.3 L909.5,1119.4 L910,1119.4 L910.5,1119.4 L911,1119.3 L911.5,1119.3 L912,1119.2 L912.5,1119.1 L913,1119.1 L913.5,1119 L914,1118.9 L914.5,1118.9" stroke="#000" stroke-width="1.9" fill="none" stroke-linejoin="round" stroke-linecap="round" />
<path d="M780.6,1105.8 L781.1,1106 L781.6,1106.1 L782.1,1106.2 L782.6,1106.3 L783.1,1106.5 L783.6,1106.6 L784.1,1106.7 L784.6,1106.8 L785.1,1106.8 L785.6,1106.7 L786.1,1106.7 L786.6,1106.7 L787.1,1106.6 L787.6,1106.6 L788.1,1106.5 L788.6,1106.5 L789.1,1106.4 L789.6,1106.3 L790.1,1106.2 L790.6,1106.2 L791.1,1106.1 L791.6,1106 L792.1,1106 L792.6,1105.9 L793.1,1106 L793.6,1106.1 L794.1,1106.2 L794.6,1106.3 L795.1,1106.4 L795.6,1106.5 L796.1,1106.5 L796.6,1106.6 L797.1,1106.6 L797.6,1106.6 L798.1,1106.5 L798.6,1106.5 L799.1,1106.4 L799.6,1106.4 L800.1,1106.4 L800.6,1106.3 L801.1,1106.3 L801.6,1106.4 L802.1,1106.4 L802.6,1106.4 L803.1,1106.4 L803.6,1106.4 L804.1,1106.3 L804.6,1106.3 L805.1,1106.1 L805.6,1105.9 L806.1,1105.6 L806.6,1105.2 L807.1,1104.8 L807.6,1104.3 L808.1,1103.6 L808.6,1102.8 L809.1,1101.8 L809.6,1100.6 L810.1,1099.1 L810.6,1097.3 L811.1,1095.1 L811.6,1092.5 L812.1,1089.3 L812.6,1085.6 L813.1,1081.2 L813.6,1076.1 L814.1,1070.3 L814.6,1063.6 L815.1,1056 L815.6,1047.4 L816.1,1038 L816.6,1027.5 L817.1,1016 L817.6,1003.6 L818.1,990.4 L818.6,976.3 L819.1,961.6 L819.6,946.3 L820.1,930.6 L820.6,914.6 L821.1,898.7 L821.6,883.1 L822.1,867.8 L822.6,853.4 L823.1,839.9 L823.6,827.6 L824.1,816.7 L824.6,807.5 L825.1,800.2 L825.6,794.9 L826.1,791.6 L826.6,790.5 L827.1,793.9 L827.6,798.7 L828.1,805 L828.6,812.6 L829.1,821.5 L829.6,831.5 L830.1,842.5 L830.6,854.4 L831.1,867 L831.6,880.2 L832.1,893.7 L832.6,907.3 L833.1,921 L833.6,934.6 L834.1,947.9 L834.6,960.8 L835.1,973.3 L835.6,985.1 L836.1,996.4 L836.6,1006.9 L837.1,1016.7 L837.6,1025.8 L838.1,1034.1 L838.6,1041.7 L839.1,1048.6 L839.6,1054.8 L840.1,1060.3 L840.6,1065.3 L841.1,1069.5 L841.6,1073.3 L842.1,1076.5 L842.6,1079.3 L843.1,1081.8 L843.6,1083.9 L844.1,1085.7 L844.6,1087.3 L845.1,1088.7 L845.6,1090 L846.1,1091 L846.6,1092 L847.1,1092.8 L847.6,1093.6 L848.1,1094.2 L848.6,1094.8 L849.1,1095.4 L849.6,1095.9 L850.1,1096.4 L850.6,1096.8 L851.1,1097.2 L851.6,1097.6 L852.1,1098 L852.6,1098.3 L853.1,1098.6 L853.6,1098.8 L854.1,1099.1 L854.6,1099.3 L855.1,1099.5 L855.6,1099.7 L856.1,1099.9 L856.6,1100.1 L857.1,1100.4 L857.6,1100.7 L858.1,1101 L858.6,1101.2 L859.1,1101.5 L859.6,1101.8 L860.1,1102 L860.6,1102.3 L861.1,1102.3 L861.6,1102.4 L862.1,1102.5 L862.6,1102.5 L863.1,1102.6 L863.6,1102.6 L864.1,1102.6 L864.6,1102.7 L865.1,1102.7 L865.6,1102.8 L866.1,1102.9 L866.6,1102.9 L867.1,1103 L867.6,1103 L868.1,1103 L868.6,1103.1 L869.1,1103.2 L869.6,1103.4 L870.1,1103.6 L870.6,1103.7 L871.1,1103.9 L871.6,1104 L872.1,1104.2 L872.6,1104.3 L873.1,1104.3 L873.6,1104.3 L874.1,1104.3 L874.6,1104.3 L875.1,1104.2 L875.6,1104.2 L876.1,1104.2 L876.6,1104.2 L877.1,1104.2 L877.6,1104.2 L878.1,1104.2 L878.6,1104.3 L879.1,1104.3 L879.6,1104.3 L880.1,1103.6 L880.6,1102.5 L881.1,1102.7 L881.6,1103.8 L882.1,1104.3 L882.6,1104.3 L883.1,1104.3 L883.6,1104.3 L884.1,1104.3 L884.6,1104.2 L885.1,1104.4 L885.6,1104.6 L886.1,1104.7 L886.6,1104.9 L887.1,1105 L887.6,1105.2 L888.1,1105.3 L888.6,1106.3 L889.1,1108 L889.6,1107.9 L890.1,1106.2 L890.6,1105.2 L891.1,1105.1 L891.6,1105.1 L892.1,1104.5 L892.6,1103.2 L893.1,1102.8 L893.6,1104.1 L894.1,1105 L894.6,1105.1 L895.1,1105.1 L895.6,1103.6 L896.1,1102.2 L896.6,1103.8 L897.1,1105.2 L897.6,1105.2 L898.1,1105.2 L898.6,1105.2 L899.1,1105.2 L899.6,1105.1 L900.1,1105.1 L900.6,1105.1 L901.1,1105.2 L901.6,1105.2 L902.1,1105.3 L902.6,1105.4 L903.1,1105.4 L903.6,1105.5 L904.1,1105.6 L904.6,1105.6 L905.1,1105.5 L905.6,1105.4 L906.1,1105.2 L906.6,1105.1 L907.1,1104.9 L907.6,1104.8 L908.1,1104.7 L908.6,1104.5 L909.1,1104.6 L909.6,1104.7 L910.1,1104.8 L910.6,1104.9 L911.1,1105 L911.6,1105.1 L912.1,1105.2 L912.6,1105.3 L913.1,1105.3 L913.6,1105.4 L914.1,1105.4 L914.6,1105.4 L915.1,1105.4 L915.6,1105.5 L916.1,1105.5 L916.6,1105.5 L917.1,1105.4 L917.6,1105.3" stroke="#e0141a" stroke-width="1.7" fill="none" stroke-linejoin="round" stroke-linecap="round" />
<path d="M783.2,1093.8 L783.7,1093.7 L784.2,1093.7 L784.7,1093.7 L785.2,1093.7 L785.7,1093.6 L786.2,1093.6 L786.7,1093.6 L787.2,1093.6 L787.7,1093.5 L788.2,1093.5 L788.7,1093.4 L789.2,1093.4 L789.7,1093.3 L790.2,1093.3 L790.7,1093.2 L791.2,1093.2 L791.7,1093.2 L792.2,1093.1 L792.7,1093.1 L793.2,1093 L793.7,1093 L794.2,1092.9 L794.7,1092.9 L795.2,1092.9 L795.7,1092.9 L796.2,1093 L796.7,1093.1 L797.2,1093.2 L797.7,1093.3 L798.2,1093.3 L798.7,1093.4 L799.2,1093.5 L799.7,1093.5 L800.2,1093.6 L800.7,1093.6 L801.2,1093.7 L801.7,1093.7 L802.2,1093.8 L802.7,1093.8 L803.2,1093.9 L803.7,1093.8 L804.2,1093.7 L804.7,1093.6 L805.2,1093.5 L805.7,1093.4 L806.2,1093.2 L806.7,1093.1 L807.2,1093 L807.7,1093.1 L808.2,1093.1 L808.7,1093.1 L809.2,1093.2 L809.7,1093.2 L810.2,1093.1 L810.7,1093.1 L811.2,1093 L811.7,1092.7 L812.2,1092.3 L812.7,1091.9 L813.2,1091.4 L813.7,1090.8 L814.2,1090.1 L814.7,1089.4 L815.2,1088.5 L815.7,1087.6 L816.2,1086.6 L816.7,1085.3 L817.2,1083.8 L817.7,1082.1 L818.2,1080.1 L818.7,1077.8 L819.2,1075.2 L819.7,1072.3 L820.2,1069 L820.7,1065.3 L821.2,1061.4 L821.7,1057.2 L822.2,1052.7 L822.7,1047.9 L823.2,1042.9 L823.7,1037.8 L824.2,1032.5 L824.7,1027.2 L825.2,1021.9 L825.7,1016.8 L826.2,1011.8 L826.7,1007.1 L827.2,1002.7 L827.7,998.8 L828.2,995.4 L828.7,992.6 L829.2,990.4 L829.7,988.9 L830.2,988.1 L830.7,988.4 L831.2,989.7 L831.7,991.5 L832.2,993.8 L832.7,996.5 L833.2,999.6 L833.7,1003.1 L834.2,1006.9 L834.7,1010.9 L835.2,1015.2 L835.7,1019.6 L836.2,1024.1 L836.7,1028.7 L837.2,1033.2 L837.7,1037.7 L838.2,1042.1 L838.7,1046.3 L839.2,1050.4 L839.7,1054.2 L840.2,1057.9 L840.7,1061.3 L841.2,1064.5 L841.7,1067.4 L842.2,1070.1 L842.7,1072.6 L843.2,1074.8 L843.7,1076.7 L844.2,1078.4 L844.7,1079.9 L845.2,1081.2 L845.7,1082.4 L846.2,1083.3 L846.7,1084.2 L847.2,1084.9 L847.7,1085.6 L848.2,1086.1 L848.7,1086.6 L849.2,1087 L849.7,1087.4 L850.2,1087.7 L850.7,1088 L851.2,1088.2 L851.7,1088.5 L852.2,1088.7 L852.7,1089 L853.2,1089.2 L853.7,1089.4 L854.2,1089.6 L854.7,1089.8 L855.2,1090 L855.7,1090.1 L856.2,1090.3 L856.7,1090.4 L857.2,1090.5 L857.7,1090.7 L858.2,1090.8 L858.7,1090.9 L859.2,1091 L859.7,1091.1 L860.2,1091.2 L860.7,1091.3 L861.2,1091.3 L861.7,1091.4 L862.2,1091.4 L862.7,1091.5 L863.2,1091.6 L863.7,1091.5 L864.2,1091.4 L864.7,1091.4 L865.2,1091.3 L865.7,1091.2 L866.2,1091.1 L866.7,1091.1 L867.2,1091 L867.7,1091.1 L868.2,1091.1 L868.7,1091.2 L869.2,1091.3 L869.7,1091.3 L870.2,1091.4 L870.7,1091.5 L871.2,1091.5 L871.7,1091.5 L872.2,1091.6 L872.7,1091.6 L873.2,1091.6 L873.7,1091.6 L874.2,1091.7 L874.7,1091.7 L875.2,1091.7 L875.7,1091.7 L876.2,1091.8 L876.7,1091.8 L877.2,1091.9 L877.7,1091.9 L878.2,1092 L878.7,1092 L879.2,1092.1 L879.7,1092.2 L880.2,1092.2 L880.7,1092.3 L881.2,1092.4 L881.7,1092.5 L882.2,1092.6 L882.7,1092.6 L883.2,1092.7 L883.7,1092.6 L884.2,1092.5 L884.7,1092.4 L885.2,1092.3 L885.7,1091.8 L886.2,1091.6 L886.7,1092.4 L887.2,1092.3 L887.7,1091.9 L888.2,1091.8 L888.7,1091.8 L889.2,1091.8 L889.7,1091.7 L890.2,1091.7 L890.7,1091.7 L891.2,1091.6 L891.7,1091.8 L892.2,1091.9 L892.7,1092.1 L893.2,1092.2 L893.7,1092.4 L894.2,1092.5 L894.7,1092.7 L895.2,1092.8 L895.7,1092.8 L896.2,1092.8 L896.7,1092.8 L897.2,1092.8 L897.7,1093 L898.2,1092.8 L898.7,1092.2 L899.2,1092.3 L899.7,1092.7 L900.2,1092.7 L900.7,1092.7 L901.2,1092.7 L901.7,1092.7 L902.2,1092.6 L902.7,1092.6 L903.2,1092.6 L903.7,1092.5 L904.2,1092.3 L904.7,1092.2 L905.2,1092.1 L905.7,1091.9 L906.2,1091.8 L906.7,1091.7 L907.2,1091.6 L907.7,1091.6 L908.2,1091.6 L908.7,1091.7 L909.2,1091.7 L909.7,1091.7 L910.2,1091.8 L910.7,1091.8 L911.2,1091.8 L911.7,1091.8 L912.2,1091.8 L912.7,1091.8 L913.2,1091.8 L913.7,1091.7 L914.2,1091.7 L914.7,1091.7 L915.2,1091.7 L915.7,1091.8 L916.2,1091.9 L916.7,1092.1 L917.2,1092.2 L917.7,1092.3 L918.2,1092.4 L918.7,1092.6 L919.2,1092.7 L919.7,1092.5 L920.2,1092.4 L920.7,1092.3" stroke="#000" stroke-width="1.9" fill="none" stroke-linejoin="round" stroke-linecap="round" />
<path d="M786.6,1077.2 L787.1,1077.2 L787.6,1077.3 L788.1,1077.3 L788.6,1077.4 L789.1,1077.4 L789.6,1077.5 L790.1,1077.5 L790.6,1077.6 L791.1,1077.5 L791.6,1077.5 L792.1,1077.4 L792.6,1077.4 L793.1,1077.3 L793.6,1077.3 L794.1,1077.2 L794.6,1077.2 L795.1,1077.2 L795.6,1077.3 L796.1,1077.3 L796.6,1077.4 L797.1,1077.4 L797.6,1077.5 L798.1,1077.6 L798.6,1077.6 L799.1,1077.7 L799.6,1077.8 L800.1,1077.9 L800.6,1078 L801.1,1078 L801.6,1078.1 L802.1,1078.2 L802.6,1078.3 L803.1,1078.3 L803.6,1078.3 L804.1,1078.3 L804.6,1078.3 L805.1,1078.3 L805.6,1078.3 L806.1,1078.3 L806.6,1078.3 L807.1,1078.2 L807.6,1078.2 L808.1,1078.1 L808.6,1078.1 L809.1,1078 L809.6,1078 L810.1,1077.9 L810.6,1077.9 L811.1,1077.9 L811.6,1077.9 L812.1,1077.8 L812.6,1077.8 L813.1,1077.7 L813.6,1077.6 L814.1,1077.4 L814.6,1077.2 L815.1,1076.8 L815.6,1076.4 L816.1,1075.8 L816.6,1075.1 L817.1,1074.3 L817.6,1073.3 L818.1,1072.1 L818.6,1070.7 L819.1,1069.2 L819.6,1067.4 L820.1,1065.3 L820.6,1062.9 L821.1,1060.1 L821.6,1056.9 L822.1,1053.3 L822.6,1049.3 L823.1,1044.8 L823.6,1040 L824.1,1034.8 L824.6,1029.2 L825.1,1023.4 L825.6,1017.2 L826.1,1010.9 L826.6,1004.4 L827.1,997.8 L827.6,991.2 L828.1,984.8 L828.6,978.5 L829.1,972.6 L829.6,967.1 L830.1,962.2 L830.6,957.8 L831.1,954.2 L831.6,951.3 L832.1,949.3 L832.6,948.1 L833.1,948 L833.6,949.5 L834.1,951.7 L834.6,954.4 L835.1,957.6 L835.6,961.4 L836.1,965.6 L836.6,970.3 L837.1,975.3 L837.6,980.5 L838.1,986 L838.6,991.6 L839.1,997.3 L839.6,1002.9 L840.1,1008.5 L840.6,1014 L841.1,1019.3 L841.6,1024.4 L842.1,1029.3 L842.6,1033.9 L843.1,1038.2 L843.6,1042.2 L844.1,1045.8 L844.6,1049.2 L845.1,1052.2 L845.6,1055 L846.1,1057.4 L846.6,1059.6 L847.1,1061.6 L847.6,1063.4 L848.1,1065 L848.6,1066.4 L849.1,1067.6 L849.6,1068.7 L850.1,1069.6 L850.6,1070.5 L851.1,1071.1 L851.6,1071.6 L852.1,1072.1 L852.6,1072.4 L853.1,1072.7 L853.6,1073 L854.1,1073.2 L854.6,1073.4 L855.1,1073.7 L855.6,1074 L856.1,1074.2 L856.6,1074.4 L857.1,1074.6 L857.6,1074.8 L858.1,1074.9 L858.6,1075.1 L859.1,1075.2 L859.6,1075.3 L860.1,1075.5 L860.6,1075.6 L861.1,1075.7 L861.6,1075.8 L862.1,1075.9 L862.6,1076 L863.1,1076.1 L863.6,1076.1 L864.1,1076.2 L864.6,1076.3 L865.1,1076.4 L865.6,1076.5 L866.1,1076.6 L866.6,1076.7 L867.1,1076.7 L867.6,1076.8 L868.1,1076.8 L868.6,1076.9 L869.1,1076.9 L869.6,1076.9 L870.1,1077 L870.6,1077 L871.1,1077.2 L871.6,1077.3 L872.1,1077.5 L872.6,1077.6 L873.1,1077.7 L873.6,1077.9 L874.1,1078 L874.6,1078.2 L875.1,1078.2 L875.6,1078.2 L876.1,1078.2 L876.6,1078.2 L877.1,1078.3 L877.6,1078.3 L878.1,1078.3 L878.6,1078.3 L879.1,1078.2 L879.6,1078.1 L880.1,1078.1 L880.6,1078 L881.1,1077.9 L881.6,1077.8 L882.1,1077.7 L882.6,1077.6 L883.1,1077.8 L883.6,1077.9 L884.1,1078 L884.6,1078.1 L885.1,1078.2 L885.6,1078.3 L886.1,1078.4 L886.6,1078.5 L887.1,1078.5 L887.6,1078.4 L888.1,1078.3 L888.6,1078.3 L889.1,1078.2 L889.6,1078.1 L890.1,1078.1 L890.6,1078 L891.1,1078.1 L891.6,1078.6 L892.1,1080.4 L892.6,1082.1 L893.1,1081.6 L893.6,1080 L894.1,1079 L894.6,1078.9 L895.1,1078.8 L895.6,1079 L896.1,1080.1 L896.6,1080.9 L897.1,1079.7 L897.6,1078.7 L898.1,1078.7 L898.6,1078.6 L899.1,1078.7 L899.6,1078.7 L900.1,1077.9 L900.6,1076.8 L901.1,1077.4 L901.6,1078.5 L902.1,1078.8 L902.6,1078.9 L903.1,1078.9 L903.6,1079 L904.1,1079 L904.6,1079.1 L905.1,1079.1 L905.6,1079.2 L906.1,1079.2 L906.6,1079.2 L907.1,1079.3 L907.6,1079.3 L908.1,1079.3 L908.6,1079.3 L909.1,1079.3 L909.6,1079.3 L910.1,1079.3 L910.6,1079.3 L911.1,1079.3 L911.6,1079.3 L912.1,1079.3 L912.6,1079.3 L913.1,1079.3 L913.6,1079.3 L914.1,1079.2 L914.6,1079.2 L915.1,1079.2 L915.6,1079.1 L916.1,1079.1 L916.6,1079 L917.1,1078.9 L917.6,1078.9 L918.1,1078.8 L918.6,1078.7 L919.1,1078.7 L919.6,1078.7 L920.1,1078.7 L920.6,1078.6 L921.1,1078.6 L921.6,1078.6 L922.1,1078.5 L922.6,1078.5 L923.1,1078.6 L923.6,1078.7 L924.1,1078.8" stroke="#000" stroke-width="1.9" fill="none" stroke-linejoin="round" stroke-linecap="round" />
<path d="M789.7,1066 L790.2,1066 L790.7,1066 L791.2,1066 L791.7,1066 L792.2,1066.1 L792.7,1066.1 L793.2,1066.1 L793.7,1066.1 L794.2,1066.2 L794.7,1066.3 L795.2,1066.4 L795.7,1066.4 L796.2,1066.5 L796.7,1066.6 L797.2,1066.7 L797.7,1066.8 L798.2,1066.7 L798.7,1066.5 L799.2,1066.4 L799.7,1066.3 L800.2,1066.2 L800.7,1066.1 L801.2,1066 L801.7,1065.9 L802.2,1066 L802.7,1066.1 L803.2,1066.3 L803.7,1066.4 L804.2,1066.5 L804.7,1066.6 L805.2,1066.7 L805.7,1066.8 L806.2,1066.7 L806.7,1066.6 L807.2,1066.5 L807.7,1066.4 L808.2,1066.3 L808.7,1066.2 L809.2,1066 L809.7,1065.9 L810.2,1065.9 L810.7,1065.8 L811.2,1065.8 L811.7,1065.7 L812.2,1065.6 L812.7,1065.6 L813.2,1065.5 L813.7,1065.4 L814.2,1065.5 L814.7,1065.5 L815.2,1065.5 L815.7,1065.5 L816.2,1065.5 L816.7,1065.4 L817.2,1065.4 L817.7,1065.2 L818.2,1065 L818.7,1064.6 L819.2,1064.2 L819.7,1063.7 L820.2,1063 L820.7,1062.3 L821.2,1061.4 L821.7,1060.4 L822.2,1059.2 L822.7,1057.8 L823.2,1056.1 L823.7,1054.2 L824.2,1052 L824.7,1049.5 L825.2,1046.7 L825.7,1043.6 L826.2,1040.2 L826.7,1036.3 L827.2,1032.2 L827.7,1027.7 L828.2,1022.8 L828.7,1017.6 L829.2,1012.2 L829.7,1006.6 L830.2,1000.8 L830.7,995 L831.2,989.2 L831.7,983.5 L832.2,978 L832.7,972.8 L833.2,968 L833.7,963.6 L834.2,959.7 L834.7,956.5 L835.2,954 L835.7,952.2 L836.2,951.2 L836.7,951.1 L837.2,952.4 L837.7,954.3 L838.2,956.7 L838.7,959.6 L839.2,962.9 L839.7,966.6 L840.2,970.7 L840.7,975.1 L841.2,979.7 L841.7,984.5 L842.2,989.4 L842.7,994.4 L843.2,999.4 L843.7,1004.3 L844.2,1009.1 L844.7,1013.8 L845.2,1018.3 L845.7,1022.6 L846.2,1026.6 L846.7,1030.4 L847.2,1033.9 L847.7,1037.1 L848.2,1040.1 L848.7,1042.8 L849.2,1045.3 L849.7,1047.5 L850.2,1049.4 L850.7,1051.1 L851.2,1052.6 L851.7,1053.9 L852.2,1055 L852.7,1056 L853.2,1056.8 L853.7,1057.5 L854.2,1058.2 L854.7,1058.7 L855.2,1059.2 L855.7,1059.6 L856.2,1059.9 L856.7,1060.2 L857.2,1060.5 L857.7,1060.7 L858.2,1061 L858.7,1061.2 L859.2,1061.5 L859.7,1061.7 L860.2,1061.9 L860.7,1062.1 L861.2,1062.3 L861.7,1062.5 L862.2,1062.6 L862.7,1062.8 L863.2,1062.9 L863.7,1063 L864.2,1063.2 L864.7,1063.3 L865.2,1063.4 L865.7,1063.6 L866.2,1063.6 L866.7,1063.6 L867.2,1063.7 L867.7,1063.7 L868.2,1063.7 L868.7,1063.8 L869.2,1063.8 L869.7,1063.8 L870.2,1063.9 L870.7,1063.9 L871.2,1064 L871.7,1064.1 L872.2,1064.2 L872.7,1064.2 L873.2,1064.3 L873.7,1064.4 L874.2,1064.3 L874.7,1064.2 L875.2,1064.2 L875.7,1064.1 L876.2,1064.1 L876.7,1064 L877.2,1063.9 L877.7,1063.9 L878.2,1063.9 L878.7,1063.9 L879.2,1063.9 L879.7,1064 L880.2,1064 L880.7,1064 L881.2,1064 L881.7,1064 L882.2,1064 L882.7,1064.1 L883.2,1064.1 L883.7,1064.1 L884.2,1064.1 L884.7,1064.1 L885.2,1064.1 L885.7,1064.1 L886.2,1064.2 L886.7,1064.2 L887.2,1064.3 L887.7,1064.4 L888.2,1064.4 L888.7,1064.5 L889.2,1064.6 L889.7,1064.6 L890.2,1064.7 L890.7,1064.6 L891.2,1063.2 L891.7,1062 L892.2,1063.6 L892.7,1065 L893.2,1065.1 L893.7,1065.2 L894.2,1064 L894.7,1062.1 L895.2,1062.4 L895.7,1064.2 L896.2,1066 L896.7,1067.6 L897.2,1066.8 L897.7,1065.6 L898.2,1067.4 L898.7,1068.5 L899.2,1066.3 L899.7,1064.8 L900.2,1064.9 L900.7,1064.9 L901.2,1065 L901.7,1065.1 L902.2,1064.9 L902.7,1064.8 L903.2,1064.7 L903.7,1064.6 L904.2,1064.4 L904.7,1064.3 L905.2,1064.2 L905.7,1064 L906.2,1064.1 L906.7,1064.1 L907.2,1064.1 L907.7,1064.1 L908.2,1064.1 L908.7,1064.1 L909.2,1064.1 L909.7,1064.2 L910.2,1064.2 L910.7,1064.3 L911.2,1064.4 L911.7,1064.4 L912.2,1064.5 L912.7,1064.6 L913.2,1064.7 L913.7,1064.7 L914.2,1064.7 L914.7,1064.8 L915.2,1064.8 L915.7,1064.8 L916.2,1064.8 L916.7,1064.8 L917.2,1064.8 L917.7,1064.8 L918.2,1064.8 L918.7,1064.8 L919.2,1064.8 L919.7,1064.8 L920.2,1064.8 L920.7,1064.8 L921.2,1064.8 L921.7,1064.8 L922.2,1064.7 L922.7,1064.5 L923.2,1064.4 L923.7,1064.3 L924.2,1064.2 L924.7,1064.1 L925.2,1063.9 L925.7,1063.8 L926.2,1063.9 L926.7,1063.9 L927.2,1064" stroke="#000" stroke-width="1.9" fill="none" stroke-linejoin="round" stroke-linecap="round" />
<text x="940.6" y="1066.1" font-size="15.6" text-anchor="middle" font-weight="normal" font-style="normal" fill="#000" >A</text>
<text x="937.9" y="1080.4" font-size="15.6" text-anchor="middle" font-weight="normal" font-style="normal" fill="#000" >B</text>
<text x="934.3" y="1095.5" font-size="15.6" text-anchor="middle" font-weight="normal" font-style="normal" fill="#000" >C</text>
<text x="930.9" y="1110.3" font-size="15.6" text-anchor="middle" font-weight="normal" font-style="normal" fill="#e0141a" >D</text>
<text x="927.5" y="1124.6" font-size="15.6" text-anchor="middle" font-weight="normal" font-style="normal" fill="#000" >E</text>
<text x="924" y="1137.6" font-size="15.6" text-anchor="middle" font-weight="normal" font-style="normal" fill="#000" >F</text>
<text x="921" y="1151.1" font-size="15.6" text-anchor="middle" font-weight="normal" font-style="normal" fill="#000" >G</text>
<text x="918.7" y="1164.1" font-size="15.6" text-anchor="middle" font-weight="normal" font-style="normal" fill="#000" >H</text>
<text x="913.6" y="1177.9" font-size="15.6" text-anchor="middle" font-weight="normal" font-style="normal" fill="#000" >I</text>
<text x="910.6" y="1189.6" font-size="15.6" text-anchor="middle" font-weight="normal" font-style="normal" fill="#000" >J</text>
<text x="907.4" y="1205.2" font-size="15.6" text-anchor="middle" font-weight="normal" font-style="normal" fill="#000" >K</text>
<text x="2.2" y="1302.6" font-size="41.5" text-anchor="start" font-weight="bold" font-style="normal" fill="#000" >d</text>
<defs><filter id="blur1" x="-50%" y="-50%" width="200%" height="200%"><feGaussianBlur stdDeviation="2.2"/></filter><filter id="blur2" x="-50%" y="-50%" width="200%" height="200%"><feGaussianBlur stdDeviation="3.5"/></filter><filter id="blur05" x="-50%" y="-50%" width="200%" height="200%"><feGaussianBlur stdDeviation="0.7"/></filter><filter id="blur08" x="-50%" y="-50%" width="200%" height="200%"><feGaussianBlur stdDeviation="1.0"/></filter><filter id="blurU3" filterUnits="userSpaceOnUse" x="40" y="1270" width="660" height="280"><feGaussianBlur stdDeviation="4"/></filter><filter id="blurU1" filterUnits="userSpaceOnUse" x="40" y="1270" width="660" height="280"><feGaussianBlur stdDeviation="1.1"/></filter><filter id="grain" filterUnits="userSpaceOnUse" x="56" y="1277" width="619" height="266"><feTurbulence type="fractalNoise" baseFrequency="0.55" numOctaves="2" seed="5" result="t"/><feColorMatrix in="t" type="matrix" values="0 0 0 0 0  0 0 0 0 0  0 0 0 0 0  1.2 0 0 0 -0.45"/></filter><filter id="grainw" filterUnits="userSpaceOnUse" x="56" y="1277" width="619" height="266"><feTurbulence type="fractalNoise" baseFrequency="0.5" numOctaves="2" seed="11" result="t"/><feColorMatrix in="t" type="matrix" values="0 0 0 0 1  0 0 0 0 1  0 0 0 0 1  1.2 0 0 0 -0.45"/></filter><linearGradient id="smg" x1="0" y1="0" x2="0" y2="1"><stop offset="0" stop-color="#222" stop-opacity="0"/><stop offset="0.6" stop-color="#222" stop-opacity="0.45"/><stop offset="1" stop-color="#111" stop-opacity="0.9"/></linearGradient><linearGradient id="stg" x1="0" y1="0" x2="0" y2="1"><stop offset="0" stop-color="#222" stop-opacity="0"/><stop offset="1" stop-color="#111" stop-opacity="0.85"/></linearGradient></defs>
<rect x="56.4" y="1277.3" width="618" height="265" fill="#ababab"/>
<rect x="56.4" y="1277.3" width="618" height="265" filter="url(#grain)" opacity="0.17"/>
<rect x="56.4" y="1277.3" width="618" height="265" filter="url(#grainw)" opacity="0.2"/>
<ellipse cx="516" cy="1306" rx="10" ry="4" fill="#888" opacity="0.5" filter="url(#blur2)"/>
<g filter="url(#blurU3)">
<rect x="87.8" y="1452" width="44.7" height="20" fill="#909090" opacity="0.5"/>
<rect x="139.8" y="1452" width="49.7" height="20" fill="#909090" opacity="0.5"/>
<rect x="199.6" y="1452" width="46.4" height="20" fill="#909090" opacity="0.5"/>
<rect x="252.8" y="1452" width="47.2" height="20" fill="#909090" opacity="0.5"/>
<rect x="310" y="1452" width="48.8" height="20" fill="#909090" opacity="0.5"/>
<rect x="367.7" y="1452" width="48.8" height="20" fill="#909090" opacity="0.5"/>
<rect x="424" y="1452" width="49.9" height="20" fill="#909090" opacity="0.5"/>
<rect x="481.5" y="1452" width="47" height="20" fill="#909090" opacity="0.5"/>
<rect x="535.4" y="1452" width="49.2" height="20" fill="#909090" opacity="0.5"/>
<rect x="593" y="1452" width="47" height="20" fill="#909090" opacity="0.5"/>
</g>
<ellipse cx="334" cy="1352" rx="27" ry="4.2" fill="#111" filter="url(#blur1)"/>
<ellipse cx="390" cy="1344" rx="27" ry="4.0" fill="#111" filter="url(#blur1)"/>
<g filter="url(#blurU1)">
<rect x="90.8" y="1491" width="38.7" height="12" fill="url(#smg)" opacity="0.7"/>
<rect x="103.2" y="1493.9" width="2.3" height="8.1" fill="url(#stg)" opacity="0.6"/>
<rect x="95.2" y="1488.6" width="1.9" height="13.4" fill="url(#stg)" opacity="0.6"/>
<rect x="95" y="1488.9" width="1.5" height="13.1" fill="url(#stg)" opacity="0.6"/>
<rect x="107.2" y="1495" width="1.5" height="7" fill="url(#stg)" opacity="0.6"/>
<rect x="106.9" y="1484.5" width="1.6" height="17.5" fill="url(#stg)" opacity="0.6"/>
<rect x="142.8" y="1491" width="43.7" height="12" fill="url(#smg)" opacity="0.6"/>
<rect x="152.9" y="1489.3" width="2.7" height="12.7" fill="url(#stg)" opacity="0.6"/>
<rect x="166.2" y="1491.8" width="2.8" height="10.2" fill="url(#stg)" opacity="0.6"/>
<rect x="146.7" y="1486.9" width="1.8" height="15.1" fill="url(#stg)" opacity="0.6"/>
<rect x="150.3" y="1494.8" width="1.8" height="7.2" fill="url(#stg)" opacity="0.6"/>
<rect x="202.6" y="1491" width="40.4" height="12" fill="url(#smg)" opacity="0.9"/>
<rect x="232.6" y="1491.7" width="2.2" height="10.3" fill="url(#stg)" opacity="0.8"/>
<rect x="226.5" y="1487.1" width="2.2" height="14.9" fill="url(#stg)" opacity="0.8"/>
<rect x="206.9" y="1494.6" width="1.7" height="7.4" fill="url(#stg)" opacity="0.8"/>
<rect x="228.1" y="1485.8" width="1.8" height="16.2" fill="url(#stg)" opacity="0.8"/>
<rect x="224.8" y="1485.2" width="1.8" height="16.8" fill="url(#stg)" opacity="0.8"/>
<rect x="232.1" y="1479.4" width="1.7" height="22.6" fill="url(#stg)" opacity="0.8"/>
<rect x="224" y="1483.5" width="2.6" height="18.5" fill="url(#stg)" opacity="0.8"/>
<rect x="255.8" y="1491" width="41.2" height="12" fill="url(#smg)" opacity="0.9"/>
<rect x="283.1" y="1488.5" width="2.8" height="13.5" fill="url(#stg)" opacity="0.9"/>
<rect x="261.7" y="1485.1" width="2.5" height="16.9" fill="url(#stg)" opacity="0.9"/>
<rect x="263.4" y="1483.3" width="1.5" height="18.7" fill="url(#stg)" opacity="0.9"/>
<rect x="281.2" y="1476.1" width="2.2" height="25.9" fill="url(#stg)" opacity="0.9"/>
<rect x="288.4" y="1487.8" width="2.4" height="14.2" fill="url(#stg)" opacity="0.9"/>
<rect x="278.7" y="1480.9" width="2" height="21.1" fill="url(#stg)" opacity="0.9"/>
<rect x="287.3" y="1471.4" width="2.1" height="30.6" fill="url(#stg)" opacity="0.9"/>
<rect x="281" y="1494.4" width="2.4" height="7.6" fill="url(#stg)" opacity="0.9"/>
<rect x="313" y="1491" width="42.8" height="12" fill="url(#smg)" opacity="0.7"/>
<rect x="338.5" y="1480" width="2.6" height="22" fill="url(#stg)" opacity="0.7"/>
<rect x="325.3" y="1489.8" width="2.3" height="12.2" fill="url(#stg)" opacity="0.7"/>
<rect x="316" y="1488.6" width="1.6" height="13.4" fill="url(#stg)" opacity="0.7"/>
<rect x="319.1" y="1495.1" width="2.5" height="6.9" fill="url(#stg)" opacity="0.7"/>
<rect x="319.8" y="1492" width="1.9" height="10" fill="url(#stg)" opacity="0.7"/>
<rect x="370.7" y="1491" width="42.8" height="12" fill="url(#smg)" opacity="0.8"/>
<rect x="404.8" y="1494.6" width="2" height="7.4" fill="url(#stg)" opacity="0.7"/>
<rect x="392.6" y="1480.8" width="2.5" height="21.2" fill="url(#stg)" opacity="0.7"/>
<rect x="404.5" y="1491.2" width="2" height="10.8" fill="url(#stg)" opacity="0.7"/>
<rect x="385.5" y="1480.8" width="2.7" height="21.2" fill="url(#stg)" opacity="0.7"/>
<rect x="378.4" y="1493" width="1.7" height="9" fill="url(#stg)" opacity="0.7"/>
<rect x="381.2" y="1487.7" width="2.2" height="14.3" fill="url(#stg)" opacity="0.7"/>
<rect x="427" y="1491" width="43.9" height="12" fill="url(#smg)" opacity="0.8"/>
<rect x="439" y="1495.9" width="2" height="6.1" fill="url(#stg)" opacity="0.7"/>
<rect x="442.6" y="1485.6" width="2.7" height="16.4" fill="url(#stg)" opacity="0.7"/>
<rect x="455" y="1486.6" width="2.3" height="15.4" fill="url(#stg)" opacity="0.7"/>
<rect x="454.3" y="1495" width="2.7" height="7" fill="url(#stg)" opacity="0.7"/>
<rect x="458.3" y="1480" width="2.5" height="22" fill="url(#stg)" opacity="0.7"/>
<rect x="444.1" y="1488.7" width="1.5" height="13.3" fill="url(#stg)" opacity="0.7"/>
<rect x="484.5" y="1491" width="41" height="12" fill="url(#smg)" opacity="0.8"/>
<rect x="509" y="1494.9" width="1.5" height="7.1" fill="url(#stg)" opacity="0.7"/>
<rect x="493.9" y="1493.2" width="1.9" height="8.8" fill="url(#stg)" opacity="0.7"/>
<rect x="488.5" y="1496" width="1.6" height="6" fill="url(#stg)" opacity="0.7"/>
<rect x="490.3" y="1489.7" width="1.4" height="12.3" fill="url(#stg)" opacity="0.7"/>
<rect x="517.3" y="1485.4" width="1.6" height="16.6" fill="url(#stg)" opacity="0.7"/>
<rect x="495.4" y="1490" width="1.9" height="12" fill="url(#stg)" opacity="0.7"/>
<rect x="538.4" y="1491" width="43.2" height="12" fill="url(#smg)" opacity="0.6"/>
<rect x="544.6" y="1488.9" width="2.8" height="13.1" fill="url(#stg)" opacity="0.5"/>
<rect x="558" y="1491.9" width="1.5" height="10.1" fill="url(#stg)" opacity="0.5"/>
<rect x="544.3" y="1493.1" width="1.8" height="8.9" fill="url(#stg)" opacity="0.5"/>
<rect x="571.5" y="1494.6" width="1.4" height="7.4" fill="url(#stg)" opacity="0.5"/>
<rect x="596" y="1491" width="41" height="12" fill="url(#smg)" opacity="0.5"/>
<rect x="631.5" y="1492.1" width="1.6" height="9.9" fill="url(#stg)" opacity="0.5"/>
<rect x="616.9" y="1495.8" width="2.1" height="6.2" fill="url(#stg)" opacity="0.5"/>
<rect x="632.1" y="1489.7" width="2.4" height="12.3" fill="url(#stg)" opacity="0.5"/>
</g>
<ellipse cx="110.2" cy="1508.5" rx="24.4" ry="7.6" fill="#050505"/>
<ellipse cx="110.7" cy="1511.1" rx="19.4" ry="3.4" fill="#3a3a3a" filter="url(#blur05)"/>
<ellipse cx="164.7" cy="1508.5" rx="26.8" ry="7.6" fill="#050505"/>
<ellipse cx="165.2" cy="1511.1" rx="21.8" ry="3.4" fill="#303030" filter="url(#blur05)"/>
<ellipse cx="222.8" cy="1508.5" rx="25.2" ry="7.6" fill="#050505"/>
<ellipse cx="223.3" cy="1511.1" rx="20.2" ry="3.4" fill="#8a8a8a" filter="url(#blur05)"/>
<ellipse cx="276.4" cy="1508.5" rx="25.6" ry="7.6" fill="#050505"/>
<ellipse cx="276.9" cy="1511.1" rx="20.6" ry="3.4" fill="#888888" filter="url(#blur05)"/>
<ellipse cx="334.4" cy="1508.5" rx="26.4" ry="7.6" fill="#050505"/>
<ellipse cx="334.9" cy="1511.1" rx="21.4" ry="3.4" fill="#868686" filter="url(#blur05)"/>
<ellipse cx="392.1" cy="1508.5" rx="26.4" ry="7.6" fill="#050505"/>
<ellipse cx="392.6" cy="1511.1" rx="21.4" ry="3.4" fill="#868686" filter="url(#blur05)"/>
<ellipse cx="448.9" cy="1508.5" rx="26.9" ry="7.6" fill="#050505"/>
<ellipse cx="449.4" cy="1511.1" rx="21.9" ry="3.4" fill="#848484" filter="url(#blur05)"/>
<ellipse cx="505" cy="1508.5" rx="25.5" ry="7.6" fill="#050505"/>
<ellipse cx="505.5" cy="1511.1" rx="20.5" ry="3.4" fill="#808080" filter="url(#blur05)"/>
<ellipse cx="560" cy="1508.5" rx="26.6" ry="7.6" fill="#050505"/>
<ellipse cx="560.5" cy="1511.1" rx="21.6" ry="3.4" fill="#747474" filter="url(#blur05)"/>
<ellipse cx="616.5" cy="1508.5" rx="25.5" ry="7.6" fill="#050505"/>
<ellipse cx="617" cy="1511.1" rx="20.5" ry="3.4" fill="#707070" filter="url(#blur05)"/>
<text x="297.7" y="1342.3" font-size="15.6" text-anchor="middle" font-weight="normal" font-style="normal" fill="#000" >Linamarin</text>
<text x="430.6" y="1332" font-size="15.6" text-anchor="middle" font-weight="normal" font-style="normal" fill="#000" >Lotaustralin</text>
<text x="113.3" y="1528" font-size="15.6" text-anchor="middle" font-weight="normal" font-style="normal" fill="#000" >Ach</text>
<text x="170" y="1528" font-size="15.6" text-anchor="middle" font-weight="normal" font-style="normal" fill="#000" >Bch</text>
<text x="226.9" y="1528" font-size="15.6" text-anchor="middle" font-weight="normal" font-style="normal" fill="#000" >Ach</text>
<text x="281.3" y="1528" font-size="15.6" text-anchor="middle" font-weight="normal" font-style="normal" fill="#000" >Bch</text>
<text x="337.5" y="1528" font-size="15.6" text-anchor="middle" font-weight="normal" font-style="normal" fill="#000" >Ach</text>
<text x="395.5" y="1528" font-size="15.6" text-anchor="middle" font-weight="normal" font-style="normal" fill="#000" >Bch</text>
<text x="450.9" y="1528" font-size="15.6" text-anchor="middle" font-weight="normal" font-style="normal" fill="#000" >Ach</text>
<text x="507.2" y="1528" font-size="15.6" text-anchor="middle" font-weight="normal" font-style="normal" fill="#000" >Bch</text>
<text x="563" y="1528" font-size="15.6" text-anchor="middle" font-weight="normal" font-style="normal" fill="#000" >Ach</text>
<text x="619.4" y="1528" font-size="15.6" text-anchor="middle" font-weight="normal" font-style="normal" fill="#000" >Bch</text>
<text x="139" y="1540.5" font-size="15.6" text-anchor="middle" font-weight="normal" font-style="normal" fill="#000" >E. Vector</text>
<text x="253.5" y="1540.5" font-size="15.6" text-anchor="middle" font-weight="normal" font-style="normal" fill="#000" >UGT35E1</text>
<text x="368" y="1540.5" font-size="15.6" text-anchor="middle" font-weight="normal" font-style="normal" fill="#000" >UGT33A1</text>
<text x="473.8" y="1540.5" font-size="15.6" text-anchor="middle" font-weight="normal" font-style="normal" fill="#000" >UG38A1</text>
<text x="596.6" y="1540.5" font-size="15.6" text-anchor="middle" font-weight="normal" font-style="normal" fill="#000" >UGT33B1</text>
</svg>
</body></html>
